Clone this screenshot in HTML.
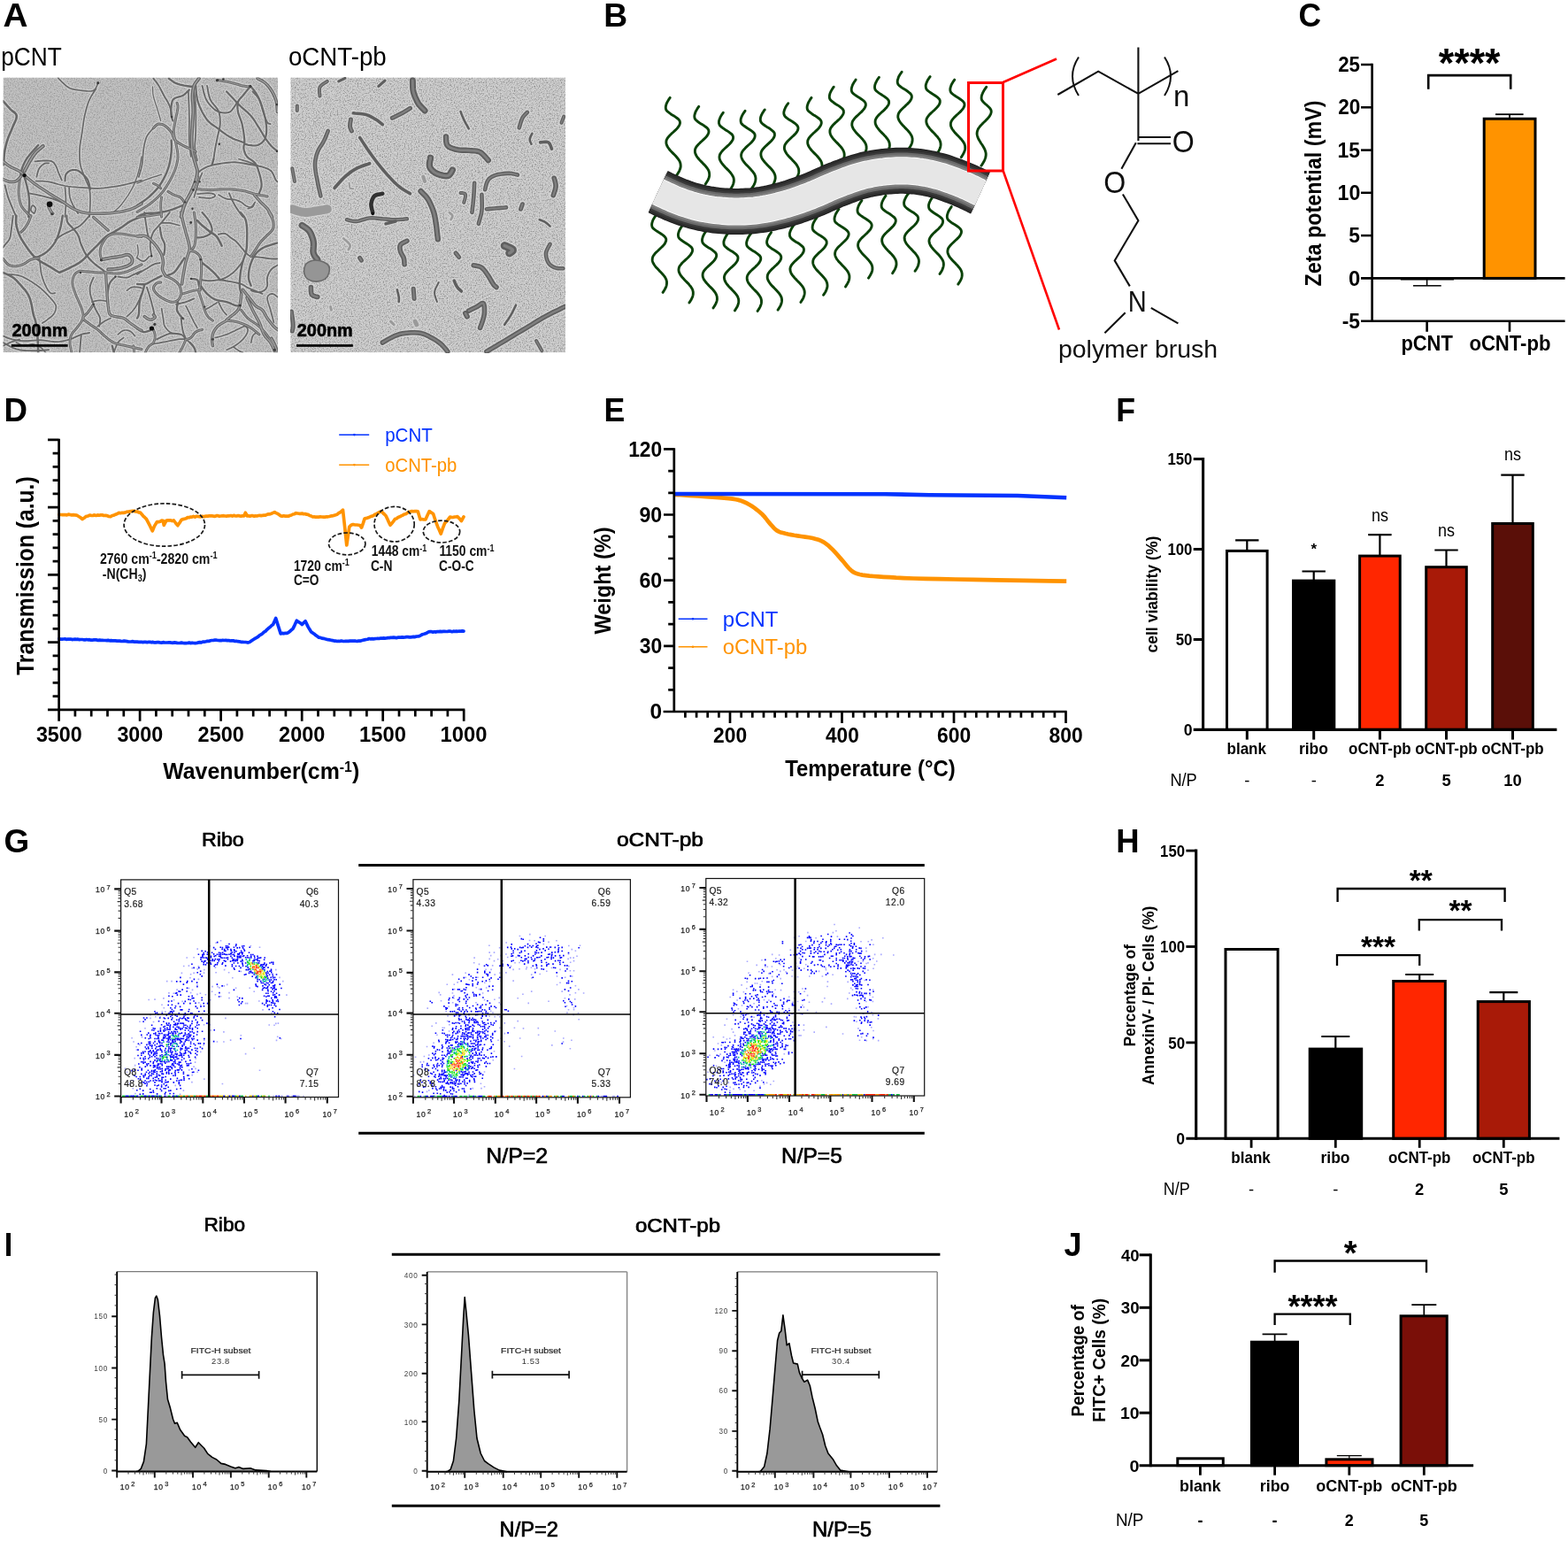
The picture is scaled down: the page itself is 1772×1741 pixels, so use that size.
<!DOCTYPE html>
<html lang="en">
<head>
<meta charset="utf-8">
<title>Figure: oCNT-pb characterization</title>
<style>
html,body{margin:0;padding:0;background:#fff;}
body{width:1772px;height:1741px;overflow:hidden;}
svg{display:block;font-family:"Liberation Sans",sans-serif;}
</style>
</head>
<body>
<svg width="1772" height="1741" viewBox="0 0 1772 1741">
<defs>
<clipPath id="cA1"><rect x="3.5" y="87.5" width="310.5" height="310.7"/></clipPath>
<clipPath id="cA2"><rect x="328.3" y="87.5" width="310.7" height="310.7"/></clipPath>
<filter id="nzw" x="0" y="0" width="100%" height="100%" color-interpolation-filters="sRGB"><feTurbulence type="fractalNoise" baseFrequency="0.75" numOctaves="2" seed="3"/><feColorMatrix type="matrix" values="0 0 0 0 1  0 0 0 0 1  0 0 0 0 1  0.7 0 0 0 -0.35"/><feGaussianBlur stdDeviation="0.7"/></filter>
<filter id="nzb" x="0" y="0" width="100%" height="100%" color-interpolation-filters="sRGB"><feTurbulence type="fractalNoise" baseFrequency="0.75" numOctaves="2" seed="3"/><feColorMatrix type="matrix" values="0 0 0 0 0  0 0 0 0 0  0 0 0 0 0  -0.6 0 0 0 0.3"/><feGaussianBlur stdDeviation="0.7"/></filter>
<filter id="nzw2" x="0" y="0" width="100%" height="100%" color-interpolation-filters="sRGB"><feTurbulence type="fractalNoise" baseFrequency="0.75" numOctaves="2" seed="9"/><feColorMatrix type="matrix" values="0 0 0 0 1  0 0 0 0 1  0 0 0 0 1  1.1 0 0 0 -0.55"/><feGaussianBlur stdDeviation="0.7"/></filter>
<filter id="nzb2" x="0" y="0" width="100%" height="100%" color-interpolation-filters="sRGB"><feTurbulence type="fractalNoise" baseFrequency="0.75" numOctaves="2" seed="9"/><feColorMatrix type="matrix" values="0 0 0 0 0  0 0 0 0 0  0 0 0 0 0  -0.9 0 0 0 0.45"/><feGaussianBlur stdDeviation="0.7"/></filter>
<filter id="bl" x="-5%" y="-5%" width="110%" height="110%"><feGaussianBlur stdDeviation="0.65"/></filter>
<filter id="bl2" x="-5%" y="-5%" width="110%" height="110%"><feGaussianBlur stdDeviation="0.7"/></filter>
</defs>
<rect width="1772" height="1741" fill="#fff"/>
<text x="3.5" y="29.9" font-size="37.8" font-weight="bold" textLength="28" lengthAdjust="spacingAndGlyphs">A</text>
<text x="1.2" y="74.3" font-size="29.6" textLength="68.6" lengthAdjust="spacingAndGlyphs">pCNT</text>
<text x="325.9" y="74.3" font-size="29.6" textLength="110.9" lengthAdjust="spacingAndGlyphs">oCNT-pb</text>
<g clip-path="url(#cA1)">
<rect x="3.5" y="87.5" width="310.5" height="310.7" fill="#bbb"/>
<rect x="3.5" y="87.5" width="310.5" height="310.7" fill="#fff" filter="url(#nzw)"/>
<rect x="3.5" y="87.5" width="310.5" height="310.7" fill="#000" filter="url(#nzb)"/>
<g fill="none" stroke-linecap="round" stroke-linejoin="round" filter="url(#bl)">
<g stroke="#e2e2e2" opacity="0.6">
<path d="M65.7,88.2L66.5,89L67.6,90.2L68.9,91.5L70.3,92.9L71.7,94.2L73,95.4L74.4,96.6L75.8,97.8L77.3,98.8L79,99.7L81,100.4L83.1,100.9L85.4,101.3L87.7,101.7L90.1,102L92.7,102.3L95.5,102.6L98.3,102.9L100.9,103L102.9,102.9L104.4,102.7L105.4,102.5L106.2,102L106.8,101.4L107.5,100.6L108.3,99.4L109.1,97.9L109.8,96.2L110.3,94.7L110.8,93.7" stroke-width="3.9"/>
<path d="M108.5,100.6L107.4,102.1L106,104.2L104.3,106.8L102.6,109.6L101.1,112.6L99.8,115.8L98.6,119.5L97.5,123.3L96.5,127.2L95.6,131L94.9,134.6L94.3,138.3L93.8,142L93.3,145.7L92.8,149.3L92.2,153L91.6,156.8L90.9,160.5L90.4,164.2L90.1,167.7L89.9,171.2L89.9,174.7L90,178.1L90.2,181.3L90.5,184.3L91,186.9L91.6,189.2L92.3,191.3L93,193.3L93.8,195.3L94.5,197.2L95.2,199.1L95.9,200.9L96.7,202.7L97.4,204.5L98.2,206.2L99,207.9L99.8,209.7L100.5,211.5L101.1,213.7L101.5,216.1L101.8,218.7L101.9,221.5L102,224.4L102,227.5L101.9,231L101.7,235.1L101.5,239.1L101.3,242.6L101.1,245" stroke-width="3.9"/>
<path d="M3.7,114.4L4.8,115.7L6.5,117.5L8.3,119.6L10.2,121.7L11.9,123.6L13.6,125.1L15.4,126.4L17,127.6L18.2,129.1L18.8,131L18.6,133.3L17.7,136L16.4,138.9L15,141.9L13.8,144.7L12.7,147.5L11.5,150.3L10.3,153L9.2,155.8L8.3,158.5L7.4,161.3L6.7,164L6.1,166.8L5.5,169.6L5.1,172.3L4.7,175.3L4.5,178.5L4.3,181.6L4.2,184.2L4.1,186.1" stroke-width="4.8"/>
<path d="M48.7,165L47.6,165.9L45.9,167.3L44,168.9L42.1,170.6L40.4,172.3L39,174L37.7,175.7L36.5,177.5L35.3,179.5L34,181.5L32.6,183.9L31.1,186.7L29.7,189.4L28.4,191.8L27.6,193.5" stroke-width="6.5"/>
<path d="M43.2,164L42,165.3L40.4,167.1L38.4,169.3L36.5,171.4L34.9,173.2L33.6,174.8L32.5,176.2L31.4,177.5L30.4,179L29.4,180.6L28.4,182.4L27.4,184.3L26.5,186.3L25.6,188.4L24.8,190.7L24.1,193.4L23.4,196.6L22.9,199.8L22.4,202.6L22.1,204.5" stroke-width="4.6"/>
<path d="M3.7,182.4L4.6,183.2L5.9,184.2L7.5,185.5L9.2,186.7L11,187.9L13.1,189.1L15.4,190.2L17.9,191.3L20.1,192.4L22.1,193.5L23.4,194.4L24.4,195.1L25.2,195.9L26.2,196.9L27.6,198.1L29.3,199.6L31.3,201.3L33.5,203.2L36,205.2L38.6,207.2L41.6,209.3L44.8,211.6L48.3,213.8L51.8,216.1L55.1,218.3L58.5,220.4L62,222.5L65.5,224.6L68.7,226.6L71.7,228.4L74.2,230.1L76.4,231.7L78.4,233.1L80.5,234.5L82.7,235.7L85.1,236.9L87.6,237.9L90.2,238.9L92.9,239.7L95.6,240.3L98.4,240.8L101.2,241.1L104.1,241.2L107.1,241.2L110.3,241.2L113.7,241.2L117.4,241.1L121.1,241L124.9,240.7L128.7,240.3L132.4,239.8L136.3,239.2L140.1,238.5L143.7,237.6L147.1,236.7L150.2,235.4L153.3,234L156,232.5L158.3,231.1L160,230.2" stroke-width="5.8"/>
<path d="M3.7,202.6L4.7,203.1L6.1,203.7L7.7,204.4L9.4,205L11,205.4L12.5,205.5L14.1,205.5L15.6,205.4L17,205L18.4,204.5L19.7,203.6L21,202.3L22.2,201L23.2,199.8L23.9,199" stroke-width="5.8"/>
<path d="M39.5,182.4L40.9,182.3L42.9,182L45.2,181.8L47.5,181.6L49.6,181.5L51.6,181.5L53.6,181.5L55.5,181.6L57.3,181.9L58.8,182.4L60.1,183.2L61.1,184.2L61.9,185.4L62.7,186.6L63.4,187.9L64.1,189.3L64.6,190.7L65.1,192.2L65.6,193.7L66.2,195.3L66.9,197L67.8,198.9L68.6,200.8L69.3,202.4L69.9,203.6" stroke-width="4"/>
<path d="M41.4,199.9L41.7,198.6L42.1,196.7L42.7,194.6L43.3,192.4L44.1,190.7L45,189.3L46.1,188L47.3,186.9L48.5,185.9L49.6,185.2L50.8,184.7L52.1,184.4L53.3,184.3L54.4,184.3L55.1,184.3" stroke-width="4"/>
<path d="M73.5,204.5L73.6,203.4L73.6,201.9L73.7,200.2L74,198.5L74.4,197.1L75.2,196L76.2,194.9L77.4,193.9L78.7,193.1L80,192.5L81.3,192.2L82.8,192L84.4,192L85.9,192.2L87.3,192.5L88.7,193.1L90,194L91.3,194.9L92.5,196L93.8,197.1L95,198.2L96.2,199.4L97.3,200.6L98.4,202L99.3,203.6L100,205.5L100.7,207.8L101.2,210.2L101.7,212.2L102,213.7" stroke-width="4.4"/>
<path d="M40.4,204.5L42.4,204.6L45.1,204.6L48.3,204.7L51.7,205L55.1,205.4L58.6,206.1L62.2,207.1L66,208.2L69.8,209.2L73.5,210L77.2,210.6L80.9,211L84.6,211.3L88.2,211.6L91.9,211.8L95.6,212.1L99.3,212.4L102.9,212.6L106.6,212.8L110.3,212.8L114,212.6L117.6,212.3L121.3,211.9L125,211.4L128.7,210.9L132.4,210.3L136.3,209.6L140.1,208.8L143.7,208L147.1,207.2L150.2,206.4L153.3,205.6L156,204.8L158.3,204.1L160,203.6" stroke-width="3.9"/>
<path d="M160,176.9L159.6,179.4L159,182.9L158.2,187.1L157.3,191.3L156.2,195.3L155.1,199L153.7,202.7L152.3,206.5L150.7,210.1L148.9,213.7L146.9,217.2L144.7,220.8L142.3,224.2L140,227.4L137.9,230.2L135.8,232.7L133.6,234.9L131.6,236.8L129.9,238.3L128.7,239.4" stroke-width="3.6"/>
<path d="M5.5,209.1L6,211L6.6,213.6L7.4,216.7L8.3,219.9L9.2,222.9L10.2,225.7L11.4,228.6L12.5,231.5L13.7,234.2L14.7,236.7L15.6,238.8L16.5,240.8L17.3,242.5L17.9,244L18.4,245" stroke-width="4.1"/>
<path d="M22.1,204.5L21.9,206.4L21.6,209L21.3,212.1L21.1,215.3L21.1,218.3L21.4,221.1L21.8,224L22.3,226.9L23,229.6L23.9,232.1L25.1,234.3L26.7,236.3L28.4,238.2L29.9,239.8L31.2,241.2L32.3,242.4L33.2,243.3L33.9,244L34.5,244.6L34.9,245" stroke-width="5.2"/>
<path d="M27.6,199.9L28.1,201.8L28.9,204.4L29.7,207.5L30.6,210.7L31.2,213.7L31.8,216.4L32.2,219L32.6,221.7L32.9,224.5L33.1,227.5L33.1,231L32.9,235.1L32.6,239.1L32.3,242.6L32.2,245" stroke-width="4.6"/>
<path d="M32.2,218.3L34,218.6L36.7,219.1L39.8,219.7L43,220.4L46,221L48.7,221.7L51.5,222.3L54.2,223.1L57,223.8L59.7,224.7L62.7,225.8L65.9,227L69,228.3L71.7,229.4L73.5,230.2" stroke-width="4"/>
<path d="M55.1,233.9L55.5,234.7L56.1,235.9L56.7,237.2L57.4,238.5L57.9,239.4L58.4,240L58.8,240.5L59.2,240.8L59.5,241.1L59.7,241.2" stroke-width="5.8"/>
<path d="M73.5,211.8L73.7,213.9L73.9,216.9L74.2,220.3L74.4,224L74.4,227.5L74.4,231.1L74.2,235.2L73.9,239.2L73.7,242.6L73.5,245" stroke-width="3.9"/>
<path d="M78.1,211.8L78.2,213.4L78.3,215.5L78.4,218.1L78.7,220.6L79,222.9L79.6,224.8L80.2,226.7L81,228.5L81.8,230.2L82.7,232.1L83.8,234L85.1,236.2L86.3,238.2L87.5,240L88.2,241.2" stroke-width="3.9"/>
<path d="M38.6,241.2L38.9,240.5L39.5,239.4L40,238.1L40.4,236.8L40.4,235.7L40,234.7L39.3,233.7L38.4,232.8L37.5,232.2L36.8,232.1L36.2,232.6L35.6,233.7L35.2,235.1L34.9,236.4L34.9,237.6L35.4,238.5L36.2,239.4L37.1,240.1L38,240.8L38.6,241.2" stroke-width="3.9"/>
<path d="M173.4,88.7L174.1,89.6L175.1,90.9L176.4,92.4L177.6,94.1L178.9,96L180.1,98.1L181.4,100.5L182.7,103L184,105.5L185.3,108L186.7,110.4L188.1,112.7L189.5,115.1L190.7,117.5L191.8,119.9L192.6,122.6L193.3,125.6L193.8,128.5L194.2,131L194.5,132.8" stroke-width="4.1"/>
<path d="M172.5,97.9L172.5,99.3L172.6,101.3L172.7,103.7L172.9,106.3L173.4,108.9L174.1,111.6L175,114.6L176,117.7L177.1,120.7L178,123.6L178.8,126.5L179.7,129.5L180.5,132.3L181.2,134.8L181.7,136.5" stroke-width="3.5"/>
<path d="M190.8,88.7L191.9,89.5L193.4,90.6L195.2,91.9L197.2,93.2L199.1,94.2L201.2,94.9L203.5,95.6L205.9,96.1L208.1,96.6L210.1,96.9L212,97.3L213.7,97.5L215.3,97.7L216.6,97.8L217.5,97.9" stroke-width="4.6"/>
<path d="M224.9,88.7L224,89.7L222.9,91.2L221.5,93L220.3,94.9L219.3,96.9L218.7,99.1L218.2,101.3L217.9,103.7L217.6,106.3L217.5,108.9L217.5,111.6L217.8,114.5L218.1,117.5L218.3,120.5L218.4,123.6L218.4,126.8L218.2,130L218,133.3L217.7,136.7L217.5,140.1L217.3,143.8L217,147.6L216.8,151.4L216.6,155.1L216.6,158.5L216.6,161.6L216.7,164.4L216.8,167L217.1,169.6L217.5,172.3L218.1,175.1L218.9,178.1L219.7,180.9L220.5,183.6L221.2,186.1L221.8,188.2L222.3,189.9L222.8,191.5L223,193.2L223,195.3L222.7,197.8L222,200.6L221.2,203.5L220.3,206.4L219.3,209.1L218.4,211.6L217.3,214L216.1,216.4L215,218.7L213.8,221L212.7,223.3L211.5,225.4L210.4,227.6L209.3,229.7L208.3,232.1L207.4,234.7L206.5,237.7L205.8,240.7L205.1,243.2L204.6,245" stroke-width="6.3"/>
<path d="M219.3,103.4L219.6,105.7L220,109L220.5,112.9L220.9,117.2L221.2,121.8L221.3,126.8L221.4,132.6L221.3,138.5L221.3,144.3L221.2,149.3L221,153.7L220.7,157.6L220.4,161.1L220.2,164.5L220.3,167.7L220.6,171L221.2,174.2L221.9,177.2L222.6,179.7L223,181.5" stroke-width="3.9"/>
<path d="M212.9,103.4L213,107.1L213.2,112.4L213.5,118.6L213.7,125L213.8,131L213.9,136.6L213.8,142.4L213.7,148.2L213.7,153.6L213.8,158.5L214.1,163.1L214.5,167.4L215,171.3L215.4,174.6L215.7,176.9" stroke-width="3.9"/>
<path d="M213.8,101.5L212.9,102.5L211.5,103.8L210,105.3L208.2,106.8L206.5,108L204.5,108.8L202.3,109.4L200,110L198,110.7L196.4,111.7L195.3,113L194.6,114.5L194.2,116.2L193.9,118L193.6,119.9L193.4,122L193.3,124.4L193.3,126.8L193.4,129.1L193.6,131L193.9,132.5L194.3,133.8L194.8,134.9L195.2,135.8L195.4,136.5" stroke-width="4.4"/>
<path d="M200,116.2L200.2,116.9L200.5,117.6L200.8,118.6L201,120L201,121.8L200.6,124.1L200.1,127.1L199.4,130.3L198.7,133.5L198.2,136.5L197.7,139.1L197.2,141.7L196.7,144.2L196.4,146.7L196.4,149.3L196.6,152L197.2,154.8L197.9,157.6L198.6,160.4L199.1,163.1L199.6,165.9L200.1,168.6L200.6,171.4L200.9,174.2L201,176.9L200.8,179.7L200.4,182.4L199.8,185.2L199.1,187.9L198.2,190.7L197.2,193.5L196,196.2L194.7,199L193.3,201.7L191.8,204.5L190.2,207.3L188.5,210.1L186.6,212.9L184.7,215.6L182.6,218.3L180.3,220.8L177.8,223.3L175.2,225.7L172.5,228L169.7,230.2L166.6,232.4L163.3,234.5L159.9,236.5L157,238.2L155,239.4" stroke-width="5.1"/>
<path d="M155,207.2L156.4,206.6L158.4,205.8L160.7,204.8L163.3,203.7L166,202.6L169.2,201.5L173,200.2L176.9,199L180.2,197.9L182.6,197.1" stroke-width="3.6"/>
<path d="M155,232.1L156.7,230.9L159.2,229.3L162.1,227.3L165.1,225.1L167.9,222.9L170.5,220.5L173.2,217.9L175.9,215.1L178.4,212.2L180.7,209.1L182.9,205.7L184.9,202.1L186.8,198.3L188.5,194.4L189.9,190.7L191.1,186.9L192,183.1L192.7,179.3L193.2,175.7L193.6,172.3L193.8,169L193.9,165.8L193.8,162.8L193.7,160.3L193.6,158.5" stroke-width="4.6"/>
<path d="M173.4,144.7L174.1,144L175.1,142.9L176.3,141.7L177.6,140.7L178.9,140.1L180.2,140L181.7,140.2L183.2,140.5L184.8,141.2L186.2,142L187.8,143.1L189.4,144.5L190.9,146.1L192.4,147.7L193.6,149.3L194.5,151L195.2,152.7L195.7,154.5L196.4,156.1L197.3,157.6L198.5,158.9L199.9,160.1L201.4,161.1L203,162.1L204.6,163.1L206.4,164.1L208.3,165.1L210.2,166L212.1,166.9L213.8,167.7L215.5,168.6L217.2,169.4L218.9,170.2L220.2,170.9L221.2,171.4" stroke-width="5.3"/>
<path d="M173.4,144.7L172.3,145.9L170.8,147.5L169.1,149.5L167.4,151.7L166,153.9L165,156.3L164.2,158.9L163.5,161.7L162.9,164.6L162.4,167.7L161.9,171.2L161.6,175L161.3,178.9L161,182.6L160.5,186.1L159.8,189.4L159,192.6L158.1,195.6L157.4,198.1L156.8,199.9" stroke-width="3.9"/>
<path d="M221.2,96.9L221.4,99.1L221.6,102.2L221.9,105.7L222.4,109.3L223,112.6L223.9,115.5L224.9,118.4L226,121.1L227.2,123.8L228.5,126.4L229.8,128.8L231.2,131.1L232.6,133.3L234.1,135.4L235.9,137.4L237.9,139.3L240.2,141L242.6,142.7L244.9,144.2L246.9,145.7L248.6,146.9L250,148.1L251.4,149.1L252.7,150.1L254.3,151.2L255.9,152.3L257.6,153.4L259.4,154.6L261.4,155.6L263.5,156.7L266,157.7L269,158.8L271.9,159.8L274.5,160.7L276.3,161.3" stroke-width="4.4"/>
<path d="M228.5,96.9L229.1,99.1L229.8,102.3L230.7,105.9L231.8,109.5L233.1,112.6L234.7,115.2L236.5,117.7L238.4,119.9L240.4,121.9L242.3,123.6L244.2,124.9L246,125.8L247.9,126.5L249.7,127L251.5,127.3L253.3,127.5L255,127.5L256.7,127.3L258.3,127L259.8,126.4L261.1,125.4L262.3,124.1L263.4,122.6L264.4,121.2L265.3,119.9L266.1,118.8L266.7,117.7L267.3,116.8L267.7,115.9L268.1,115.3" stroke-width="4.1"/>
<path d="M234,96.9L234.5,99.1L235,102.2L235.7,105.8L236.6,109.4L237.7,112.6L239.3,115.3L241.4,117.8L243.5,120.3L245.5,122.8L246.9,125.4L247.8,128.3L248.4,131.2L248.7,134.2L248.8,137.2L248.8,140.1L248.5,143L248,145.7L247.3,148.5L246.6,151.2L246,153.9L245.4,156.7L244.8,159.5L244.3,162.3L243.7,165.1L243.2,167.7L242.8,170.4L242.3,173.2L242,175.8L241.6,178.1L241.4,179.7" stroke-width="4.1"/>
<path d="M246.9,90.5L248.8,90.9L251.4,91.4L254.5,92L257.7,92.6L260.7,93.3L263.5,94L266.5,94.8L269.4,95.6L272.1,96.4L274.5,96.9L276.6,97.3L278.6,97.6L280.3,97.7L281.7,97.8L282.8,97.9" stroke-width="5.3"/>
<path d="M282.8,97.9L281.6,99.3L279.9,101.3L278,103.6L276.1,106L274.5,108L273.1,109.6L271.8,110.9L270.6,112.3L269.7,113.7L269,115.3L268.5,117.3L268.4,119.3L268.4,121.6L268.6,123.9L269,126.4L269.6,128.9L270.6,131.5L271.6,134.2L272.7,137.1L273.6,140.1L274.3,143.7L275,147.6L275.6,151.6L276,155.4L276.3,158.5L276.3,161L276,162.9L275.6,164.5L275.4,166L275.4,167.7L275.8,169.6L276.3,171.5L277,173.4L277.9,175.2L279.1,176.9L280.6,178.4L282.6,179.8L284.7,181.1L286.6,182.6L288.3,184.3L289.5,186.2L290.5,188.3L291.4,190.5L292.1,192.9L292.9,195.3L293.6,197.9L294.4,200.8L295,203.8L295.5,206.6L295.6,209.1L295.4,211.4L294.8,213.5L294,215.5L293.3,217.1L292.9,218.3" stroke-width="4.4"/>
<path d="M256.1,103.4L258,105.4L260.6,108.3L263.7,111.6L266.9,115L269.9,118.1L272.7,120.8L275.6,123.3L278.5,125.8L281.2,128.4L283.7,131L285.8,133.7L287.8,136.5L289.5,139.3L291.2,142.1L292.9,144.7L294.5,147.3L296,149.8L297.4,152.3L298.8,154.6L300.2,156.7L301.6,158.6L302.9,160.4L304.1,162L305.4,163.5L306.7,165L308,166.3L309.5,167.6L311,168.8L312.2,169.8L313.1,170.5" stroke-width="4.4"/>
<path d="M283.7,97.9L284.7,99.2L286.2,101L287.9,103.2L289.6,105.6L291,108L292.3,110.5L293.5,113.2L294.6,116L295.6,118.9L296.5,121.8L297.4,124.7L298.3,127.7L299,130.7L299.7,133.6L300.2,136.5L300.6,139.2L301,141.9L301.2,144.5L301.2,147L301.1,149.3L300.9,151.5L300.5,153.5L300,155.3L299.3,157L298.4,158.5L297.2,160L295.9,161.3L294.3,162.4L292.7,163.4L291,164L289.2,164.4L287.3,164.5L285.3,164.4L283.5,164.2L281.8,164L280.4,163.8L279.1,163.4L278,162.9L277,162.5L276.3,162.2" stroke-width="4.4"/>
<path d="M291,88.7L292.3,89.4L294.1,90.3L296.2,91.5L298.4,92.8L300.2,94.2L301.9,95.8L303.4,97.5L304.9,99.4L306.3,101.4L307.6,103.4L308.7,105.5L309.8,107.6L310.7,109.8L311.5,112.1L312.2,114.4L312.7,116.9L313,119.7L313.2,122.4L313.4,124.7L313.5,126.4" stroke-width="5.8"/>
<path d="M296.5,90.5L297.9,92L299.7,94.1L301.9,96.6L304,99.2L305.7,101.5L307.2,103.9L308.5,106.5L309.6,109L310.6,111.1L311.2,112.6" stroke-width="4.6"/>
<path d="M285.5,103.4L286.5,104.5L288,106L289.7,107.9L291.4,110.1L292.9,112.6L294.1,115.5L295.3,119L296.4,122.7L297.4,126.2L298.4,129.1L299.2,131.5L300,133.7L300.7,135.5L301.4,137.1L302.1,138.3L302.9,139.2L303.7,139.7L304.5,139.9L305.2,140L305.7,140.1" stroke-width="4.1"/>
<path d="M223,195.3L224.3,194.4L226.2,193.1L228.3,191.5L230.7,190.1L233.1,188.9L235.6,187.9L238.2,187.1L240.9,186.4L243.8,185.8L246.9,185.2L250.3,184.6L253.9,184.1L257.7,183.7L261.5,183.4L265.3,183.3L269,183.6L272.9,184.1L276.7,184.8L280.3,185.5L283.7,186.1L286.8,186.6L289.7,187.1L292.5,187.6L295.1,188.2L297.5,188.9L299.7,189.6L301.7,190.3L303.5,191.2L305.2,192.2L306.7,193.5L307.9,195.1L308.9,197.1L309.8,199.2L310.6,201.1L311.2,202.6L311.9,203.7L312.4,204.3L312.9,204.8L313.3,205.1L313.5,205.4" stroke-width="4.1"/>
<path d="M269.9,179.7L271.1,180L272.8,180.5L274.8,181.1L276.9,181.7L279.1,182.4L281.5,183.3L284.2,184.4L287,185.4L289.4,186.4L291,187" stroke-width="3.9"/>
<path d="M223,213.7L225,213.8L227.7,214.1L230.9,214.3L234.3,214.5L237.7,214.6L241.2,214.5L244.8,214.2L248.6,213.9L252.4,213.7L256.1,213.7L259.9,213.8L263.7,214.1L267.5,214.5L271.1,215L274.5,215.5L277.5,216.1L280.3,216.9L283,217.7L285.6,218.5L288.3,219.2L291.2,219.8L294.4,220.5L297.5,221.1L300.2,221.6L302.1,221.9" stroke-width="5.3"/>
<path d="M287.4,220.1L288.4,221.2L289.8,222.9L291.4,224.7L293.1,226.7L294.7,228.4L296.2,229.9L297.7,231.3L299.2,232.7L300.7,234.2L302.1,235.7L303.4,237.6L304.7,239.8L305.9,241.9L306.9,243.7L307.6,245" stroke-width="5.8"/>
<path d="M223,219.2L225.2,219L228.3,218.7L231.8,218.4L235.1,218.2L237.7,218.3L239.6,218.6L241.1,219.1L242.3,219.8L243,220.4L243.2,221L243,221.6L242.2,222.3L241,222.9L239.5,223.5L237.7,223.8L235.4,223.8L232.5,223.6L229.4,223.3L226.7,223.1L224.9,222.9" stroke-width="3.9"/>
<path d="M246.9,220.1L248.2,220.8L249.9,221.8L252,222.9L254.1,223.9L256.1,224.7L258,225.1L259.9,225.2L261.7,225.3L263.6,225.4L265.3,225.6L266.9,226L268.5,226.6L270,227.1L271.4,227.7L272.6,228.4L273.7,229.1L274.6,229.9L275.4,230.7L276.3,231.4L277.2,232.1L278.4,232.7L279.8,233.3L281.1,233.8L282.5,234L283.7,233.9L284.8,233.2L285.9,232L286.9,230.5L287.7,229.3L288.3,228.4" stroke-width="3.9"/>
<path d="M258.9,218.3L259.5,219.7L260.3,221.6L261.3,223.9L262.4,226.3L263.5,228.4L264.5,230.3L265.6,232.2L266.7,234.1L267.9,235.9L269,237.6L270.2,239.3L271.4,241L272.7,242.7L273.7,244L274.5,245" stroke-width="4.1"/>
<path d="M223.9,199.9L223.2,201.8L222.3,204.5L221.1,207.6L219.8,210.8L218.4,213.7L216.9,216.4L215.1,219L213.3,221.6L211.6,224.2L210.1,226.5L209.1,228.9L208.2,231.3L207.5,233.5L206.9,235.3L206.5,236.7" stroke-width="5.1"/>
<path d="M173.4,207.2L174.2,207.6L175.3,208.1L176.6,208.8L177.9,209.4L178.9,210L179.7,210.6L180.3,211.2L180.9,211.9L181.3,212.4L181.7,212.8" stroke-width="5.1"/>
<path d="M189.9,216.4L190.8,216.9L192,217.7L193.4,218.5L194.9,219.4L196.4,220.1L197.8,220.7L199.4,221.1L200.9,221.6L202.4,222.2L203.7,222.9L204.9,223.9L206,225.1L206.9,226.4L207.7,227.6L208.3,228.4" stroke-width="5.3"/>
<path d="M182.6,222.9L182.4,224.1L182.2,225.7L181.9,227.7L181.7,229.8L181.7,232.1L181.7,234.6L181.9,237.6L182.2,240.6L182.4,243.2L182.6,245" stroke-width="5.1"/>
<path d="M155,245L156.2,244.5L157.8,243.6L159.7,242.7L161.9,241.9L164.2,241.2L166.7,240.9L169.4,240.8L172.2,240.7L175.1,240.6L178,240.3L180.7,239.9L183.4,239.5L186.2,239L188.9,238.3L191.8,237.6L194.9,236.6L198.3,235.3L201.6,234L204.5,232.9L206.5,232.1" stroke-width="4.6"/>
<path d="M241.4,179.7L239.6,186.1" stroke-width="4.6"/>
<path d="M228.5,195.3L228.1,196.4L227.4,197.9L226.6,199.7L225.8,201.9L224.9,204.5L223.8,207.9L222.5,212.1L221.2,216.4L220.1,220.2L219.3,222.9" stroke-width="3.9"/>
<path d="M280,235.7L280.8,235.5L282,235.2L283.3,234.9L284.6,234.4L285.5,233.9L286.1,233.2L286.6,232.4L286.9,231.5L287.2,230.8L287.4,230.2" stroke-width="3.6"/>
<path d="M18.4,243.7L18.3,245L18.2,246.9L18.1,249.1L18.1,251.5L18.4,253.8L18.8,256.1L19.5,258.5L20.2,260.9L21.1,263.4L22.1,265.7L23.1,268L24.3,270.2L25.7,272.4L27,274.6L28.5,276.8L30,279L31.7,281.4L33.4,283.7L35.1,285.9L36.8,287.8L38.2,289.4L39.6,290.7L41,291.9L42.4,293L44.1,294.2L46.1,295.5L48.2,296.8L50.5,298L52.8,299.3L55.1,300.7L57.7,302.2L60.4,303.9L63.1,305.6L65.5,307L67.1,308" stroke-width="4.8"/>
<path d="M14.7,243.7L14.5,245.7L14.1,248.7L13.7,252.1L13.3,255.4L12.9,258.4L12.6,260.9L12.3,263.2L12,265.4L11.6,267.5L11,269.4L10.1,271.2L8.9,272.8L7.6,274.3L6.4,275.6L5.5,276.8L4.9,277.7L4.4,278.3L4.1,278.8L3.9,279.2L3.7,279.5" stroke-width="4.1"/>
<path d="M34.9,243.7L34.6,244.7L34.1,246.1L33.5,247.7L32.9,249.4L32.2,251L31.4,252.6L30.4,254.1L29.4,255.7L28.5,257.1L27.6,258.4L26.7,259.4L25.9,260.3L25.1,261L24.4,261.6L23.9,262.1" stroke-width="5.3"/>
<path d="M70.8,243.7L70.4,245.7L70,248.5L69.4,251.8L68.8,255.2L68,258.4L67.1,261.4L66.2,264.4L65.1,267.5L63.9,270.4L62.5,273.1L60.9,275.6L59.1,278L57.2,280.3L55.2,282.3L53.3,284.1L51.4,285.6L49.5,286.9L47.5,288L45.7,288.9L44.1,289.6L42.7,290.1L41.4,290.4L40.2,290.5L39.3,290.5L38.6,290.6" stroke-width="4.6"/>
<path d="M3.7,292.4L4.4,293.3L5.4,294.7L6.6,296.3L7.9,297.7L9.2,298.8L10.5,299.5L11.9,300.1L13.4,300.4L14.9,300.6L16.5,300.7L18.3,300.6L20.1,300.4L22,300L23.9,299.5L25.7,298.8L27.6,297.9L29.4,296.7L31.2,295.4L33.1,294.2L34.9,293.3L36.9,292.7L39,292.2L41.1,291.9L42.9,291.7L44.1,291.5" stroke-width="5.3"/>
<path d="M67.1,308L68.7,307.3L71,306.3L73.6,305.1L76.4,303.8L79,302.5L81.6,301.2L84.3,299.8L87,298.3L89.6,296.8L91.9,295.1L94,293.4L95.9,291.6L97.6,289.7L99.3,287.8L101.1,286L102.9,284.1L104.8,282.3L106.6,280.4L108.5,278.6L110.3,276.8L112.1,274.9L114,272.9L115.8,271L117.6,269.2L119.5,267.6L121.3,266.2L123.2,265.1L125,264.1L126.8,263.1L128.7,262.1L130.5,261L132.4,259.9L134.2,258.8L136,257.7L137.9,256.5L139.6,255.3L141.4,254L143.1,252.7L145,251.4L147.1,250.1L149.6,248.9L152.6,247.6L155.6,246.4L158.2,245.3L160,244.6" stroke-width="4.8"/>
<path d="M75.4,243.7L75.4,244.7L75.4,246.1L75.5,247.7L75.7,249.4L76.3,251L77.2,252.5L78.5,254L79.9,255.4L81.4,256.9L82.7,258.4L83.9,259.8L85.1,261.1L86.2,262.5L87.3,264L88.2,265.7L89.1,267.7L89.8,269.9L90.4,272.2L91.1,274.5L91.9,276.8L92.9,279L93.9,281.3L94.9,283.5L96.1,285.7L97.4,287.8L98.8,289.8L100.4,291.6L102,293.4L103.8,295.2L105.7,297L108,299L110.8,301.1L113.6,303.2L116,304.9L117.6,306.2" stroke-width="4.4"/>
<path d="M101.1,243.7L99.9,245.1L98.1,247.2L96,249.6L93.9,251.9L91.9,253.8L90.1,255.2L88.4,256.3L86.7,257.2L84.8,258.2L82.7,259.3L80.3,260.5L77.6,261.9L74.8,263.2L72.1,264.5L69.9,265.7L67.9,267L66.2,268.3L64.6,269.5L63.4,270.5L62.5,271.2" stroke-width="4.1"/>
<path d="M105.7,245.5L107,246.7L108.8,248.3L110.9,250.2L113,252.1L114.9,253.8L116.6,255.3L118.3,256.8L119.9,258.2L121.3,259.4L122.2,260.2" stroke-width="5.6"/>
<path d="M160,267.6L158.3,267.3L155.8,267L152.9,266.6L149.9,266.1L147.1,265.7L144.3,265.3L141.5,264.8L138.6,264.3L135.9,264L133.3,263.9L130.8,264L128.5,264.3L126.3,264.8L124.2,265.6L122.2,266.7L120.4,268.2L118.8,270.2L117.3,272.4L115.9,274.7L114.9,276.8L114.1,278.7L113.6,280.6L113.3,282.5L113.1,284.3L113.1,286L113.2,287.7L113.6,289.4L114.1,291L114.6,292.3L114.9,293.3" stroke-width="5.1"/>
<path d="M114.9,293.3L116.1,293.1L117.8,292.7L119.8,292.3L121.9,291.9L124.1,291.5L126.4,291.1L128.8,290.7L131.4,290.4L133.8,290L136,289.6L138,289.2L139.8,288.6L141.4,288.1L142.9,287.8L144.3,287.8L145.5,288.1L146.6,288.8L147.6,289.6L148.3,290.5L148.9,291.5L149.3,292.5L149.5,293.6L149.5,294.8L149.3,296L148.9,297L148.2,297.9L147.3,298.6L146.2,299.3L144.9,300L143.4,300.7L141.7,301.3L139.7,301.9L137.6,302.5L135.4,303L133.3,303.4L130.9,303.7L128.4,304L125.9,304.1L123.8,304.2L122.2,304.3" stroke-width="6.3"/>
<path d="M90.1,306.2L91.6,306.3L93.7,306.5L96.2,306.7L98.7,306.9L101.1,307.1L103.4,307.3L105.7,307.5L108,307.7L110.2,307.9L112.1,308L113.7,308.1L115,308L116.3,308L117.7,308L119.5,308L121.9,308.2L124.6,308.5L127.6,308.8L130.5,309L133.3,308.9L135.7,308.7L138,308.3L140.3,307.8L142.7,307.1L145.2,306.2L148.2,304.9L151.6,303.2L155,301.5L158,299.9L160,298.8" stroke-width="5.3"/>
<path d="M90.1,306.2L89.3,306.6L88.1,307.1L86.8,307.8L85.6,308.7L84.6,309.9L83.7,311.3L83,313L82.4,315L82,317L81.8,319L82,321.1L82.4,323.3L83.1,325.6L83.8,327.8L84.6,330.1L85.4,332.3L86.3,334.6L87.3,336.8L88.3,339L89.2,341.1L90,343.1L90.8,344.9L91.6,346.7L92.3,348.5L92.8,350.3L93.3,352.1L93.7,354L94,355.8L94,357.6L93.8,359.5L93.1,361.3L92.1,363.2L90.9,365L89.6,366.8L88.2,368.7L86.8,370.5L85.2,372.4L83.5,374.2L82,376L80.9,377.9L80.1,379.7L79.6,381.4L79.2,383.2L79.1,385.1L79,387.1L79.2,389.4L79.6,391.9L80.1,394.5L80.6,396.7L80.9,398.3" stroke-width="5.1"/>
<path d="M105.7,313.5L105.1,314.8L104.3,316.5L103.4,318.6L102.6,320.7L102,322.7L101.7,324.6L101.6,326.4L101.6,328.2L101.8,330.1L102,331.9L102.4,333.7L102.9,335.6L103.5,337.4L104.1,339.3L104.8,341.1L105.4,342.9L106.1,344.8L106.9,346.6L107.6,348.5L108.5,350.3L109.4,352.1L110.5,354L111.6,355.8L112.5,357.6L113.1,359.5L113.2,361.5L113,363.6L112.7,365.7L112.3,367.4L112.1,368.7" stroke-width="4.1"/>
<path d="M119.5,308L119.6,310L119.8,312.9L120,316.2L120.2,319.6L120.4,322.7L120.6,325.6L120.8,328.5L121,331.4L121.1,334.1L121.3,336.5L121.5,338.6L121.6,340.5L121.8,342.2L122,343.9L122.2,345.7L122.5,347.6L122.7,349.7L123,351.7L123.4,353.5L124.1,354.9L125,355.9L126.2,356.5L127.5,356.9L129,357.3L130.5,357.6L132.2,358L134.1,358.3L136,358.5L137.9,358.9L139.7,359.5L141.3,360.3L142.7,361.4L144.1,362.6L145.5,363.8L147.1,365L148.9,366.3L150.9,367.7L152.9,369.1L154.7,370.4L156.2,371.4L157.4,372.1L158.3,372.6L159,372.9L159.6,373.1L160,373.3" stroke-width="5.6"/>
<path d="M130.5,312.6L129.6,313.5L128.2,314.8L126.7,316.3L125.2,318.1L124.1,320L123.2,322.2L122.6,325L122.1,327.8L121.6,330.2L121.3,331.9" stroke-width="4.4"/>
<path d="M143.4,328.2L144.1,327.7L145.1,326.9L146.3,325.9L147.6,325.1L148.9,324.6L150.3,324.3L151.9,324.2L153.5,324.3L155,324.4L156.2,324.6L157.3,324.7L158.2,324.9L159,325.1L159.6,325.3L160,325.5" stroke-width="3.9"/>
<path d="M160,331.9L159.5,333.2L158.9,334.9L158.1,337L157.2,339.1L156.2,341.1L155.3,343L154.3,344.9L153.2,346.7L152,348.6L150.7,350.3L149.3,352L147.6,353.7L145.9,355.3L144.4,356.7L143.4,357.6" stroke-width="3.9"/>
<path d="M105.7,343.9L104.8,345.2L103.5,347L102.1,349.1L100.6,351.2L99.3,353.1L97.9,354.5L96.4,355.8L95,357L94,358.2L93.8,359.5L94.4,360.8L95.7,362.1L97.4,363.3L99.3,364.6L101.1,365.9L102.8,367.2L104.6,368.4L106.5,369.6L108.4,370.9L110.3,372.4L112.1,373.9L114,375.6L115.8,377.4L117.6,379.1L119.5,380.6L121.2,382.1L122.9,383.5L124.7,384.8L126.5,386L128.7,387.1L131.1,388L133.7,388.7L136.5,389.4L139.4,390L142.5,390.7L146,391.5L150.1,392.4L154.1,393.2L157.6,393.9L160,394.4" stroke-width="5.3"/>
<path d="M3.7,308L5.2,308.7L7.4,309.6L9.9,310.8L12.4,312.1L14.7,313.5L16.7,315.1L18.6,316.9L20.4,318.9L22.2,320.8L23.9,322.7L25.5,324.6L27.1,326.4L28.7,328.2L30,330.1L31.2,331.9L32.2,333.7L33,335.4L33.7,337.1L34.3,339L34.9,341.1L35.5,343.6L36.1,346.5L36.6,349.5L37.1,352.4L37.7,354.9L38.2,356.9L38.8,358.7L39.4,360.3L39.9,362L40.4,364.1L40.9,366.4L41.3,368.9L41.7,371.7L42,374.6L42.3,377.9L42.5,381.9L42.8,386.5L42.9,391.3L43.1,395.4L43.2,398.3" stroke-width="4.8"/>
<path d="M9.2,309.9L11.1,310L13.7,310.2L16.8,310.5L20,310.9L23,311.7L25.8,312.8L28.6,314.2L31.4,315.8L34.2,317.4L36.8,319L39.2,320.7L41.6,322.3L43.8,324L45.9,325.7L47.8,327.3L49.5,328.9L51.1,330.4L52.5,331.8L53.9,333.3L55.1,334.7L56.4,336L57.6,337.4L58.7,338.6L59.8,339.9L60.7,341.1L61.5,342.2L62.2,343.2L62.8,344.3L63.3,345.4L63.4,346.6L63.3,348.1L62.9,349.8L62.4,351.6L61.6,353.3L60.7,354.9L59.5,356.3L58,357.7L56.3,359L54.7,360.2L53.3,361.3L52,362.3L50.7,363.2L49.5,363.9L48.5,364.5L47.8,365" stroke-width="3.9"/>
<path d="M45,295.1L45.2,297.2L45.5,300.1L45.9,303.4L46.3,306.8L46.9,309.9L47.6,312.6L48.5,315.4L49.4,318L50.4,320.5L51.5,322.7L52.5,324.8L53.6,326.8L54.7,328.5L55.9,329.9L57,331L58.2,331.5L59.5,331.6L60.7,331.4L61.7,331.1L62.5,331" stroke-width="3.9"/>
<path d="M103.9,341.1L105,340.8L106.6,340.4L108.5,339.9L110.4,339.5L112.1,339.3L113.8,339.3L115.5,339.5L117.1,339.7L118.5,340L119.5,340.2" stroke-width="3.9"/>
<path d="M3.7,379.7L5,380.2L6.8,381L9,381.9L11.4,382.7L13.8,383.4L16.2,383.9L18.8,384.4L21.6,384.8L24.5,385.1L27.6,385.2L31,385.2L34.6,384.9L38.4,384.6L42.2,384.4L46,384.3L49.7,384.6L53.5,385.1L57.2,385.6L60.9,386L64.3,386.1L67.5,385.9L70.6,385.5L73.5,384.9L76.3,384.2L79,383.4L81.8,382.4L84.5,381.2L87.1,379.9L89.6,378.8L91.9,377.9L94.1,377.2L96.3,376.8L98.3,376.5L99.9,376.2L101.1,376" stroke-width="4.1"/>
<path d="M3.7,387.1L5.6,388.1L8.3,389.7L11.5,391.5L15,393.2L18.4,394.4L21.8,395.2L25.5,395.7L29.2,396L33,396.1L36.8,396.2L40.7,396.2L45,396L49.1,395.8L52.6,395.5L55.1,395.3" stroke-width="4.1"/>
<path d="M110.3,368.7L111.3,367.9L112.7,366.8L114.4,365.5L116.1,364.2L117.6,363.2L119.2,362.2L120.9,361.4L122.6,360.6L124,360L125,359.5" stroke-width="3.9"/>
<path d="M133.3,377.9L134.1,377.2L135.3,376.1L136.8,374.9L138.3,373.9L139.7,373.3L141.1,373L142.7,373L144.2,373.2L145.7,373.6L147.1,374.2L148.4,375.1L149.7,376.3L150.9,377.7L151.9,378.9L152.6,379.7" stroke-width="3.9"/>
<path d="M126.8,390.7L128.7,398.3" stroke-width="4.6"/>
<path d="M128.7,398.3L129.3,396.7L130.1,394.3L131.1,391.7L132.2,389.1L133.3,387.1L134.5,385.5L136,384.2L137.5,383.1L138.8,382.2L139.7,381.5" stroke-width="3.9"/>
<path d="M90.1,398.3L90.2,396.7L90.4,394.5L90.6,391.9L90.8,389.4L91,387.1L91.2,384.9L91.4,382.8L91.6,380.8L91.8,379.1L91.9,377.9" stroke-width="4.1"/>
<path d="M150.7,390.7L151.7,398.3" stroke-width="5.1"/>
<path d="M160,306.2L158.9,306.7L157.3,307.4L155.4,308.2L153.5,309.1L151.7,309.9L150,310.7L148.4,311.5L146.8,312.4L145.2,313.1L143.4,313.5L141.3,313.6L139,313.4L136.7,313.1L134.7,312.8L133.3,312.6" stroke-width="4.1"/>
<path d="M155.3,276.8L155.5,278.1L155.8,280L156,282.1L156.2,284.2L156.2,286L156,287.4L155.6,288.7L155.1,289.8L154.7,290.8L154.4,291.5" stroke-width="3.6"/>
<path d="M3.7,390.7L4.6,390.2L5.9,389.5L7.5,388.7L9.2,387.9L11,387.1L13.2,386.3L15.7,385.4L18.3,384.6L20.5,383.9L22.1,383.4" stroke-width="3.9"/>
<path d="M18.4,387.1L19.6,387.6L21.4,388.5L23.5,389.5L25.6,390.3L27.6,390.7L29.4,390.6L31.2,390.1L33.1,389.5L34.9,389L36.8,388.9L38.7,389.2L40.6,389.9L42.5,390.7L44.4,391.6L46,392.6L47.4,393.7L48.7,395L49.8,396.3L50.8,397.5L51.5,398.3" stroke-width="3.9"/>
<path d="M204.6,240L204.9,241.2L205.1,242.8L205.5,244.7L206,246.9L206.5,249.2L207.1,251.7L207.8,254.4L208.6,257.2L209.4,260.1L210.1,263L210.9,265.9L211.8,268.8L212.6,271.8L213.3,274.5L213.8,276.8L214.1,278.4L214.3,279.6L214.3,280.6L214.1,281.7L213.8,283.2L213.3,285.2L212.6,287.5L211.7,290L210.9,292.6L210.1,295.1L209.5,297.8L208.9,300.6L208.4,303.5L207.9,306.3L207.4,308.9L206.9,311.6L206.5,314.4L206.1,317.1L205.8,319.3L205.6,320.9" stroke-width="5.8"/>
<path d="M219.3,240L219.6,241.9L220,244.5L220.5,247.6L220.9,250.8L221.2,253.8L221.3,256.6L221.4,259.4L221.4,262.3L221.3,265L221.2,267.6L221,270.1L220.7,272.5L220.4,274.8L219.9,276.9L219.3,278.6L218.5,280L217.5,281.1L216.4,282L215.4,282.7L214.7,283.2" stroke-width="5.3"/>
<path d="M155,245.5L156.9,245.3L159.5,244.9L162.6,244.5L165.8,244.1L168.8,243.7L171.8,243.3L175,242.9L178.1,242.4L180.7,242.1L182.6,241.8" stroke-width="5.1"/>
<path d="M163.3,240L163.5,241.9L163.8,244.5L164.2,247.6L164.7,250.8L165.1,253.8L165.6,256.6L166,259.6L166.5,262.5L167.1,265.2L167.9,267.6L168.9,269.6L170.1,271.3L171.4,272.8L172.6,274L173.4,274.9" stroke-width="4.1"/>
<path d="M155,266.7L156.3,266.6L158.1,266.4L160.2,266.3L162.3,266.3L164.2,266.7L165.8,267.4L167.4,268.4L168.8,269.6L170.2,270.9L171.5,272.2L172.8,273.4L173.9,274.5L174.9,275.8L176,277.1L177.1,278.6L178.2,280.3L179.4,282.1L180.6,284L181.7,285.9L182.6,287.8L183.2,289.7L183.7,291.6L184.1,293.4L184.3,295.3L184.4,297L184.3,298.6L184,300.1L183.7,301.5L183.4,302.9L183.5,304.3L184,305.9L184.8,307.6L185.7,309.3L186.6,310.7L187.2,311.7" stroke-width="5.8"/>
<path d="M187.2,311.7L188.5,311.3L190.3,310.7L192.4,310L194.6,309.1L196.4,308L197.8,306.7L199.2,305L200.4,303.3L201.6,301.5L202.8,299.7L204,298L205.3,296L206.5,294.2L207.6,292.6L208.3,291.5" stroke-width="4.6"/>
<path d="M187.2,311.7L188.5,312.3L190.3,313.1L192.4,314.1L194.6,315.2L196.4,316.3L197.9,317.4L199.4,318.6L200.7,319.9L201.8,321.2L202.8,322.7L203.5,324.4L204.1,326.3L204.5,328.2L204.7,330.1L204.6,331.9L204.3,333.6L203.7,335.2L203,336.8L202,338.2L201,339.3L199.7,340.1L198.4,340.7L196.9,341L195.2,341.2L193.6,341.1L191.9,340.8L190,340.1L188,339.3L186.2,338.4L184.4,337.4L182.8,336.5L181.2,335.4L179.6,334.3L178.3,333.1L177.1,331.9L176,330.7L175,329.4L174.1,328L173.6,326.7L173.4,325.5L173.6,324.2L174.3,323L175.2,321.8L176.1,320.8L177.1,320L178,319.5L179.1,319.2L180.1,319.1L181,319.1L181.7,319" stroke-width="5.3"/>
<path d="M191.8,240L190.7,241.3L189.3,243.1L187.6,245.2L185.9,247.3L184.4,249.2L183.1,250.8L181.7,252.3L180.4,253.7L179.2,255.1L178,256.5L176.8,257.9L175.6,259.2L174.4,260.6L173.4,262.1L172.5,263.9L171.7,266.1L170.9,268.6L170.3,271.4L169.9,274.1L169.7,276.8L169.8,279.5L170.2,282.5L170.7,285.4L171.2,287.9L171.5,289.6" stroke-width="4.1"/>
<path d="M182.6,251.9L183.8,251.9L185.5,251.8L187.5,251.8L189.7,251.8L191.8,251.9L194,252.4L196.6,253L199.1,253.7L201.3,254.3L202.8,254.7" stroke-width="3.9"/>
<path d="M180.7,256.5L181,258.1L181.2,260.2L181.6,262.8L182.1,265.3L182.6,267.6L183.3,269.5L184.1,271.3L185,273L185.8,274.8L186.2,276.8L186.3,279L186.2,281.6L185.9,284.1L185.5,286.3L185.3,287.8" stroke-width="4.4"/>
<path d="M228.5,240L229.6,241.2L231.1,243L232.9,245.1L234.5,247.2L235.9,249.2L236.9,251.1L237.9,253L238.7,255L239.2,256.8L239.6,258.4L239.6,259.8L239.5,260.9L239.1,262L238.5,263L237.7,263.9L236.6,264.8L235.2,265.6L233.6,266.4L231.9,267L230.4,267.6L228.8,267.9L227.1,268.2L225.4,268.3L224,268.4L223,268.5" stroke-width="4.4"/>
<path d="M223,249.2L223.7,249.9L224.6,250.9L225.8,252.1L227.1,253.4L228.5,254.7L230.2,256.1L232,257.6L234,259.2L235.9,260.7L237.7,262.1L239.3,263.2L240.9,264.2L242.4,265.1L243.7,266.2L245.1,267.6L246.4,269.5L247.7,271.8L248.9,274.1L249.9,276.2L250.6,277.7" stroke-width="4.8"/>
<path d="M246.9,264.8L247.9,264.6L249.4,264.2L251,263.9L252.7,263.7L254.3,263.9L255.6,264.5L256.9,265.3L258.2,266.4L259.4,267.5L260.7,268.5L262,269.4L263.3,270.2L264.6,271.1L265.9,272.1L267.1,273.1L268.3,274.3L269.4,275.5L270.5,276.9L271.6,278.2L272.6,279.5L273.8,280.9L274.9,282.2L276,283.6L277.1,284.8L278.2,286L279.2,286.9L280.2,287.8L281.2,288.5L282.3,289.1L283.7,289.6L285.2,290L286.9,290.2L288.7,290.2L290.7,290.4L292.9,290.6L295.4,290.9L298.3,291.3L301.3,291.7L304.2,292.1L306.7,292.4L308.8,292.5L310.8,292.5L312.5,292.5L314,292.4L315,292.4" stroke-width="4.1"/>
<path d="M271.7,240L272.5,240.9L273.7,242.2L275,243.8L276.3,245.5L277.2,247.4L277.9,249.3L278.3,251.4L278.7,253.6L278.9,255.9L279.1,258.4L279.2,261L279.3,263.8L279.2,266.7L279.2,269.5L279.1,272.2L279,274.7L278.9,277.1L278.8,279.5L278.5,281.8L278.2,284.1L277.6,286.3L276.8,288.5L276,290.6L275.2,292.8L274.5,295.1L273.8,297.7L273.2,300.5L272.7,303.3L272.1,306.1L271.7,308.9L271.4,311.8L271.1,314.7L270.9,317.5L270.8,320.3L270.8,322.7L271,325L271.4,327.2L271.9,329.1L272.4,330.7L272.6,331.9" stroke-width="4.6"/>
<path d="M303.9,240L304.6,241.2L305.6,243L306.8,245.1L307.8,247.2L308.5,249.2L308.9,251.1L309.1,253L309.2,254.8L309,256.7L308.5,258.4L307.6,260L306.4,261.5L305,262.9L303.5,264.3L302.1,265.7L300.6,267.2L299.1,268.6L297.6,270.1L296.1,271.6L294.7,273.1L293.5,274.7L292.4,276.3L291.3,278L290.3,279.7L289.2,281.4L288,283.1L286.7,285.1L285.5,286.9L284.4,288.5L283.7,289.6" stroke-width="5.3"/>
<path d="M315,274L313.8,274.4L312,274.9L309.9,275.5L307.7,276.1L305.7,276.8L303.9,277.4L302,278L300.1,278.7L298.3,279.5L296.5,280.4L294.8,281.6L293,282.9L291.3,284.3L289.7,286L288.3,287.8L286.9,289.9L285.7,292.2L284.6,294.6L283.6,297.2L282.8,299.7L282.1,302.5L281.5,305.3L281.1,308.3L280.9,311L280.9,313.5L281.2,315.8L281.8,318L282.6,319.9L283.2,321.5L283.7,322.7" stroke-width="4.6"/>
<path d="M213.8,283.2L214.9,283.4L216.3,283.6L218,283.9L219.7,284.3L221.2,285L222.5,285.9L223.7,287L224.9,288.2L225.9,289.7L226.7,291.5L227.2,293.6L227.5,296.1L227.6,298.8L227.6,301.6L227.6,304.3L227.6,307.1L227.4,309.9L227.2,312.7L227,315.5L226.7,318.1L226.4,320.8L225.9,323.6L225.5,326.2L225.1,328.5L224.9,330.1" stroke-width="5.3"/>
<path d="M228.5,297L229.8,298L231.6,299.4L233.7,301L235.9,302.8L237.7,304.3L239.4,305.9L241,307.4L242.5,308.9L243.9,310.4L245.1,311.7L246.1,312.9L247,313.9L247.7,314.9L248.3,315.7L248.8,316.3" stroke-width="4.6"/>
<path d="M215.7,314.9L216.7,315L218.3,315.1L220.1,315.3L221.8,315.7L223,316.3L223.8,317.4L224.2,318.8L224.5,320.4L224.7,321.8L224.9,322.7" stroke-width="4.6"/>
<path d="M274.5,295.1L273.5,296.4L272.1,298.3L270.4,300.4L268.7,302.5L267.1,304.3L265.7,305.8L264.3,307.2L262.9,308.5L261.4,309.6L259.8,310.8L258.1,311.9L256.4,312.9L254.6,313.8L252.7,314.7L250.6,315.4L248.2,316L245.5,316.4L242.8,316.8L240.1,317.1L237.7,317.2L235.5,317.2L233.3,317L231.4,316.7L229.7,316.5L228.5,316.3" stroke-width="4.1"/>
<path d="M248.8,316.3L250.4,316.5L252.7,316.8L255.3,317.2L258.1,317.7L260.7,318.1L263.2,318.6L265.7,319.1L268.3,319.7L270.6,320.3L272.6,320.9L274.3,321.6L275.5,322.3L276.6,323L277.8,323.8L279.1,324.6L280.6,325.3L282.2,326L283.9,326.8L285.6,327.5L287.4,328.2L289.3,329L291.4,329.9L293.5,330.7L295.3,331.4L296.5,331.9" stroke-width="4.1"/>
<path d="M315,298.8L313.8,299.5L312.1,300.5L310.1,301.6L308.2,302.9L306.7,304.3L305.4,305.9L304.3,307.7L303.4,309.7L302.6,311.6L302.1,313.5L301.8,315.4L301.9,317.4L302.1,319.3L302.2,321.1L302.1,322.7L301.6,324.1L301,325.4L300.3,326.5L299.4,327.4L298.4,328.2L297.1,328.9L295.7,329.4L294.1,329.8L292.6,330L291,330.1L289.4,329.9L287.7,329.5L286.1,329L284.7,328.5L283.7,328.2" stroke-width="4.1"/>
<path d="M155,320.9L156.2,321L158,321.1L160.1,321.2L162.2,321.2L164.2,320.9L166,320.3L167.9,319.4L169.7,318.3L171.5,317.3L173.4,316.3L175.4,315.3L177.5,314.2L179.6,313.2L181.3,312.3L182.6,311.7" stroke-width="4.6"/>
<path d="M163.3,321.8L162.9,323.2L162.4,325.2L161.8,327.4L161.1,329.8L160.5,331.9L159.9,333.7L159.3,335.4L158.7,337.1L158.2,339L157.8,341.1L157.5,343.7L157.3,346.7L157.2,349.8L157.1,352.6L156.8,354.9L156.5,356.5L156.1,357.6L155.6,358.4L155.3,359L155,359.5" stroke-width="4.6"/>
<path d="M166,324.6L166.5,326.2L167.2,328.4L168.1,331L168.9,333.8L169.7,336.5L170.5,339.2L171.3,342.1L172,345L172.8,347.8L173.4,350.3L173.9,352.6L174.3,354.7L174.7,356.7L175,358.3L175.2,359.5" stroke-width="4.1"/>
<path d="M206.5,331.9L208.3,331.4L211,330.6L214,329.7L216.9,328.9L219.3,328.2L221.3,327.9L223,327.6L224.5,327.5L225.8,327.4L226.7,327.3" stroke-width="5.1"/>
<path d="M224.9,330.1L225.4,331.6L226.1,333.8L226.9,336.3L227.8,338.8L228.5,341.1L229.1,343.1L229.7,345L230.2,346.8L230.7,348.6L231.3,350.3L231.9,351.9L232.6,353.5L233.3,355L234.1,356.4L235,357.6L236,358.8L237.3,359.9L238.6,360.9L239.7,361.7L240.5,362.2" stroke-width="5.1"/>
<path d="M226.7,322.7L227.7,324L229,325.9L230.6,328L232.3,330.1L234,331.9L235.7,333.4L237.4,334.9L239.2,336.2L241.1,337.3L243.2,338.3L245.6,339.1L248.3,339.7L251,340.1L253.7,340.6L256.1,341.1L258.2,341.8L260.2,342.6L262.1,343.5L263.7,344.2L265.3,344.8L266.7,345.2L268,345.4L269.2,345.5L270.1,345.6L270.8,345.7" stroke-width="4.6"/>
<path d="M272.6,331.9L272.6,333.2L272.4,334.9L272.3,337L272,339.1L271.7,341.1L271.4,343L271,344.9L270.6,346.7L269.9,348.6L269,350.3L267.6,351.9L265.9,353.5L264,355.1L262.2,356.4L260.7,357.6L259.5,358.7L258.4,359.6L257.4,360.3L256.7,360.9L256.1,361.3" stroke-width="5.8"/>
<path d="M274.5,327.3L275.5,328.6L276.9,330.3L278.5,332.4L280.2,334.5L281.8,336.5L283.3,338.4L284.8,340.4L286.3,342.4L287.7,344.2L289.2,345.7L290.7,346.8L292.2,347.6L293.7,348.3L295.2,349.2L296.5,350.3L297.7,351.8L298.8,353.6L299.8,355.6L300.9,357.6L302.1,359.5L303.4,361.4L305,363.4L306.5,365.3L308,367.1L309.4,368.7L310.7,370L312,371.1L313.3,372L314.3,372.7L315,373.3" stroke-width="5.8"/>
<path d="M279.1,336.5L279.9,338.4L281.1,341L282.6,344.1L284.1,347.3L285.5,350.3L287,353.1L288.5,355.8L290,358.6L291.5,361.3L292.9,364.1L294.1,366.9L295.1,369.8L296.1,372.7L297.2,375.4L298.4,377.9L299.8,380L301.3,381.8L302.8,383.5L304.4,385.2L305.7,387.1L307,389.3L308.3,391.9L309.5,394.4L310.5,396.6L311.2,398.1" stroke-width="5.8"/>
<path d="M272.6,350.3L273.6,351.6L275,353.4L276.6,355.6L278.3,357.7L280,359.5L281.8,360.9L283.6,362.3L285.6,363.5L287.4,364.7L289.2,365.9L290.8,367.2L292.3,368.4L293.7,369.6L295.1,370.9L296.5,372.4L298,374L299.6,375.8L301.1,377.7L302.5,379.7L303.9,381.5L305.2,383.5L306.5,385.7L307.7,387.7L308.7,389.5L309.4,390.7" stroke-width="5.1"/>
<path d="M256.1,362.2L257.4,362.3L259.1,362.5L261.2,362.6L263.3,362.8L265.3,363.2L267.1,363.6L269,364L270.8,364.6L272.6,365.2L274.5,365.9L276.3,366.7L278.2,367.5L280,368.4L281.8,369.4L283.7,370.5L285.7,371.9L287.8,373.6L289.9,375.3L291.6,376.8L292.9,377.9" stroke-width="5.3"/>
<path d="M256.1,362.2L254.8,363L252.9,364L250.8,365.2L248.7,366.4L246.9,367.8L245.5,369.1L244.3,370.5L243.2,372L242.2,373.6L241.4,375.1L240.7,376.7L240.3,378.4L239.9,380.1L239.7,381.8L239.6,383.4L239.6,385L239.8,386.7L240,388.4L240.3,389.7L240.5,390.7" stroke-width="5.6"/>
<path d="M201,341.1L200.7,342.4L200.4,344.2L200.1,346.3L199.9,348.4L200,350.3L200.6,352L201.6,353.6L202.7,355.1L203.7,356.5L204.6,357.6L205.3,358.5L206,359.2L206.6,359.7L207,360.1L207.4,360.4" stroke-width="4.6"/>
<path d="M199.1,343.9L200.6,343.5L202.8,343L205.3,342.4L207.9,341.8L210.1,341.1L212.2,340.4L214.4,339.5L216.4,338.7L218.1,337.9L219.3,337.4" stroke-width="4.1"/>
<path d="M182.6,348.5L182.8,350L183.2,352.2L183.6,354.7L184,357.2L184.4,359.5L184.7,361.5L184.9,363.4L185.1,365.2L185.5,367L186.2,368.7L187.3,370.4L188.6,372L190.1,373.6L191.8,374.9L193.6,376L195.7,376.7L198,377L200.4,377.1L202.7,377.4L204.6,377.9L206.1,378.8L207.3,379.9L208.3,381.1L209.2,382.3L210.1,383.4L211.2,384.3L212.3,385.2L213.3,385.9L214.1,386.6L214.7,387.1" stroke-width="3.9"/>
<path d="M204.6,359.5L204.9,361.4L205.1,364.2L205.5,367.4L206,370.5L206.5,373.3L207.1,375.7L208,378.1L208.9,380.2L209.6,382.1L210.1,383.4" stroke-width="4.1"/>
<path d="M228.5,372.4L227.5,372.7L226,373.1L224.3,373.6L222.6,374.3L221.2,375.1L220,376.2L218.8,377.6L217.8,379.1L216.7,380.5L215.7,381.5L214.5,382.2L213.2,382.7L212,383L210.9,383.2L210.1,383.4" stroke-width="5.3"/>
<path d="M155,371.4L156,372L157.4,372.9L159.1,373.9L160.8,374.7L162.4,375.1L163.9,375.1L165.6,374.7L167.3,374.1L168.7,373.6L169.7,373.3" stroke-width="4.6"/>
<path d="M163.3,357.6L164.2,358.2L165.4,359.2L166.9,360.1L168.4,360.9L169.7,361.3L171,361.2L172.3,360.7L173.6,360L174.6,359.2L175.2,358.6L175.3,358L174.9,357.3L174.3,356.7L173.7,356.2L173.4,355.8" stroke-width="5.8"/>
<path d="M173.4,372.4L173.7,373.4L174.2,374.8L174.7,376.4L175.1,378.1L175.2,379.7L175.1,381.2L174.9,382.8L174.6,384.3L174,385.8L173.4,387.1L172.5,388.1L171.4,389L170.1,389.8L168.9,390.6L167.9,391.7L167,393L166.1,394.5L165.3,396L164.7,397.3L164.2,398.3" stroke-width="5.1"/>
<path d="M177.1,383.4L179.1,382.4L182,380.9L185.3,379.3L188.7,377.9L191.8,376.9L194.7,376.7L197.7,376.8L200.5,377.2L202.9,377.6L204.6,377.9" stroke-width="4.1"/>
<path d="M171.5,388.9L173.7,388.5L176.8,388L180.3,387.4L183.9,386.7L187.2,386.1L190.1,385.5L193,384.9L195.9,384.3L198.5,383.8L201,383.4L203.2,383.2L205.4,383.2L207.4,383.2L209,383.3L210.1,383.4" stroke-width="3.9"/>
<path d="M214.7,387.1L215.4,387.8L216.4,388.9L217.5,390.1L218.5,391.4L219.3,392.6L219.9,393.8L220.4,395.1L220.7,396.4L221,397.5L221.2,398.3" stroke-width="4.6"/>
<path d="M210.1,383.4L209.6,384.5L208.9,386.2L208.1,388.1L207.3,390L206.5,391.7L205.7,393.2L204.8,394.7L204,396.2L203.3,397.4L202.8,398.3" stroke-width="5.1"/>
<path d="M315,336.5L314,335.7L312.5,334.6L310.8,333.3L309.1,332.3L307.6,331.9L306.2,332.1L304.8,332.6L303.5,333.6L302.5,334.9L302.1,336.5L302.2,338.7L302.9,341.4L303.8,344.3L304.9,347.4L305.7,350.3L306.5,353.3L307.4,356.5L308.2,359.6L308.9,362.2L309.4,364.1" stroke-width="3.9"/>
<path d="M246.9,341.1L247.5,342.4L248.4,344.3L249.4,346.4L250.5,348.5L251.5,350.3L252.5,351.7L253.6,353L254.6,354.2L255.5,355.1L256.1,355.8" stroke-width="3.9"/>
<path d="M243.2,381.5L245,381.1L247.4,380.5L250.3,379.7L253.3,378.8L256.1,377.9L258.9,376.7L261.9,375.3L264.8,373.9L267.5,372.5L269.9,371.4L271.8,370.5L273.5,369.7L274.9,369L276.2,368.6L277.2,368.7L278.2,369.2L279.1,370.1L279.7,371.3L280.1,372.7L280,374.2L279.5,375.8L278.6,377.7L277.4,379.7L276,381.6L274.5,383.4L272.9,385L271.1,386.6L269.1,388.1L267.2,389.5L265.3,390.7L263.3,391.9L261.2,393L259.1,394L257.4,394.8L256.1,395.3" stroke-width="3.9"/>
<path d="M283.7,387.1L283.9,386L284.2,384.5L284.6,382.7L285,381.1L285.5,379.7L286.2,378.7L287,377.8L287.9,377.1L288.7,376.5L289.2,376" stroke-width="3.9"/>
<path d="M263.5,391.7L264.4,392.3L265.7,393.3L267.1,394.4L268.6,395.4L269.9,396.2L271,396.9L272.1,397.3L273.1,397.7L273.9,398L274.5,398.3" stroke-width="3.9"/>
<path d="M210.1,345.7L210.8,346.9L211.7,348.7L212.7,350.8L213.8,352.9L214.7,354.9L215.7,356.8L216.6,358.7L217.6,360.6L218.5,362.4L219.3,364.1L220.2,365.6L221.1,367.2L221.9,368.5L222.5,369.7L223,370.5" stroke-width="3.9"/>
<path d="M231.3,350.3L232.1,349.8L233.4,349.1L234.8,348.3L236.3,347.5L237.7,346.6L239.2,345.7L240.9,344.6L242.6,343.6L244.1,342.7L245.1,342" stroke-width="3.9"/>
<path d="M155,291.5L156,292.1L157.5,293.1L159.1,294.2L160.8,294.9L162.4,295.1L163.8,294.5L165.3,293.3L166.7,291.9L167.9,290.5L168.8,289.6" stroke-width="3.9"/>
<path d="M155,309.9L156.2,309.1L158,308L160.1,306.8L162.2,305.5L164.2,304.3L166.1,303.2L168,302L169.8,300.8L171.7,299.7L173.4,298.8L175.1,298.2L176.8,297.7L178.4,297.4L179.8,297.2L180.7,297" stroke-width="4.1"/>
<path d="M306.7,382.5L307.3,383.8L308.3,385.6L309.4,387.7L310.4,389.8L311.2,391.7L311.8,393.2L312.3,394.8L312.6,396.2L312.9,397.4L313.1,398.3" stroke-width="6.3"/>
</g><g stroke="#555" opacity="0.85">
<path d="M172.5,97.9L172.5,99.3L172.6,101.3L172.7,103.7L172.9,106.3L173.4,108.9L174.1,111.6L175,114.6L176,117.7L177.1,120.7L178,123.6L178.8,126.5L179.7,129.5L180.5,132.3L181.2,134.8L181.7,136.5" stroke-width="1.3"/>
<path d="M160,176.9L159.6,179.4L159,182.9L158.2,187.1L157.3,191.3L156.2,195.3L155.1,199L153.7,202.7L152.3,206.5L150.7,210.1L148.9,213.7L146.9,217.2L144.7,220.8L142.3,224.2L140,227.4L137.9,230.2L135.8,232.7L133.6,234.9L131.6,236.8L129.9,238.3L128.7,239.4M155,207.2L156.4,206.6L158.4,205.8L160.7,204.8L163.3,203.7L166,202.6L169.2,201.5L173,200.2L176.9,199L180.2,197.9L182.6,197.1M280,235.7L280.8,235.5L282,235.2L283.3,234.9L284.6,234.4L285.5,233.9L286.1,233.2L286.6,232.4L286.9,231.5L287.2,230.8L287.4,230.2M155.3,276.8L155.5,278.1L155.8,280L156,282.1L156.2,284.2L156.2,286L156,287.4L155.6,288.7L155.1,289.8L154.7,290.8L154.4,291.5" stroke-width="1.4"/>
<path d="M65.7,88.2L66.5,89L67.6,90.2L68.9,91.5L70.3,92.9L71.7,94.2L73,95.4L74.4,96.6L75.8,97.8L77.3,98.8L79,99.7L81,100.4L83.1,100.9L85.4,101.3L87.7,101.7L90.1,102L92.7,102.3L95.5,102.6L98.3,102.9L100.9,103L102.9,102.9L104.4,102.7L105.4,102.5L106.2,102L106.8,101.4L107.5,100.6L108.3,99.4L109.1,97.9L109.8,96.2L110.3,94.7L110.8,93.7M108.5,100.6L107.4,102.1L106,104.2L104.3,106.8L102.6,109.6L101.1,112.6L99.8,115.8L98.6,119.5L97.5,123.3L96.5,127.2L95.6,131L94.9,134.6L94.3,138.3L93.8,142L93.3,145.7L92.8,149.3L92.2,153L91.6,156.8L90.9,160.5L90.4,164.2L90.1,167.7L89.9,171.2L89.9,174.7L90,178.1L90.2,181.3L90.5,184.3L91,186.9L91.6,189.2L92.3,191.3L93,193.3L93.8,195.3L94.5,197.2L95.2,199.1L95.9,200.9L96.7,202.7L97.4,204.5L98.2,206.2L99,207.9L99.8,209.7L100.5,211.5L101.1,213.7L101.5,216.1L101.8,218.7L101.9,221.5L102,224.4L102,227.5L101.9,231L101.7,235.1L101.5,239.1L101.3,242.6L101.1,245M40.4,204.5L42.4,204.6L45.1,204.6L48.3,204.7L51.7,205L55.1,205.4L58.6,206.1L62.2,207.1L66,208.2L69.8,209.2L73.5,210L77.2,210.6L80.9,211L84.6,211.3L88.2,211.6L91.9,211.8L95.6,212.1L99.3,212.4L102.9,212.6L106.6,212.8L110.3,212.8L114,212.6L117.6,212.3L121.3,211.9L125,211.4L128.7,210.9L132.4,210.3L136.3,209.6L140.1,208.8L143.7,208L147.1,207.2L150.2,206.4L153.3,205.6L156,204.8L158.3,204.1L160,203.6M73.5,211.8L73.7,213.9L73.9,216.9L74.2,220.3L74.4,224L74.4,227.5L74.4,231.1L74.2,235.2L73.9,239.2L73.7,242.6L73.5,245M78.1,211.8L78.2,213.4L78.3,215.5L78.4,218.1L78.7,220.6L79,222.9L79.6,224.8L80.2,226.7L81,228.5L81.8,230.2L82.7,232.1L83.8,234L85.1,236.2L86.3,238.2L87.5,240L88.2,241.2M38.6,241.2L38.9,240.5L39.5,239.4L40,238.1L40.4,236.8L40.4,235.7L40,234.7L39.3,233.7L38.4,232.8L37.5,232.2L36.8,232.1L36.2,232.6L35.6,233.7L35.2,235.1L34.9,236.4L34.9,237.6L35.4,238.5L36.2,239.4L37.1,240.1L38,240.8L38.6,241.2M219.3,103.4L219.6,105.7L220,109L220.5,112.9L220.9,117.2L221.2,121.8L221.3,126.8L221.4,132.6L221.3,138.5L221.3,144.3L221.2,149.3L221,153.7L220.7,157.6L220.4,161.1L220.2,164.5L220.3,167.7L220.6,171L221.2,174.2L221.9,177.2L222.6,179.7L223,181.5M212.9,103.4L213,107.1L213.2,112.4L213.5,118.6L213.7,125L213.8,131L213.9,136.6L213.8,142.4L213.7,148.2L213.7,153.6L213.8,158.5L214.1,163.1L214.5,167.4L215,171.3L215.4,174.6L215.7,176.9M173.4,144.7L172.3,145.9L170.8,147.5L169.1,149.5L167.4,151.7L166,153.9L165,156.3L164.2,158.9L163.5,161.7L162.9,164.6L162.4,167.7L161.9,171.2L161.6,175L161.3,178.9L161,182.6L160.5,186.1L159.8,189.4L159,192.6L158.1,195.6L157.4,198.1L156.8,199.9M269.9,179.7L271.1,180L272.8,180.5L274.8,181.1L276.9,181.7L279.1,182.4L281.5,183.3L284.2,184.4L287,185.4L289.4,186.4L291,187M223,219.2L225.2,219L228.3,218.7L231.8,218.4L235.1,218.2L237.7,218.3L239.6,218.6L241.1,219.1L242.3,219.8L243,220.4L243.2,221L243,221.6L242.2,222.3L241,222.9L239.5,223.5L237.7,223.8L235.4,223.8L232.5,223.6L229.4,223.3L226.7,223.1L224.9,222.9M246.9,220.1L248.2,220.8L249.9,221.8L252,222.9L254.1,223.9L256.1,224.7L258,225.1L259.9,225.2L261.7,225.3L263.6,225.4L265.3,225.6L266.9,226L268.5,226.6L270,227.1L271.4,227.7L272.6,228.4L273.7,229.1L274.6,229.9L275.4,230.7L276.3,231.4L277.2,232.1L278.4,232.7L279.8,233.3L281.1,233.8L282.5,234L283.7,233.9L284.8,233.2L285.9,232L286.9,230.5L287.7,229.3L288.3,228.4M228.5,195.3L228.1,196.4L227.4,197.9L226.6,199.7L225.8,201.9L224.9,204.5L223.8,207.9L222.5,212.1L221.2,216.4L220.1,220.2L219.3,222.9M143.4,328.2L144.1,327.7L145.1,326.9L146.3,325.9L147.6,325.1L148.9,324.6L150.3,324.3L151.9,324.2L153.5,324.3L155,324.4L156.2,324.6L157.3,324.7L158.2,324.9L159,325.1L159.6,325.3L160,325.5M160,331.9L159.5,333.2L158.9,334.9L158.1,337L157.2,339.1L156.2,341.1L155.3,343L154.3,344.9L153.2,346.7L152,348.6L150.7,350.3L149.3,352L147.6,353.7L145.9,355.3L144.4,356.7L143.4,357.6M9.2,309.9L11.1,310L13.7,310.2L16.8,310.5L20,310.9L23,311.7L25.8,312.8L28.6,314.2L31.4,315.8L34.2,317.4L36.8,319L39.2,320.7L41.6,322.3L43.8,324L45.9,325.7L47.8,327.3L49.5,328.9L51.1,330.4L52.5,331.8L53.9,333.3L55.1,334.7L56.4,336L57.6,337.4L58.7,338.6L59.8,339.9L60.7,341.1L61.5,342.2L62.2,343.2L62.8,344.3L63.3,345.4L63.4,346.6L63.3,348.1L62.9,349.8L62.4,351.6L61.6,353.3L60.7,354.9L59.5,356.3L58,357.7L56.3,359L54.7,360.2L53.3,361.3L52,362.3L50.7,363.2L49.5,363.9L48.5,364.5L47.8,365M45,295.1L45.2,297.2L45.5,300.1L45.9,303.4L46.3,306.8L46.9,309.9L47.6,312.6L48.5,315.4L49.4,318L50.4,320.5L51.5,322.7L52.5,324.8L53.6,326.8L54.7,328.5L55.9,329.9L57,331L58.2,331.5L59.5,331.6L60.7,331.4L61.7,331.1L62.5,331M103.9,341.1L105,340.8L106.6,340.4L108.5,339.9L110.4,339.5L112.1,339.3L113.8,339.3L115.5,339.5L117.1,339.7L118.5,340L119.5,340.2M110.3,368.7L111.3,367.9L112.7,366.8L114.4,365.5L116.1,364.2L117.6,363.2L119.2,362.2L120.9,361.4L122.6,360.6L124,360L125,359.5M133.3,377.9L134.1,377.2L135.3,376.1L136.8,374.9L138.3,373.9L139.7,373.3L141.1,373L142.7,373L144.2,373.2L145.7,373.6L147.1,374.2L148.4,375.1L149.7,376.3L150.9,377.7L151.9,378.9L152.6,379.7M128.7,398.3L129.3,396.7L130.1,394.3L131.1,391.7L132.2,389.1L133.3,387.1L134.5,385.5L136,384.2L137.5,383.1L138.8,382.2L139.7,381.5M3.7,390.7L4.6,390.2L5.9,389.5L7.5,388.7L9.2,387.9L11,387.1L13.2,386.3L15.7,385.4L18.3,384.6L20.5,383.9L22.1,383.4M18.4,387.1L19.6,387.6L21.4,388.5L23.5,389.5L25.6,390.3L27.6,390.7L29.4,390.6L31.2,390.1L33.1,389.5L34.9,389L36.8,388.9L38.7,389.2L40.6,389.9L42.5,390.7L44.4,391.6L46,392.6L47.4,393.7L48.7,395L49.8,396.3L50.8,397.5L51.5,398.3M182.6,251.9L183.8,251.9L185.5,251.8L187.5,251.8L189.7,251.8L191.8,251.9L194,252.4L196.6,253L199.1,253.7L201.3,254.3L202.8,254.7M182.6,348.5L182.8,350L183.2,352.2L183.6,354.7L184,357.2L184.4,359.5L184.7,361.5L184.9,363.4L185.1,365.2L185.5,367L186.2,368.7L187.3,370.4L188.6,372L190.1,373.6L191.8,374.9L193.6,376L195.7,376.7L198,377L200.4,377.1L202.7,377.4L204.6,377.9L206.1,378.8L207.3,379.9L208.3,381.1L209.2,382.3L210.1,383.4L211.2,384.3L212.3,385.2L213.3,385.9L214.1,386.6L214.7,387.1M171.5,388.9L173.7,388.5L176.8,388L180.3,387.4L183.9,386.7L187.2,386.1L190.1,385.5L193,384.9L195.9,384.3L198.5,383.8L201,383.4L203.2,383.2L205.4,383.2L207.4,383.2L209,383.3L210.1,383.4M315,336.5L314,335.7L312.5,334.6L310.8,333.3L309.1,332.3L307.6,331.9L306.2,332.1L304.8,332.6L303.5,333.6L302.5,334.9L302.1,336.5L302.2,338.7L302.9,341.4L303.8,344.3L304.9,347.4L305.7,350.3L306.5,353.3L307.4,356.5L308.2,359.6L308.9,362.2L309.4,364.1M246.9,341.1L247.5,342.4L248.4,344.3L249.4,346.4L250.5,348.5L251.5,350.3L252.5,351.7L253.6,353L254.6,354.2L255.5,355.1L256.1,355.8M243.2,381.5L245,381.1L247.4,380.5L250.3,379.7L253.3,378.8L256.1,377.9L258.9,376.7L261.9,375.3L264.8,373.9L267.5,372.5L269.9,371.4L271.8,370.5L273.5,369.7L274.9,369L276.2,368.6L277.2,368.7L278.2,369.2L279.1,370.1L279.7,371.3L280.1,372.7L280,374.2L279.5,375.8L278.6,377.7L277.4,379.7L276,381.6L274.5,383.4L272.9,385L271.1,386.6L269.1,388.1L267.2,389.5L265.3,390.7L263.3,391.9L261.2,393L259.1,394L257.4,394.8L256.1,395.3M283.7,387.1L283.9,386L284.2,384.5L284.6,382.7L285,381.1L285.5,379.7L286.2,378.7L287,377.8L287.9,377.1L288.7,376.5L289.2,376M263.5,391.7L264.4,392.3L265.7,393.3L267.1,394.4L268.6,395.4L269.9,396.2L271,396.9L272.1,397.3L273.1,397.7L273.9,398L274.5,398.3M210.1,345.7L210.8,346.9L211.7,348.7L212.7,350.8L213.8,352.9L214.7,354.9L215.7,356.8L216.6,358.7L217.6,360.6L218.5,362.4L219.3,364.1L220.2,365.6L221.1,367.2L221.9,368.5L222.5,369.7L223,370.5M231.3,350.3L232.1,349.8L233.4,349.1L234.8,348.3L236.3,347.5L237.7,346.6L239.2,345.7L240.9,344.6L242.6,343.6L244.1,342.7L245.1,342M155,291.5L156,292.1L157.5,293.1L159.1,294.2L160.8,294.9L162.4,295.1L163.8,294.5L165.3,293.3L166.7,291.9L167.9,290.5L168.8,289.6" stroke-width="1.7"/>
<path d="M39.5,182.4L40.9,182.3L42.9,182L45.2,181.8L47.5,181.6L49.6,181.5L51.6,181.5L53.6,181.5L55.5,181.6L57.3,181.9L58.8,182.4L60.1,183.2L61.1,184.2L61.9,185.4L62.7,186.6L63.4,187.9L64.1,189.3L64.6,190.7L65.1,192.2L65.6,193.7L66.2,195.3L66.9,197L67.8,198.9L68.6,200.8L69.3,202.4L69.9,203.6M41.4,199.9L41.7,198.6L42.1,196.7L42.7,194.6L43.3,192.4L44.1,190.7L45,189.3L46.1,188L47.3,186.9L48.5,185.9L49.6,185.2L50.8,184.7L52.1,184.4L53.3,184.3L54.4,184.3L55.1,184.3M32.2,218.3L34,218.6L36.7,219.1L39.8,219.7L43,220.4L46,221L48.7,221.7L51.5,222.3L54.2,223.1L57,223.8L59.7,224.7L62.7,225.8L65.9,227L69,228.3L71.7,229.4L73.5,230.2" stroke-width="1.8"/>
<path d="M5.5,209.1L6,211L6.6,213.6L7.4,216.7L8.3,219.9L9.2,222.9L10.2,225.7L11.4,228.6L12.5,231.5L13.7,234.2L14.7,236.7L15.6,238.8L16.5,240.8L17.3,242.5L17.9,244L18.4,245M173.4,88.7L174.1,89.6L175.1,90.9L176.4,92.4L177.6,94.1L178.9,96L180.1,98.1L181.4,100.5L182.7,103L184,105.5L185.3,108L186.7,110.4L188.1,112.7L189.5,115.1L190.7,117.5L191.8,119.9L192.6,122.6L193.3,125.6L193.8,128.5L194.2,131L194.5,132.8M228.5,96.9L229.1,99.1L229.8,102.3L230.7,105.9L231.8,109.5L233.1,112.6L234.7,115.2L236.5,117.7L238.4,119.9L240.4,121.9L242.3,123.6L244.2,124.9L246,125.8L247.9,126.5L249.7,127L251.5,127.3L253.3,127.5L255,127.5L256.7,127.3L258.3,127L259.8,126.4L261.1,125.4L262.3,124.1L263.4,122.6L264.4,121.2L265.3,119.9L266.1,118.8L266.7,117.7L267.3,116.8L267.7,115.9L268.1,115.3M234,96.9L234.5,99.1L235,102.2L235.7,105.8L236.6,109.4L237.7,112.6L239.3,115.3L241.4,117.8L243.5,120.3L245.5,122.8L246.9,125.4L247.8,128.3L248.4,131.2L248.7,134.2L248.8,137.2L248.8,140.1L248.5,143L248,145.7L247.3,148.5L246.6,151.2L246,153.9L245.4,156.7L244.8,159.5L244.3,162.3L243.7,165.1L243.2,167.7L242.8,170.4L242.3,173.2L242,175.8L241.6,178.1L241.4,179.7M285.5,103.4L286.5,104.5L288,106L289.7,107.9L291.4,110.1L292.9,112.6L294.1,115.5L295.3,119L296.4,122.7L297.4,126.2L298.4,129.1L299.2,131.5L300,133.7L300.7,135.5L301.4,137.1L302.1,138.3L302.9,139.2L303.7,139.7L304.5,139.9L305.2,140L305.7,140.1M223,195.3L224.3,194.4L226.2,193.1L228.3,191.5L230.7,190.1L233.1,188.9L235.6,187.9L238.2,187.1L240.9,186.4L243.8,185.8L246.9,185.2L250.3,184.6L253.9,184.1L257.7,183.7L261.5,183.4L265.3,183.3L269,183.6L272.9,184.1L276.7,184.8L280.3,185.5L283.7,186.1L286.8,186.6L289.7,187.1L292.5,187.6L295.1,188.2L297.5,188.9L299.7,189.6L301.7,190.3L303.5,191.2L305.2,192.2L306.7,193.5L307.9,195.1L308.9,197.1L309.8,199.2L310.6,201.1L311.2,202.6L311.9,203.7L312.4,204.3L312.9,204.8L313.3,205.1L313.5,205.4M258.9,218.3L259.5,219.7L260.3,221.6L261.3,223.9L262.4,226.3L263.5,228.4L264.5,230.3L265.6,232.2L266.7,234.1L267.9,235.9L269,237.6L270.2,239.3L271.4,241L272.7,242.7L273.7,244L274.5,245M14.7,243.7L14.5,245.7L14.1,248.7L13.7,252.1L13.3,255.4L12.9,258.4L12.6,260.9L12.3,263.2L12,265.4L11.6,267.5L11,269.4L10.1,271.2L8.9,272.8L7.6,274.3L6.4,275.6L5.5,276.8L4.9,277.7L4.4,278.3L4.1,278.8L3.9,279.2L3.7,279.5M101.1,243.7L99.9,245.1L98.1,247.2L96,249.6L93.9,251.9L91.9,253.8L90.1,255.2L88.4,256.3L86.7,257.2L84.8,258.2L82.7,259.3L80.3,260.5L77.6,261.9L74.8,263.2L72.1,264.5L69.9,265.7L67.9,267L66.2,268.3L64.6,269.5L63.4,270.5L62.5,271.2M105.7,313.5L105.1,314.8L104.3,316.5L103.4,318.6L102.6,320.7L102,322.7L101.7,324.6L101.6,326.4L101.6,328.2L101.8,330.1L102,331.9L102.4,333.7L102.9,335.6L103.5,337.4L104.1,339.3L104.8,341.1L105.4,342.9L106.1,344.8L106.9,346.6L107.6,348.5L108.5,350.3L109.4,352.1L110.5,354L111.6,355.8L112.5,357.6L113.1,359.5L113.2,361.5L113,363.6L112.7,365.7L112.3,367.4L112.1,368.7M3.7,379.7L5,380.2L6.8,381L9,381.9L11.4,382.7L13.8,383.4L16.2,383.9L18.8,384.4L21.6,384.8L24.5,385.1L27.6,385.2L31,385.2L34.6,384.9L38.4,384.6L42.2,384.4L46,384.3L49.7,384.6L53.5,385.1L57.2,385.6L60.9,386L64.3,386.1L67.5,385.9L70.6,385.5L73.5,384.9L76.3,384.2L79,383.4L81.8,382.4L84.5,381.2L87.1,379.9L89.6,378.8L91.9,377.9L94.1,377.2L96.3,376.8L98.3,376.5L99.9,376.2L101.1,376M3.7,387.1L5.6,388.1L8.3,389.7L11.5,391.5L15,393.2L18.4,394.4L21.8,395.2L25.5,395.7L29.2,396L33,396.1L36.8,396.2L40.7,396.2L45,396L49.1,395.8L52.6,395.5L55.1,395.3M90.1,398.3L90.2,396.7L90.4,394.5L90.6,391.9L90.8,389.4L91,387.1L91.2,384.9L91.4,382.8L91.6,380.8L91.8,379.1L91.9,377.9M160,306.2L158.9,306.7L157.3,307.4L155.4,308.2L153.5,309.1L151.7,309.9L150,310.7L148.4,311.5L146.8,312.4L145.2,313.1L143.4,313.5L141.3,313.6L139,313.4L136.7,313.1L134.7,312.8L133.3,312.6M163.3,240L163.5,241.9L163.8,244.5L164.2,247.6L164.7,250.8L165.1,253.8L165.6,256.6L166,259.6L166.5,262.5L167.1,265.2L167.9,267.6L168.9,269.6L170.1,271.3L171.4,272.8L172.6,274L173.4,274.9M191.8,240L190.7,241.3L189.3,243.1L187.6,245.2L185.9,247.3L184.4,249.2L183.1,250.8L181.7,252.3L180.4,253.7L179.2,255.1L178,256.5L176.8,257.9L175.6,259.2L174.4,260.6L173.4,262.1L172.5,263.9L171.7,266.1L170.9,268.6L170.3,271.4L169.9,274.1L169.7,276.8L169.8,279.5L170.2,282.5L170.7,285.4L171.2,287.9L171.5,289.6M246.9,264.8L247.9,264.6L249.4,264.2L251,263.9L252.7,263.7L254.3,263.9L255.6,264.5L256.9,265.3L258.2,266.4L259.4,267.5L260.7,268.5L262,269.4L263.3,270.2L264.6,271.1L265.9,272.1L267.1,273.1L268.3,274.3L269.4,275.5L270.5,276.9L271.6,278.2L272.6,279.5L273.8,280.9L274.9,282.2L276,283.6L277.1,284.8L278.2,286L279.2,286.9L280.2,287.8L281.2,288.5L282.3,289.1L283.7,289.6L285.2,290L286.9,290.2L288.7,290.2L290.7,290.4L292.9,290.6L295.4,290.9L298.3,291.3L301.3,291.7L304.2,292.1L306.7,292.4L308.8,292.5L310.8,292.5L312.5,292.5L314,292.4L315,292.4M274.5,295.1L273.5,296.4L272.1,298.3L270.4,300.4L268.7,302.5L267.1,304.3L265.7,305.8L264.3,307.2L262.9,308.5L261.4,309.6L259.8,310.8L258.1,311.9L256.4,312.9L254.6,313.8L252.7,314.7L250.6,315.4L248.2,316L245.5,316.4L242.8,316.8L240.1,317.1L237.7,317.2L235.5,317.2L233.3,317L231.4,316.7L229.7,316.5L228.5,316.3M248.8,316.3L250.4,316.5L252.7,316.8L255.3,317.2L258.1,317.7L260.7,318.1L263.2,318.6L265.7,319.1L268.3,319.7L270.6,320.3L272.6,320.9L274.3,321.6L275.5,322.3L276.6,323L277.8,323.8L279.1,324.6L280.6,325.3L282.2,326L283.9,326.8L285.6,327.5L287.4,328.2L289.3,329L291.4,329.9L293.5,330.7L295.3,331.4L296.5,331.9M315,298.8L313.8,299.5L312.1,300.5L310.1,301.6L308.2,302.9L306.7,304.3L305.4,305.9L304.3,307.7L303.4,309.7L302.6,311.6L302.1,313.5L301.8,315.4L301.9,317.4L302.1,319.3L302.2,321.1L302.1,322.7L301.6,324.1L301,325.4L300.3,326.5L299.4,327.4L298.4,328.2L297.1,328.9L295.7,329.4L294.1,329.8L292.6,330L291,330.1L289.4,329.9L287.7,329.5L286.1,329L284.7,328.5L283.7,328.2M166,324.6L166.5,326.2L167.2,328.4L168.1,331L168.9,333.8L169.7,336.5L170.5,339.2L171.3,342.1L172,345L172.8,347.8L173.4,350.3L173.9,352.6L174.3,354.7L174.7,356.7L175,358.3L175.2,359.5M199.1,343.9L200.6,343.5L202.8,343L205.3,342.4L207.9,341.8L210.1,341.1L212.2,340.4L214.4,339.5L216.4,338.7L218.1,337.9L219.3,337.4M204.6,359.5L204.9,361.4L205.1,364.2L205.5,367.4L206,370.5L206.5,373.3L207.1,375.7L208,378.1L208.9,380.2L209.6,382.1L210.1,383.4M177.1,383.4L179.1,382.4L182,380.9L185.3,379.3L188.7,377.9L191.8,376.9L194.7,376.7L197.7,376.8L200.5,377.2L202.9,377.6L204.6,377.9M155,309.9L156.2,309.1L158,308L160.1,306.8L162.2,305.5L164.2,304.3L166.1,303.2L168,302L169.8,300.8L171.7,299.7L173.4,298.8L175.1,298.2L176.8,297.7L178.4,297.4L179.8,297.2L180.7,297" stroke-width="1.9"/>
<path d="M73.5,204.5L73.6,203.4L73.6,201.9L73.7,200.2L74,198.5L74.4,197.1L75.2,196L76.2,194.9L77.4,193.9L78.7,193.1L80,192.5L81.3,192.2L82.8,192L84.4,192L85.9,192.2L87.3,192.5L88.7,193.1L90,194L91.3,194.9L92.5,196L93.8,197.1L95,198.2L96.2,199.4L97.3,200.6L98.4,202L99.3,203.6L100,205.5L100.7,207.8L101.2,210.2L101.7,212.2L102,213.7M213.8,101.5L212.9,102.5L211.5,103.8L210,105.3L208.2,106.8L206.5,108L204.5,108.8L202.3,109.4L200,110L198,110.7L196.4,111.7L195.3,113L194.6,114.5L194.2,116.2L193.9,118L193.6,119.9L193.4,122L193.3,124.4L193.3,126.8L193.4,129.1L193.6,131L193.9,132.5L194.3,133.8L194.8,134.9L195.2,135.8L195.4,136.5M221.2,96.9L221.4,99.1L221.6,102.2L221.9,105.7L222.4,109.3L223,112.6L223.9,115.5L224.9,118.4L226,121.1L227.2,123.8L228.5,126.4L229.8,128.8L231.2,131.1L232.6,133.3L234.1,135.4L235.9,137.4L237.9,139.3L240.2,141L242.6,142.7L244.9,144.2L246.9,145.7L248.6,146.9L250,148.1L251.4,149.1L252.7,150.1L254.3,151.2L255.9,152.3L257.6,153.4L259.4,154.6L261.4,155.6L263.5,156.7L266,157.7L269,158.8L271.9,159.8L274.5,160.7L276.3,161.3M282.8,97.9L281.6,99.3L279.9,101.3L278,103.6L276.1,106L274.5,108L273.1,109.6L271.8,110.9L270.6,112.3L269.7,113.7L269,115.3L268.5,117.3L268.4,119.3L268.4,121.6L268.6,123.9L269,126.4L269.6,128.9L270.6,131.5L271.6,134.2L272.7,137.1L273.6,140.1L274.3,143.7L275,147.6L275.6,151.6L276,155.4L276.3,158.5L276.3,161L276,162.9L275.6,164.5L275.4,166L275.4,167.7L275.8,169.6L276.3,171.5L277,173.4L277.9,175.2L279.1,176.9L280.6,178.4L282.6,179.8L284.7,181.1L286.6,182.6L288.3,184.3L289.5,186.2L290.5,188.3L291.4,190.5L292.1,192.9L292.9,195.3L293.6,197.9L294.4,200.8L295,203.8L295.5,206.6L295.6,209.1L295.4,211.4L294.8,213.5L294,215.5L293.3,217.1L292.9,218.3M256.1,103.4L258,105.4L260.6,108.3L263.7,111.6L266.9,115L269.9,118.1L272.7,120.8L275.6,123.3L278.5,125.8L281.2,128.4L283.7,131L285.8,133.7L287.8,136.5L289.5,139.3L291.2,142.1L292.9,144.7L294.5,147.3L296,149.8L297.4,152.3L298.8,154.6L300.2,156.7L301.6,158.6L302.9,160.4L304.1,162L305.4,163.5L306.7,165L308,166.3L309.5,167.6L311,168.8L312.2,169.8L313.1,170.5M283.7,97.9L284.7,99.2L286.2,101L287.9,103.2L289.6,105.6L291,108L292.3,110.5L293.5,113.2L294.6,116L295.6,118.9L296.5,121.8L297.4,124.7L298.3,127.7L299,130.7L299.7,133.6L300.2,136.5L300.6,139.2L301,141.9L301.2,144.5L301.2,147L301.1,149.3L300.9,151.5L300.5,153.5L300,155.3L299.3,157L298.4,158.5L297.2,160L295.9,161.3L294.3,162.4L292.7,163.4L291,164L289.2,164.4L287.3,164.5L285.3,164.4L283.5,164.2L281.8,164L280.4,163.8L279.1,163.4L278,162.9L277,162.5L276.3,162.2M75.4,243.7L75.4,244.7L75.4,246.1L75.5,247.7L75.7,249.4L76.3,251L77.2,252.5L78.5,254L79.9,255.4L81.4,256.9L82.7,258.4L83.9,259.8L85.1,261.1L86.2,262.5L87.3,264L88.2,265.7L89.1,267.7L89.8,269.9L90.4,272.2L91.1,274.5L91.9,276.8L92.9,279L93.9,281.3L94.9,283.5L96.1,285.7L97.4,287.8L98.8,289.8L100.4,291.6L102,293.4L103.8,295.2L105.7,297L108,299L110.8,301.1L113.6,303.2L116,304.9L117.6,306.2M130.5,312.6L129.6,313.5L128.2,314.8L126.7,316.3L125.2,318.1L124.1,320L123.2,322.2L122.6,325L122.1,327.8L121.6,330.2L121.3,331.9M180.7,256.5L181,258.1L181.2,260.2L181.6,262.8L182.1,265.3L182.6,267.6L183.3,269.5L184.1,271.3L185,273L185.8,274.8L186.2,276.8L186.3,279L186.2,281.6L185.9,284.1L185.5,286.3L185.3,287.8M228.5,240L229.6,241.2L231.1,243L232.9,245.1L234.5,247.2L235.9,249.2L236.9,251.1L237.9,253L238.7,255L239.2,256.8L239.6,258.4L239.6,259.8L239.5,260.9L239.1,262L238.5,263L237.7,263.9L236.6,264.8L235.2,265.6L233.6,266.4L231.9,267L230.4,267.6L228.8,267.9L227.1,268.2L225.4,268.3L224,268.4L223,268.5" stroke-width="2.2"/>
<path d="M43.2,164L42,165.3L40.4,167.1L38.4,169.3L36.5,171.4L34.9,173.2L33.6,174.8L32.5,176.2L31.4,177.5L30.4,179L29.4,180.6L28.4,182.4L27.4,184.3L26.5,186.3L25.6,188.4L24.8,190.7L24.1,193.4L23.4,196.6L22.9,199.8L22.4,202.6L22.1,204.5M27.6,199.9L28.1,201.8L28.9,204.4L29.7,207.5L30.6,210.7L31.2,213.7L31.8,216.4L32.2,219L32.6,221.7L32.9,224.5L33.1,227.5L33.1,231L32.9,235.1L32.6,239.1L32.3,242.6L32.2,245M190.8,88.7L191.9,89.5L193.4,90.6L195.2,91.9L197.2,93.2L199.1,94.2L201.2,94.9L203.5,95.6L205.9,96.1L208.1,96.6L210.1,96.9L212,97.3L213.7,97.5L215.3,97.7L216.6,97.8L217.5,97.9M155,232.1L156.7,230.9L159.2,229.3L162.1,227.3L165.1,225.1L167.9,222.9L170.5,220.5L173.2,217.9L175.9,215.1L178.4,212.2L180.7,209.1L182.9,205.7L184.9,202.1L186.8,198.3L188.5,194.4L189.9,190.7L191.1,186.9L192,183.1L192.7,179.3L193.2,175.7L193.6,172.3L193.8,169L193.9,165.8L193.8,162.8L193.7,160.3L193.6,158.5M296.5,90.5L297.9,92L299.7,94.1L301.9,96.6L304,99.2L305.7,101.5L307.2,103.9L308.5,106.5L309.6,109L310.6,111.1L311.2,112.6M155,245L156.2,244.5L157.8,243.6L159.7,242.7L161.9,241.9L164.2,241.2L166.7,240.9L169.4,240.8L172.2,240.7L175.1,240.6L178,240.3L180.7,239.9L183.4,239.5L186.2,239L188.9,238.3L191.8,237.6L194.9,236.6L198.3,235.3L201.6,234L204.5,232.9L206.5,232.1M241.4,179.7L239.6,186.1M70.8,243.7L70.4,245.7L70,248.5L69.4,251.8L68.8,255.2L68,258.4L67.1,261.4L66.2,264.4L65.1,267.5L63.9,270.4L62.5,273.1L60.9,275.6L59.1,278L57.2,280.3L55.2,282.3L53.3,284.1L51.4,285.6L49.5,286.9L47.5,288L45.7,288.9L44.1,289.6L42.7,290.1L41.4,290.4L40.2,290.5L39.3,290.5L38.6,290.6M126.8,390.7L128.7,398.3M187.2,311.7L188.5,311.3L190.3,310.7L192.4,310L194.6,309.1L196.4,308L197.8,306.7L199.2,305L200.4,303.3L201.6,301.5L202.8,299.7L204,298L205.3,296L206.5,294.2L207.6,292.6L208.3,291.5M271.7,240L272.5,240.9L273.7,242.2L275,243.8L276.3,245.5L277.2,247.4L277.9,249.3L278.3,251.4L278.7,253.6L278.9,255.9L279.1,258.4L279.2,261L279.3,263.8L279.2,266.7L279.2,269.5L279.1,272.2L279,274.7L278.9,277.1L278.8,279.5L278.5,281.8L278.2,284.1L277.6,286.3L276.8,288.5L276,290.6L275.2,292.8L274.5,295.1L273.8,297.7L273.2,300.5L272.7,303.3L272.1,306.1L271.7,308.9L271.4,311.8L271.1,314.7L270.9,317.5L270.8,320.3L270.8,322.7L271,325L271.4,327.2L271.9,329.1L272.4,330.7L272.6,331.9M315,274L313.8,274.4L312,274.9L309.9,275.5L307.7,276.1L305.7,276.8L303.9,277.4L302,278L300.1,278.7L298.3,279.5L296.5,280.4L294.8,281.6L293,282.9L291.3,284.3L289.7,286L288.3,287.8L286.9,289.9L285.7,292.2L284.6,294.6L283.6,297.2L282.8,299.7L282.1,302.5L281.5,305.3L281.1,308.3L280.9,311L280.9,313.5L281.2,315.8L281.8,318L282.6,319.9L283.2,321.5L283.7,322.7M228.5,297L229.8,298L231.6,299.4L233.7,301L235.9,302.8L237.7,304.3L239.4,305.9L241,307.4L242.5,308.9L243.9,310.4L245.1,311.7L246.1,312.9L247,313.9L247.7,314.9L248.3,315.7L248.8,316.3M215.7,314.9L216.7,315L218.3,315.1L220.1,315.3L221.8,315.7L223,316.3L223.8,317.4L224.2,318.8L224.5,320.4L224.7,321.8L224.9,322.7M155,320.9L156.2,321L158,321.1L160.1,321.2L162.2,321.2L164.2,320.9L166,320.3L167.9,319.4L169.7,318.3L171.5,317.3L173.4,316.3L175.4,315.3L177.5,314.2L179.6,313.2L181.3,312.3L182.6,311.7M163.3,321.8L162.9,323.2L162.4,325.2L161.8,327.4L161.1,329.8L160.5,331.9L159.9,333.7L159.3,335.4L158.7,337.1L158.2,339L157.8,341.1L157.5,343.7L157.3,346.7L157.2,349.8L157.1,352.6L156.8,354.9L156.5,356.5L156.1,357.6L155.6,358.4L155.3,359L155,359.5M226.7,322.7L227.7,324L229,325.9L230.6,328L232.3,330.1L234,331.9L235.7,333.4L237.4,334.9L239.2,336.2L241.1,337.3L243.2,338.3L245.6,339.1L248.3,339.7L251,340.1L253.7,340.6L256.1,341.1L258.2,341.8L260.2,342.6L262.1,343.5L263.7,344.2L265.3,344.8L266.7,345.2L268,345.4L269.2,345.5L270.1,345.6L270.8,345.7M201,341.1L200.7,342.4L200.4,344.2L200.1,346.3L199.9,348.4L200,350.3L200.6,352L201.6,353.6L202.7,355.1L203.7,356.5L204.6,357.6L205.3,358.5L206,359.2L206.6,359.7L207,360.1L207.4,360.4M155,371.4L156,372L157.4,372.9L159.1,373.9L160.8,374.7L162.4,375.1L163.9,375.1L165.6,374.7L167.3,374.1L168.7,373.6L169.7,373.3M214.7,387.1L215.4,387.8L216.4,388.9L217.5,390.1L218.5,391.4L219.3,392.6L219.9,393.8L220.4,395.1L220.7,396.4L221,397.5L221.2,398.3" stroke-width="2.4"/>
<path d="M3.7,114.4L4.8,115.7L6.5,117.5L8.3,119.6L10.2,121.7L11.9,123.6L13.6,125.1L15.4,126.4L17,127.6L18.2,129.1L18.8,131L18.6,133.3L17.7,136L16.4,138.9L15,141.9L13.8,144.7L12.7,147.5L11.5,150.3L10.3,153L9.2,155.8L8.3,158.5L7.4,161.3L6.7,164L6.1,166.8L5.5,169.6L5.1,172.3L4.7,175.3L4.5,178.5L4.3,181.6L4.2,184.2L4.1,186.1M18.4,243.7L18.3,245L18.2,246.9L18.1,249.1L18.1,251.5L18.4,253.8L18.8,256.1L19.5,258.5L20.2,260.9L21.1,263.4L22.1,265.7L23.1,268L24.3,270.2L25.7,272.4L27,274.6L28.5,276.8L30,279L31.7,281.4L33.4,283.7L35.1,285.9L36.8,287.8L38.2,289.4L39.6,290.7L41,291.9L42.4,293L44.1,294.2L46.1,295.5L48.2,296.8L50.5,298L52.8,299.3L55.1,300.7L57.7,302.2L60.4,303.9L63.1,305.6L65.5,307L67.1,308M67.1,308L68.7,307.3L71,306.3L73.6,305.1L76.4,303.8L79,302.5L81.6,301.2L84.3,299.8L87,298.3L89.6,296.8L91.9,295.1L94,293.4L95.9,291.6L97.6,289.7L99.3,287.8L101.1,286L102.9,284.1L104.8,282.3L106.6,280.4L108.5,278.6L110.3,276.8L112.1,274.9L114,272.9L115.8,271L117.6,269.2L119.5,267.6L121.3,266.2L123.2,265.1L125,264.1L126.8,263.1L128.7,262.1L130.5,261L132.4,259.9L134.2,258.8L136,257.7L137.9,256.5L139.6,255.3L141.4,254L143.1,252.7L145,251.4L147.1,250.1L149.6,248.9L152.6,247.6L155.6,246.4L158.2,245.3L160,244.6M3.7,308L5.2,308.7L7.4,309.6L9.9,310.8L12.4,312.1L14.7,313.5L16.7,315.1L18.6,316.9L20.4,318.9L22.2,320.8L23.9,322.7L25.5,324.6L27.1,326.4L28.7,328.2L30,330.1L31.2,331.9L32.2,333.7L33,335.4L33.7,337.1L34.3,339L34.9,341.1L35.5,343.6L36.1,346.5L36.6,349.5L37.1,352.4L37.7,354.9L38.2,356.9L38.8,358.7L39.4,360.3L39.9,362L40.4,364.1L40.9,366.4L41.3,368.9L41.7,371.7L42,374.6L42.3,377.9L42.5,381.9L42.8,386.5L42.9,391.3L43.1,395.4L43.2,398.3M223,249.2L223.7,249.9L224.6,250.9L225.8,252.1L227.1,253.4L228.5,254.7L230.2,256.1L232,257.6L234,259.2L235.9,260.7L237.7,262.1L239.3,263.2L240.9,264.2L242.4,265.1L243.7,266.2L245.1,267.6L246.4,269.5L247.7,271.8L248.9,274.1L249.9,276.2L250.6,277.7" stroke-width="2.6"/>
<path d="M200,116.2L200.2,116.9L200.5,117.6L200.8,118.6L201,120L201,121.8L200.6,124.1L200.1,127.1L199.4,130.3L198.7,133.5L198.2,136.5L197.7,139.1L197.2,141.7L196.7,144.2L196.4,146.7L196.4,149.3L196.6,152L197.2,154.8L197.9,157.6L198.6,160.4L199.1,163.1L199.6,165.9L200.1,168.6L200.6,171.4L200.9,174.2L201,176.9L200.8,179.7L200.4,182.4L199.8,185.2L199.1,187.9L198.2,190.7L197.2,193.5L196,196.2L194.7,199L193.3,201.7L191.8,204.5L190.2,207.3L188.5,210.1L186.6,212.9L184.7,215.6L182.6,218.3L180.3,220.8L177.8,223.3L175.2,225.7L172.5,228L169.7,230.2L166.6,232.4L163.3,234.5L159.9,236.5L157,238.2L155,239.4M223.9,199.9L223.2,201.8L222.3,204.5L221.1,207.6L219.8,210.8L218.4,213.7L216.9,216.4L215.1,219L213.3,221.6L211.6,224.2L210.1,226.5L209.1,228.9L208.2,231.3L207.5,233.5L206.9,235.3L206.5,236.7M173.4,207.2L174.2,207.6L175.3,208.1L176.6,208.8L177.9,209.4L178.9,210L179.7,210.6L180.3,211.2L180.9,211.9L181.3,212.4L181.7,212.8M182.6,222.9L182.4,224.1L182.2,225.7L181.9,227.7L181.7,229.8L181.7,232.1L181.7,234.6L181.9,237.6L182.2,240.6L182.4,243.2L182.6,245M160,267.6L158.3,267.3L155.8,267L152.9,266.6L149.9,266.1L147.1,265.7L144.3,265.3L141.5,264.8L138.6,264.3L135.9,264L133.3,263.9L130.8,264L128.5,264.3L126.3,264.8L124.2,265.6L122.2,266.7L120.4,268.2L118.8,270.2L117.3,272.4L115.9,274.7L114.9,276.8L114.1,278.7L113.6,280.6L113.3,282.5L113.1,284.3L113.1,286L113.2,287.7L113.6,289.4L114.1,291L114.6,292.3L114.9,293.3M90.1,306.2L89.3,306.6L88.1,307.1L86.8,307.8L85.6,308.7L84.6,309.9L83.7,311.3L83,313L82.4,315L82,317L81.8,319L82,321.1L82.4,323.3L83.1,325.6L83.8,327.8L84.6,330.1L85.4,332.3L86.3,334.6L87.3,336.8L88.3,339L89.2,341.1L90,343.1L90.8,344.9L91.6,346.7L92.3,348.5L92.8,350.3L93.3,352.1L93.7,354L94,355.8L94,357.6L93.8,359.5L93.1,361.3L92.1,363.2L90.9,365L89.6,366.8L88.2,368.7L86.8,370.5L85.2,372.4L83.5,374.2L82,376L80.9,377.9L80.1,379.7L79.6,381.4L79.2,383.2L79.1,385.1L79,387.1L79.2,389.4L79.6,391.9L80.1,394.5L80.6,396.7L80.9,398.3M150.7,390.7L151.7,398.3M155,245.5L156.9,245.3L159.5,244.9L162.6,244.5L165.8,244.1L168.8,243.7L171.8,243.3L175,242.9L178.1,242.4L180.7,242.1L182.6,241.8M206.5,331.9L208.3,331.4L211,330.6L214,329.7L216.9,328.9L219.3,328.2L221.3,327.9L223,327.6L224.5,327.5L225.8,327.4L226.7,327.3M224.9,330.1L225.4,331.6L226.1,333.8L226.9,336.3L227.8,338.8L228.5,341.1L229.1,343.1L229.7,345L230.2,346.8L230.7,348.6L231.3,350.3L231.9,351.9L232.6,353.5L233.3,355L234.1,356.4L235,357.6L236,358.8L237.3,359.9L238.6,360.9L239.7,361.7L240.5,362.2M272.6,350.3L273.6,351.6L275,353.4L276.6,355.6L278.3,357.7L280,359.5L281.8,360.9L283.6,362.3L285.6,363.5L287.4,364.7L289.2,365.9L290.8,367.2L292.3,368.4L293.7,369.6L295.1,370.9L296.5,372.4L298,374L299.6,375.8L301.1,377.7L302.5,379.7L303.9,381.5L305.2,383.5L306.5,385.7L307.7,387.7L308.7,389.5L309.4,390.7M173.4,372.4L173.7,373.4L174.2,374.8L174.7,376.4L175.1,378.1L175.2,379.7L175.1,381.2L174.9,382.8L174.6,384.3L174,385.8L173.4,387.1L172.5,388.1L171.4,389L170.1,389.8L168.9,390.6L167.9,391.7L167,393L166.1,394.5L165.3,396L164.7,397.3L164.2,398.3M210.1,383.4L209.6,384.5L208.9,386.2L208.1,388.1L207.3,390L206.5,391.7L205.7,393.2L204.8,394.7L204,396.2L203.3,397.4L202.8,398.3" stroke-width="2.9"/>
<path d="M22.1,204.5L21.9,206.4L21.6,209L21.3,212.1L21.1,215.3L21.1,218.3L21.4,221.1L21.8,224L22.3,226.9L23,229.6L23.9,232.1L25.1,234.3L26.7,236.3L28.4,238.2L29.9,239.8L31.2,241.2L32.3,242.4L33.2,243.3L33.9,244L34.5,244.6L34.9,245" stroke-width="3"/>
<path d="M173.4,144.7L174.1,144L175.1,142.9L176.3,141.7L177.6,140.7L178.9,140.1L180.2,140L181.7,140.2L183.2,140.5L184.8,141.2L186.2,142L187.8,143.1L189.4,144.5L190.9,146.1L192.4,147.7L193.6,149.3L194.5,151L195.2,152.7L195.7,154.5L196.4,156.1L197.3,157.6L198.5,158.9L199.9,160.1L201.4,161.1L203,162.1L204.6,163.1L206.4,164.1L208.3,165.1L210.2,166L212.1,166.9L213.8,167.7L215.5,168.6L217.2,169.4L218.9,170.2L220.2,170.9L221.2,171.4M246.9,90.5L248.8,90.9L251.4,91.4L254.5,92L257.7,92.6L260.7,93.3L263.5,94L266.5,94.8L269.4,95.6L272.1,96.4L274.5,96.9L276.6,97.3L278.6,97.6L280.3,97.7L281.7,97.8L282.8,97.9M223,213.7L225,213.8L227.7,214.1L230.9,214.3L234.3,214.5L237.7,214.6L241.2,214.5L244.8,214.2L248.6,213.9L252.4,213.7L256.1,213.7L259.9,213.8L263.7,214.1L267.5,214.5L271.1,215L274.5,215.5L277.5,216.1L280.3,216.9L283,217.7L285.6,218.5L288.3,219.2L291.2,219.8L294.4,220.5L297.5,221.1L300.2,221.6L302.1,221.9M189.9,216.4L190.8,216.9L192,217.7L193.4,218.5L194.9,219.4L196.4,220.1L197.8,220.7L199.4,221.1L200.9,221.6L202.4,222.2L203.7,222.9L204.9,223.9L206,225.1L206.9,226.4L207.7,227.6L208.3,228.4M34.9,243.7L34.6,244.7L34.1,246.1L33.5,247.7L32.9,249.4L32.2,251L31.4,252.6L30.4,254.1L29.4,255.7L28.5,257.1L27.6,258.4L26.7,259.4L25.9,260.3L25.1,261L24.4,261.6L23.9,262.1M3.7,292.4L4.4,293.3L5.4,294.7L6.6,296.3L7.9,297.7L9.2,298.8L10.5,299.5L11.9,300.1L13.4,300.4L14.9,300.6L16.5,300.7L18.3,300.6L20.1,300.4L22,300L23.9,299.5L25.7,298.8L27.6,297.9L29.4,296.7L31.2,295.4L33.1,294.2L34.9,293.3L36.9,292.7L39,292.2L41.1,291.9L42.9,291.7L44.1,291.5M90.1,306.2L91.6,306.3L93.7,306.5L96.2,306.7L98.7,306.9L101.1,307.1L103.4,307.3L105.7,307.5L108,307.7L110.2,307.9L112.1,308L113.7,308.1L115,308L116.3,308L117.7,308L119.5,308L121.9,308.2L124.6,308.5L127.6,308.8L130.5,309L133.3,308.9L135.7,308.7L138,308.3L140.3,307.8L142.7,307.1L145.2,306.2L148.2,304.9L151.6,303.2L155,301.5L158,299.9L160,298.8M105.7,343.9L104.8,345.2L103.5,347L102.1,349.1L100.6,351.2L99.3,353.1L97.9,354.5L96.4,355.8L95,357L94,358.2L93.8,359.5L94.4,360.8L95.7,362.1L97.4,363.3L99.3,364.6L101.1,365.9L102.8,367.2L104.6,368.4L106.5,369.6L108.4,370.9L110.3,372.4L112.1,373.9L114,375.6L115.8,377.4L117.6,379.1L119.5,380.6L121.2,382.1L122.9,383.5L124.7,384.8L126.5,386L128.7,387.1L131.1,388L133.7,388.7L136.5,389.4L139.4,390L142.5,390.7L146,391.5L150.1,392.4L154.1,393.2L157.6,393.9L160,394.4M219.3,240L219.6,241.9L220,244.5L220.5,247.6L220.9,250.8L221.2,253.8L221.3,256.6L221.4,259.4L221.4,262.3L221.3,265L221.2,267.6L221,270.1L220.7,272.5L220.4,274.8L219.9,276.9L219.3,278.6L218.5,280L217.5,281.1L216.4,282L215.4,282.7L214.7,283.2M187.2,311.7L188.5,312.3L190.3,313.1L192.4,314.1L194.6,315.2L196.4,316.3L197.9,317.4L199.4,318.6L200.7,319.9L201.8,321.2L202.8,322.7L203.5,324.4L204.1,326.3L204.5,328.2L204.7,330.1L204.6,331.9L204.3,333.6L203.7,335.2L203,336.8L202,338.2L201,339.3L199.7,340.1L198.4,340.7L196.9,341L195.2,341.2L193.6,341.1L191.9,340.8L190,340.1L188,339.3L186.2,338.4L184.4,337.4L182.8,336.5L181.2,335.4L179.6,334.3L178.3,333.1L177.1,331.9L176,330.7L175,329.4L174.1,328L173.6,326.7L173.4,325.5L173.6,324.2L174.3,323L175.2,321.8L176.1,320.8L177.1,320L178,319.5L179.1,319.2L180.1,319.1L181,319.1L181.7,319M303.9,240L304.6,241.2L305.6,243L306.8,245.1L307.8,247.2L308.5,249.2L308.9,251.1L309.1,253L309.2,254.8L309,256.7L308.5,258.4L307.6,260L306.4,261.5L305,262.9L303.5,264.3L302.1,265.7L300.6,267.2L299.1,268.6L297.6,270.1L296.1,271.6L294.7,273.1L293.5,274.7L292.4,276.3L291.3,278L290.3,279.7L289.2,281.4L288,283.1L286.7,285.1L285.5,286.9L284.4,288.5L283.7,289.6M213.8,283.2L214.9,283.4L216.3,283.6L218,283.9L219.7,284.3L221.2,285L222.5,285.9L223.7,287L224.9,288.2L225.9,289.7L226.7,291.5L227.2,293.6L227.5,296.1L227.6,298.8L227.6,301.6L227.6,304.3L227.6,307.1L227.4,309.9L227.2,312.7L227,315.5L226.7,318.1L226.4,320.8L225.9,323.6L225.5,326.2L225.1,328.5L224.9,330.1M256.1,362.2L257.4,362.3L259.1,362.5L261.2,362.6L263.3,362.8L265.3,363.2L267.1,363.6L269,364L270.8,364.6L272.6,365.2L274.5,365.9L276.3,366.7L278.2,367.5L280,368.4L281.8,369.4L283.7,370.5L285.7,371.9L287.8,373.6L289.9,375.3L291.6,376.8L292.9,377.9M228.5,372.4L227.5,372.7L226,373.1L224.3,373.6L222.6,374.3L221.2,375.1L220,376.2L218.8,377.6L217.8,379.1L216.7,380.5L215.7,381.5L214.5,382.2L213.2,382.7L212,383L210.9,383.2L210.1,383.4" stroke-width="3.1"/>
<path d="M105.7,245.5L107,246.7L108.8,248.3L110.9,250.2L113,252.1L114.9,253.8L116.6,255.3L118.3,256.8L119.9,258.2L121.3,259.4L122.2,260.2M119.5,308L119.6,310L119.8,312.9L120,316.2L120.2,319.6L120.4,322.7L120.6,325.6L120.8,328.5L121,331.4L121.1,334.1L121.3,336.5L121.5,338.6L121.6,340.5L121.8,342.2L122,343.9L122.2,345.7L122.5,347.6L122.7,349.7L123,351.7L123.4,353.5L124.1,354.9L125,355.9L126.2,356.5L127.5,356.9L129,357.3L130.5,357.6L132.2,358L134.1,358.3L136,358.5L137.9,358.9L139.7,359.5L141.3,360.3L142.7,361.4L144.1,362.6L145.5,363.8L147.1,365L148.9,366.3L150.9,367.7L152.9,369.1L154.7,370.4L156.2,371.4L157.4,372.1L158.3,372.6L159,372.9L159.6,373.1L160,373.3M256.1,362.2L254.8,363L252.9,364L250.8,365.2L248.7,366.4L246.9,367.8L245.5,369.1L244.3,370.5L243.2,372L242.2,373.6L241.4,375.1L240.7,376.7L240.3,378.4L239.9,380.1L239.7,381.8L239.6,383.4L239.6,385L239.8,386.7L240,388.4L240.3,389.7L240.5,390.7" stroke-width="3.4"/>
<path d="M3.7,182.4L4.6,183.2L5.9,184.2L7.5,185.5L9.2,186.7L11,187.9L13.1,189.1L15.4,190.2L17.9,191.3L20.1,192.4L22.1,193.5L23.4,194.4L24.4,195.1L25.2,195.9L26.2,196.9L27.6,198.1L29.3,199.6L31.3,201.3L33.5,203.2L36,205.2L38.6,207.2L41.6,209.3L44.8,211.6L48.3,213.8L51.8,216.1L55.1,218.3L58.5,220.4L62,222.5L65.5,224.6L68.7,226.6L71.7,228.4L74.2,230.1L76.4,231.7L78.4,233.1L80.5,234.5L82.7,235.7L85.1,236.9L87.6,237.9L90.2,238.9L92.9,239.7L95.6,240.3L98.4,240.8L101.2,241.1L104.1,241.2L107.1,241.2L110.3,241.2L113.7,241.2L117.4,241.1L121.1,241L124.9,240.7L128.7,240.3L132.4,239.8L136.3,239.2L140.1,238.5L143.7,237.6L147.1,236.7L150.2,235.4L153.3,234L156,232.5L158.3,231.1L160,230.2M3.7,202.6L4.7,203.1L6.1,203.7L7.7,204.4L9.4,205L11,205.4L12.5,205.5L14.1,205.5L15.6,205.4L17,205L18.4,204.5L19.7,203.6L21,202.3L22.2,201L23.2,199.8L23.9,199M55.1,233.9L55.5,234.7L56.1,235.9L56.7,237.2L57.4,238.5L57.9,239.4L58.4,240L58.8,240.5L59.2,240.8L59.5,241.1L59.7,241.2M291,88.7L292.3,89.4L294.1,90.3L296.2,91.5L298.4,92.8L300.2,94.2L301.9,95.8L303.4,97.5L304.9,99.4L306.3,101.4L307.6,103.4L308.7,105.5L309.8,107.6L310.7,109.8L311.5,112.1L312.2,114.4L312.7,116.9L313,119.7L313.2,122.4L313.4,124.7L313.5,126.4M287.4,220.1L288.4,221.2L289.8,222.9L291.4,224.7L293.1,226.7L294.7,228.4L296.2,229.9L297.7,231.3L299.2,232.7L300.7,234.2L302.1,235.7L303.4,237.6L304.7,239.8L305.9,241.9L306.9,243.7L307.6,245M204.6,240L204.9,241.2L205.1,242.8L205.5,244.7L206,246.9L206.5,249.2L207.1,251.7L207.8,254.4L208.6,257.2L209.4,260.1L210.1,263L210.9,265.9L211.8,268.8L212.6,271.8L213.3,274.5L213.8,276.8L214.1,278.4L214.3,279.6L214.3,280.6L214.1,281.7L213.8,283.2L213.3,285.2L212.6,287.5L211.7,290L210.9,292.6L210.1,295.1L209.5,297.8L208.9,300.6L208.4,303.5L207.9,306.3L207.4,308.9L206.9,311.6L206.5,314.4L206.1,317.1L205.8,319.3L205.6,320.9M155,266.7L156.3,266.6L158.1,266.4L160.2,266.3L162.3,266.3L164.2,266.7L165.8,267.4L167.4,268.4L168.8,269.6L170.2,270.9L171.5,272.2L172.8,273.4L173.9,274.5L174.9,275.8L176,277.1L177.1,278.6L178.2,280.3L179.4,282.1L180.6,284L181.7,285.9L182.6,287.8L183.2,289.7L183.7,291.6L184.1,293.4L184.3,295.3L184.4,297L184.3,298.6L184,300.1L183.7,301.5L183.4,302.9L183.5,304.3L184,305.9L184.8,307.6L185.7,309.3L186.6,310.7L187.2,311.7M272.6,331.9L272.6,333.2L272.4,334.9L272.3,337L272,339.1L271.7,341.1L271.4,343L271,344.9L270.6,346.7L269.9,348.6L269,350.3L267.6,351.9L265.9,353.5L264,355.1L262.2,356.4L260.7,357.6L259.5,358.7L258.4,359.6L257.4,360.3L256.7,360.9L256.1,361.3M274.5,327.3L275.5,328.6L276.9,330.3L278.5,332.4L280.2,334.5L281.8,336.5L283.3,338.4L284.8,340.4L286.3,342.4L287.7,344.2L289.2,345.7L290.7,346.8L292.2,347.6L293.7,348.3L295.2,349.2L296.5,350.3L297.7,351.8L298.8,353.6L299.8,355.6L300.9,357.6L302.1,359.5L303.4,361.4L305,363.4L306.5,365.3L308,367.1L309.4,368.7L310.7,370L312,371.1L313.3,372L314.3,372.7L315,373.3M279.1,336.5L279.9,338.4L281.1,341L282.6,344.1L284.1,347.3L285.5,350.3L287,353.1L288.5,355.8L290,358.6L291.5,361.3L292.9,364.1L294.1,366.9L295.1,369.8L296.1,372.7L297.2,375.4L298.4,377.9L299.8,380L301.3,381.8L302.8,383.5L304.4,385.2L305.7,387.1L307,389.3L308.3,391.9L309.5,394.4L310.5,396.6L311.2,398.1M163.3,357.6L164.2,358.2L165.4,359.2L166.9,360.1L168.4,360.9L169.7,361.3L171,361.2L172.3,360.7L173.6,360L174.6,359.2L175.2,358.6L175.3,358L174.9,357.3L174.3,356.7L173.7,356.2L173.4,355.8" stroke-width="3.6"/>
<path d="M224.9,88.7L224,89.7L222.9,91.2L221.5,93L220.3,94.9L219.3,96.9L218.7,99.1L218.2,101.3L217.9,103.7L217.6,106.3L217.5,108.9L217.5,111.6L217.8,114.5L218.1,117.5L218.3,120.5L218.4,123.6L218.4,126.8L218.2,130L218,133.3L217.7,136.7L217.5,140.1L217.3,143.8L217,147.6L216.8,151.4L216.6,155.1L216.6,158.5L216.6,161.6L216.7,164.4L216.8,167L217.1,169.6L217.5,172.3L218.1,175.1L218.9,178.1L219.7,180.9L220.5,183.6L221.2,186.1L221.8,188.2L222.3,189.9L222.8,191.5L223,193.2L223,195.3L222.7,197.8L222,200.6L221.2,203.5L220.3,206.4L219.3,209.1L218.4,211.6L217.3,214L216.1,216.4L215,218.7L213.8,221L212.7,223.3L211.5,225.4L210.4,227.6L209.3,229.7L208.3,232.1L207.4,234.7L206.5,237.7L205.8,240.7L205.1,243.2L204.6,245M114.9,293.3L116.1,293.1L117.8,292.7L119.8,292.3L121.9,291.9L124.1,291.5L126.4,291.1L128.8,290.7L131.4,290.4L133.8,290L136,289.6L138,289.2L139.8,288.6L141.4,288.1L142.9,287.8L144.3,287.8L145.5,288.1L146.6,288.8L147.6,289.6L148.3,290.5L148.9,291.5L149.3,292.5L149.5,293.6L149.5,294.8L149.3,296L148.9,297L148.2,297.9L147.3,298.6L146.2,299.3L144.9,300L143.4,300.7L141.7,301.3L139.7,301.9L137.6,302.5L135.4,303L133.3,303.4L130.9,303.7L128.4,304L125.9,304.1L123.8,304.2L122.2,304.3M306.7,382.5L307.3,383.8L308.3,385.6L309.4,387.7L310.4,389.8L311.2,391.7L311.8,393.2L312.3,394.8L312.6,396.2L312.9,397.4L313.1,398.3" stroke-width="4.1"/>
<path d="M48.7,165L47.6,165.9L45.9,167.3L44,168.9L42.1,170.6L40.4,172.3L39,174L37.7,175.7L36.5,177.5L35.3,179.5L34,181.5L32.6,183.9L31.1,186.7L29.7,189.4L28.4,191.8L27.6,193.5" stroke-width="4.3"/>
</g><g stroke="#c8c8c8" opacity="0.6">
<path d="M48.7,165L47.6,165.9L45.9,167.3L44,168.9L42.1,170.6L40.4,172.3L39,174L37.7,175.7L36.5,177.5L35.3,179.5L34,181.5L32.6,183.9L31.1,186.7L29.7,189.4L28.4,191.8L27.6,193.5" stroke-width="1.4"/>
<path d="M3.7,182.4L4.6,183.2L5.9,184.2L7.5,185.5L9.2,186.7L11,187.9L13.1,189.1L15.4,190.2L17.9,191.3L20.1,192.4L22.1,193.5L23.4,194.4L24.4,195.1L25.2,195.9L26.2,196.9L27.6,198.1L29.3,199.6L31.3,201.3L33.5,203.2L36,205.2L38.6,207.2L41.6,209.3L44.8,211.6L48.3,213.8L51.8,216.1L55.1,218.3L58.5,220.4L62,222.5L65.5,224.6L68.7,226.6L71.7,228.4L74.2,230.1L76.4,231.7L78.4,233.1L80.5,234.5L82.7,235.7L85.1,236.9L87.6,237.9L90.2,238.9L92.9,239.7L95.6,240.3L98.4,240.8L101.2,241.1L104.1,241.2L107.1,241.2L110.3,241.2L113.7,241.2L117.4,241.1L121.1,241L124.9,240.7L128.7,240.3L132.4,239.8L136.3,239.2L140.1,238.5L143.7,237.6L147.1,236.7L150.2,235.4L153.3,234L156,232.5L158.3,231.1L160,230.2" stroke-width="1.2"/>
<path d="M3.7,202.6L4.7,203.1L6.1,203.7L7.7,204.4L9.4,205L11,205.4L12.5,205.5L14.1,205.5L15.6,205.4L17,205L18.4,204.5L19.7,203.6L21,202.3L22.2,201L23.2,199.8L23.9,199" stroke-width="1.2"/>
<path d="M22.1,204.5L21.9,206.4L21.6,209L21.3,212.1L21.1,215.3L21.1,218.3L21.4,221.1L21.8,224L22.3,226.9L23,229.6L23.9,232.1L25.1,234.3L26.7,236.3L28.4,238.2L29.9,239.8L31.2,241.2L32.3,242.4L33.2,243.3L33.9,244L34.5,244.6L34.9,245" stroke-width="1"/>
<path d="M55.1,233.9L55.5,234.7L56.1,235.9L56.7,237.2L57.4,238.5L57.9,239.4L58.4,240L58.8,240.5L59.2,240.8L59.5,241.1L59.7,241.2" stroke-width="1.2"/>
<path d="M224.9,88.7L224,89.7L222.9,91.2L221.5,93L220.3,94.9L219.3,96.9L218.7,99.1L218.2,101.3L217.9,103.7L217.6,106.3L217.5,108.9L217.5,111.6L217.8,114.5L218.1,117.5L218.3,120.5L218.4,123.6L218.4,126.8L218.2,130L218,133.3L217.7,136.7L217.5,140.1L217.3,143.8L217,147.6L216.8,151.4L216.6,155.1L216.6,158.5L216.6,161.6L216.7,164.4L216.8,167L217.1,169.6L217.5,172.3L218.1,175.1L218.9,178.1L219.7,180.9L220.5,183.6L221.2,186.1L221.8,188.2L222.3,189.9L222.8,191.5L223,193.2L223,195.3L222.7,197.8L222,200.6L221.2,203.5L220.3,206.4L219.3,209.1L218.4,211.6L217.3,214L216.1,216.4L215,218.7L213.8,221L212.7,223.3L211.5,225.4L210.4,227.6L209.3,229.7L208.3,232.1L207.4,234.7L206.5,237.7L205.8,240.7L205.1,243.2L204.6,245" stroke-width="1.3"/>
<path d="M200,116.2L200.2,116.9L200.5,117.6L200.8,118.6L201,120L201,121.8L200.6,124.1L200.1,127.1L199.4,130.3L198.7,133.5L198.2,136.5L197.7,139.1L197.2,141.7L196.7,144.2L196.4,146.7L196.4,149.3L196.6,152L197.2,154.8L197.9,157.6L198.6,160.4L199.1,163.1L199.6,165.9L200.1,168.6L200.6,171.4L200.9,174.2L201,176.9L200.8,179.7L200.4,182.4L199.8,185.2L199.1,187.9L198.2,190.7L197.2,193.5L196,196.2L194.7,199L193.3,201.7L191.8,204.5L190.2,207.3L188.5,210.1L186.6,212.9L184.7,215.6L182.6,218.3L180.3,220.8L177.8,223.3L175.2,225.7L172.5,228L169.7,230.2L166.6,232.4L163.3,234.5L159.9,236.5L157,238.2L155,239.4" stroke-width="0.9"/>
<path d="M173.4,144.7L174.1,144L175.1,142.9L176.3,141.7L177.6,140.7L178.9,140.1L180.2,140L181.7,140.2L183.2,140.5L184.8,141.2L186.2,142L187.8,143.1L189.4,144.5L190.9,146.1L192.4,147.7L193.6,149.3L194.5,151L195.2,152.7L195.7,154.5L196.4,156.1L197.3,157.6L198.5,158.9L199.9,160.1L201.4,161.1L203,162.1L204.6,163.1L206.4,164.1L208.3,165.1L210.2,166L212.1,166.9L213.8,167.7L215.5,168.6L217.2,169.4L218.9,170.2L220.2,170.9L221.2,171.4" stroke-width="1"/>
<path d="M246.9,90.5L248.8,90.9L251.4,91.4L254.5,92L257.7,92.6L260.7,93.3L263.5,94L266.5,94.8L269.4,95.6L272.1,96.4L274.5,96.9L276.6,97.3L278.6,97.6L280.3,97.7L281.7,97.8L282.8,97.9" stroke-width="1"/>
<path d="M291,88.7L292.3,89.4L294.1,90.3L296.2,91.5L298.4,92.8L300.2,94.2L301.9,95.8L303.4,97.5L304.9,99.4L306.3,101.4L307.6,103.4L308.7,105.5L309.8,107.6L310.7,109.8L311.5,112.1L312.2,114.4L312.7,116.9L313,119.7L313.2,122.4L313.4,124.7L313.5,126.4" stroke-width="1.2"/>
<path d="M223,213.7L225,213.8L227.7,214.1L230.9,214.3L234.3,214.5L237.7,214.6L241.2,214.5L244.8,214.2L248.6,213.9L252.4,213.7L256.1,213.7L259.9,213.8L263.7,214.1L267.5,214.5L271.1,215L274.5,215.5L277.5,216.1L280.3,216.9L283,217.7L285.6,218.5L288.3,219.2L291.2,219.8L294.4,220.5L297.5,221.1L300.2,221.6L302.1,221.9" stroke-width="1"/>
<path d="M287.4,220.1L288.4,221.2L289.8,222.9L291.4,224.7L293.1,226.7L294.7,228.4L296.2,229.9L297.7,231.3L299.2,232.7L300.7,234.2L302.1,235.7L303.4,237.6L304.7,239.8L305.9,241.9L306.9,243.7L307.6,245" stroke-width="1.2"/>
<path d="M223.9,199.9L223.2,201.8L222.3,204.5L221.1,207.6L219.8,210.8L218.4,213.7L216.9,216.4L215.1,219L213.3,221.6L211.6,224.2L210.1,226.5L209.1,228.9L208.2,231.3L207.5,233.5L206.9,235.3L206.5,236.7" stroke-width="0.9"/>
<path d="M173.4,207.2L174.2,207.6L175.3,208.1L176.6,208.8L177.9,209.4L178.9,210L179.7,210.6L180.3,211.2L180.9,211.9L181.3,212.4L181.7,212.8" stroke-width="0.9"/>
<path d="M189.9,216.4L190.8,216.9L192,217.7L193.4,218.5L194.9,219.4L196.4,220.1L197.8,220.7L199.4,221.1L200.9,221.6L202.4,222.2L203.7,222.9L204.9,223.9L206,225.1L206.9,226.4L207.7,227.6L208.3,228.4" stroke-width="1"/>
<path d="M182.6,222.9L182.4,224.1L182.2,225.7L181.9,227.7L181.7,229.8L181.7,232.1L181.7,234.6L181.9,237.6L182.2,240.6L182.4,243.2L182.6,245" stroke-width="0.9"/>
<path d="M34.9,243.7L34.6,244.7L34.1,246.1L33.5,247.7L32.9,249.4L32.2,251L31.4,252.6L30.4,254.1L29.4,255.7L28.5,257.1L27.6,258.4L26.7,259.4L25.9,260.3L25.1,261L24.4,261.6L23.9,262.1" stroke-width="1"/>
<path d="M3.7,292.4L4.4,293.3L5.4,294.7L6.6,296.3L7.9,297.7L9.2,298.8L10.5,299.5L11.9,300.1L13.4,300.4L14.9,300.6L16.5,300.7L18.3,300.6L20.1,300.4L22,300L23.9,299.5L25.7,298.8L27.6,297.9L29.4,296.7L31.2,295.4L33.1,294.2L34.9,293.3L36.9,292.7L39,292.2L41.1,291.9L42.9,291.7L44.1,291.5" stroke-width="1"/>
<path d="M105.7,245.5L107,246.7L108.8,248.3L110.9,250.2L113,252.1L114.9,253.8L116.6,255.3L118.3,256.8L119.9,258.2L121.3,259.4L122.2,260.2" stroke-width="1.1"/>
<path d="M160,267.6L158.3,267.3L155.8,267L152.9,266.6L149.9,266.1L147.1,265.7L144.3,265.3L141.5,264.8L138.6,264.3L135.9,264L133.3,263.9L130.8,264L128.5,264.3L126.3,264.8L124.2,265.6L122.2,266.7L120.4,268.2L118.8,270.2L117.3,272.4L115.9,274.7L114.9,276.8L114.1,278.7L113.6,280.6L113.3,282.5L113.1,284.3L113.1,286L113.2,287.7L113.6,289.4L114.1,291L114.6,292.3L114.9,293.3" stroke-width="0.9"/>
<path d="M114.9,293.3L116.1,293.1L117.8,292.7L119.8,292.3L121.9,291.9L124.1,291.5L126.4,291.1L128.8,290.7L131.4,290.4L133.8,290L136,289.6L138,289.2L139.8,288.6L141.4,288.1L142.9,287.8L144.3,287.8L145.5,288.1L146.6,288.8L147.6,289.6L148.3,290.5L148.9,291.5L149.3,292.5L149.5,293.6L149.5,294.8L149.3,296L148.9,297L148.2,297.9L147.3,298.6L146.2,299.3L144.9,300L143.4,300.7L141.7,301.3L139.7,301.9L137.6,302.5L135.4,303L133.3,303.4L130.9,303.7L128.4,304L125.9,304.1L123.8,304.2L122.2,304.3" stroke-width="1.3"/>
<path d="M90.1,306.2L91.6,306.3L93.7,306.5L96.2,306.7L98.7,306.9L101.1,307.1L103.4,307.3L105.7,307.5L108,307.7L110.2,307.9L112.1,308L113.7,308.1L115,308L116.3,308L117.7,308L119.5,308L121.9,308.2L124.6,308.5L127.6,308.8L130.5,309L133.3,308.9L135.7,308.7L138,308.3L140.3,307.8L142.7,307.1L145.2,306.2L148.2,304.9L151.6,303.2L155,301.5L158,299.9L160,298.8" stroke-width="1"/>
<path d="M90.1,306.2L89.3,306.6L88.1,307.1L86.8,307.8L85.6,308.7L84.6,309.9L83.7,311.3L83,313L82.4,315L82,317L81.8,319L82,321.1L82.4,323.3L83.1,325.6L83.8,327.8L84.6,330.1L85.4,332.3L86.3,334.6L87.3,336.8L88.3,339L89.2,341.1L90,343.1L90.8,344.9L91.6,346.7L92.3,348.5L92.8,350.3L93.3,352.1L93.7,354L94,355.8L94,357.6L93.8,359.5L93.1,361.3L92.1,363.2L90.9,365L89.6,366.8L88.2,368.7L86.8,370.5L85.2,372.4L83.5,374.2L82,376L80.9,377.9L80.1,379.7L79.6,381.4L79.2,383.2L79.1,385.1L79,387.1L79.2,389.4L79.6,391.9L80.1,394.5L80.6,396.7L80.9,398.3" stroke-width="0.9"/>
<path d="M119.5,308L119.6,310L119.8,312.9L120,316.2L120.2,319.6L120.4,322.7L120.6,325.6L120.8,328.5L121,331.4L121.1,334.1L121.3,336.5L121.5,338.6L121.6,340.5L121.8,342.2L122,343.9L122.2,345.7L122.5,347.6L122.7,349.7L123,351.7L123.4,353.5L124.1,354.9L125,355.9L126.2,356.5L127.5,356.9L129,357.3L130.5,357.6L132.2,358L134.1,358.3L136,358.5L137.9,358.9L139.7,359.5L141.3,360.3L142.7,361.4L144.1,362.6L145.5,363.8L147.1,365L148.9,366.3L150.9,367.7L152.9,369.1L154.7,370.4L156.2,371.4L157.4,372.1L158.3,372.6L159,372.9L159.6,373.1L160,373.3" stroke-width="1.1"/>
<path d="M105.7,343.9L104.8,345.2L103.5,347L102.1,349.1L100.6,351.2L99.3,353.1L97.9,354.5L96.4,355.8L95,357L94,358.2L93.8,359.5L94.4,360.8L95.7,362.1L97.4,363.3L99.3,364.6L101.1,365.9L102.8,367.2L104.6,368.4L106.5,369.6L108.4,370.9L110.3,372.4L112.1,373.9L114,375.6L115.8,377.4L117.6,379.1L119.5,380.6L121.2,382.1L122.9,383.5L124.7,384.8L126.5,386L128.7,387.1L131.1,388L133.7,388.7L136.5,389.4L139.4,390L142.5,390.7L146,391.5L150.1,392.4L154.1,393.2L157.6,393.9L160,394.4" stroke-width="1"/>
<path d="M150.7,390.7L151.7,398.3" stroke-width="0.9"/>
<path d="M204.6,240L204.9,241.2L205.1,242.8L205.5,244.7L206,246.9L206.5,249.2L207.1,251.7L207.8,254.4L208.6,257.2L209.4,260.1L210.1,263L210.9,265.9L211.8,268.8L212.6,271.8L213.3,274.5L213.8,276.8L214.1,278.4L214.3,279.6L214.3,280.6L214.1,281.7L213.8,283.2L213.3,285.2L212.6,287.5L211.7,290L210.9,292.6L210.1,295.1L209.5,297.8L208.9,300.6L208.4,303.5L207.9,306.3L207.4,308.9L206.9,311.6L206.5,314.4L206.1,317.1L205.8,319.3L205.6,320.9" stroke-width="1.2"/>
<path d="M219.3,240L219.6,241.9L220,244.5L220.5,247.6L220.9,250.8L221.2,253.8L221.3,256.6L221.4,259.4L221.4,262.3L221.3,265L221.2,267.6L221,270.1L220.7,272.5L220.4,274.8L219.9,276.9L219.3,278.6L218.5,280L217.5,281.1L216.4,282L215.4,282.7L214.7,283.2" stroke-width="1"/>
<path d="M155,245.5L156.9,245.3L159.5,244.9L162.6,244.5L165.8,244.1L168.8,243.7L171.8,243.3L175,242.9L178.1,242.4L180.7,242.1L182.6,241.8" stroke-width="0.9"/>
<path d="M155,266.7L156.3,266.6L158.1,266.4L160.2,266.3L162.3,266.3L164.2,266.7L165.8,267.4L167.4,268.4L168.8,269.6L170.2,270.9L171.5,272.2L172.8,273.4L173.9,274.5L174.9,275.8L176,277.1L177.1,278.6L178.2,280.3L179.4,282.1L180.6,284L181.7,285.9L182.6,287.8L183.2,289.7L183.7,291.6L184.1,293.4L184.3,295.3L184.4,297L184.3,298.6L184,300.1L183.7,301.5L183.4,302.9L183.5,304.3L184,305.9L184.8,307.6L185.7,309.3L186.6,310.7L187.2,311.7" stroke-width="1.2"/>
<path d="M187.2,311.7L188.5,312.3L190.3,313.1L192.4,314.1L194.6,315.2L196.4,316.3L197.9,317.4L199.4,318.6L200.7,319.9L201.8,321.2L202.8,322.7L203.5,324.4L204.1,326.3L204.5,328.2L204.7,330.1L204.6,331.9L204.3,333.6L203.7,335.2L203,336.8L202,338.2L201,339.3L199.7,340.1L198.4,340.7L196.9,341L195.2,341.2L193.6,341.1L191.9,340.8L190,340.1L188,339.3L186.2,338.4L184.4,337.4L182.8,336.5L181.2,335.4L179.6,334.3L178.3,333.1L177.1,331.9L176,330.7L175,329.4L174.1,328L173.6,326.7L173.4,325.5L173.6,324.2L174.3,323L175.2,321.8L176.1,320.8L177.1,320L178,319.5L179.1,319.2L180.1,319.1L181,319.1L181.7,319" stroke-width="1"/>
<path d="M303.9,240L304.6,241.2L305.6,243L306.8,245.1L307.8,247.2L308.5,249.2L308.9,251.1L309.1,253L309.2,254.8L309,256.7L308.5,258.4L307.6,260L306.4,261.5L305,262.9L303.5,264.3L302.1,265.7L300.6,267.2L299.1,268.6L297.6,270.1L296.1,271.6L294.7,273.1L293.5,274.7L292.4,276.3L291.3,278L290.3,279.7L289.2,281.4L288,283.1L286.7,285.1L285.5,286.9L284.4,288.5L283.7,289.6" stroke-width="1"/>
<path d="M213.8,283.2L214.9,283.4L216.3,283.6L218,283.9L219.7,284.3L221.2,285L222.5,285.9L223.7,287L224.9,288.2L225.9,289.7L226.7,291.5L227.2,293.6L227.5,296.1L227.6,298.8L227.6,301.6L227.6,304.3L227.6,307.1L227.4,309.9L227.2,312.7L227,315.5L226.7,318.1L226.4,320.8L225.9,323.6L225.5,326.2L225.1,328.5L224.9,330.1" stroke-width="1"/>
<path d="M206.5,331.9L208.3,331.4L211,330.6L214,329.7L216.9,328.9L219.3,328.2L221.3,327.9L223,327.6L224.5,327.5L225.8,327.4L226.7,327.3" stroke-width="0.9"/>
<path d="M224.9,330.1L225.4,331.6L226.1,333.8L226.9,336.3L227.8,338.8L228.5,341.1L229.1,343.1L229.7,345L230.2,346.8L230.7,348.6L231.3,350.3L231.9,351.9L232.6,353.5L233.3,355L234.1,356.4L235,357.6L236,358.8L237.3,359.9L238.6,360.9L239.7,361.7L240.5,362.2" stroke-width="0.9"/>
<path d="M272.6,331.9L272.6,333.2L272.4,334.9L272.3,337L272,339.1L271.7,341.1L271.4,343L271,344.9L270.6,346.7L269.9,348.6L269,350.3L267.6,351.9L265.9,353.5L264,355.1L262.2,356.4L260.7,357.6L259.5,358.7L258.4,359.6L257.4,360.3L256.7,360.9L256.1,361.3" stroke-width="1.2"/>
<path d="M274.5,327.3L275.5,328.6L276.9,330.3L278.5,332.4L280.2,334.5L281.8,336.5L283.3,338.4L284.8,340.4L286.3,342.4L287.7,344.2L289.2,345.7L290.7,346.8L292.2,347.6L293.7,348.3L295.2,349.2L296.5,350.3L297.7,351.8L298.8,353.6L299.8,355.6L300.9,357.6L302.1,359.5L303.4,361.4L305,363.4L306.5,365.3L308,367.1L309.4,368.7L310.7,370L312,371.1L313.3,372L314.3,372.7L315,373.3" stroke-width="1.2"/>
<path d="M279.1,336.5L279.9,338.4L281.1,341L282.6,344.1L284.1,347.3L285.5,350.3L287,353.1L288.5,355.8L290,358.6L291.5,361.3L292.9,364.1L294.1,366.9L295.1,369.8L296.1,372.7L297.2,375.4L298.4,377.9L299.8,380L301.3,381.8L302.8,383.5L304.4,385.2L305.7,387.1L307,389.3L308.3,391.9L309.5,394.4L310.5,396.6L311.2,398.1" stroke-width="1.2"/>
<path d="M272.6,350.3L273.6,351.6L275,353.4L276.6,355.6L278.3,357.7L280,359.5L281.8,360.9L283.6,362.3L285.6,363.5L287.4,364.7L289.2,365.9L290.8,367.2L292.3,368.4L293.7,369.6L295.1,370.9L296.5,372.4L298,374L299.6,375.8L301.1,377.7L302.5,379.7L303.9,381.5L305.2,383.5L306.5,385.7L307.7,387.7L308.7,389.5L309.4,390.7" stroke-width="0.9"/>
<path d="M256.1,362.2L257.4,362.3L259.1,362.5L261.2,362.6L263.3,362.8L265.3,363.2L267.1,363.6L269,364L270.8,364.6L272.6,365.2L274.5,365.9L276.3,366.7L278.2,367.5L280,368.4L281.8,369.4L283.7,370.5L285.7,371.9L287.8,373.6L289.9,375.3L291.6,376.8L292.9,377.9" stroke-width="1"/>
<path d="M256.1,362.2L254.8,363L252.9,364L250.8,365.2L248.7,366.4L246.9,367.8L245.5,369.1L244.3,370.5L243.2,372L242.2,373.6L241.4,375.1L240.7,376.7L240.3,378.4L239.9,380.1L239.7,381.8L239.6,383.4L239.6,385L239.8,386.7L240,388.4L240.3,389.7L240.5,390.7" stroke-width="1.1"/>
<path d="M228.5,372.4L227.5,372.7L226,373.1L224.3,373.6L222.6,374.3L221.2,375.1L220,376.2L218.8,377.6L217.8,379.1L216.7,380.5L215.7,381.5L214.5,382.2L213.2,382.7L212,383L210.9,383.2L210.1,383.4" stroke-width="1"/>
<path d="M163.3,357.6L164.2,358.2L165.4,359.2L166.9,360.1L168.4,360.9L169.7,361.3L171,361.2L172.3,360.7L173.6,360L174.6,359.2L175.2,358.6L175.3,358L174.9,357.3L174.3,356.7L173.7,356.2L173.4,355.8" stroke-width="1.2"/>
<path d="M173.4,372.4L173.7,373.4L174.2,374.8L174.7,376.4L175.1,378.1L175.2,379.7L175.1,381.2L174.9,382.8L174.6,384.3L174,385.8L173.4,387.1L172.5,388.1L171.4,389L170.1,389.8L168.9,390.6L167.9,391.7L167,393L166.1,394.5L165.3,396L164.7,397.3L164.2,398.3" stroke-width="0.9"/>
<path d="M210.1,383.4L209.6,384.5L208.9,386.2L208.1,388.1L207.3,390L206.5,391.7L205.7,393.2L204.8,394.7L204,396.2L203.3,397.4L202.8,398.3" stroke-width="0.9"/>
<path d="M306.7,382.5L307.3,383.8L308.3,385.6L309.4,387.7L310.4,389.8L311.2,391.7L311.8,393.2L312.3,394.8L312.6,396.2L312.9,397.4L313.1,398.3" stroke-width="1.3"/>
</g>
<circle cx="110.8" cy="93.7" r="1.6" fill="#3c3c3c" stroke="none"/>
<circle cx="56.1" cy="230.7" r="3.3" fill="#0c0c0c" stroke="none"/>
<circle cx="27.6" cy="198.1" r="2.2" fill="#0c0c0c" stroke="none"/>
<circle cx="247.8" cy="162.7" r="1.3" fill="#3c3c3c" stroke="none"/>
<circle cx="245.5" cy="90.7" r="1.8" fill="#3c3c3c" stroke="none"/>
<circle cx="252.4" cy="89.6" r="1.3" fill="#3c3c3c" stroke="none"/>
<circle cx="220.3" cy="205.4" r="1.2" fill="#3c3c3c" stroke="none"/>
<circle cx="225.8" cy="205.4" r="1.1" fill="#3c3c3c" stroke="none"/>
<circle cx="218.4" cy="214.6" r="1.4" fill="#3c3c3c" stroke="none"/>
<circle cx="209.2" cy="228.4" r="1.2" fill="#3c3c3c" stroke="none"/>
<circle cx="217.5" cy="235.7" r="1.2" fill="#3c3c3c" stroke="none"/>
<circle cx="282.8" cy="97.4" r="1.6" fill="#3c3c3c" stroke="none"/>
<circle cx="313.1" cy="118.1" r="1.4" fill="#3c3c3c" stroke="none"/>
<circle cx="313.1" cy="170.9" r="1.4" fill="#3c3c3c" stroke="none"/>
<circle cx="194.1" cy="131.9" r="1.2" fill="#3c3c3c" stroke="none"/>
<circle cx="114.4" cy="293.8" r="1.6" fill="#3c3c3c" stroke="none"/>
<circle cx="91" cy="308" r="1.2" fill="#3c3c3c" stroke="none"/>
<circle cx="58.8" cy="241.8" r="1.6" fill="#3c3c3c" stroke="none"/>
<circle cx="130.5" cy="312.6" r="1.1" fill="#3c3c3c" stroke="none"/>
<circle cx="105.7" cy="343.9" r="1.1" fill="#3c3c3c" stroke="none"/>
<circle cx="171.5" cy="371" r="2.6" fill="#0c0c0c" stroke="none"/>
<circle cx="174.8" cy="366.4" r="1.6" fill="#3c3c3c" stroke="none"/>
<circle cx="215.7" cy="251.5" r="1.4" fill="#3c3c3c" stroke="none"/>
<circle cx="171.1" cy="289.2" r="1.2" fill="#3c3c3c" stroke="none"/>
<circle cx="216.1" cy="314.9" r="1.2" fill="#3c3c3c" stroke="none"/>
<circle cx="226.7" cy="293.3" r="1.3" fill="#3c3c3c" stroke="none"/>
<circle cx="231.3" cy="346.6" r="1.2" fill="#3c3c3c" stroke="none"/>
<circle cx="271.3" cy="345.2" r="1.4" fill="#3c3c3c" stroke="none"/>
<circle cx="206.5" cy="359.5" r="1.1" fill="#3c3c3c" stroke="none"/>
<circle cx="310.3" cy="395.3" r="1.6" fill="#3c3c3c" stroke="none"/>
<circle cx="240.5" cy="383.4" r="1.4" fill="#3c3c3c" stroke="none"/>
</g></g>
<text x="13.4" y="379.9" font-size="19.4" font-weight="bold" textLength="63" lengthAdjust="spacingAndGlyphs" stroke="#000" stroke-width="0.5">200nm</text>
<rect x="12.8" y="389.1" width="63.8" height="2.7" fill="#000"/>
<g clip-path="url(#cA2)">
<rect x="328.3" y="87.5" width="310.7" height="310.7" fill="#c7c7c7"/>
<rect x="328.3" y="87.5" width="310.7" height="310.7" fill="#fff" filter="url(#nzw2)"/>
<rect x="328.3" y="87.5" width="310.7" height="310.7" fill="#000" filter="url(#nzb2)"/>
<g fill="none" stroke-linecap="round" stroke-linejoin="round" filter="url(#bl2)">
<path d="M361.5,108.5L361.4,107.1L361.1,105L360.9,102.6L361,100.3L361.5,98.4L362.8,96.8L364.6,95.2L366.7,93.9L368.5,92.8L369.8,91.9" stroke="#dcdcdc" stroke-width="6.6" opacity="0.7"/>
<path d="M382.7,91.9L390,88.3" stroke="#dcdcdc" stroke-width="5.6" opacity="0.7"/>
<path d="M427.7,97.5L435.1,91" stroke="#dcdcdc" stroke-width="5.6" opacity="0.7"/>
<path d="M466.3,91L466.4,92.8L466.4,95.3L466.5,98.1L466.7,101.1L467.2,103.9L468,106.5L469,109.3L470.2,111.9L471.4,114.5L472.7,116.8L474.2,118.8L475.9,120.8L477.6,122.5L479.1,124L480.1,125" stroke="#dcdcdc" stroke-width="9.6" opacity="0.7"/>
<path d="M443.3,133.3L444.9,132.6L447,131.5L449.5,130.3L452.1,129L454.4,127.8L456.5,126.6L458.6,125.3L460.6,124.1L462.3,123L463.5,122.3" stroke="#dcdcdc" stroke-width="7.6" opacity="0.7"/>
<path d="M399.2,127.8L401.3,128L404.2,128.2L407.6,128.5L411,129L413.9,129.6L416.4,130.5L418.8,131.6L421,132.8L423,134L424.9,135.1L426.8,136.3L428.5,137.6L430.1,138.9L431.4,139.9L432.3,140.7" stroke="#dcdcdc" stroke-width="6.2" opacity="0.7"/>
<path d="M396.4,135.1L396.3,136.2L396,137.6L395.7,139.3L395.6,141L395.5,142.5L395.7,143.8L396.2,145.1L396.6,146.3L397.1,147.3L397.4,148" stroke="#dcdcdc" stroke-width="7.6" opacity="0.7"/>
<path d="M370.7,148L370.1,149.5L369.3,151.5L368.4,154L367.3,156.5L366.1,159L364.8,161.5L363.2,164L361.5,166.5L360,169.2L358.8,171.9L357.8,174.7L357.1,177.5L356.5,180.4L356.1,183.4L356,186.6L356.2,190.1L356.7,193.8L357.3,197.6L358.1,201.4L358.8,205L359.5,208.7L360.3,212.5L361.2,216.2L361.9,219.3L362.4,221.5" stroke="#dcdcdc" stroke-width="7.2" opacity="0.7"/>
<path d="M406.6,155.4L408.1,157.6L410.2,160.9L412.6,164.6L415.2,168.5L417.6,171.9L419.8,175L422,178L424.2,181L426.4,183.8L428.6,186.6L430.8,189.3L433,192L435.2,194.6L437.4,197.1L439.6,199.5L441.8,201.9L444,204.2L446.1,206.4L448.4,208.5L450.7,210.5L453.3,212.5L456.3,214.4L459.2,216.2L461.8,217.7L463.5,218.8" stroke="#dcdcdc" stroke-width="6.2" opacity="0.7"/>
<path d="M378.1,212.4L379.7,210.5L381.9,208L384.6,205L387.4,202L390,199.5L392.5,197.4L395,195.4L397.6,193.5L400.2,191.8L402.9,190.3L405.9,188.9L409.3,187.6L412.7,186.4L415.6,185.5L417.6,184.8" stroke="#dcdcdc" stroke-width="6.4" opacity="0.7"/>
<path d="M520.5,126L521,127.2L521.6,128.9L522.4,131L523.3,133.1L524.2,135.1L525.3,137.3L526.5,139.6L527.8,141.9L528.9,143.9L529.7,145.3" stroke="#dcdcdc" stroke-width="5.2" opacity="0.7"/>
<path d="M586.7,144.3L587.2,142.8L587.8,140.5L588.6,137.9L589.5,135.4L590.4,133.3L591.5,131.6L592.7,130.1L594,128.8L595.1,127.7L595.9,126.9" stroke="#dcdcdc" stroke-width="7.2" opacity="0.7"/>
<path d="M634.5,138.8L637.3,131.5" stroke="#dcdcdc" stroke-width="6.6" opacity="0.7"/>
<path d="M504,154.4L504.1,155.9L504.1,158L504.3,160.4L504.8,162.7L505.8,164.6L507.4,165.9L509.4,167L511.7,167.8L514.3,168.6L516.9,169.2L519.6,169.6L522.6,169.7L525.8,169.8L528.8,169.9L531.6,170.1L534,170.3L536.3,170.4L538.5,170.6L540.6,171.1L542.6,171.9L544.7,173.4L546.8,175.5L548.9,177.7L550.6,179.7L551.8,181.1" stroke="#dcdcdc" stroke-width="9" opacity="0.7"/>
<path d="M486.5,178.3L486.3,179.8L485.8,181.8L485.4,184.1L485.3,186.4L485.6,188.5L486.5,190.2L487.7,191.8L489.2,193.3L491,194.7L493,195.8L495.3,196.8L498.1,197.7L500.9,198.3L503.6,198.7L505.8,198.6L507.5,197.8L508.8,196.3L509.9,194.7L510.7,193.2L511.3,192.1" stroke="#dcdcdc" stroke-width="10" opacity="0.7"/>
<path d="M548.1,214.2L548.5,212.6L549,210.3L549.7,207.7L550.6,205.2L551.8,203.2L553.2,201.6L554.8,200.4L556.6,199.3L558.7,198.4L561,197.6L563.6,197L566.7,196.5L569.9,196.1L573,195.9L575.7,195.8L578,196L580.2,196.4L582.1,196.9L583.7,197.3L584.9,197.6" stroke="#dcdcdc" stroke-width="7.2" opacity="0.7"/>
<path d="M536.2,206.8L536,209.1L535.9,212.3L535.7,216L535.5,219.8L535.2,223.4L534.9,227L534.5,230.8L534,234.5L533.7,237.7L533.4,239.9" stroke="#dcdcdc" stroke-width="7.2" opacity="0.7"/>
<path d="M544.4,219.7L544.5,222.3L544.6,225.9L544.7,230.1L544.7,234.4L544.4,238.1L543.9,241.5L543,244.9L542.1,248.1L541.3,250.9L540.8,252.8" stroke="#dcdcdc" stroke-width="7.2" opacity="0.7"/>
<path d="M549.9,236.2L551.4,236.1L553.6,235.9L556,235.7L558.6,235.5L561,235.3L563.4,235.1L565.9,234.9L568.4,234.7L570.5,234.5L572,234.4" stroke="#dcdcdc" stroke-width="7.2" opacity="0.7"/>
<path d="M520.5,217.9L521.4,218L522.7,218.1L524.1,218.4L525.3,218.8L526,219.7L526.1,221.2L525.8,223.3L525.2,225.5L524.6,227.5L524.2,228.9" stroke="#dcdcdc" stroke-width="6.6" opacity="0.7"/>
<path d="M626.2,201.3L626.6,202.6L627.1,204.3L627.6,206.3L628,208.5L628.1,210.5L627.8,212.6L627.2,215L626.4,217.3L625.8,219.2L625.3,220.6" stroke="#dcdcdc" stroke-width="8.2" opacity="0.7"/>
<path d="M475.5,216L476.6,217.2L478.3,218.8L480.2,220.7L482.1,222.9L483.8,225.2L485.2,227.8L486.6,230.7L488,233.8L489.2,236.9L490.2,239.9L491,242.9L491.6,245.8L492.1,248.7L492.5,251.6L493,254.6L493.4,257.9L493.8,261.6L494.2,265.1L494.6,268.1L494.8,270.3" stroke="#dcdcdc" stroke-width="9" opacity="0.7"/>
<path d="M432.3,218.8L431,219.1L429,219.4L426.8,219.8L424.7,220.5L423.1,221.5L421.9,223L421,224.8L420.2,226.7L419.7,228.8L419.4,230.7L419.5,232.7L419.9,234.9L420.4,236.9L420.9,238.7L421.3,239.9" stroke="#dcdcdc" stroke-width="7.2" opacity="0.7"/>
<path d="M391.9,248.2L393.3,248.5L395.3,249.1L397.7,249.6L400.3,250L402.9,250L405.6,249.6L408.5,248.7L411.5,247.8L414.6,246.9L417.6,246.4L420.5,246.2L423.5,246.4L426.4,246.7L429.4,247L432.3,247.3L435.3,247.5L438.3,247.7L441.2,248L444.2,248.1L447,248.2L449.9,248.1L452.9,247.9L455.7,247.7L458.1,247.4L459.9,247.3" stroke="#dcdcdc" stroke-width="7" opacity="0.7"/>
<path d="M436,252.8L447,250" stroke="#dcdcdc" stroke-width="6.2" opacity="0.7"/>
<path d="M330.3,236.2L332.1,236.8L334.7,237.7L337.8,238.7L341,239.5L344.1,239.9L347,239.9L350.1,239.6L353.1,239.1L356,238.5L358.8,238.1L361.4,237.7L364,237.3L366.4,236.9L368.4,236.5L369.8,236.2" stroke="#dcdcdc" stroke-width="12.6" opacity="0.7"/>
<path d="M341.3,254.6L342.5,255.4L344.2,256.5L346.1,257.8L348,259.3L349.6,261.1L350.8,263.1L351.9,265.4L352.8,267.9L353.6,270.5L354.2,273L354.4,275.6L354.3,278.4L354.1,281.1L353.9,283.6L354.2,285.9L354.9,287.8L355.9,289.6L357,291.1L358.1,292.3L358.8,293.2" stroke="#dcdcdc" stroke-width="10" opacity="0.7"/>
<path d="M351.4,324.5L351.4,325.7L351.4,327.5L351.5,329.4L351.8,331.3L352.3,332.8L353.4,333.7L354.8,334.4L356.4,334.9L357.8,335.2L358.8,335.5" stroke="#dcdcdc" stroke-width="8.2" opacity="0.7"/>
<path d="M459.9,272.1L458.8,272.7L457.1,273.5L455.3,274.4L453.6,275.5L452.5,276.7L452,278L451.8,279.4L451.9,281L452.2,282.5L452.5,284L453.1,285.5L453.9,287L454.7,288.5L455.6,289.9L456.2,291.4L456.6,293L456.8,294.7L456.9,296.3L457,297.8L457.1,298.8" stroke="#dcdcdc" stroke-width="8.2" opacity="0.7"/>
<path d="M406.6,291.4L408.4,294.2" stroke="#dcdcdc" stroke-width="7.6" opacity="0.7"/>
<path d="M570.2,277.6L571.6,278.2L573.8,279.2L576.2,280.2L578.2,281.3L579.4,282.2L579.4,283.1L578.6,283.9L577.5,284.7L576.4,285.4L575.7,285.9" stroke="#dcdcdc" stroke-width="11.6" opacity="0.7"/>
<path d="M621.6,275.8L620.9,277.1L619.8,279L618.6,281.3L617.6,283.6L617,285.9L617,288.1L617.4,290.5L618,292.9L618.8,295L619.8,296.9L620.9,298.4L622.3,299.7L623.9,300.8L625.5,301.7L627.1,302.4L629,302.9L631.1,303.2L633.2,303.3L635.1,303.3L636.3,303.3" stroke="#dcdcdc" stroke-width="7.2" opacity="0.7"/>
<path d="M535.2,299.7L536.5,299.9L538.3,300.3L540.4,300.7L542.6,301.4L544.4,302.4L546,303.9L547.6,305.6L549.1,307.6L550.5,309.7L551.8,311.6L553,313.5L554.2,315.6L555.3,317.5L556.3,319.3L557.3,320.8L558.2,322L559.1,322.9L559.9,323.5L560.5,324.1L561,324.5" stroke="#dcdcdc" stroke-width="8.2" opacity="0.7"/>
<path d="M513.2,317.1L513.7,318.2L514.3,319.7L515.1,321.4L516,323.1L516.9,324.5L517.8,325.7L518.8,326.7L519.9,327.7L520.8,328.5L521.4,329.1" stroke="#dcdcdc" stroke-width="6.2" opacity="0.7"/>
<path d="M495.7,319L495,320.5L493.9,322.6L492.6,325.1L491.6,327.6L491.1,330L491.2,332.4L491.8,334.9L492.6,337.4L493.4,339.5L493.9,341" stroke="#dcdcdc" stroke-width="4.6" opacity="0.7"/>
<path d="M448.8,327.2L449.1,328.4L449.5,330.1L450,332L450.4,333.9L450.7,335.5L450.8,336.9L450.8,338.2L450.8,339.4L450.7,340.3L450.7,341" stroke="#dcdcdc" stroke-width="5.2" opacity="0.7"/>
<path d="M467.2,326.3L468.1,337.4" stroke="#dcdcdc" stroke-width="7.6" opacity="0.7"/>
<path d="M529.7,351.1L531,350.5L532.8,349.6L534.9,348.5L537,347.5L538.9,346.5L540.6,345.5L542.3,344.2L543.9,343.1L545.2,342.5L546.3,342.9L546.9,344.4L547.4,346.7L547.5,349.7L547.5,352.8L547.2,355.7L546.5,358.8L545.5,362.2L544.4,365.5L543.3,368.4L542.6,370.4" stroke="#dcdcdc" stroke-width="8.2" opacity="0.7"/>
<path d="M526,353.9L527.9,357.6" stroke="#dcdcdc" stroke-width="8.6" opacity="0.7"/>
<path d="M583,344.7L582.3,346.2L581.3,348.3L580.1,350.8L578.8,353.4L577.5,355.7L576,358.1L574.4,360.7L572.7,363.1L571.2,365.3L570.2,366.8" stroke="#dcdcdc" stroke-width="5.2" opacity="0.7"/>
<path d="M638.2,346.5L635.1,348L630.8,350.2L625.7,352.6L620.6,355.2L616.1,357.6L612.2,359.8L608.5,362L604.9,364.2L601.4,366.4L597.7,368.6L594.1,370.8L590.4,373L586.7,375.2L583,377.4L579.4,379.6L575.6,381.9L571.6,384.3L567.8,386.6L564.2,388.7L561,390.7L558.1,392.3L555.5,393.9L553.2,395.2L551.3,396.3L549.9,397.1" stroke="#dcdcdc" stroke-width="8.2" opacity="0.7"/>
<path d="M432.3,387L434.7,385.6L438.1,383.6L442.2,381.4L446.5,379.3L450.7,377.8L455,376.8L459.6,376.2L464.3,375.8L468.7,375.7L472.7,376L476.2,376.6L479.3,377.5L482.2,378.8L484.9,380.1L487.4,381.5L489.9,382.8L492.3,384.2L494.5,385.7L496.6,387.3L498.5,388.8L500.3,390.6L502,392.5L503.6,394.3L504.9,396L505.8,397.1" stroke="#dcdcdc" stroke-width="8.2" opacity="0.7"/>
<path d="M606,385.1L612.4,396.2" stroke="#dcdcdc" stroke-width="6.6" opacity="0.7"/>
<path d="M329.4,352.1L329.6,354.2L330.1,357.2L330.6,360.7L331,364.1L331.2,366.8L331.2,368.8L331,370.6L330.7,372.1L330.4,373.2L330.3,374.1" stroke="#dcdcdc" stroke-width="7.6" opacity="0.7"/>
<path d="M330.3,190.3L333,205" stroke="#dcdcdc" stroke-width="6.6" opacity="0.7"/>
<path d="M335.8,119.5L335.8,125" stroke="#dcdcdc" stroke-width="6.6" opacity="0.7"/>
<path d="M507.7,239.9L508.2,240.4L509.1,241.1L510.1,241.9L510.9,242.8L511.3,243.6L511.3,244.5L510.9,245.6L510.4,246.6L509.8,247.6L509.5,248.2" stroke="#dcdcdc" stroke-width="5.2" opacity="0.7"/>
<path d="M388.2,269.3L389.3,270.4L391,271.8L392.9,273.5L394.5,275.2L395.5,276.7L395.7,278L395.4,279.3L394.7,280.5L394.1,281.5L393.7,282.2" stroke="#dcdcdc" stroke-width="5.2" opacity="0.7"/>
<path d="M610.6,160.9L611.9,160.8L613.9,160.5L616.1,160.4L618.2,160.4L619.8,160.9L620.9,162L621.8,163.6L622.5,165.5L623.1,167.1L623.5,168.2" stroke="#dcdcdc" stroke-width="6.2" opacity="0.7"/>
<path d="M601.4,150.8L601,151.7L600.3,152.9L599.6,154.4L599,155.9L598.7,157.2L598.8,158.5L599.1,159.7L599.7,161L600.2,162L600.5,162.7" stroke="#dcdcdc" stroke-width="5.2" opacity="0.7"/>
<path d="M590.4,230.7L588.5,236.2" stroke="#dcdcdc" stroke-width="7.6" opacity="0.7"/>
<path d="M515,285.9L518.7,290.5" stroke="#dcdcdc" stroke-width="7.6" opacity="0.7"/>
<path d="M609.7,248.2L610.6,248.5L611.8,249L613.3,249.6L614.8,250.2L616.1,251L617.4,251.8L618.7,252.9L619.9,254L620.9,254.9L621.6,255.6" stroke="#dcdcdc" stroke-width="5.2" opacity="0.7"/>
<path d="M469.1,363.1L470.9,366.8" stroke="#dcdcdc" stroke-width="7.6" opacity="0.7"/>
<path d="M441.5,363.1L445.2,366.8" stroke="#dcdcdc" stroke-width="5.6" opacity="0.7"/>
<path d="M373.5,346.5L374.4,350.2" stroke="#dcdcdc" stroke-width="5.6" opacity="0.7"/>
<path d="M394.6,206.8L394.7,207.7L394.8,208.9L394.9,210.2L395.2,211.5L395.5,212.4L396.1,212.8L397,213.1L397.9,213.2L398.7,213.2L399.2,213.3" stroke="#dcdcdc" stroke-width="4.6" opacity="0.7"/>
<path d="M478.2,199.5L480.1,205" stroke="#dcdcdc" stroke-width="6.6" opacity="0.7"/>
<path d="M361.5,108.5L361.4,107.1L361.1,105L360.9,102.6L361,100.3L361.5,98.4L362.8,96.8L364.6,95.2L366.7,93.9L368.5,92.8L369.8,91.9" stroke="#5e5e5e" stroke-width="4"/>
<path d="M361.5,108.5L361.4,107.1L361.1,105L360.9,102.6L361,100.3L361.5,98.4L362.8,96.8L364.6,95.2L366.7,93.9L368.5,92.8L369.8,91.9" stroke="#808080" stroke-width="1.6"/>
<path d="M382.7,91.9L390,88.3" stroke="#5e5e5e" stroke-width="3"/>
<path d="M427.7,97.5L435.1,91" stroke="#5e5e5e" stroke-width="3"/>
<path d="M466.3,91L466.4,92.8L466.4,95.3L466.5,98.1L466.7,101.1L467.2,103.9L468,106.5L469,109.3L470.2,111.9L471.4,114.5L472.7,116.8L474.2,118.8L475.9,120.8L477.6,122.5L479.1,124L480.1,125" stroke="#5e5e5e" stroke-width="7"/>
<path d="M466.3,91L466.4,92.8L466.4,95.3L466.5,98.1L466.7,101.1L467.2,103.9L468,106.5L469,109.3L470.2,111.9L471.4,114.5L472.7,116.8L474.2,118.8L475.9,120.8L477.6,122.5L479.1,124L480.1,125" stroke="#808080" stroke-width="2.8"/>
<path d="M443.3,133.3L444.9,132.6L447,131.5L449.5,130.3L452.1,129L454.4,127.8L456.5,126.6L458.6,125.3L460.6,124.1L462.3,123L463.5,122.3" stroke="#5e5e5e" stroke-width="5"/>
<path d="M443.3,133.3L444.9,132.6L447,131.5L449.5,130.3L452.1,129L454.4,127.8L456.5,126.6L458.6,125.3L460.6,124.1L462.3,123L463.5,122.3" stroke="#808080" stroke-width="2"/>
<path d="M399.2,127.8L401.3,128L404.2,128.2L407.6,128.5L411,129L413.9,129.6L416.4,130.5L418.8,131.6L421,132.8L423,134L424.9,135.1L426.8,136.3L428.5,137.6L430.1,138.9L431.4,139.9L432.3,140.7" stroke="#5e5e5e" stroke-width="3.6"/>
<path d="M396.4,135.1L396.3,136.2L396,137.6L395.7,139.3L395.6,141L395.5,142.5L395.7,143.8L396.2,145.1L396.6,146.3L397.1,147.3L397.4,148" stroke="#5e5e5e" stroke-width="5"/>
<path d="M396.4,135.1L396.3,136.2L396,137.6L395.7,139.3L395.6,141L395.5,142.5L395.7,143.8L396.2,145.1L396.6,146.3L397.1,147.3L397.4,148" stroke="#808080" stroke-width="2"/>
<path d="M370.7,148L370.1,149.5L369.3,151.5L368.4,154L367.3,156.5L366.1,159L364.8,161.5L363.2,164L361.5,166.5L360,169.2L358.8,171.9L357.8,174.7L357.1,177.5L356.5,180.4L356.1,183.4L356,186.6L356.2,190.1L356.7,193.8L357.3,197.6L358.1,201.4L358.8,205L359.5,208.7L360.3,212.5L361.2,216.2L361.9,219.3L362.4,221.5" stroke="#5e5e5e" stroke-width="4.6"/>
<path d="M370.7,148L370.1,149.5L369.3,151.5L368.4,154L367.3,156.5L366.1,159L364.8,161.5L363.2,164L361.5,166.5L360,169.2L358.8,171.9L357.8,174.7L357.1,177.5L356.5,180.4L356.1,183.4L356,186.6L356.2,190.1L356.7,193.8L357.3,197.6L358.1,201.4L358.8,205L359.5,208.7L360.3,212.5L361.2,216.2L361.9,219.3L362.4,221.5" stroke="#808080" stroke-width="1.8"/>
<path d="M406.6,155.4L408.1,157.6L410.2,160.9L412.6,164.6L415.2,168.5L417.6,171.9L419.8,175L422,178L424.2,181L426.4,183.8L428.6,186.6L430.8,189.3L433,192L435.2,194.6L437.4,197.1L439.6,199.5L441.8,201.9L444,204.2L446.1,206.4L448.4,208.5L450.7,210.5L453.3,212.5L456.3,214.4L459.2,216.2L461.8,217.7L463.5,218.8" stroke="#5e5e5e" stroke-width="3.6"/>
<path d="M378.1,212.4L379.7,210.5L381.9,208L384.6,205L387.4,202L390,199.5L392.5,197.4L395,195.4L397.6,193.5L400.2,191.8L402.9,190.3L405.9,188.9L409.3,187.6L412.7,186.4L415.6,185.5L417.6,184.8" stroke="#5e5e5e" stroke-width="3.8"/>
<path d="M520.5,126L521,127.2L521.6,128.9L522.4,131L523.3,133.1L524.2,135.1L525.3,137.3L526.5,139.6L527.8,141.9L528.9,143.9L529.7,145.3" stroke="#5e5e5e" stroke-width="2.6"/>
<path d="M586.7,144.3L587.2,142.8L587.8,140.5L588.6,137.9L589.5,135.4L590.4,133.3L591.5,131.6L592.7,130.1L594,128.8L595.1,127.7L595.9,126.9" stroke="#5e5e5e" stroke-width="4.6"/>
<path d="M586.7,144.3L587.2,142.8L587.8,140.5L588.6,137.9L589.5,135.4L590.4,133.3L591.5,131.6L592.7,130.1L594,128.8L595.1,127.7L595.9,126.9" stroke="#808080" stroke-width="1.8"/>
<path d="M634.5,138.8L637.3,131.5" stroke="#5e5e5e" stroke-width="4"/>
<path d="M634.5,138.8L637.3,131.5" stroke="#808080" stroke-width="1.6"/>
<path d="M504,154.4L504.1,155.9L504.1,158L504.3,160.4L504.8,162.7L505.8,164.6L507.4,165.9L509.4,167L511.7,167.8L514.3,168.6L516.9,169.2L519.6,169.6L522.6,169.7L525.8,169.8L528.8,169.9L531.6,170.1L534,170.3L536.3,170.4L538.5,170.6L540.6,171.1L542.6,171.9L544.7,173.4L546.8,175.5L548.9,177.7L550.6,179.7L551.8,181.1" stroke="#5e5e5e" stroke-width="6.4"/>
<path d="M504,154.4L504.1,155.9L504.1,158L504.3,160.4L504.8,162.7L505.8,164.6L507.4,165.9L509.4,167L511.7,167.8L514.3,168.6L516.9,169.2L519.6,169.6L522.6,169.7L525.8,169.8L528.8,169.9L531.6,170.1L534,170.3L536.3,170.4L538.5,170.6L540.6,171.1L542.6,171.9L544.7,173.4L546.8,175.5L548.9,177.7L550.6,179.7L551.8,181.1" stroke="#808080" stroke-width="2.6"/>
<path d="M486.5,178.3L486.3,179.8L485.8,181.8L485.4,184.1L485.3,186.4L485.6,188.5L486.5,190.2L487.7,191.8L489.2,193.3L491,194.7L493,195.8L495.3,196.8L498.1,197.7L500.9,198.3L503.6,198.7L505.8,198.6L507.5,197.8L508.8,196.3L509.9,194.7L510.7,193.2L511.3,192.1" stroke="#5e5e5e" stroke-width="7.4"/>
<path d="M486.5,178.3L486.3,179.8L485.8,181.8L485.4,184.1L485.3,186.4L485.6,188.5L486.5,190.2L487.7,191.8L489.2,193.3L491,194.7L493,195.8L495.3,196.8L498.1,197.7L500.9,198.3L503.6,198.7L505.8,198.6L507.5,197.8L508.8,196.3L509.9,194.7L510.7,193.2L511.3,192.1" stroke="#808080" stroke-width="3"/>
<path d="M548.1,214.2L548.5,212.6L549,210.3L549.7,207.7L550.6,205.2L551.8,203.2L553.2,201.6L554.8,200.4L556.6,199.3L558.7,198.4L561,197.6L563.6,197L566.7,196.5L569.9,196.1L573,195.9L575.7,195.8L578,196L580.2,196.4L582.1,196.9L583.7,197.3L584.9,197.6" stroke="#5e5e5e" stroke-width="4.6"/>
<path d="M548.1,214.2L548.5,212.6L549,210.3L549.7,207.7L550.6,205.2L551.8,203.2L553.2,201.6L554.8,200.4L556.6,199.3L558.7,198.4L561,197.6L563.6,197L566.7,196.5L569.9,196.1L573,195.9L575.7,195.8L578,196L580.2,196.4L582.1,196.9L583.7,197.3L584.9,197.6" stroke="#808080" stroke-width="1.8"/>
<path d="M536.2,206.8L536,209.1L535.9,212.3L535.7,216L535.5,219.8L535.2,223.4L534.9,227L534.5,230.8L534,234.5L533.7,237.7L533.4,239.9" stroke="#5e5e5e" stroke-width="4.6"/>
<path d="M536.2,206.8L536,209.1L535.9,212.3L535.7,216L535.5,219.8L535.2,223.4L534.9,227L534.5,230.8L534,234.5L533.7,237.7L533.4,239.9" stroke="#808080" stroke-width="1.8"/>
<path d="M544.4,219.7L544.5,222.3L544.6,225.9L544.7,230.1L544.7,234.4L544.4,238.1L543.9,241.5L543,244.9L542.1,248.1L541.3,250.9L540.8,252.8" stroke="#5e5e5e" stroke-width="4.6"/>
<path d="M544.4,219.7L544.5,222.3L544.6,225.9L544.7,230.1L544.7,234.4L544.4,238.1L543.9,241.5L543,244.9L542.1,248.1L541.3,250.9L540.8,252.8" stroke="#808080" stroke-width="1.8"/>
<path d="M549.9,236.2L551.4,236.1L553.6,235.9L556,235.7L558.6,235.5L561,235.3L563.4,235.1L565.9,234.9L568.4,234.7L570.5,234.5L572,234.4" stroke="#5e5e5e" stroke-width="4.6"/>
<path d="M549.9,236.2L551.4,236.1L553.6,235.9L556,235.7L558.6,235.5L561,235.3L563.4,235.1L565.9,234.9L568.4,234.7L570.5,234.5L572,234.4" stroke="#808080" stroke-width="1.8"/>
<path d="M520.5,217.9L521.4,218L522.7,218.1L524.1,218.4L525.3,218.8L526,219.7L526.1,221.2L525.8,223.3L525.2,225.5L524.6,227.5L524.2,228.9" stroke="#5e5e5e" stroke-width="4"/>
<path d="M520.5,217.9L521.4,218L522.7,218.1L524.1,218.4L525.3,218.8L526,219.7L526.1,221.2L525.8,223.3L525.2,225.5L524.6,227.5L524.2,228.9" stroke="#808080" stroke-width="1.6"/>
<path d="M626.2,201.3L626.6,202.6L627.1,204.3L627.6,206.3L628,208.5L628.1,210.5L627.8,212.6L627.2,215L626.4,217.3L625.8,219.2L625.3,220.6" stroke="#5e5e5e" stroke-width="5.6"/>
<path d="M626.2,201.3L626.6,202.6L627.1,204.3L627.6,206.3L628,208.5L628.1,210.5L627.8,212.6L627.2,215L626.4,217.3L625.8,219.2L625.3,220.6" stroke="#808080" stroke-width="2.2"/>
<path d="M475.5,216L476.6,217.2L478.3,218.8L480.2,220.7L482.1,222.9L483.8,225.2L485.2,227.8L486.6,230.7L488,233.8L489.2,236.9L490.2,239.9L491,242.9L491.6,245.8L492.1,248.7L492.5,251.6L493,254.6L493.4,257.9L493.8,261.6L494.2,265.1L494.6,268.1L494.8,270.3" stroke="#5e5e5e" stroke-width="6.4"/>
<path d="M475.5,216L476.6,217.2L478.3,218.8L480.2,220.7L482.1,222.9L483.8,225.2L485.2,227.8L486.6,230.7L488,233.8L489.2,236.9L490.2,239.9L491,242.9L491.6,245.8L492.1,248.7L492.5,251.6L493,254.6L493.4,257.9L493.8,261.6L494.2,265.1L494.6,268.1L494.8,270.3" stroke="#808080" stroke-width="2.6"/>
<path d="M432.3,218.8L431,219.1L429,219.4L426.8,219.8L424.7,220.5L423.1,221.5L421.9,223L421,224.8L420.2,226.7L419.7,228.8L419.4,230.7L419.5,232.7L419.9,234.9L420.4,236.9L420.9,238.7L421.3,239.9" stroke="#303030" stroke-width="4.6"/>
<path d="M391.9,248.2L393.3,248.5L395.3,249.1L397.7,249.6L400.3,250L402.9,250L405.6,249.6L408.5,248.7L411.5,247.8L414.6,246.9L417.6,246.4L420.5,246.2L423.5,246.4L426.4,246.7L429.4,247L432.3,247.3L435.3,247.5L438.3,247.7L441.2,248L444.2,248.1L447,248.2L449.9,248.1L452.9,247.9L455.7,247.7L458.1,247.4L459.9,247.3" stroke="#5e5e5e" stroke-width="4.4"/>
<path d="M391.9,248.2L393.3,248.5L395.3,249.1L397.7,249.6L400.3,250L402.9,250L405.6,249.6L408.5,248.7L411.5,247.8L414.6,246.9L417.6,246.4L420.5,246.2L423.5,246.4L426.4,246.7L429.4,247L432.3,247.3L435.3,247.5L438.3,247.7L441.2,248L444.2,248.1L447,248.2L449.9,248.1L452.9,247.9L455.7,247.7L458.1,247.4L459.9,247.3" stroke="#808080" stroke-width="1.8"/>
<path d="M436,252.8L447,250" stroke="#5e5e5e" stroke-width="3.6"/>
<path d="M330.3,236.2L332.1,236.8L334.7,237.7L337.8,238.7L341,239.5L344.1,239.9L347,239.9L350.1,239.6L353.1,239.1L356,238.5L358.8,238.1L361.4,237.7L364,237.3L366.4,236.9L368.4,236.5L369.8,236.2" stroke="#9a9a9a" stroke-width="10"/>
<path d="M341.3,254.6L342.5,255.4L344.2,256.5L346.1,257.8L348,259.3L349.6,261.1L350.8,263.1L351.9,265.4L352.8,267.9L353.6,270.5L354.2,273L354.4,275.6L354.3,278.4L354.1,281.1L353.9,283.6L354.2,285.9L354.9,287.8L355.9,289.6L357,291.1L358.1,292.3L358.8,293.2" stroke="#5e5e5e" stroke-width="7.4"/>
<path d="M341.3,254.6L342.5,255.4L344.2,256.5L346.1,257.8L348,259.3L349.6,261.1L350.8,263.1L351.9,265.4L352.8,267.9L353.6,270.5L354.2,273L354.4,275.6L354.3,278.4L354.1,281.1L353.9,283.6L354.2,285.9L354.9,287.8L355.9,289.6L357,291.1L358.1,292.3L358.8,293.2" stroke="#808080" stroke-width="3"/>
<path d="M351.4,324.5L351.4,325.7L351.4,327.5L351.5,329.4L351.8,331.3L352.3,332.8L353.4,333.7L354.8,334.4L356.4,334.9L357.8,335.2L358.8,335.5" stroke="#5e5e5e" stroke-width="5.6"/>
<path d="M351.4,324.5L351.4,325.7L351.4,327.5L351.5,329.4L351.8,331.3L352.3,332.8L353.4,333.7L354.8,334.4L356.4,334.9L357.8,335.2L358.8,335.5" stroke="#808080" stroke-width="2.2"/>
<path d="M459.9,272.1L458.8,272.7L457.1,273.5L455.3,274.4L453.6,275.5L452.5,276.7L452,278L451.8,279.4L451.9,281L452.2,282.5L452.5,284L453.1,285.5L453.9,287L454.7,288.5L455.6,289.9L456.2,291.4L456.6,293L456.8,294.7L456.9,296.3L457,297.8L457.1,298.8" stroke="#5e5e5e" stroke-width="5.6"/>
<path d="M459.9,272.1L458.8,272.7L457.1,273.5L455.3,274.4L453.6,275.5L452.5,276.7L452,278L451.8,279.4L451.9,281L452.2,282.5L452.5,284L453.1,285.5L453.9,287L454.7,288.5L455.6,289.9L456.2,291.4L456.6,293L456.8,294.7L456.9,296.3L457,297.8L457.1,298.8" stroke="#808080" stroke-width="2.2"/>
<path d="M406.6,291.4L408.4,294.2" stroke="#5e5e5e" stroke-width="5"/>
<path d="M406.6,291.4L408.4,294.2" stroke="#808080" stroke-width="2"/>
<path d="M570.2,277.6L571.6,278.2L573.8,279.2L576.2,280.2L578.2,281.3L579.4,282.2L579.4,283.1L578.6,283.9L577.5,284.7L576.4,285.4L575.7,285.9" stroke="#5e5e5e" stroke-width="9"/>
<path d="M570.2,277.6L571.6,278.2L573.8,279.2L576.2,280.2L578.2,281.3L579.4,282.2L579.4,283.1L578.6,283.9L577.5,284.7L576.4,285.4L575.7,285.9" stroke="#808080" stroke-width="3.6"/>
<path d="M621.6,275.8L620.9,277.1L619.8,279L618.6,281.3L617.6,283.6L617,285.9L617,288.1L617.4,290.5L618,292.9L618.8,295L619.8,296.9L620.9,298.4L622.3,299.7L623.9,300.8L625.5,301.7L627.1,302.4L629,302.9L631.1,303.2L633.2,303.3L635.1,303.3L636.3,303.3" stroke="#5e5e5e" stroke-width="4.6"/>
<path d="M621.6,275.8L620.9,277.1L619.8,279L618.6,281.3L617.6,283.6L617,285.9L617,288.1L617.4,290.5L618,292.9L618.8,295L619.8,296.9L620.9,298.4L622.3,299.7L623.9,300.8L625.5,301.7L627.1,302.4L629,302.9L631.1,303.2L633.2,303.3L635.1,303.3L636.3,303.3" stroke="#808080" stroke-width="1.8"/>
<path d="M535.2,299.7L536.5,299.9L538.3,300.3L540.4,300.7L542.6,301.4L544.4,302.4L546,303.9L547.6,305.6L549.1,307.6L550.5,309.7L551.8,311.6L553,313.5L554.2,315.6L555.3,317.5L556.3,319.3L557.3,320.8L558.2,322L559.1,322.9L559.9,323.5L560.5,324.1L561,324.5" stroke="#5e5e5e" stroke-width="5.6"/>
<path d="M535.2,299.7L536.5,299.9L538.3,300.3L540.4,300.7L542.6,301.4L544.4,302.4L546,303.9L547.6,305.6L549.1,307.6L550.5,309.7L551.8,311.6L553,313.5L554.2,315.6L555.3,317.5L556.3,319.3L557.3,320.8L558.2,322L559.1,322.9L559.9,323.5L560.5,324.1L561,324.5" stroke="#808080" stroke-width="2.2"/>
<path d="M513.2,317.1L513.7,318.2L514.3,319.7L515.1,321.4L516,323.1L516.9,324.5L517.8,325.7L518.8,326.7L519.9,327.7L520.8,328.5L521.4,329.1" stroke="#5e5e5e" stroke-width="3.6"/>
<path d="M495.7,319L495,320.5L493.9,322.6L492.6,325.1L491.6,327.6L491.1,330L491.2,332.4L491.8,334.9L492.6,337.4L493.4,339.5L493.9,341" stroke="#5e5e5e" stroke-width="2"/>
<path d="M448.8,327.2L449.1,328.4L449.5,330.1L450,332L450.4,333.9L450.7,335.5L450.8,336.9L450.8,338.2L450.8,339.4L450.7,340.3L450.7,341" stroke="#5e5e5e" stroke-width="2.6"/>
<path d="M467.2,326.3L468.1,337.4" stroke="#5e5e5e" stroke-width="5"/>
<path d="M467.2,326.3L468.1,337.4" stroke="#808080" stroke-width="2"/>
<path d="M529.7,351.1L531,350.5L532.8,349.6L534.9,348.5L537,347.5L538.9,346.5L540.6,345.5L542.3,344.2L543.9,343.1L545.2,342.5L546.3,342.9L546.9,344.4L547.4,346.7L547.5,349.7L547.5,352.8L547.2,355.7L546.5,358.8L545.5,362.2L544.4,365.5L543.3,368.4L542.6,370.4" stroke="#5e5e5e" stroke-width="5.6"/>
<path d="M529.7,351.1L531,350.5L532.8,349.6L534.9,348.5L537,347.5L538.9,346.5L540.6,345.5L542.3,344.2L543.9,343.1L545.2,342.5L546.3,342.9L546.9,344.4L547.4,346.7L547.5,349.7L547.5,352.8L547.2,355.7L546.5,358.8L545.5,362.2L544.4,365.5L543.3,368.4L542.6,370.4" stroke="#808080" stroke-width="2.2"/>
<path d="M526,353.9L527.9,357.6" stroke="#5e5e5e" stroke-width="6"/>
<path d="M526,353.9L527.9,357.6" stroke="#808080" stroke-width="2.4"/>
<path d="M583,344.7L582.3,346.2L581.3,348.3L580.1,350.8L578.8,353.4L577.5,355.7L576,358.1L574.4,360.7L572.7,363.1L571.2,365.3L570.2,366.8" stroke="#5e5e5e" stroke-width="2.6"/>
<path d="M638.2,346.5L635.1,348L630.8,350.2L625.7,352.6L620.6,355.2L616.1,357.6L612.2,359.8L608.5,362L604.9,364.2L601.4,366.4L597.7,368.6L594.1,370.8L590.4,373L586.7,375.2L583,377.4L579.4,379.6L575.6,381.9L571.6,384.3L567.8,386.6L564.2,388.7L561,390.7L558.1,392.3L555.5,393.9L553.2,395.2L551.3,396.3L549.9,397.1" stroke="#5e5e5e" stroke-width="5.6"/>
<path d="M638.2,346.5L635.1,348L630.8,350.2L625.7,352.6L620.6,355.2L616.1,357.6L612.2,359.8L608.5,362L604.9,364.2L601.4,366.4L597.7,368.6L594.1,370.8L590.4,373L586.7,375.2L583,377.4L579.4,379.6L575.6,381.9L571.6,384.3L567.8,386.6L564.2,388.7L561,390.7L558.1,392.3L555.5,393.9L553.2,395.2L551.3,396.3L549.9,397.1" stroke="#808080" stroke-width="2.2"/>
<path d="M432.3,387L434.7,385.6L438.1,383.6L442.2,381.4L446.5,379.3L450.7,377.8L455,376.8L459.6,376.2L464.3,375.8L468.7,375.7L472.7,376L476.2,376.6L479.3,377.5L482.2,378.8L484.9,380.1L487.4,381.5L489.9,382.8L492.3,384.2L494.5,385.7L496.6,387.3L498.5,388.8L500.3,390.6L502,392.5L503.6,394.3L504.9,396L505.8,397.1" stroke="#5e5e5e" stroke-width="5.6"/>
<path d="M432.3,387L434.7,385.6L438.1,383.6L442.2,381.4L446.5,379.3L450.7,377.8L455,376.8L459.6,376.2L464.3,375.8L468.7,375.7L472.7,376L476.2,376.6L479.3,377.5L482.2,378.8L484.9,380.1L487.4,381.5L489.9,382.8L492.3,384.2L494.5,385.7L496.6,387.3L498.5,388.8L500.3,390.6L502,392.5L503.6,394.3L504.9,396L505.8,397.1" stroke="#808080" stroke-width="2.2"/>
<path d="M606,385.1L612.4,396.2" stroke="#5e5e5e" stroke-width="4"/>
<path d="M606,385.1L612.4,396.2" stroke="#808080" stroke-width="1.6"/>
<path d="M329.4,352.1L329.6,354.2L330.1,357.2L330.6,360.7L331,364.1L331.2,366.8L331.2,368.8L331,370.6L330.7,372.1L330.4,373.2L330.3,374.1" stroke="#5e5e5e" stroke-width="5"/>
<path d="M329.4,352.1L329.6,354.2L330.1,357.2L330.6,360.7L331,364.1L331.2,366.8L331.2,368.8L331,370.6L330.7,372.1L330.4,373.2L330.3,374.1" stroke="#808080" stroke-width="2"/>
<path d="M330.3,190.3L333,205" stroke="#5e5e5e" stroke-width="4"/>
<path d="M330.3,190.3L333,205" stroke="#808080" stroke-width="1.6"/>
<path d="M335.8,119.5L335.8,125" stroke="#5e5e5e" stroke-width="4"/>
<path d="M335.8,119.5L335.8,125" stroke="#808080" stroke-width="1.6"/>
<path d="M507.7,239.9L508.2,240.4L509.1,241.1L510.1,241.9L510.9,242.8L511.3,243.6L511.3,244.5L510.9,245.6L510.4,246.6L509.8,247.6L509.5,248.2" stroke="#9a9a9a" stroke-width="2.6"/>
<path d="M388.2,269.3L389.3,270.4L391,271.8L392.9,273.5L394.5,275.2L395.5,276.7L395.7,278L395.4,279.3L394.7,280.5L394.1,281.5L393.7,282.2" stroke="#9a9a9a" stroke-width="2.6"/>
<path d="M610.6,160.9L611.9,160.8L613.9,160.5L616.1,160.4L618.2,160.4L619.8,160.9L620.9,162L621.8,163.6L622.5,165.5L623.1,167.1L623.5,168.2" stroke="#5e5e5e" stroke-width="3.6"/>
<path d="M601.4,150.8L601,151.7L600.3,152.9L599.6,154.4L599,155.9L598.7,157.2L598.8,158.5L599.1,159.7L599.7,161L600.2,162L600.5,162.7" stroke="#5e5e5e" stroke-width="2.6"/>
<path d="M590.4,230.7L588.5,236.2" stroke="#5e5e5e" stroke-width="5"/>
<path d="M590.4,230.7L588.5,236.2" stroke="#808080" stroke-width="2"/>
<path d="M515,285.9L518.7,290.5" stroke="#5e5e5e" stroke-width="5"/>
<path d="M515,285.9L518.7,290.5" stroke="#808080" stroke-width="2"/>
<path d="M609.7,248.2L610.6,248.5L611.8,249L613.3,249.6L614.8,250.2L616.1,251L617.4,251.8L618.7,252.9L619.9,254L620.9,254.9L621.6,255.6" stroke="#5e5e5e" stroke-width="2.6"/>
<path d="M469.1,363.1L470.9,366.8" stroke="#9a9a9a" stroke-width="5"/>
<path d="M441.5,363.1L445.2,366.8" stroke="#9a9a9a" stroke-width="3"/>
<path d="M373.5,346.5L374.4,350.2" stroke="#9a9a9a" stroke-width="3"/>
<path d="M394.6,206.8L394.7,207.7L394.8,208.9L394.9,210.2L395.2,211.5L395.5,212.4L396.1,212.8L397,213.1L397.9,213.2L398.7,213.2L399.2,213.3" stroke="#9a9a9a" stroke-width="2"/>
<path d="M478.2,199.5L480.1,205" stroke="#9a9a9a" stroke-width="4"/>
<path d="M357.8,306.1 m-12,-8 q8,-7 20,-2 q9,4 6,12 q-2,9 -14,10 q-12,0 -14,-9 q-1,-6 2,-11z" fill="#959595" stroke="#6a6a6a" stroke-width="1.6"/>
<circle cx="421.3" cy="241.4" r="1.8" fill="#111" stroke="none"/>
</g></g>
<text x="335.8" y="379.9" font-size="19.4" font-weight="bold" textLength="63" lengthAdjust="spacingAndGlyphs" stroke="#000" stroke-width="0.5">200nm</text>
<rect x="335" y="389.1" width="63.8" height="2.7" fill="#000"/>
<text x="682.3" y="29.7" font-size="37.8" font-weight="bold" textLength="26.9" lengthAdjust="spacingAndGlyphs">B</text>
<path d="M757.2,110.4L756.5,111.4L755.6,112.7L754.8,114.1L754.1,115.3L753.5,116.5L753,117.7L752.7,118.9L752.4,120.1L752.3,121.4L752.4,122.6L752.7,123.8L753.4,125L754.6,126.2L756.2,127.4L757.9,128.7L759.8,129.9L761.8,131.1L763.6,132.3L765.2,133.5L766.7,134.7L767.7,135.9L768.3,137.2L768.5,138.4L768.4,139.6L768,140.8L767.4,142L766.7,143.2L765.7,144.5L764.6,145.7L763.4,146.9L762.1,148.1L760.8,149.3L759.4,150.5L758.2,151.7L756.9,153L755.8,154.2L754.8,155.4L754,156.6L753.4,157.8L753,159L752.9,160.2L752.9,161.5L753.1,162.7L753.5,163.9L754,165.1L754.7,166.3L755.6,167.5L756.5,168.8L757.5,170L758.7,171.2L759.8,172.4L761,173.6L762.2,174.8L763.4,176L764.5,177.3L765.5,178.5L766.5,179.7L767.3,180.9L768,182.1L768.5,183.3L768.9,184.6L769.1,185.8L769.2,187L769.2,188.2L769,189.4L768.7,190.6L768.2,191.8L767.7,193.1L767.1,194.3L766.3,195.6L765.4,197L764.8,197.9M789.7,120.4L789,121.4L788.1,122.7L787.3,124.1L786.6,125.3L786,126.5L785.6,127.7L785.2,129L784.9,130.2L784.8,131.4L784.9,132.6L785.2,133.8L785.9,135L787.1,136.2L788.7,137.5L790.4,138.7L792.3,139.9L794.3,141.1L796.1,142.3L797.7,143.5L799.2,144.7L800.2,146L800.8,147.2L801,148.4L800.9,149.6L800.5,150.8L799.9,152L799.2,153.3L798.2,154.5L797.1,155.7L795.9,156.9L794.6,158.1L793.3,159.3L791.9,160.5L790.7,161.8L789.4,163L788.3,164.2L787.3,165.4L786.5,166.6L785.9,167.8L785.5,169.1L785.4,170.3L785.4,171.5L785.6,172.7L786,173.9L786.5,175.1L787.2,176.3L788.1,177.6L789,178.8L790,180L791.2,181.2L792.3,182.4L793.5,183.6L794.7,184.9L795.9,186.1L797,187.3L798,188.5L799,189.7L799.8,190.9L800.5,192.1L801.1,193.4L801.4,194.6L801.6,195.8L801.7,197L801.7,198.2L801.5,199.4L801.2,200.7L800.7,201.9L800.2,203.1L799.6,204.3L798.8,205.6L797.9,207L797.3,207.9M817.3,127.2L816.7,128.2L815.7,129.5L814.9,130.9L814.2,132.1L813.7,133.3L813.2,134.5L812.8,135.7L812.5,136.9L812.4,138.2L812.5,139.4L812.9,140.6L813.5,141.8L814.7,143L816.3,144.2L818,145.4L819.9,146.7L821.9,147.9L823.7,149.1L825.3,150.3L826.8,151.5L827.8,152.7L828.4,154L828.6,155.2L828.5,156.4L828.2,157.6L827.6,158.8L826.8,160L825.8,161.2L824.7,162.5L823.5,163.7L822.2,164.9L820.9,166.1L819.6,167.3L818.3,168.5L817,169.8L815.9,171L815,172.2L814.2,173.4L813.5,174.6L813.2,175.8L813,177L813,178.3L813.2,179.5L813.6,180.7L814.2,181.9L814.9,183.1L815.7,184.3L816.6,185.5L817.7,186.8L818.8,188L819.9,189.2L821.1,190.4L822.3,191.6L823.5,192.8L824.6,194.1L825.7,195.3L826.6,196.5L827.4,197.7L828.1,198.9L828.7,200.1L829.1,201.3L829.3,202.6L829.4,203.8L829.3,205L829.1,206.2L828.8,207.4L828.4,208.6L827.8,209.9L827.2,211.1L826.4,212.4L825.6,213.8L824.9,214.7M842,125.3L841.3,126.3L840.4,127.6L839.5,129L838.9,130.2L838.3,131.4L837.8,132.6L837.4,133.8L837.1,135L837.1,136.3L837.2,137.5L837.5,138.7L838.2,139.9L839.4,141.1L841,142.3L842.7,143.5L844.5,144.8L846.5,146L848.4,147.2L850,148.4L851.4,149.6L852.5,150.8L853.1,152.1L853.2,153.3L853.1,154.5L852.8,155.7L852.2,156.9L851.4,158.1L850.5,159.3L849.4,160.6L848.2,161.8L846.9,163L845.5,164.2L844.2,165.4L842.9,166.6L841.7,167.9L840.6,169.1L839.6,170.3L838.8,171.5L838.2,172.7L837.8,173.9L837.6,175.1L837.7,176.4L837.9,177.6L838.3,178.8L838.8,180L839.5,181.2L840.3,182.4L841.3,183.7L842.3,184.9L843.4,186.1L844.6,187.3L845.8,188.5L847,189.7L848.1,190.9L849.2,192.2L850.3,193.4L851.2,194.6L852.1,195.8L852.8,197L853.3,198.2L853.7,199.5L853.9,200.7L854,201.9L853.9,203.1L853.7,204.3L853.4,205.5L853,206.7L852.5,208L851.9,209.2L851.1,210.5L850.2,211.9L849.6,212.8M864.2,124L863.5,124.9L862.6,126.3L861.7,127.6L861.1,128.8L860.5,130L860,131.3L859.6,132.5L859.4,133.7L859.3,134.9L859.4,136.1L859.7,137.3L860.4,138.5L861.6,139.8L863.2,141L864.9,142.2L866.7,143.4L868.7,144.6L870.6,145.8L872.2,147.1L873.6,148.3L874.7,149.5L875.3,150.7L875.4,151.9L875.4,153.1L875,154.3L874.4,155.6L873.6,156.8L872.7,158L871.6,159.2L870.4,160.4L869.1,161.6L867.7,162.9L866.4,164.1L865.1,165.3L863.9,166.5L862.8,167.7L861.8,168.9L861,170.1L860.4,171.4L860,172.6L859.9,173.8L859.9,175L860.1,176.2L860.5,177.4L861,178.7L861.7,179.9L862.6,181.1L863.5,182.3L864.5,183.5L865.7,184.7L866.8,185.9L868,187.2L869.2,188.4L870.4,189.6L871.5,190.8L872.5,192L873.5,193.2L874.3,194.5L875,195.7L875.5,196.9L875.9,198.1L876.1,199.3L876.2,200.5L876.2,201.7L875.9,203L875.6,204.2L875.2,205.4L874.7,206.6L874.1,207.8L873.3,209.2L872.4,210.5L871.8,211.5M890.7,116.7L890.1,117.6L889.1,118.9L888.3,120.3L887.6,121.5L887.1,122.7L886.6,123.9L886.2,125.2L885.9,126.4L885.8,127.6L885.9,128.8L886.3,130L886.9,131.2L888.1,132.5L889.7,133.7L891.4,134.9L893.3,136.1L895.3,137.3L897.1,138.5L898.7,139.7L900.2,141L901.2,142.2L901.8,143.4L902,144.6L901.9,145.8L901.6,147L901,148.2L900.2,149.5L899.2,150.7L898.1,151.9L896.9,153.1L895.6,154.3L894.3,155.5L893,156.8L891.7,158L890.4,159.2L889.3,160.4L888.4,161.6L887.6,162.8L886.9,164L886.6,165.3L886.4,166.5L886.4,167.7L886.6,168.9L887,170.1L887.6,171.3L888.3,172.6L889.1,173.8L890,175L891.1,176.2L892.2,177.4L893.4,178.6L894.5,179.8L895.7,181.1L896.9,182.3L898,183.5L899.1,184.7L900,185.9L900.8,187.1L901.5,188.4L902.1,189.6L902.5,190.8L902.7,192L902.8,193.2L902.7,194.4L902.5,195.6L902.2,196.9L901.8,198.1L901.2,199.3L900.6,200.5L899.8,201.9L899,203.2L898.3,204.2M917,110.4L916.3,111.4L915.4,112.7L914.6,114.1L913.9,115.3L913.3,116.5L912.9,117.7L912.5,118.9L912.2,120.1L912.1,121.4L912.2,122.6L912.5,123.8L913.2,125L914.4,126.2L916,127.4L917.7,128.7L919.6,129.9L921.6,131.1L923.4,132.3L925,133.5L926.5,134.7L927.5,135.9L928.1,137.2L928.3,138.4L928.2,139.6L927.8,140.8L927.2,142L926.5,143.2L925.5,144.5L924.4,145.7L923.2,146.9L921.9,148.1L920.6,149.3L919.2,150.5L918,151.7L916.7,153L915.6,154.2L914.6,155.4L913.8,156.6L913.2,157.8L912.8,159L912.7,160.2L912.7,161.5L912.9,162.7L913.3,163.9L913.8,165.1L914.5,166.3L915.4,167.5L916.3,168.8L917.3,170L918.5,171.2L919.6,172.4L920.8,173.6L922,174.8L923.2,176L924.3,177.3L925.3,178.5L926.3,179.7L927.1,180.9L927.8,182.1L928.4,183.3L928.7,184.6L928.9,185.8L929,187L929,188.2L928.8,189.4L928.5,190.6L928,191.8L927.5,193.1L926.9,194.3L926.1,195.6L925.2,197L924.6,197.9M942.2,98.2L941.5,99.2L940.6,100.5L939.8,101.9L939.1,103.1L938.5,104.3L938,105.5L937.7,106.7L937.4,108L937.3,109.2L937.4,110.4L937.7,111.6L938.4,112.8L939.6,114L941.2,115.2L942.9,116.5L944.7,117.7L946.8,118.9L948.6,120.1L950.2,121.3L951.6,122.5L952.7,123.8L953.3,125L953.4,126.2L953.4,127.4L953,128.6L952.4,129.8L951.6,131L950.7,132.3L949.6,133.5L948.4,134.7L947.1,135.9L945.8,137.1L944.4,138.3L943.1,139.6L941.9,140.8L940.8,142L939.8,143.2L939,144.4L938.4,145.6L938,146.8L937.9,148.1L937.9,149.3L938.1,150.5L938.5,151.7L939,152.9L939.7,154.1L940.6,155.4L941.5,156.6L942.5,157.8L943.7,159L944.8,160.2L946,161.4L947.2,162.6L948.4,163.9L949.5,165.1L950.5,166.3L951.5,167.5L952.3,168.7L953,169.9L953.5,171.2L953.9,172.4L954.1,173.6L954.2,174.8L954.2,176L954,177.2L953.6,178.4L953.2,179.7L952.7,180.9L952.1,182.1L951.3,183.4L950.4,184.8L949.8,185.7M967.1,90.1L966.5,91.1L965.5,92.4L964.7,93.8L964,95L963.4,96.2L963,97.4L962.6,98.6L962.3,99.8L962.2,101L962.3,102.3L962.6,103.5L963.3,104.7L964.5,105.9L966.1,107.1L967.8,108.3L969.7,109.6L971.7,110.8L973.5,112L975.1,113.2L976.6,114.4L977.6,115.6L978.2,116.8L978.4,118.1L978.3,119.3L977.9,120.5L977.3,121.7L976.6,122.9L975.6,124.1L974.5,125.4L973.3,126.6L972,127.8L970.7,129L969.4,130.2L968.1,131.4L966.8,132.6L965.7,133.9L964.8,135.1L963.9,136.3L963.3,137.5L963,138.7L962.8,139.9L962.8,141.2L963,142.4L963.4,143.6L964,144.8L964.6,146L965.5,147.2L966.4,148.4L967.5,149.7L968.6,150.9L969.7,152.1L970.9,153.3L972.1,154.5L973.3,155.7L974.4,156.9L975.4,158.2L976.4,159.4L977.2,160.6L977.9,161.8L978.5,163L978.8,164.2L979.1,165.5L979.1,166.7L979.1,167.9L978.9,169.1L978.6,170.3L978.2,171.5L977.6,172.7L977,174L976.2,175.3L975.3,176.7L974.7,177.6M993.4,87.4L992.7,88.3L991.8,89.7L990.9,91L990.3,92.3L989.7,93.5L989.2,94.7L988.8,95.9L988.6,97.1L988.5,98.3L988.6,99.6L988.9,100.8L989.6,102L990.8,103.2L992.4,104.4L994.1,105.6L995.9,106.8L997.9,108.1L999.8,109.3L1001.4,110.5L1002.8,111.7L1003.9,112.9L1004.5,114.1L1004.6,115.4L1004.6,116.6L1004.2,117.8L1003.6,119L1002.8,120.2L1001.9,121.4L1000.8,122.6L999.6,123.9L998.3,125.1L996.9,126.3L995.6,127.5L994.3,128.7L993.1,129.9L992,131.1L991,132.4L990.2,133.6L989.6,134.8L989.2,136L989.1,137.2L989.1,138.4L989.3,139.7L989.7,140.9L990.2,142.1L990.9,143.3L991.8,144.5L992.7,145.7L993.7,146.9L994.9,148.2L996,149.4L997.2,150.6L998.4,151.8L999.5,153L1000.7,154.2L1001.7,155.5L1002.7,156.7L1003.5,157.9L1004.2,159.1L1004.7,160.3L1005.1,161.5L1005.3,162.7L1005.4,164L1005.3,165.2L1005.1,166.4L1004.8,167.6L1004.4,168.8L1003.9,170L1003.3,171.3L1002.5,172.6L1001.6,174L1001,174.9M1019.1,81.2L1018.5,82.1L1017.5,83.5L1016.7,84.8L1016,86L1015.4,87.2L1015,88.5L1014.6,89.7L1014.3,90.9L1014.2,92.1L1014.3,93.3L1014.6,94.5L1015.3,95.8L1016.5,97L1018.1,98.2L1019.8,99.4L1021.7,100.6L1023.7,101.8L1025.5,103L1027.1,104.3L1028.6,105.5L1029.6,106.7L1030.2,107.9L1030.4,109.1L1030.3,110.3L1029.9,111.6L1029.3,112.8L1028.6,114L1027.6,115.2L1026.5,116.4L1025.3,117.6L1024,118.8L1022.7,120.1L1021.4,121.3L1020.1,122.5L1018.8,123.7L1017.7,124.9L1016.8,126.1L1015.9,127.4L1015.3,128.6L1015,129.8L1014.8,131L1014.8,132.2L1015,133.4L1015.4,134.6L1016,135.9L1016.7,137.1L1017.5,138.3L1018.4,139.5L1019.5,140.7L1020.6,141.9L1021.7,143.1L1022.9,144.4L1024.1,145.6L1025.3,146.8L1026.4,148L1027.4,149.2L1028.4,150.4L1029.2,151.7L1029.9,152.9L1030.5,154.1L1030.8,155.3L1031.1,156.5L1031.1,157.7L1031.1,158.9L1030.9,160.2L1030.6,161.4L1030.2,162.6L1029.6,163.8L1029,165L1028.2,166.4L1027.3,167.7L1026.7,168.7M1051.1,86.6L1050.4,87.5L1049.5,88.9L1048.6,90.2L1048,91.4L1047.4,92.7L1046.9,93.9L1046.5,95.1L1046.2,96.3L1046.2,97.5L1046.3,98.7L1046.6,100L1047.3,101.2L1048.5,102.4L1050.1,103.6L1051.8,104.8L1053.6,106L1055.6,107.2L1057.5,108.5L1059.1,109.7L1060.5,110.9L1061.6,112.1L1062.2,113.3L1062.3,114.5L1062.2,115.8L1061.9,117L1061.3,118.2L1060.5,119.4L1059.6,120.6L1058.5,121.8L1057.3,123L1056,124.3L1054.6,125.5L1053.3,126.7L1052,127.9L1050.8,129.1L1049.7,130.3L1048.7,131.6L1047.9,132.8L1047.3,134L1046.9,135.2L1046.8,136.4L1046.8,137.6L1047,138.8L1047.4,140.1L1047.9,141.3L1048.6,142.5L1049.5,143.7L1050.4,144.9L1051.4,146.1L1052.5,147.4L1053.7,148.6L1054.9,149.8L1056.1,151L1057.2,152.2L1058.3,153.4L1059.4,154.6L1060.3,155.9L1061.2,157.1L1061.9,158.3L1062.4,159.5L1062.8,160.7L1063,161.9L1063.1,163.1L1063,164.4L1062.8,165.6L1062.5,166.8L1062.1,168L1061.6,169.2L1061,170.4L1060.2,171.8L1059.3,173.1L1058.7,174.1M1078.7,90.1L1078,91.1L1077.1,92.4L1076.3,93.8L1075.6,95L1075,96.2L1074.6,97.4L1074.2,98.6L1073.9,99.8L1073.8,101L1073.9,102.3L1074.2,103.5L1074.9,104.7L1076.1,105.9L1077.7,107.1L1079.4,108.3L1081.3,109.6L1083.3,110.8L1085.1,112L1086.7,113.2L1088.2,114.4L1089.2,115.6L1089.8,116.8L1090,118.1L1089.9,119.3L1089.5,120.5L1088.9,121.7L1088.2,122.9L1087.2,124.1L1086.1,125.4L1084.9,126.6L1083.6,127.8L1082.3,129L1080.9,130.2L1079.7,131.4L1078.4,132.6L1077.3,133.9L1076.3,135.1L1075.5,136.3L1074.9,137.5L1074.5,138.7L1074.4,139.9L1074.4,141.2L1074.6,142.4L1075,143.6L1075.5,144.8L1076.2,146L1077.1,147.2L1078,148.4L1079,149.7L1080.2,150.9L1081.3,152.1L1082.5,153.3L1083.7,154.5L1084.9,155.7L1086,156.9L1087,158.2L1088,159.4L1088.8,160.6L1089.5,161.8L1090.1,163L1090.4,164.2L1090.7,165.5L1090.7,166.7L1090.7,167.9L1090.5,169.1L1090.2,170.3L1089.7,171.5L1089.2,172.7L1088.6,174L1087.8,175.3L1086.9,176.7L1086.3,177.6M1114.7,98.2L1114.1,99.2L1113.1,100.6L1112.2,101.9L1111.5,103.2L1110.9,104.4L1110.3,105.7L1109.8,106.9L1109.4,108.1L1109.2,109.4L1109.1,110.6L1109.2,111.8L1109.6,113.1L1110.4,114.3L1111.5,115.5L1112.8,116.8L1114.2,118L1115.6,119.2L1117,120.5L1118.2,121.7L1119.2,123L1119.9,124.2L1120.2,125.4L1120.2,126.7L1119.9,127.9L1119.5,129.1L1118.8,130.4L1118,131.6L1117.1,132.8L1116,134.1L1114.8,135.3L1113.6,136.6L1112.3,137.8L1111,139L1109.8,140.3L1108.6,141.5L1107.5,142.7L1106.6,144L1105.7,145.2L1105.1,146.4L1104.6,147.7L1104.3,148.9L1104.1,150.2L1104.1,151.4L1104.3,152.6L1104.6,153.9L1105,155.1L1105.5,156.3L1106.1,157.6L1106.8,158.8L1107.6,160L1108.3,161.3L1109.1,162.5L1110,163.7L1110.8,165L1111.5,166.2L1112.2,167.5L1112.8,168.7L1113.3,169.9L1113.7,171.2L1114,172.4L1114.2,173.6L1114.2,174.9L1114.1,176.1L1113.9,177.3L1113.5,178.6L1113.1,179.8L1112.6,181.1L1112,182.3L1111.3,183.5L1110.5,184.9L1109.6,186.3L1108.9,187.2M741.5,242.9L740.9,243.8L739.9,245.2L739.1,246.5L738.4,247.7L737.8,248.9L737.4,250.1L737,251.4L736.7,252.6L736.6,253.8L736.7,255L737,256.2L737.7,257.4L738.9,258.7L740.5,259.9L742.2,261.1L744.1,262.3L746.1,263.5L747.9,264.7L749.5,265.9L751,267.2L752,268.4L752.6,269.6L752.8,270.8L752.7,272L752.3,273.2L751.7,274.5L751,275.7L750,276.9L748.9,278.1L747.7,279.3L746.4,280.5L745.1,281.7L743.8,283L742.5,284.2L741.2,285.4L740.1,286.6L739.2,287.8L738.3,289L737.7,290.3L737.4,291.5L737.2,292.7L737.2,293.9L737.4,295.1L737.8,296.3L738.4,297.5L739.1,298.8L739.9,300L740.8,301.2L741.9,302.4L743,303.6L744.1,304.8L745.3,306.1L746.5,307.3L747.7,308.5L748.8,309.7L749.8,310.9L750.8,312.1L751.6,313.3L752.3,314.6L752.9,315.8L753.2,317L753.5,318.2L753.5,319.4L753.5,320.6L753.3,321.9L753,323.1L752.6,324.3L752,325.5L751.4,326.7L750.6,328.1L749.8,329.4L749.1,330.4M771.3,254.5L770.7,255.4L769.7,256.8L768.9,258.2L768.2,259.4L767.6,260.6L767.2,261.8L766.8,263L766.5,264.2L766.4,265.4L766.5,266.7L766.8,267.9L767.5,269.1L768.7,270.3L770.3,271.5L772,272.7L773.9,273.9L775.9,275.2L777.7,276.4L779.3,277.6L780.8,278.8L781.8,280L782.4,281.2L782.6,282.5L782.5,283.7L782.1,284.9L781.5,286.1L780.8,287.3L779.8,288.5L778.7,289.7L777.5,291L776.2,292.2L774.9,293.4L773.6,294.6L772.3,295.8L771,297L769.9,298.3L769,299.5L768.1,300.7L767.5,301.9L767.2,303.1L767,304.3L767,305.5L767.2,306.8L767.6,308L768.2,309.2L768.8,310.4L769.7,311.6L770.6,312.8L771.7,314.1L772.8,315.3L773.9,316.5L775.1,317.7L776.3,318.9L777.5,320.1L778.6,321.3L779.6,322.6L780.6,323.8L781.4,325L782.1,326.2L782.7,327.4L783,328.6L783.3,329.9L783.3,331.1L783.3,332.3L783.1,333.5L782.8,334.7L782.4,335.9L781.8,337.1L781.2,338.4L780.4,339.7L779.5,341.1L778.9,342M798.4,260.5L797.7,261.4L796.8,262.8L796,264.1L795.3,265.3L794.7,266.5L794.2,267.8L793.9,269L793.6,270.2L793.5,271.4L793.6,272.6L793.9,273.8L794.6,275L795.8,276.3L797.4,277.5L799.1,278.7L801,279.9L803,281.1L804.8,282.3L806.4,283.6L807.9,284.8L808.9,286L809.5,287.2L809.7,288.4L809.6,289.6L809.2,290.8L808.6,292.1L807.9,293.3L806.9,294.5L805.8,295.7L804.6,296.9L803.3,298.1L802,299.4L800.6,300.6L799.4,301.8L798.1,303L797,304.2L796,305.4L795.2,306.6L794.6,307.9L794.2,309.1L794.1,310.3L794.1,311.5L794.3,312.7L794.7,313.9L795.2,315.2L795.9,316.4L796.8,317.6L797.7,318.8L798.7,320L799.9,321.2L801,322.4L802.2,323.7L803.4,324.9L804.6,326.1L805.7,327.3L806.7,328.5L807.7,329.7L808.5,330.9L809.2,332.2L809.7,333.4L810.1,334.6L810.3,335.8L810.4,337L810.4,338.2L810.2,339.5L809.9,340.7L809.4,341.9L808.9,343.1L808.3,344.3L807.5,345.7L806.6,347L806,348M822.8,263.4L822.1,264.4L821.2,265.7L820.3,267.1L819.7,268.3L819.1,269.5L818.6,270.7L818.2,271.9L817.9,273.2L817.9,274.4L818,275.6L818.3,276.8L819,278L820.2,279.2L821.8,280.5L823.5,281.7L825.3,282.9L827.3,284.1L829.2,285.3L830.8,286.5L832.2,287.7L833.3,289L833.9,290.2L834,291.4L833.9,292.6L833.6,293.8L833,295L832.2,296.3L831.3,297.5L830.2,298.7L829,299.9L827.7,301.1L826.3,302.3L825,303.5L823.7,304.8L822.5,306L821.4,307.2L820.4,308.4L819.6,309.6L819,310.8L818.6,312.1L818.4,313.3L818.5,314.5L818.7,315.7L819.1,316.9L819.6,318.1L820.3,319.3L821.1,320.6L822.1,321.8L823.1,323L824.2,324.2L825.4,325.4L826.6,326.6L827.8,327.9L828.9,329.1L830,330.3L831.1,331.5L832,332.7L832.9,333.9L833.6,335.1L834.1,336.4L834.5,337.6L834.7,338.8L834.8,340L834.7,341.2L834.5,342.4L834.2,343.7L833.8,344.9L833.3,346.1L832.7,347.3L831.9,348.6L831,350L830.4,350.9M848.5,264L847.8,264.9L846.9,266.3L846.1,267.6L845.4,268.8L844.8,270.1L844.4,271.3L844,272.5L843.7,273.7L843.6,274.9L843.7,276.1L844,277.4L844.7,278.6L845.9,279.8L847.5,281L849.2,282.2L851.1,283.4L853.1,284.6L854.9,285.9L856.5,287.1L858,288.3L859,289.5L859.6,290.7L859.8,291.9L859.7,293.2L859.3,294.4L858.7,295.6L858,296.8L857,298L855.9,299.2L854.7,300.4L853.4,301.7L852.1,302.9L850.7,304.1L849.5,305.3L848.2,306.5L847.1,307.7L846.1,308.9L845.3,310.2L844.7,311.4L844.3,312.6L844.2,313.8L844.2,315L844.4,316.2L844.8,317.5L845.3,318.7L846,319.9L846.9,321.1L847.8,322.3L848.8,323.5L850,324.7L851.1,326L852.3,327.2L853.5,328.4L854.7,329.6L855.8,330.8L856.8,332L857.8,333.3L858.6,334.5L859.3,335.7L859.9,336.9L860.2,338.1L860.5,339.3L860.5,340.5L860.5,341.8L860.3,343L860,344.2L859.5,345.4L859,346.6L858.4,347.8L857.6,349.2L856.7,350.5L856.1,351.5M871.5,262.6L870.9,263.6L869.9,264.9L869.1,266.3L868.4,267.5L867.9,268.7L867.4,269.9L867,271.1L866.7,272.4L866.6,273.6L866.7,274.8L867.1,276L867.7,277.2L868.9,278.4L870.5,279.6L872.2,280.9L874.1,282.1L876.1,283.3L877.9,284.5L879.5,285.7L881,286.9L882,288.2L882.6,289.4L882.8,290.6L882.7,291.8L882.4,293L881.8,294.2L881,295.4L880,296.7L878.9,297.9L877.7,299.1L876.4,300.3L875.1,301.5L873.8,302.7L872.5,303.9L871.2,305.2L870.1,306.4L869.2,307.6L868.4,308.8L867.7,310L867.4,311.2L867.2,312.5L867.2,313.7L867.4,314.9L867.8,316.1L868.4,317.3L869.1,318.5L869.9,319.7L870.8,321L871.9,322.2L873,323.4L874.2,324.6L875.3,325.8L876.5,327L877.7,328.3L878.8,329.5L879.9,330.7L880.8,331.9L881.6,333.1L882.3,334.3L882.9,335.5L883.3,336.8L883.5,338L883.6,339.2L883.5,340.4L883.3,341.6L883,342.8L882.6,344.1L882,345.3L881.4,346.5L880.6,347.8L879.8,349.2L879.1,350.1M897.3,254L896.6,254.9L895.7,256.3L894.8,257.6L894.2,258.8L893.6,260L893.1,261.3L892.7,262.5L892.4,263.7L892.4,264.9L892.5,266.1L892.8,267.3L893.5,268.5L894.7,269.8L896.2,271L897.9,272.2L899.8,273.4L901.8,274.6L903.7,275.8L905.3,277.1L906.7,278.3L907.8,279.5L908.3,280.7L908.5,281.9L908.4,283.1L908.1,284.3L907.5,285.6L906.7,286.8L905.8,288L904.7,289.2L903.5,290.4L902.2,291.6L900.8,292.9L899.5,294.1L898.2,295.3L897,296.5L895.9,297.7L894.9,298.9L894.1,300.1L893.5,301.4L893.1,302.6L892.9,303.8L893,305L893.2,306.2L893.6,307.4L894.1,308.7L894.8,309.9L895.6,311.1L896.6,312.3L897.6,313.5L898.7,314.7L899.9,315.9L901.1,317.2L902.3,318.4L903.4,319.6L904.5,320.8L905.6,322L906.5,323.2L907.4,324.4L908.1,325.7L908.6,326.9L909,328.1L909.2,329.3L909.3,330.5L909.2,331.7L909,333L908.7,334.2L908.3,335.4L907.8,336.6L907.2,337.8L906.4,339.2L905.5,340.5L904.9,341.5M923,245.8L922.3,246.8L921.4,248.1L920.6,249.5L919.9,250.7L919.3,251.9L918.8,253.1L918.5,254.3L918.2,255.6L918.1,256.8L918.2,258L918.5,259.2L919.2,260.4L920.4,261.6L922,262.9L923.7,264.1L925.5,265.3L927.6,266.5L929.4,267.7L931,268.9L932.4,270.1L933.5,271.4L934.1,272.6L934.2,273.8L934.2,275L933.8,276.2L933.2,277.4L932.4,278.6L931.5,279.9L930.4,281.1L929.2,282.3L927.9,283.5L926.6,284.7L925.2,285.9L923.9,287.2L922.7,288.4L921.6,289.6L920.6,290.8L919.8,292L919.2,293.2L918.8,294.4L918.7,295.7L918.7,296.9L918.9,298.1L919.3,299.3L919.8,300.5L920.5,301.7L921.4,303L922.3,304.2L923.3,305.4L924.5,306.6L925.6,307.8L926.8,309L928,310.2L929.2,311.5L930.3,312.7L931.3,313.9L932.3,315.1L933.1,316.3L933.8,317.5L934.3,318.8L934.7,320L934.9,321.2L935,322.4L935,323.6L934.8,324.8L934.4,326L934,327.3L933.5,328.5L932.9,329.7L932.1,331L931.2,332.4L930.6,333.3M947.9,236.4L947.2,237.3L946.3,238.7L945.5,240L944.8,241.2L944.2,242.4L943.8,243.6L943.4,244.9L943.1,246.1L943,247.3L943.1,248.5L943.4,249.7L944.1,250.9L945.3,252.2L946.9,253.4L948.6,254.6L950.5,255.8L952.5,257L954.3,258.2L955.9,259.4L957.4,260.7L958.4,261.9L959,263.1L959.2,264.3L959.1,265.5L958.7,266.7L958.1,268L957.4,269.2L956.4,270.4L955.3,271.6L954.1,272.8L952.8,274L951.5,275.2L950.2,276.5L948.9,277.7L947.6,278.9L946.5,280.1L945.6,281.3L944.7,282.5L944.1,283.8L943.8,285L943.6,286.2L943.6,287.4L943.8,288.6L944.2,289.8L944.8,291L945.4,292.3L946.3,293.5L947.2,294.7L948.3,295.9L949.4,297.1L950.5,298.3L951.7,299.6L952.9,300.8L954.1,302L955.2,303.2L956.2,304.4L957.2,305.6L958,306.8L958.7,308.1L959.3,309.3L959.6,310.5L959.9,311.7L959.9,312.9L959.9,314.1L959.7,315.4L959.4,316.6L959,317.8L958.4,319L957.8,320.2L957,321.6L956.1,322.9L955.5,323.9M973.9,226.6L973.3,227.6L972.3,228.9L971.5,230.3L970.8,231.5L970.2,232.7L969.8,233.9L969.4,235.1L969.1,236.3L969,237.5L969.1,238.8L969.4,240L970.1,241.2L971.3,242.4L972.9,243.6L974.6,244.8L976.5,246.1L978.5,247.3L980.3,248.5L981.9,249.7L983.4,250.9L984.4,252.1L985,253.3L985.2,254.6L985.1,255.8L984.7,257L984.1,258.2L983.4,259.4L982.4,260.6L981.3,261.8L980.1,263.1L978.8,264.3L977.5,265.5L976.2,266.7L974.9,267.9L973.6,269.1L972.5,270.4L971.6,271.6L970.7,272.8L970.1,274L969.8,275.2L969.6,276.4L969.6,277.6L969.8,278.9L970.2,280.1L970.8,281.3L971.4,282.5L972.3,283.7L973.2,284.9L974.3,286.2L975.4,287.4L976.5,288.6L977.7,289.8L978.9,291L980.1,292.2L981.2,293.4L982.2,294.7L983.2,295.9L984,297.1L984.7,298.3L985.3,299.5L985.6,300.7L985.9,302L985.9,303.2L985.9,304.4L985.7,305.6L985.4,306.8L985,308L984.4,309.2L983.8,310.5L983,311.8L982.1,313.2L981.5,314.1M1001,221.2L1000.3,222.1L999.4,223.5L998.6,224.8L997.9,226.1L997.3,227.3L996.8,228.5L996.5,229.7L996.2,230.9L996.1,232.1L996.2,233.3L996.5,234.6L997.2,235.8L998.4,237L1000,238.2L1001.7,239.4L1003.6,240.6L1005.6,241.8L1007.4,243.1L1009,244.3L1010.5,245.5L1011.5,246.7L1012.1,247.9L1012.3,249.1L1012.2,250.4L1011.8,251.6L1011.2,252.8L1010.5,254L1009.5,255.2L1008.4,256.4L1007.2,257.6L1005.9,258.9L1004.6,260.1L1003.2,261.3L1002,262.5L1000.7,263.7L999.6,264.9L998.6,266.2L997.8,267.4L997.2,268.6L996.8,269.8L996.7,271L996.7,272.2L996.9,273.4L997.3,274.7L997.8,275.9L998.5,277.1L999.4,278.3L1000.3,279.5L1001.3,280.7L1002.5,282L1003.6,283.2L1004.8,284.4L1006,285.6L1007.2,286.8L1008.3,288L1009.3,289.2L1010.3,290.5L1011.1,291.7L1011.8,292.9L1012.3,294.1L1012.7,295.3L1012.9,296.5L1013,297.8L1013,299L1012.8,300.2L1012.5,301.4L1012,302.6L1011.5,303.8L1010.9,305L1010.1,306.4L1009.2,307.7L1008.6,308.7M1026.5,218.8L1025.8,219.7L1024.9,221L1024,222.4L1023.4,223.6L1022.8,224.8L1022.3,226L1021.9,227.3L1021.6,228.5L1021.6,229.7L1021.7,230.9L1022,232.1L1022.7,233.3L1023.9,234.5L1025.4,235.8L1027.1,237L1029,238.2L1031,239.4L1032.9,240.6L1034.5,241.8L1035.9,243.1L1037,244.3L1037.5,245.5L1037.7,246.7L1037.6,247.9L1037.3,249.1L1036.7,250.3L1035.9,251.6L1035,252.8L1033.9,254L1032.7,255.2L1031.4,256.4L1030,257.6L1028.7,258.9L1027.4,260.1L1026.2,261.3L1025.1,262.5L1024.1,263.7L1023.3,264.9L1022.7,266.1L1022.3,267.4L1022.1,268.6L1022.2,269.8L1022.4,271L1022.8,272.2L1023.3,273.4L1024,274.7L1024.8,275.9L1025.8,277.1L1026.8,278.3L1027.9,279.5L1029.1,280.7L1030.3,281.9L1031.5,283.2L1032.6,284.4L1033.7,285.6L1034.8,286.8L1035.7,288L1036.5,289.2L1037.3,290.5L1037.8,291.7L1038.2,292.9L1038.4,294.1L1038.5,295.3L1038.4,296.5L1038.2,297.7L1037.9,299L1037.5,300.2L1037,301.4L1036.4,302.6L1035.6,304L1034.7,305.3L1034.1,306.3M1054.4,222L1053.7,222.9L1052.8,224.3L1051.9,225.6L1051.3,226.9L1050.7,228.1L1050.2,229.3L1049.8,230.5L1049.5,231.7L1049.5,232.9L1049.6,234.2L1049.9,235.4L1050.6,236.6L1051.8,237.8L1053.3,239L1055,240.2L1056.9,241.4L1058.9,242.7L1060.7,243.9L1062.4,245.1L1063.8,246.3L1064.9,247.5L1065.4,248.7L1065.6,250L1065.5,251.2L1065.2,252.4L1064.6,253.6L1063.8,254.8L1062.9,256L1061.7,257.2L1060.6,258.5L1059.3,259.7L1057.9,260.9L1056.6,262.1L1055.3,263.3L1054.1,264.5L1053,265.8L1052,267L1051.2,268.2L1050.6,269.4L1050.2,270.6L1050,271.8L1050,273L1050.3,274.3L1050.7,275.5L1051.2,276.7L1051.9,277.9L1052.7,279.1L1053.7,280.3L1054.7,281.6L1055.8,282.8L1057,284L1058.2,285.2L1059.4,286.4L1060.5,287.6L1061.6,288.8L1062.7,290.1L1063.6,291.3L1064.4,292.5L1065.2,293.7L1065.7,294.9L1066.1,296.1L1066.3,297.3L1066.4,298.6L1066.3,299.8L1066.1,301L1065.8,302.2L1065.4,303.4L1064.9,304.6L1064.3,305.9L1063.5,307.2L1062.6,308.6L1062,309.5M1075.2,233.6L1074.6,234.6L1073.6,235.9L1072.8,237.3L1072.1,238.5L1071.5,239.7L1071.1,240.9L1070.7,242.2L1070.4,243.4L1070.3,244.6L1070.4,245.8L1070.7,247L1071.4,248.2L1072.6,249.4L1074.2,250.7L1075.9,251.9L1077.8,253.1L1079.8,254.3L1081.6,255.5L1083.2,256.7L1084.7,258L1085.7,259.2L1086.3,260.4L1086.5,261.6L1086.4,262.8L1086,264L1085.4,265.2L1084.7,266.5L1083.7,267.7L1082.6,268.9L1081.4,270.1L1080.1,271.3L1078.8,272.5L1077.5,273.8L1076.2,275L1074.9,276.2L1073.8,277.4L1072.9,278.6L1072,279.8L1071.4,281L1071.1,282.3L1070.9,283.5L1070.9,284.7L1071.1,285.9L1071.5,287.1L1072.1,288.3L1072.7,289.6L1073.6,290.8L1074.5,292L1075.6,293.2L1076.7,294.4L1077.8,295.6L1079,296.8L1080.2,298.1L1081.4,299.3L1082.5,300.5L1083.5,301.7L1084.5,302.9L1085.3,304.1L1086,305.3L1086.6,306.6L1086.9,307.8L1087.2,309L1087.2,310.2L1087.2,311.4L1087,312.6L1086.7,313.9L1086.3,315.1L1085.7,316.3L1085.1,317.5L1084.3,318.9L1083.4,320.2L1082.8,321.1" fill="none" stroke="#0a4208" stroke-width="2.9" stroke-linecap="round" stroke-linejoin="round"/>
<path d="M743.7,216.7L745.2,217.4L747.1,218.3L749.4,219.4L752,220.6L754.8,221.9L757.8,223.2L760.8,224.6L763.7,225.8L766.6,227L769.4,228L772,229L774.7,229.9L777.3,230.7L780,231.6L782.7,232.3L785.4,233.1L788.1,233.8L790.9,234.5L793.6,235.1L796.5,235.6L799.3,236.2L802.3,236.6L805.2,237.1L808.2,237.5L811.2,237.8L814.2,238.1L817.2,238.4L820.3,238.6L823.3,238.8L826.3,238.9L829.2,239L832.2,239L835.2,239L838.2,238.9L841.2,238.8L844.1,238.6L847.1,238.4L850.1,238.2L853.1,237.9L856.1,237.5L859,237.1L862,236.7L865,236.1L868,235.6L871,235L873.9,234.3L876.9,233.6L879.9,232.9L882.9,232.1L885.9,231.3L888.8,230.5L891.8,229.6L894.8,228.7L897.8,227.7L900.7,226.7L903.7,225.7L906.7,224.6L909.7,223.5L912.7,222.4L915.6,221.3L918.6,220.1L921.6,218.9L924.6,217.6L927.6,216.3L930.5,214.9L933.5,213.6L936.5,212.3L939.5,211L942.5,209.7L945.4,208.5L948.4,207.4L951.4,206.2L954.4,205.1L957.4,204L960.3,202.9L963.3,201.9L966.3,200.9L969.3,199.9L972.3,199.1L975.2,198.3L978.2,197.5L981.2,196.9L984.3,196.2L987.3,195.7L990.3,195.2L993.3,194.7L996.3,194.3L999.2,194L1002.2,193.6L1005,193.4L1007.8,193.2L1010.6,193L1013.4,192.9L1016.1,192.8L1018.7,192.8L1021.4,192.8L1024.1,192.9L1026.7,193L1029.4,193.2L1032.1,193.4L1034.8,193.6L1037.5,194L1040.2,194.3L1042.9,194.8L1045.7,195.2L1048.4,195.7L1051.1,196.3L1053.8,196.9L1056.5,197.6L1059.2,198.3L1061.9,199L1064.7,199.8L1067.5,200.7L1070.3,201.7L1073.1,202.7L1075.8,203.7L1078.6,204.7L1081.2,205.7L1083.8,206.7L1086.3,207.7L1088.8,208.8L1091.3,209.9L1093.9,211L1096.4,212.2L1098.8,213.3L1101.1,214.4L1103.2,215.5L1105.1,216.4L1106.7,217.2L1108,217.8" fill="none" stroke="#1f1f1f" stroke-width="52.1"/>
<path d="M743.7,216.7L745.2,217.4L747.1,218.3L749.4,219.4L752,220.6L754.8,221.9L757.8,223.2L760.8,224.6L763.7,225.8L766.6,227L769.4,228L772,229L774.7,229.9L777.3,230.7L780,231.6L782.7,232.3L785.4,233.1L788.1,233.8L790.9,234.5L793.6,235.1L796.5,235.6L799.3,236.2L802.3,236.6L805.2,237.1L808.2,237.5L811.2,237.8L814.2,238.1L817.2,238.4L820.3,238.6L823.3,238.8L826.3,238.9L829.2,239L832.2,239L835.2,239L838.2,238.9L841.2,238.8L844.1,238.6L847.1,238.4L850.1,238.2L853.1,237.9L856.1,237.5L859,237.1L862,236.7L865,236.1L868,235.6L871,235L873.9,234.3L876.9,233.6L879.9,232.9L882.9,232.1L885.9,231.3L888.8,230.5L891.8,229.6L894.8,228.7L897.8,227.7L900.7,226.7L903.7,225.7L906.7,224.6L909.7,223.5L912.7,222.4L915.6,221.3L918.6,220.1L921.6,218.9L924.6,217.6L927.6,216.3L930.5,214.9L933.5,213.6L936.5,212.3L939.5,211L942.5,209.7L945.4,208.5L948.4,207.4L951.4,206.2L954.4,205.1L957.4,204L960.3,202.9L963.3,201.9L966.3,200.9L969.3,199.9L972.3,199.1L975.2,198.3L978.2,197.5L981.2,196.9L984.3,196.2L987.3,195.7L990.3,195.2L993.3,194.7L996.3,194.3L999.2,194L1002.2,193.6L1005,193.4L1007.8,193.2L1010.6,193L1013.4,192.9L1016.1,192.8L1018.7,192.8L1021.4,192.8L1024.1,192.9L1026.7,193L1029.4,193.2L1032.1,193.4L1034.8,193.6L1037.5,194L1040.2,194.3L1042.9,194.8L1045.7,195.2L1048.4,195.7L1051.1,196.3L1053.8,196.9L1056.5,197.6L1059.2,198.3L1061.9,199L1064.7,199.8L1067.5,200.7L1070.3,201.7L1073.1,202.7L1075.8,203.7L1078.6,204.7L1081.2,205.7L1083.8,206.7L1086.3,207.7L1088.8,208.8L1091.3,209.9L1093.9,211L1096.4,212.2L1098.8,213.3L1101.1,214.4L1103.2,215.5L1105.1,216.4L1106.7,217.2L1108,217.8" fill="none" stroke="#2d2d2d" stroke-width="50"/>
<path d="M743.7,216.7L745.2,217.4L747.1,218.3L749.4,219.4L752,220.6L754.8,221.9L757.8,223.2L760.8,224.6L763.7,225.8L766.6,227L769.4,228L772,229L774.7,229.9L777.3,230.7L780,231.6L782.7,232.3L785.4,233.1L788.1,233.8L790.9,234.5L793.6,235.1L796.5,235.6L799.3,236.2L802.3,236.6L805.2,237.1L808.2,237.5L811.2,237.8L814.2,238.1L817.2,238.4L820.3,238.6L823.3,238.8L826.3,238.9L829.2,239L832.2,239L835.2,239L838.2,238.9L841.2,238.8L844.1,238.6L847.1,238.4L850.1,238.2L853.1,237.9L856.1,237.5L859,237.1L862,236.7L865,236.1L868,235.6L871,235L873.9,234.3L876.9,233.6L879.9,232.9L882.9,232.1L885.9,231.3L888.8,230.5L891.8,229.6L894.8,228.7L897.8,227.7L900.7,226.7L903.7,225.7L906.7,224.6L909.7,223.5L912.7,222.4L915.6,221.3L918.6,220.1L921.6,218.9L924.6,217.6L927.6,216.3L930.5,214.9L933.5,213.6L936.5,212.3L939.5,211L942.5,209.7L945.4,208.5L948.4,207.4L951.4,206.2L954.4,205.1L957.4,204L960.3,202.9L963.3,201.9L966.3,200.9L969.3,199.9L972.3,199.1L975.2,198.3L978.2,197.5L981.2,196.9L984.3,196.2L987.3,195.7L990.3,195.2L993.3,194.7L996.3,194.3L999.2,194L1002.2,193.6L1005,193.4L1007.8,193.2L1010.6,193L1013.4,192.9L1016.1,192.8L1018.7,192.8L1021.4,192.8L1024.1,192.9L1026.7,193L1029.4,193.2L1032.1,193.4L1034.8,193.6L1037.5,194L1040.2,194.3L1042.9,194.8L1045.7,195.2L1048.4,195.7L1051.1,196.3L1053.8,196.9L1056.5,197.6L1059.2,198.3L1061.9,199L1064.7,199.8L1067.5,200.7L1070.3,201.7L1073.1,202.7L1075.8,203.7L1078.6,204.7L1081.2,205.7L1083.8,206.7L1086.3,207.7L1088.8,208.8L1091.3,209.9L1093.9,211L1096.4,212.2L1098.8,213.3L1101.1,214.4L1103.2,215.5L1105.1,216.4L1106.7,217.2L1108,217.8" fill="none" stroke="#3a3a3a" stroke-width="45"/>
<path d="M743.7,216.7L745.2,217.4L747.1,218.3L749.4,219.4L752,220.6L754.8,221.9L757.8,223.2L760.8,224.6L763.7,225.8L766.6,227L769.4,228L772,229L774.7,229.9L777.3,230.7L780,231.6L782.7,232.3L785.4,233.1L788.1,233.8L790.9,234.5L793.6,235.1L796.5,235.6L799.3,236.2L802.3,236.6L805.2,237.1L808.2,237.5L811.2,237.8L814.2,238.1L817.2,238.4L820.3,238.6L823.3,238.8L826.3,238.9L829.2,239L832.2,239L835.2,239L838.2,238.9L841.2,238.8L844.1,238.6L847.1,238.4L850.1,238.2L853.1,237.9L856.1,237.5L859,237.1L862,236.7L865,236.1L868,235.6L871,235L873.9,234.3L876.9,233.6L879.9,232.9L882.9,232.1L885.9,231.3L888.8,230.5L891.8,229.6L894.8,228.7L897.8,227.7L900.7,226.7L903.7,225.7L906.7,224.6L909.7,223.5L912.7,222.4L915.6,221.3L918.6,220.1L921.6,218.9L924.6,217.6L927.6,216.3L930.5,214.9L933.5,213.6L936.5,212.3L939.5,211L942.5,209.7L945.4,208.5L948.4,207.4L951.4,206.2L954.4,205.1L957.4,204L960.3,202.9L963.3,201.9L966.3,200.9L969.3,199.9L972.3,199.1L975.2,198.3L978.2,197.5L981.2,196.9L984.3,196.2L987.3,195.7L990.3,195.2L993.3,194.7L996.3,194.3L999.2,194L1002.2,193.6L1005,193.4L1007.8,193.2L1010.6,193L1013.4,192.9L1016.1,192.8L1018.7,192.8L1021.4,192.8L1024.1,192.9L1026.7,193L1029.4,193.2L1032.1,193.4L1034.8,193.6L1037.5,194L1040.2,194.3L1042.9,194.8L1045.7,195.2L1048.4,195.7L1051.1,196.3L1053.8,196.9L1056.5,197.6L1059.2,198.3L1061.9,199L1064.7,199.8L1067.5,200.7L1070.3,201.7L1073.1,202.7L1075.8,203.7L1078.6,204.7L1081.2,205.7L1083.8,206.7L1086.3,207.7L1088.8,208.8L1091.3,209.9L1093.9,211L1096.4,212.2L1098.8,213.3L1101.1,214.4L1103.2,215.5L1105.1,216.4L1106.7,217.2L1108,217.8" fill="none" stroke="#6a6a6a" stroke-width="40.6"/>
<path d="M743.7,216.7L745.2,217.4L747.1,218.3L749.4,219.4L752,220.6L754.8,221.9L757.8,223.2L760.8,224.6L763.7,225.8L766.6,227L769.4,228L772,229L774.7,229.9L777.3,230.7L780,231.6L782.7,232.3L785.4,233.1L788.1,233.8L790.9,234.5L793.6,235.1L796.5,235.6L799.3,236.2L802.3,236.6L805.2,237.1L808.2,237.5L811.2,237.8L814.2,238.1L817.2,238.4L820.3,238.6L823.3,238.8L826.3,238.9L829.2,239L832.2,239L835.2,239L838.2,238.9L841.2,238.8L844.1,238.6L847.1,238.4L850.1,238.2L853.1,237.9L856.1,237.5L859,237.1L862,236.7L865,236.1L868,235.6L871,235L873.9,234.3L876.9,233.6L879.9,232.9L882.9,232.1L885.9,231.3L888.8,230.5L891.8,229.6L894.8,228.7L897.8,227.7L900.7,226.7L903.7,225.7L906.7,224.6L909.7,223.5L912.7,222.4L915.6,221.3L918.6,220.1L921.6,218.9L924.6,217.6L927.6,216.3L930.5,214.9L933.5,213.6L936.5,212.3L939.5,211L942.5,209.7L945.4,208.5L948.4,207.4L951.4,206.2L954.4,205.1L957.4,204L960.3,202.9L963.3,201.9L966.3,200.9L969.3,199.9L972.3,199.1L975.2,198.3L978.2,197.5L981.2,196.9L984.3,196.2L987.3,195.7L990.3,195.2L993.3,194.7L996.3,194.3L999.2,194L1002.2,193.6L1005,193.4L1007.8,193.2L1010.6,193L1013.4,192.9L1016.1,192.8L1018.7,192.8L1021.4,192.8L1024.1,192.9L1026.7,193L1029.4,193.2L1032.1,193.4L1034.8,193.6L1037.5,194L1040.2,194.3L1042.9,194.8L1045.7,195.2L1048.4,195.7L1051.1,196.3L1053.8,196.9L1056.5,197.6L1059.2,198.3L1061.9,199L1064.7,199.8L1067.5,200.7L1070.3,201.7L1073.1,202.7L1075.8,203.7L1078.6,204.7L1081.2,205.7L1083.8,206.7L1086.3,207.7L1088.8,208.8L1091.3,209.9L1093.9,211L1096.4,212.2L1098.8,213.3L1101.1,214.4L1103.2,215.5L1105.1,216.4L1106.7,217.2L1108,217.8" fill="none" stroke="#7e7e7e" stroke-width="36"/>
<path d="M743.7,216.7L745.2,217.4L747.1,218.3L749.4,219.4L752,220.6L754.8,221.9L757.8,223.2L760.8,224.6L763.7,225.8L766.6,227L769.4,228L772,229L774.7,229.9L777.3,230.7L780,231.6L782.7,232.3L785.4,233.1L788.1,233.8L790.9,234.5L793.6,235.1L796.5,235.6L799.3,236.2L802.3,236.6L805.2,237.1L808.2,237.5L811.2,237.8L814.2,238.1L817.2,238.4L820.3,238.6L823.3,238.8L826.3,238.9L829.2,239L832.2,239L835.2,239L838.2,238.9L841.2,238.8L844.1,238.6L847.1,238.4L850.1,238.2L853.1,237.9L856.1,237.5L859,237.1L862,236.7L865,236.1L868,235.6L871,235L873.9,234.3L876.9,233.6L879.9,232.9L882.9,232.1L885.9,231.3L888.8,230.5L891.8,229.6L894.8,228.7L897.8,227.7L900.7,226.7L903.7,225.7L906.7,224.6L909.7,223.5L912.7,222.4L915.6,221.3L918.6,220.1L921.6,218.9L924.6,217.6L927.6,216.3L930.5,214.9L933.5,213.6L936.5,212.3L939.5,211L942.5,209.7L945.4,208.5L948.4,207.4L951.4,206.2L954.4,205.1L957.4,204L960.3,202.9L963.3,201.9L966.3,200.9L969.3,199.9L972.3,199.1L975.2,198.3L978.2,197.5L981.2,196.9L984.3,196.2L987.3,195.7L990.3,195.2L993.3,194.7L996.3,194.3L999.2,194L1002.2,193.6L1005,193.4L1007.8,193.2L1010.6,193L1013.4,192.9L1016.1,192.8L1018.7,192.8L1021.4,192.8L1024.1,192.9L1026.7,193L1029.4,193.2L1032.1,193.4L1034.8,193.6L1037.5,194L1040.2,194.3L1042.9,194.8L1045.7,195.2L1048.4,195.7L1051.1,196.3L1053.8,196.9L1056.5,197.6L1059.2,198.3L1061.9,199L1064.7,199.8L1067.5,200.7L1070.3,201.7L1073.1,202.7L1075.8,203.7L1078.6,204.7L1081.2,205.7L1083.8,206.7L1086.3,207.7L1088.8,208.8L1091.3,209.9L1093.9,211L1096.4,212.2L1098.8,213.3L1101.1,214.4L1103.2,215.5L1105.1,216.4L1106.7,217.2L1108,217.8" fill="none" stroke="#fdfdfd" stroke-width="31.2"/>
<path d="M743.7,216.7L745.2,217.4L747.1,218.3L749.4,219.4L752,220.6L754.8,221.9L757.8,223.2L760.8,224.6L763.7,225.8L766.6,227L769.4,228L772,229L774.7,229.9L777.3,230.7L780,231.6L782.7,232.3L785.4,233.1L788.1,233.8L790.9,234.5L793.6,235.1L796.5,235.6L799.3,236.2L802.3,236.6L805.2,237.1L808.2,237.5L811.2,237.8L814.2,238.1L817.2,238.4L820.3,238.6L823.3,238.8L826.3,238.9L829.2,239L832.2,239L835.2,239L838.2,238.9L841.2,238.8L844.1,238.6L847.1,238.4L850.1,238.2L853.1,237.9L856.1,237.5L859,237.1L862,236.7L865,236.1L868,235.6L871,235L873.9,234.3L876.9,233.6L879.9,232.9L882.9,232.1L885.9,231.3L888.8,230.5L891.8,229.6L894.8,228.7L897.8,227.7L900.7,226.7L903.7,225.7L906.7,224.6L909.7,223.5L912.7,222.4L915.6,221.3L918.6,220.1L921.6,218.9L924.6,217.6L927.6,216.3L930.5,214.9L933.5,213.6L936.5,212.3L939.5,211L942.5,209.7L945.4,208.5L948.4,207.4L951.4,206.2L954.4,205.1L957.4,204L960.3,202.9L963.3,201.9L966.3,200.9L969.3,199.9L972.3,199.1L975.2,198.3L978.2,197.5L981.2,196.9L984.3,196.2L987.3,195.7L990.3,195.2L993.3,194.7L996.3,194.3L999.2,194L1002.2,193.6L1005,193.4L1007.8,193.2L1010.6,193L1013.4,192.9L1016.1,192.8L1018.7,192.8L1021.4,192.8L1024.1,192.9L1026.7,193L1029.4,193.2L1032.1,193.4L1034.8,193.6L1037.5,194L1040.2,194.3L1042.9,194.8L1045.7,195.2L1048.4,195.7L1051.1,196.3L1053.8,196.9L1056.5,197.6L1059.2,198.3L1061.9,199L1064.7,199.8L1067.5,200.7L1070.3,201.7L1073.1,202.7L1075.8,203.7L1078.6,204.7L1081.2,205.7L1083.8,206.7L1086.3,207.7L1088.8,208.8L1091.3,209.9L1093.9,211L1096.4,212.2L1098.8,213.3L1101.1,214.4L1103.2,215.5L1105.1,216.4L1106.7,217.2L1108,217.8" fill="none" stroke="#e6e6e6" stroke-width="29.4"/>
<rect x="1094.5" y="93.5" width="39" height="99.5" fill="none" stroke="#ff0000" stroke-width="3"/>
<path d="M1133.5,93L1194,66.5" stroke="#ff0000" stroke-width="2.6" fill="none"/>
<path d="M1133.5,192.5L1197,372.5" stroke="#ff0000" stroke-width="2.6" fill="none"/>
<path d="M1195.3,107L1241.2,80.6L1286.4,105.9L1331.4,80.2M1286.4,53.5L1286.4,159M1285.4,155L1323,155M1285.4,162.3L1323,162.3M1283.8,161.2L1267.4,190.7M1268.9,219.5L1286.4,249.2L1259.7,294.4L1276.8,323.4M1271.7,353.3L1248.4,376.2M1300.8,347.9L1331.4,365.3" fill="none" stroke="#111" stroke-width="2.1"/>
<path d="M1219,64.5Q1205,86 1219,108M1316,64.5Q1330,86 1316,108" fill="none" stroke="#111" stroke-width="2"/>
<text x="1335.2" y="119.6" font-size="33" text-anchor="middle" fill="#111">n</text>
<text x="1337.2" y="172.4" font-size="35" text-anchor="middle" fill="#111" textLength="25" lengthAdjust="spacingAndGlyphs">O</text>
<text x="1259.8" y="217.8" font-size="35" text-anchor="middle" fill="#111" textLength="25" lengthAdjust="spacingAndGlyphs">O</text>
<text x="1285.3" y="352.2" font-size="33" text-anchor="middle" fill="#111" textLength="21" lengthAdjust="spacingAndGlyphs">N</text>
<text x="1196" y="404.2" font-size="27.5" fill="#111" textLength="180" lengthAdjust="spacingAndGlyphs">polymer brush</text>
<text x="1467.4" y="29.8" font-size="37.8" font-weight="bold" textLength="25.6" lengthAdjust="spacingAndGlyphs">C</text>
<rect x="1677.2" y="134.2" width="57.8" height="180.2" fill="#ff9300" stroke="#000" stroke-width="3"/>
<path d="M1706,129.2L1706,133.6" stroke="#000" stroke-width="1.8" fill="none"/>
<path d="M1690,129.2L1721.6,129.2" stroke="#000" stroke-width="1.8" fill="none"/>
<path d="M1582.8,315.8L1643,315.8" stroke="#000" stroke-width="1.6" fill="none"/>
<path d="M1612.6,315L1612.6,322.8" stroke="#000" stroke-width="1.5" fill="none"/>
<path d="M1597,322.8L1628.7,322.8" stroke="#000" stroke-width="1.5" fill="none"/>
<path d="M1550.6,71.7L1550.6,364" stroke="#000" stroke-width="2.6" fill="none"/>
<path d="M1538,314.4L1768.6,314.4" stroke="#000" stroke-width="2.6" fill="none"/>
<path d="M1538,362.7L1768.6,362.7" stroke="#000" stroke-width="2.6" fill="none"/>
<path d="M1538,73L1550.6,73" stroke="#000" stroke-width="2.5" fill="none"/>
<text x="1512.2" y="81.1" font-size="23.2" font-weight="bold" textLength="24.8" lengthAdjust="spacingAndGlyphs">25</text>
<path d="M1538,121.3L1550.6,121.3" stroke="#000" stroke-width="2.5" fill="none"/>
<text x="1512.2" y="129.4" font-size="23.2" font-weight="bold" textLength="25.1" lengthAdjust="spacingAndGlyphs">20</text>
<path d="M1538,169.6L1550.6,169.6" stroke="#000" stroke-width="2.5" fill="none"/>
<text x="1511.6" y="177.7" font-size="23.2" font-weight="bold" textLength="25.5" lengthAdjust="spacingAndGlyphs">15</text>
<path d="M1538,217.8L1550.6,217.8" stroke="#000" stroke-width="2.5" fill="none"/>
<text x="1511.5" y="225.9" font-size="23.2" font-weight="bold" textLength="25.8" lengthAdjust="spacingAndGlyphs">10</text>
<path d="M1538,266.1L1550.6,266.1" stroke="#000" stroke-width="2.5" fill="none"/>
<text x="1524.3" y="274.2" font-size="23.2" font-weight="bold" textLength="12.7" lengthAdjust="spacingAndGlyphs">5</text>
<text x="1524.1" y="322.5" font-size="23.2" font-weight="bold" textLength="13.3" lengthAdjust="spacingAndGlyphs">0</text>
<text x="1516.7" y="370.8" font-size="23.2" font-weight="bold" textLength="20.3" lengthAdjust="spacingAndGlyphs">-5</text>
<path d="M1612.6,362.7L1612.6,374.8" stroke="#000" stroke-width="2.6" fill="none"/>
<path d="M1706,362.7L1706,374.8" stroke="#000" stroke-width="2.6" fill="none"/>
<text x="1583.4" y="396.2" font-size="23.6" font-weight="bold" textLength="58.4" lengthAdjust="spacingAndGlyphs">pCNT</text>
<text x="1660.4" y="396.2" font-size="23.6" font-weight="bold" textLength="92.1" lengthAdjust="spacingAndGlyphs">oCNT-pb</text>
<text x="1492.6" y="218.4" font-size="25.5" font-weight="bold" text-anchor="middle" textLength="210" lengthAdjust="spacingAndGlyphs" transform="rotate(-90 1492.6 218.4)">Zeta potential (mV)</text>
<path d="M1614.2,100.8L1614.2,85.1L1707.2,85.1L1707.2,100.8" fill="none" stroke="#000" stroke-width="2.6"/>
<text x="1625.8" y="87.4" font-size="46.5" font-weight="bold" textLength="69.7" lengthAdjust="spacingAndGlyphs">****</text>
<text x="4.5" y="475.6" font-size="37.8" font-weight="bold" textLength="26.5" lengthAdjust="spacingAndGlyphs">D</text>
<path d="M66.9,581.4L68.7,581.5L70.4,581.6L72.2,581.7L73.9,581.6L75.7,581.8L77.4,581.1L79.2,581.5L80.9,581.9L82.7,581.7L84.4,581.9L86.7,582.2L89,583.5L91,584.8L93.1,586.5L95,585.3L97,583.6L99.3,582.9L101.7,582L103.4,582.5L105.1,582.4L106.9,581.9L108.6,582.4L110.3,581.9L112,582.3L113.8,581.9L115.5,581.8L117.2,582.5L119.1,582.3L121.1,582.6L123,583.5L124.9,583.7L126.8,582.5L128.7,582.2L130.6,581.2L132.5,580.5L134.4,579.4L136.1,579.7L137.8,579.3L139.6,579.3L141.3,579.1L143,578.4L144.7,578.2L146.4,577.9L148.2,577.6L149.9,577.4L151.6,577.3L153.3,578L155.1,578L156.8,578.9L158.5,579.1L160.2,580.9L161.9,583.1L163.7,584.7L165.4,586.4L167.4,590.2L169.5,594.2L172.3,599.9L174.5,594.4L177.5,589.5L179.2,589.7L180.9,589.3L182.7,588.2L184.4,588.4L185.2,593.3L187.8,588.3L189.5,587.8L191.2,587.8L193,587.9L194.7,588.6L196.4,588L198.6,591L200.8,593.7L202.9,590.7L205.1,587.2L206.8,586.6L208.5,586.2L210.2,585.8L212,584.7L213.7,584.7L215.4,584.1L217,584.1L218.6,583.4L220.3,584.1L221.9,583.3L223.5,583.5L225.1,583.7L226.7,583.8L228.4,583.3L230,583.7L231.6,583.4L233.2,583.1L234.8,583.1L236.4,582.9L238.1,582.8L239.7,582.8L241.3,583.2L242.9,583.4L244.6,582.7L246.2,582.6L247.9,583.3L249.5,583L251.1,582.8L252.8,582.7L254.4,583L256,583.1L257.7,582.8L259.3,582.8L261,582.5L262.6,583.1L264.2,582.4L265.9,582.8L267.5,583L269.1,582.5L270.8,582.9L272.4,583.1L274.1,582.8L275.7,582.9L277.4,579.3L279.2,582.9L280.8,582.7L282.4,583.2L284,582.7L285.6,582.7L287.2,583.1L288.8,582.9L290.4,583L292,582.5L293.6,582.4L295.2,582.6L296.8,582.3L298.4,582.1L300,582.1L301.7,581.3L303.4,580.9L305.1,580.8L306.9,580.2L308.6,579.4L310.3,578.7L312,579.6L313.8,580.4L315.5,581.5L317.2,582.9L318.9,583.1L320.6,582.7L322.4,583.1L324.1,583.2L325.8,583.2L327.5,582.5L329.3,582L331,581L332.8,580.7L334.5,579.7L336.2,580L337.9,580.3L339.6,580.3L341.4,580.1L343.1,580.7L344.8,580.5L346.5,581.2L348.2,581.4L350,582.5L351.7,583L353.4,584L355.1,583.9L356.8,584.2L358.6,584L360.3,584.1L362,583.8L363.7,584L365.5,584.1L367.2,584.2L368.9,583.8L370.6,583.8L372.4,583.5L374.1,582.9L375.8,582.8L377.5,582.4L379.3,581.7L381,581.3L382.6,579.7L384.2,579L385.9,577.7L387.5,576.1L389.6,595.3L391.8,616L394.8,595.3L396.5,593.5L398.2,592.7L399.9,592.7L401.6,593L403.4,593L405.1,593.3L406.8,593.6L408.6,596.1L410.3,591.4L412,586.1L413.7,585.5L415.4,585.1L417.2,584.5L418.9,583.5L420.6,583.1L422.3,582.3L424.1,580.9L425.8,580.4L427.5,579.4L429.3,578.4L431,577.6L432.7,579.5L434.4,581L436.1,582.8L437.7,586.1L439.4,589.9L441,593.3L442.8,591.2L444.7,588.9L446.5,586.3L448.2,586L449.9,584.4L451.7,583.8L453.4,582.9L455.1,582.1L456.8,581L458.5,580.7L460.3,579.5L462,578.4L463.7,578L465.4,577.5L467.1,577.8L468.9,577.5L470.6,577.6L472.3,577.9L474.9,586.8L476.9,586.5L478.9,587L480.9,586.9L483,582.2L485.2,577.6L487.4,579.2L489.6,580.5L491.3,585.7L493,590.6L494.7,595.2L496.4,598.8L498.2,603.1L500.4,596.8L502.5,591.3L504.5,589.3L506.5,586.9L508.5,584.1L510.2,584.4L511.9,584.5L513.7,584L515.4,583.9L517.1,583.7L519.2,585.9L521.4,588.6L524,583.9" stroke="#ff9300" stroke-width="3.7" fill="none" stroke-linejoin="round" stroke-linecap="round"/>
<path d="M66.9,721.7L68.5,722.1L70.2,722.2L71.8,722L73.4,721.9L75,722.3L76.7,722.1L78.3,722.1L79.9,722.1L81.5,722.6L83.2,722.3L84.8,722.2L86.4,722.4L88.1,722.2L89.7,722.6L91.3,722.5L92.9,722.5L94.6,722.8L96.2,722.9L97.8,722.5L99.4,722.8L101.1,722.7L102.7,723.2L104.3,723.2L106,722.9L107.6,722.9L109.2,722.9L110.8,723.5L112.5,723.1L114.1,723.4L115.7,723.3L117.3,723.5L119,723.5L120.6,723.6L122.2,723.4L123.9,723.8L125.5,723.6L127.2,723.8L128.8,723.8L130.5,723.9L132.1,724.1L133.7,724.1L135.4,724.1L137,724.5L138.7,724.4L140.3,724.2L142,724.4L143.6,724.6L145.2,725L146.9,725L148.5,724.9L150.2,724.7L151.8,725.2L153.5,725.1L155.1,725.2L156.7,725.4L158.3,725.4L159.9,725.3L161.6,725.6L163.2,725.3L164.8,725.4L166.4,725.7L168,725.3L169.6,725.4L171.3,725.8L172.9,725.4L174.5,725.9L176.1,725.8L177.7,725.7L179.3,725.6L180.9,726L182.6,726.1L184.2,725.7L185.8,725.9L187.4,726L189,726L190.6,725.9L192.3,725.9L193.9,726.2L195.5,726.3L197.1,725.9L198.7,726.1L200.3,726.4L202,726.5L203.6,726.4L205.2,726.1L206.8,726.5L208.5,726.7L210.2,726.7L212,726.5L213.7,726.1L215.4,726.6L217.1,726.2L218.9,726.5L220.6,726.7L222.3,726.5L224,725.9L225.8,725.7L227.5,725.9L229.2,725.1L230.9,725.1L232.7,724.8L234.4,724.4L236.1,724.4L237.8,723.8L239.6,723.5L241.3,723.4L243,723.2L244.7,723.2L246.5,723.5L248.2,723.6L249.9,723.7L251.6,723.3L253.3,723.5L255.1,723.4L256.8,723.6L258.5,723.5L260.2,724L261.9,723.8L263.7,723.8L265.4,724.4L267.1,724.3L268.8,724.7L270.6,724.8L272.3,725.3L274,725.3L275.7,725.5L277.5,725.5L279.2,725.8L280.9,725.9L282.7,725.1L284.5,723.8L286.4,722.5L288.2,721.4L290,720.4L291.7,719.4L293.3,717.8L295,716.9L296.7,715.7L298.3,714.1L300,713.2L301.7,711.3L303.4,709.8L305.2,708.5L306.9,706.8L308.6,705.6L311.7,698.5L314,705.9L317.2,715.9L318.9,715.4L320.6,715.8L322.4,715.4L324.1,715.5L325.8,714.7L327.6,713.3L329.3,711.7L331,710.4L333.1,706.1L335.3,701.2L337.3,702.7L339.4,703.8L341.4,705.5L343.2,703.6L345.1,701.7L348,707.9L349.9,711.1L351.7,713.9L353.4,715.1L355.1,716.2L356.9,717.8L358.6,718.9L360.3,720.2L362,720.4L363.7,721.1L365.5,721.3L367.2,721.8L368.9,722.2L370.6,722.7L372.3,722.9L374.1,723.2L375.8,723.6L377.5,724.1L379.1,724L380.8,724.5L382.4,724.3L384,724.5L385.6,724L387.3,724.3L388.9,724.5L390.5,724.4L392.1,724.3L393.8,724.3L395.4,724.1L397,724.1L398.7,724.1L400.3,724.2L401.9,724.2L403.5,724.5L405.2,724.1L406.8,724.2L408.5,723.7L410.3,723.3L412,722.9L413.7,722.5L415.5,722.2L417.2,721.5L418.8,722L420.4,721.6L422.1,721.8L423.7,721.6L425.3,721.5L426.9,721.3L428.5,721.5L430.2,721L431.8,721.2L433.4,720.9L435,721.1L436.6,721L438.3,720.6L439.9,720.6L441.5,720.4L443.1,720.4L444.8,720.2L446.4,720.4L448,720.6L449.6,720.2L451.2,720.1L452.9,720.1L454.5,719.9L456.1,720.1L457.7,720L459.3,719.6L461,719.6L462.6,719.8L464.2,719.8L465.8,719.6L467.4,719.4L469.1,719.6L470.7,719L472.3,718.9L474,718.6L475.8,717.7L477.5,716.7L479.2,716.3L480.9,715.8L482.7,714.8L484.4,713.9L486,713.7L487.7,713.7L489.3,714.1L491,713.8L492.6,714.1L494.3,713.5L495.9,713.6L497.6,713.4L499.2,713.6L500.9,713.4L502.6,713.4L504.2,713.5L505.8,713.4L507.5,713.2L509.1,713.2L510.8,713.7L512.5,713.2L514.1,713.3L515.8,713.2L517.4,713.3L519,713L520.7,713.1L522.4,712.9L524,713.1" stroke="#0433ff" stroke-width="3.7" fill="none" stroke-linejoin="round" stroke-linecap="round"/>
<ellipse cx="185.8" cy="593" rx="45.7" ry="24.1" fill="none" stroke="#1a1a1a" stroke-width="1.7" stroke-dasharray="4.6 2.2"/>
<ellipse cx="392.2" cy="614.4" rx="20.7" ry="12.4" fill="none" stroke="#1a1a1a" stroke-width="1.7" stroke-dasharray="4.6 2.2"/>
<ellipse cx="445.6" cy="592.2" rx="22.6" ry="19.8" fill="none" stroke="#1a1a1a" stroke-width="1.7" stroke-dasharray="4.6 2.2"/>
<ellipse cx="499" cy="600.6" rx="20.7" ry="12.4" fill="none" stroke="#1a1a1a" stroke-width="1.7" stroke-dasharray="4.6 2.2"/>
<path d="M66.6,495.7L66.6,803.1M54,801.9L525.4,801.9M54,496.9L66.6,496.9M59.6,512.1L66.6,512.1M59.6,527.4L66.6,527.4M59.6,542.6L66.6,542.6M59.6,557.9L66.6,557.9M54,573.1L66.6,573.1M59.6,588.4L66.6,588.4M59.6,603.6L66.6,603.6M59.6,618.9L66.6,618.9M59.6,634.1L66.6,634.1M54,649.4L66.6,649.4M59.6,664.6L66.6,664.6M59.6,679.9L66.6,679.9M59.6,695.1L66.6,695.1M59.6,710.4L66.6,710.4M54,725.6L66.6,725.6M59.6,740.9L66.6,740.9M59.6,756.1L66.6,756.1M59.6,771.4L66.6,771.4M59.6,786.6L66.6,786.6M66.6,801.9L66.6,814.8M84.9,801.9L84.9,809.6M103.2,801.9L103.2,809.6M121.5,801.9L121.5,809.6M139.8,801.9L139.8,809.6M158.1,801.9L158.1,814.8M176.4,801.9L176.4,809.6M194.7,801.9L194.7,809.6M213,801.9L213,809.6M231.3,801.9L231.3,809.6M249.6,801.9L249.6,814.8M267.9,801.9L267.9,809.6M286.2,801.9L286.2,809.6M304.6,801.9L304.6,809.6M322.9,801.9L322.9,809.6M341.2,801.9L341.2,814.8M359.5,801.9L359.5,809.6M377.8,801.9L377.8,809.6M396.1,801.9L396.1,809.6M414.4,801.9L414.4,809.6M432.7,801.9L432.7,814.8M451,801.9L451,809.6M469.3,801.9L469.3,809.6M487.6,801.9L487.6,809.6M505.9,801.9L505.9,809.6M524.2,801.9L524.2,814.8" stroke="#000" stroke-width="2.7" fill="none"/>
<text x="40.9" y="837.6" font-size="24.4" font-weight="bold" textLength="51.9" lengthAdjust="spacingAndGlyphs">3500</text>
<text x="132.4" y="837.6" font-size="24.4" font-weight="bold" textLength="51.9" lengthAdjust="spacingAndGlyphs">3000</text>
<text x="223.6" y="837.6" font-size="24.4" font-weight="bold" textLength="52.2" lengthAdjust="spacingAndGlyphs">2500</text>
<text x="315.1" y="837.6" font-size="24.4" font-weight="bold" textLength="52.2" lengthAdjust="spacingAndGlyphs">2000</text>
<text x="406" y="837.6" font-size="24.4" font-weight="bold" textLength="52.9" lengthAdjust="spacingAndGlyphs">1500</text>
<text x="497.5" y="837.6" font-size="24.4" font-weight="bold" textLength="52.9" lengthAdjust="spacingAndGlyphs">1000</text>
<text x="184.2" y="880.4" font-size="26.2" font-weight="bold" textLength="222" lengthAdjust="spacingAndGlyphs">Wavenumber(cm<tspan dy="-8.4" font-size="16.6">-1</tspan><tspan dy="8.4">)</tspan></text>
<text x="38" y="650.6" font-size="27" font-weight="bold" text-anchor="middle" textLength="224.5" lengthAdjust="spacingAndGlyphs" transform="rotate(-90 38 650.6)">Transmission (a.u.)</text>
<text x="112.9" y="636.6" font-size="16" font-weight="bold" fill="#111" textLength="132.7" lengthAdjust="spacingAndGlyphs">2760 cm<tspan dy="-5.6" font-size="10.4">-1</tspan><tspan dy="5.6">-2820 cm</tspan><tspan dy="-5.6" font-size="10.4">-1</tspan></text>
<text x="115.8" y="654.2" font-size="16" font-weight="bold" fill="#111" textLength="49.6" lengthAdjust="spacingAndGlyphs">-N(CH<tspan dy="3" font-size="10.4">3</tspan><tspan dy="-3">)</tspan></text>
<text x="331.9" y="644.7" font-size="16" font-weight="bold" fill="#111" textLength="62.9" lengthAdjust="spacingAndGlyphs">1720 cm<tspan dy="-5.6" font-size="10.4">-1</tspan></text>
<text x="331.9" y="661.4" font-size="16" font-weight="bold" fill="#111" textLength="28.6" lengthAdjust="spacingAndGlyphs">C=O</text>
<text x="419.8" y="628.3" font-size="16" font-weight="bold" fill="#111" textLength="62.5" lengthAdjust="spacingAndGlyphs">1448 cm<tspan dy="-5.6" font-size="10.4">-1</tspan></text>
<text x="418.9" y="644.7" font-size="16" font-weight="bold" fill="#111" textLength="24.5" lengthAdjust="spacingAndGlyphs">C-N</text>
<text x="496.4" y="628.3" font-size="16" font-weight="bold" fill="#111" textLength="62.1" lengthAdjust="spacingAndGlyphs">1150 cm<tspan dy="-5.6" font-size="10.4">-1</tspan></text>
<text x="496.1" y="644.7" font-size="16" font-weight="bold" fill="#111" textLength="39.6" lengthAdjust="spacingAndGlyphs">C-O-C</text>
<path d="M383.2,491.2L417.2,491.2" stroke="#0433ff" stroke-width="1.5" fill="none"/>
<circle cx="400.4" cy="491.2" r="1.3" fill="#0433ff"/>
<text x="435.2" y="498.7" font-size="21.2" fill="#0433ff" textLength="53.6" lengthAdjust="spacingAndGlyphs">pCNT</text>
<path d="M383.2,525.3L417.2,525.3" stroke="#ff9300" stroke-width="1.5" fill="none"/>
<circle cx="400.4" cy="525.3" r="1.3" fill="#ff9300"/>
<text x="435.2" y="532.8" font-size="21.2" fill="#ff9300" textLength="81.2" lengthAdjust="spacingAndGlyphs">oCNT-pb</text>
<text x="682.6" y="475.6" font-size="37.8" font-weight="bold" textLength="23.8" lengthAdjust="spacingAndGlyphs">E</text>
<path d="M762.9,558.8L769.4,559.2L778.8,559.8L789,560.5L797.9,561.1L805.3,561.6L812.1,562.1L818.3,562.6L823.7,563.2L828,563.7L831.5,564.3L834.5,564.9L837.5,565.8L840.6,567L843.7,568.4L846.6,570L849.6,571.8L852.7,573.9L855.8,576.3L858.8,578.8L861.6,581.3L864,583.9L866.2,586.6L868.2,589.2L870.2,591.6L872.2,593.8L874,595.9L875.9,597.8L878,599.4L880.2,600.6L882.4,601.4L884.8,602.1L887.5,602.8L890.6,603.5L893.9,604.1L897.5,604.8L901.3,605.4L905.5,606L910,606.6L914.5,607.2L918.5,608L921.9,608.9L924.9,609.8L927.7,610.9L930.5,612.3L933.2,614.1L935.8,616.1L938.3,618.4L940.9,620.9L943.5,623.6L946.2,626.6L948.8,629.6L951.2,632.4L953.5,635.1L955.7,637.7L957.7,640.2L959.7,642.3L961.4,644L962.9,645.3L964.5,646.4L966.5,647.4L968.9,648.3L971.6,649L974.6,649.6L978.3,650.1L982.5,650.6L987.1,651L992.4,651.4L998.6,651.8L1005.3,652.2L1012.6,652.7L1021.3,653.1L1032.5,653.5L1046.2,653.9L1061.9,654.2L1079.9,654.5L1100.2,654.9L1126.3,655.3L1156.9,655.8L1185.5,656.3L1205.2,656.6" stroke="#ff9300" stroke-width="4.7" fill="none"/>
<path d="M762.9,558L1000,558.2L1050,559.2L1150,560L1205.2,562.2" stroke="#0433ff" stroke-width="4.6" fill="none"/>
<path d="M761.8,506.2L761.8,805.2M749.6,804L1205.7,804M750,507.4L761.8,507.4M755.2,532.1L761.8,532.1M755.2,556.8L761.8,556.8M750,581.5L761.8,581.5M755.2,606.3L761.8,606.3M755.2,631L761.8,631M750,655.7L761.8,655.7M755.2,680.4L761.8,680.4M755.2,705.1L761.8,705.1M750,729.9L761.8,729.9M755.2,754.6L761.8,754.6M755.2,779.3L761.8,779.3M774.4,804L774.4,810.8M787.1,804L787.1,810.8M799.7,804L799.7,810.8M812.4,804L812.4,810.8M825,804L825,817M837.7,804L837.7,810.8M850.3,804L850.3,810.8M863,804L863,810.8M875.6,804L875.6,810.8M888.3,804L888.3,810.8M900.9,804L900.9,810.8M913.6,804L913.6,810.8M926.2,804L926.2,810.8M938.9,804L938.9,810.8M951.5,804L951.5,817M964.2,804L964.2,810.8M976.8,804L976.8,810.8M989.5,804L989.5,810.8M1002.1,804L1002.1,810.8M1014.8,804L1014.8,810.8M1027.4,804L1027.4,810.8M1040.1,804L1040.1,810.8M1052.7,804L1052.7,810.8M1065.4,804L1065.4,810.8M1078,804L1078,817M1090.7,804L1090.7,810.8M1103.3,804L1103.3,810.8M1116,804L1116,810.8M1128.6,804L1128.6,810.8M1141.3,804L1141.3,810.8M1153.9,804L1153.9,810.8M1166.6,804L1166.6,810.8M1179.2,804L1179.2,810.8M1191.9,804L1191.9,810.8M1204.5,804L1204.5,817" stroke="#000" stroke-width="2.7" fill="none"/>
<text x="710.2" y="515.6" font-size="23.4" font-weight="bold" textLength="38" lengthAdjust="spacingAndGlyphs">120</text>
<text x="722.4" y="589.8" font-size="23.4" font-weight="bold" textLength="25.8" lengthAdjust="spacingAndGlyphs">90</text>
<text x="722.4" y="663.9" font-size="23.4" font-weight="bold" textLength="25.8" lengthAdjust="spacingAndGlyphs">60</text>
<text x="722.7" y="738.1" font-size="23.4" font-weight="bold" textLength="25.5" lengthAdjust="spacingAndGlyphs">30</text>
<text x="734.6" y="812.2" font-size="23.4" font-weight="bold" textLength="13.6" lengthAdjust="spacingAndGlyphs">0</text>
<text x="806.1" y="839.4" font-size="23.4" font-weight="bold" textLength="38.1" lengthAdjust="spacingAndGlyphs">200</text>
<text x="933" y="839.4" font-size="23.4" font-weight="bold" textLength="37.7" lengthAdjust="spacingAndGlyphs">400</text>
<text x="1059" y="839.4" font-size="23.4" font-weight="bold" textLength="38.2" lengthAdjust="spacingAndGlyphs">600</text>
<text x="1185.6" y="839.4" font-size="23.4" font-weight="bold" textLength="38.1" lengthAdjust="spacingAndGlyphs">800</text>
<text x="887.2" y="876.8" font-size="26.4" font-weight="bold" textLength="192.6" lengthAdjust="spacingAndGlyphs">Temperature (°C)</text>
<text x="689.6" y="656" font-size="26.4" font-weight="bold" text-anchor="middle" textLength="121" lengthAdjust="spacingAndGlyphs" transform="rotate(-90 689.6 656)">Weight (%)</text>
<path d="M766.7,699.2L799.5,699.2" stroke="#0433ff" stroke-width="1.5" fill="none"/>
<circle cx="783" cy="699.2" r="1.3" fill="#0433ff"/>
<text x="816.8" y="707.8" font-size="24" fill="#0433ff" textLength="62.6" lengthAdjust="spacingAndGlyphs">pCNT</text>
<path d="M766.7,730.7L799.5,730.7" stroke="#ff9300" stroke-width="1.5" fill="none"/>
<circle cx="783" cy="730.7" r="1.3" fill="#ff9300"/>
<text x="816.8" y="739.3" font-size="24" fill="#ff9300" textLength="95.5" lengthAdjust="spacingAndGlyphs">oCNT-pb</text>
<text x="1261.2" y="475.6" font-size="37.8" font-weight="bold" textLength="21.8" lengthAdjust="spacingAndGlyphs">F</text>
<path d="M1409.3,621.9L1409.3,610.4M1396.1,610.4L1422.5,610.4" stroke="#000" stroke-width="2.2" fill="none"/>
<rect x="1386.5" y="622.4" width="45.6" height="202" fill="#fff" stroke="#000" stroke-width="3"/>
<path d="M1484.7,655.6L1484.7,645.5M1471.5,645.5L1497.9,645.5" stroke="#000" stroke-width="2.2" fill="none"/>
<rect x="1461.5" y="656.1" width="46.3" height="168.3" fill="#000" stroke="#000" stroke-width="3"/>
<path d="M1559.4,627.6L1559.4,604.1M1546.2,604.1L1572.6,604.1" stroke="#000" stroke-width="2.2" fill="none"/>
<rect x="1536.6" y="628.1" width="45.6" height="196.3" fill="#ff2600" stroke="#000" stroke-width="3"/>
<path d="M1634.5,640.2L1634.5,621.5M1621.3,621.5L1647.7,621.5" stroke="#000" stroke-width="2.2" fill="none"/>
<rect x="1611.7" y="640.7" width="45.6" height="183.7" fill="#a81a08" stroke="#000" stroke-width="3"/>
<path d="M1709.5,591L1709.5,536.6M1696.3,536.6L1722.7,536.6" stroke="#000" stroke-width="2.2" fill="none"/>
<rect x="1686.7" y="591.5" width="45.6" height="232.9" fill="#5a0f08" stroke="#000" stroke-width="3"/>
<path d="M1359.6,517L1359.6,825.9" stroke="#000" stroke-width="3.1" fill="none"/>
<path d="M1348.7,824.4L1759.4,824.4" stroke="#000" stroke-width="3.1" fill="none"/>
<path d="M1348.7,518.6L1359.6,518.6" stroke="#000" stroke-width="3" fill="none"/>
<text x="1319.5" y="525.2" font-size="18.6" font-weight="bold" textLength="27.9" lengthAdjust="spacingAndGlyphs">150</text>
<path d="M1348.7,620.5L1359.6,620.5" stroke="#000" stroke-width="3" fill="none"/>
<text x="1319.5" y="627.1" font-size="18.6" font-weight="bold" textLength="27.9" lengthAdjust="spacingAndGlyphs">100</text>
<path d="M1348.7,722.5L1359.6,722.5" stroke="#000" stroke-width="3" fill="none"/>
<text x="1328.7" y="729.1" font-size="18.6" font-weight="bold" textLength="18.8" lengthAdjust="spacingAndGlyphs">50</text>
<text x="1337.7" y="831" font-size="18.6" font-weight="bold" textLength="9.8" lengthAdjust="spacingAndGlyphs">0</text>
<path d="M1409.3,824.4L1409.3,835.6" stroke="#000" stroke-width="3" fill="none"/>
<path d="M1484.7,824.4L1484.7,835.6" stroke="#000" stroke-width="3" fill="none"/>
<path d="M1559.4,824.4L1559.4,835.6" stroke="#000" stroke-width="3" fill="none"/>
<path d="M1634.5,824.4L1634.5,835.6" stroke="#000" stroke-width="3" fill="none"/>
<path d="M1709.5,824.4L1709.5,835.6" stroke="#000" stroke-width="3" fill="none"/>
<text x="1386.5" y="852" font-size="18.4" font-weight="bold" textLength="44.5" lengthAdjust="spacingAndGlyphs">blank</text>
<text x="1467.9" y="852" font-size="18.4" font-weight="bold" textLength="33" lengthAdjust="spacingAndGlyphs">ribo</text>
<text x="1524.1" y="852" font-size="18.4" font-weight="bold" textLength="70.5" lengthAdjust="spacingAndGlyphs">oCNT-pb</text>
<text x="1599.2" y="852" font-size="18.4" font-weight="bold" textLength="70.5" lengthAdjust="spacingAndGlyphs">oCNT-pb</text>
<text x="1674.2" y="852" font-size="18.4" font-weight="bold" textLength="70.5" lengthAdjust="spacingAndGlyphs">oCNT-pb</text>
<text x="1322.4" y="888.4" font-size="19.6" textLength="30.4" lengthAdjust="spacingAndGlyphs">N/P</text>
<text x="1409.3" y="888.4" font-size="18.4" text-anchor="middle">-</text>
<text x="1484.7" y="888.4" font-size="18.4" text-anchor="middle">-</text>
<text x="1559.4" y="888.4" font-size="18.4" font-weight="bold" text-anchor="middle">2</text>
<text x="1634.5" y="888.4" font-size="18.4" font-weight="bold" text-anchor="middle">5</text>
<text x="1709.5" y="888.4" font-size="18.4" font-weight="bold" text-anchor="middle">10</text>
<text x="1307.6" y="671.6" font-size="18" font-weight="bold" text-anchor="middle" textLength="132" lengthAdjust="spacingAndGlyphs" transform="rotate(-90 1307.6 671.6)">cell viability (%)</text>
<text x="1559.4" y="589.2" font-size="19.5" text-anchor="middle" textLength="19" lengthAdjust="spacingAndGlyphs">ns</text>
<text x="1634.5" y="605.7" font-size="19.5" text-anchor="middle" textLength="19" lengthAdjust="spacingAndGlyphs">ns</text>
<text x="1709.5" y="520.2" font-size="19.5" text-anchor="middle" textLength="19" lengthAdjust="spacingAndGlyphs">ns</text>
<text x="1484.7" y="625.6" font-size="17" font-weight="bold" text-anchor="middle">*</text>
<text x="4.5" y="963.2" font-size="37.8" font-weight="bold" textLength="28.7" lengthAdjust="spacingAndGlyphs">G</text>
<text x="251.9" y="956.4" font-size="22.2" text-anchor="middle" textLength="47.8" lengthAdjust="spacingAndGlyphs" stroke="#000" stroke-width="0.7">Ribo</text>
<text x="745.9" y="956.4" font-size="22.2" text-anchor="middle" textLength="98" lengthAdjust="spacingAndGlyphs" stroke="#000" stroke-width="0.7">oCNT-pb</text>
<path d="M405.2,977.5L1044.8,977.5" stroke="#000" stroke-width="2.9" fill="none"/>
<path d="M405.2,1280.2L1044.8,1280.2" stroke="#000" stroke-width="2.9" fill="none"/>
<text x="584.2" y="1313.6" font-size="23.4" text-anchor="middle" textLength="69.8" lengthAdjust="spacingAndGlyphs" stroke="#000" stroke-width="0.7">N/P=2</text>
<text x="917.4" y="1313.6" font-size="23.4" text-anchor="middle" textLength="68.8" lengthAdjust="spacingAndGlyphs" stroke="#000" stroke-width="0.7">N/P=5</text>
<g transform="translate(136.6,993.9)" fill="none" stroke-width="1.6">
<path d="M4.1,213.5h1.6M6,217.3h1.6M9.2,230.2h1.6M11.7,178.9h1.6M11,226.8h1.6M13.6,183.1h1.6M13.6,221.1h1.6M13.3,226.8h1.6M12.9,235.9h1.6M14.8,201.7h1.6M15.2,209.7h1.6M15.5,241.6h1.6M16.7,188.8h1.6M17.1,192.2h1.6M20.5,160.3h1.6M20.5,186.5h1.6M20.9,232.1h1.6M23.1,177.7h1.6M26.6,167.9h1.6M30.8,135.6h1.6M32.6,152.7h1.6M32.6,156.5h1.6M36.1,160.6h1.6M37.6,135.2h1.6M38.4,154.9h1.6M43.7,154.9h1.6M45.6,141.3h1.6M45.9,148.9h1.6M47.5,134h1.6M47.9,144.8h1.6M49.4,149.2h1.6M51.3,114.7h1.6M53.5,128h1.6M56.6,114.7h1.6M58.9,128.3h1.6M59.2,135.9h1.6M60.8,232.5h1.6M62.7,124.2h1.6M66.2,242.3h1.6M68,105.5h1.6M68.7,137.5h1.6M70.3,97.6h1.6M70,238.2h1.6M73.8,88.1h1.6M76,97.2h1.6M76,122.6h1.6M76.3,215h1.6M78.2,106.8h1.6M77.5,110.9h1.6M78.2,127.7h1.6M79.8,99.8h1.6M80.1,124.5h1.6M79.8,220.7h1.6M79.5,228.7h1.6M81.7,87.8h1.6M81.7,105.5h1.6M81.7,211.2h1.6M83.9,202.1h1.6M83.2,206.2h1.6M83.6,213.5h1.6M85.8,78.2h1.6M85.8,101h1.6M85.5,118.8h1.6M85.5,129.5h1.6M85.8,217.3h1.6M87,97.9h1.6M87,112.5h1.6M87.4,139h1.6M89,128.3h1.6M89.3,141.3h1.6M89.3,194.5h1.6M91.5,151.1h1.6M93.4,101.7h1.6M93.1,105.2h1.6M93.1,163.8h1.6M93.4,181.2h1.6M92.8,186.9h1.6M93.4,225.2h1.6M95,129.9h1.6M99.1,189.1h1.6M100.3,135.9h1.6M100.7,170.1h1.6M102.6,120.7h1.6M102.2,126.4h1.6M106.7,71.3h1.6M106,99.2h1.6M106.7,104.9h1.6M106,129.9h1.6M108.6,120.7h1.6M108,183.1h1.6M110.5,122h1.6M112.1,68.8h1.6M112.1,131.8h1.6M114,230.6h1.6M116.2,101.7h1.6M115.9,120h1.6M115.5,172h1.6M115.5,183.1h1.6M117.5,156.5h1.6M119.3,118.5h1.6M121.2,104.9h1.6M121.6,127.7h1.6M121.6,133.7h1.6M123.2,181.2h1.6M125.4,110.9h1.6M129.2,122.3h1.6M130.8,132.1h1.6M134.9,103.6h1.6M134.9,175.8h1.6M140.2,139.7h1.6M140.2,196.7h1.6M142.2,139.7h1.6M144.8,122.3h1.6M145.9,74.8h1.6M149.8,126.4h1.6M149.8,190.3h1.6M156.1,76.4h1.6M155.4,137.1h1.6M156.1,215.4h1.6M159.6,147h1.6M166.8,164.1h1.6M169.4,150.8h1.6M172.6,164.4h1.6M174.4,101.7h1.6M174.4,162.5h1.6M175.1,181.5h1.6M177,162.2h1.6M176.3,177.4h1.6M178.6,110.5h1.6M180.2,179.6h1.6M182.4,114.7h1.6M186.5,130.2h1.6" stroke="#a8a8ff"/>
<path d="M11.7,215.7h1.6M14.8,215h1.6M14.8,221.4h1.6M16.7,222.6h1.6M17.4,237.8h1.6M19,185.3h1.6M18.6,192.2h1.6M18.6,198.6h1.6M19.4,208.1h1.6M18.6,215.4h1.6M19,224.9h1.6M21.2,171.3h1.6M21.2,201.7h1.6M20.5,211.9h1.6M20.9,222.6h1.6M21.2,225.2h1.6M20.9,236.3h1.6M20.9,242.3h1.6M22.4,175.5h1.6M22.4,184.6h1.6M22.4,196h1.6M22.4,198.3h1.6M22.4,205.9h1.6M22.8,213.5h1.6M22.8,215h1.6M22.4,219.5h1.6M23.1,228.7h1.6M25.1,156.1h1.6M24.7,160.3h1.6M24.3,194.5h1.6M24.7,196h1.6M24.7,201.7h1.6M25.1,203.6h1.6M24.3,205.9h1.6M24.7,207.4h1.6M24.7,221.4h1.6M25.1,223h1.6M25.1,229h1.6M24.3,238.2h1.6M24.3,242h1.6M26.6,158h1.6M26.9,178.9h1.6M26.9,189.1h1.6M26.6,194.1h1.6M26.6,199.8h1.6M26.9,202.1h1.6M26.6,206.2h1.6M26.9,211.2h1.6M26.9,219.5h1.6M26.6,221.1h1.6M26.6,227.1h1.6M26.6,230.2h1.6M28.5,156.1h1.6M28.9,175.1h1.6M28.5,186.5h1.6M28.1,191h1.6M28.5,208.1h1.6M28.9,209.7h1.6M28.1,217.3h1.6M28.5,224.5h1.6M28.5,228.7h1.6M28.9,230.9h1.6M28.5,232.8h1.6M30.4,173.2h1.6M30.8,179.6h1.6M30.8,183.4h1.6M30.8,185.3h1.6M30,189.1h1.6M30.4,190.7h1.6M30.4,194.5h1.6M30.4,196.7h1.6M30.4,202.1h1.6M30.4,207.8h1.6M30,215.4h1.6M30.8,218.8h1.6M30.8,222.6h1.6M30.4,224.5h1.6M30.8,228.3h1.6M32.6,175.5h1.6M32.3,177h1.6M32.6,178.9h1.6M32.3,183.1h1.6M32.3,185h1.6M32.3,187.2h1.6M32.6,192.9h1.6M31.9,194.1h1.6M31.9,198.3h1.6M31.9,200.5h1.6M32.6,205.5h1.6M32.6,210h1.6M31.9,217.3h1.6M31.9,221.1h1.6M32.6,227.1h1.6M32.3,236.6h1.6M32.3,240.4h1.6M34.2,164.4h1.6M34.5,169.8h1.6M34.5,187.2h1.6M34.2,188.4h1.6M34.5,190.3h1.6M33.8,194.8h1.6M33.8,196h1.6M34.2,199.8h1.6M34.2,215.7h1.6M34.2,216.9h1.6M34.2,219.2h1.6M33.8,221.4h1.6M33.8,240.4h1.6M35.8,167.9h1.6M36.5,170.1h1.6M36.5,173.9h1.6M36.1,184.6h1.6M35.8,192.9h1.6M35.8,194.1h1.6M36.5,196.7h1.6M36.1,198.3h1.6M36.1,205.9h1.6M35.8,207.4h1.6M36.1,209.7h1.6M36.1,211.9h1.6M36.5,215.7h1.6M36.5,217.3h1.6M36.1,219.5h1.6M35.8,224.5h1.6M35.8,227.1h1.6M35.8,238.5h1.6M36.1,240.4h1.6M37.6,148.9h1.6M38.4,150.8h1.6M37.6,168.2h1.6M38.4,173.2h1.6M38.4,175.1h1.6M37.6,179.6h1.6M37.6,182.7h1.6M37.6,186.9h1.6M38.4,190.7h1.6M37.6,194.8h1.6M38,196.7h1.6M37.6,199.8h1.6M37.6,204h1.6M37.6,210h1.6M37.6,211.2h1.6M38,215h1.6M37.6,217.3h1.6M38,223.3h1.6M38,226.4h1.6M37.6,229h1.6M37.6,232.1h1.6M40.2,150.4h1.6M40.2,175.8h1.6M39.9,179.6h1.6M40.2,185.3h1.6M39.5,188.8h1.6M39.9,192.6h1.6M39.5,194.5h1.6M39.9,196.4h1.6M39.5,198.6h1.6M39.5,201.7h1.6M40.2,204.3h1.6M39.9,205.5h1.6M40.2,209.7h1.6M40.2,211.6h1.6M40.2,213.1h1.6M39.9,216.9h1.6M39.9,219.2h1.6M39.9,221.4h1.6M39.9,223h1.6M39.5,226.8h1.6M40.2,232.8h1.6M39.9,235.9h1.6M40.2,242h1.6M41.4,152.3h1.6M42.1,159.9h1.6M41.4,171.3h1.6M42.1,173.6h1.6M42.1,175.8h1.6M41.4,177.7h1.6M41.8,179.3h1.6M42.1,181.5h1.6M42.1,183.1h1.6M41.8,188.4h1.6M41.4,192.2h1.6M41.4,202.1h1.6M41.4,207.8h1.6M41.8,209.3h1.6M42.1,211.9h1.6M42.1,213.8h1.6M42.1,220.7h1.6M41.8,224.9h1.6M42.1,227.1h1.6M41.8,232.1h1.6M43.3,156.1h1.6M44,167.9h1.6M44,169.8h1.6M44,171.3h1.6M43.3,173.9h1.6M43.3,183.4h1.6M43.3,184.6h1.6M43.7,187.2h1.6M43.3,188.4h1.6M43.7,190.7h1.6M44,192.2h1.6M43.7,198.6h1.6M43.7,202.4h1.6M43.3,204h1.6M44,205.5h1.6M43.7,207.8h1.6M43.3,211.9h1.6M44,213.8h1.6M44,216.9h1.6M43.3,221.4h1.6M43.7,227.1h1.6M44,236.6h1.6M45.9,150.8h1.6M45.2,163.8h1.6M45.6,173.6h1.6M45.6,181.2h1.6M45.6,184.6h1.6M45.6,187.2h1.6M45.2,192.6h1.6M45.6,194.5h1.6M45.6,197.9h1.6M45.9,199.8h1.6M45.6,205.5h1.6M45.6,208.1h1.6M45.9,209.7h1.6M45.9,213.5h1.6M45.9,215.7h1.6M45.9,216.9h1.6M45.6,219.2h1.6M45.6,223.3h1.6M45.6,225.2h1.6M45.6,227.1h1.6M45.6,228.7h1.6M45.2,232.1h1.6M45.2,234h1.6M45.2,238.5h1.6M47.9,156.1h1.6M47.5,160.3h1.6M47.5,166.3h1.6M47.5,170.1h1.6M47.9,171.3h1.6M47.9,175.5h1.6M47.5,177.7h1.6M47.1,179.3h1.6M47.1,181.5h1.6M47.1,188.4h1.6M47.9,205.5h1.6M47.1,219.5h1.6M47.1,223.3h1.6M47.9,230.9h1.6M47.9,235.9h1.6M49,156.8h1.6M49,165.6h1.6M49,168.2h1.6M49.4,170.1h1.6M49.4,175.1h1.6M49.4,177h1.6M49,178.9h1.6M49.8,190.7h1.6M49,192.9h1.6M49.4,194.8h1.6M49.4,197.9h1.6M49,205.9h1.6M49.4,207.4h1.6M49.8,213.8h1.6M49.4,215.4h1.6M49.8,222.6h1.6M49.8,226.4h1.6M49.4,228.7h1.6M49.8,232.8h1.6M49.8,235.9h1.6M49.8,240.4h1.6M49,242h1.6M50.9,153h1.6M50.9,162.2h1.6M51.3,164.1h1.6M51.6,167.5h1.6M51.6,169.4h1.6M51.6,175.5h1.6M51.3,179.3h1.6M51.6,183.1h1.6M50.9,196.7h1.6M51.3,200.5h1.6M51.6,203.6h1.6M51.3,205.9h1.6M51.3,211.2h1.6M51.6,213.5h1.6M50.9,217.6h1.6M50.9,218.8h1.6M51.3,228.7h1.6M50.9,232.1h1.6M53.5,131.4h1.6M53.2,137.5h1.6M52.8,141.6h1.6M53.2,151.1h1.6M52.8,156.5h1.6M53.5,162.2h1.6M52.8,164.4h1.6M53.5,169.4h1.6M53.2,172h1.6M53.2,173.9h1.6M52.8,175.5h1.6M53.2,177.7h1.6M53.2,179.6h1.6M52.8,181.2h1.6M53.5,183.4h1.6M52.8,186.5h1.6M53.5,188.8h1.6M53.5,190.7h1.6M52.8,192.6h1.6M53.2,194.5h1.6M53.5,205.5h1.6M53.2,211.2h1.6M53.2,213.5h1.6M53.2,215.7h1.6M53.2,217.6h1.6M53.5,219.2h1.6M52.8,228.3h1.6M52.8,234.4h1.6M53.5,238.5h1.6M55.4,144.8h1.6M55.1,149.2h1.6M54.7,151.1h1.6M55.4,154.6h1.6M55.1,164.1h1.6M54.7,165.6h1.6M54.7,167.5h1.6M54.7,169.4h1.6M55.1,173.6h1.6M54.7,177h1.6M54.7,178.9h1.6M55.1,180.8h1.6M55.4,185h1.6M55.4,186.9h1.6M55.4,190.7h1.6M55.4,192.6h1.6M55.4,194.5h1.6M54.7,198.6h1.6M55.4,200.2h1.6M55.4,204h1.6M55.1,211.2h1.6M54.7,215h1.6M55.4,225.2h1.6M55.4,238.2h1.6M54.7,241.6h1.6M57.4,131.8h1.6M56.6,137.1h1.6M57,141.3h1.6M57,146.6h1.6M56.6,148.9h1.6M57.4,150.4h1.6M57,153h1.6M57.4,156.1h1.6M56.6,158h1.6M56.6,172h1.6M57.4,173.9h1.6M57.4,181.2h1.6M57.4,182.7h1.6M57,184.6h1.6M56.6,190.3h1.6M57.4,194.5h1.6M56.6,196h1.6M56.6,197.9h1.6M57,200.2h1.6M57,204h1.6M57.4,207.8h1.6M57,209.3h1.6M56.6,211.9h1.6M57,213.5h1.6M56.6,218.8h1.6M58.9,148.5h1.6M59.2,160.3h1.6M59.2,163.8h1.6M58.5,166.3h1.6M59.2,171.3h1.6M58.5,173.2h1.6M58.5,175.5h1.6M58.9,180.8h1.6M58.9,183.4h1.6M59.2,188.4h1.6M59.2,191h1.6M58.9,198.3h1.6M58.5,200.2h1.6M58.9,201.7h1.6M58.9,205.9h1.6M58.5,208.1h1.6M58.9,210h1.6M58.5,221.4h1.6M58.9,229h1.6M58.9,241.6h1.6M61.1,128.3h1.6M61.1,142.8h1.6M60.4,144.8h1.6M60.8,153h1.6M60.8,162.5h1.6M60.8,164.1h1.6M60.8,168.2h1.6M60.8,169.4h1.6M60.8,172h1.6M61.1,173.9h1.6M61.1,179.3h1.6M60.4,180.8h1.6M60.8,182.7h1.6M61.1,194.1h1.6M60.8,196.7h1.6M60.8,200.2h1.6M60.4,203.6h1.6M60.4,205.5h1.6M60.8,207.4h1.6M60.4,211.6h1.6M60.8,215.7h1.6M60.4,217.6h1.6M60.8,219.5h1.6M60.8,221.4h1.6M62.3,115h1.6M62.3,128h1.6M63,130.2h1.6M62.7,154.2h1.6M62.3,158.4h1.6M63,162.5h1.6M62.7,163.8h1.6M62.7,166.3h1.6M62.3,169.4h1.6M63,171.7h1.6M63,179.3h1.6M63,180.8h1.6M62.3,185.3h1.6M62.7,196.7h1.6M62.3,197.9h1.6M62.3,200.2h1.6M62.7,202.4h1.6M63,208.1h1.6M63,215h1.6M63,224.5h1.6M62.3,227.1h1.6M62.3,236.6h1.6M64.6,126.1h1.6M64.2,139.7h1.6M64.9,150.8h1.6M64.9,158h1.6M64.9,159.9h1.6M64.2,162.5h1.6M64.6,166.3h1.6M64.6,167.9h1.6M64.2,175.5h1.6M64.6,179.6h1.6M64.9,180.8h1.6M64.2,188.4h1.6M64.9,198.6h1.6M64.2,202.1h1.6M64.9,206.2h1.6M64.9,208.1h1.6M64.9,209.3h1.6M64.6,215h1.6M64.2,217.6h1.6M64.9,226.8h1.6M64.9,229h1.6M64.9,230.6h1.6M66.5,110.5h1.6M66.5,115h1.6M66.2,126.4h1.6M66.8,130.2h1.6M66.2,143.5h1.6M66.8,147h1.6M66.2,156.5h1.6M66.8,162.2h1.6M66.5,167.9h1.6M66.8,169.4h1.6M66.2,173.9h1.6M66.8,179.3h1.6M66.5,181.2h1.6M66.8,182.7h1.6M66.2,184.6h1.6M66.8,190.3h1.6M66.8,192.2h1.6M66.2,194.8h1.6M66.8,196.7h1.6M66.5,198.6h1.6M66.5,206.2h1.6M66.8,210h1.6M66.2,211.6h1.6M66.2,213.5h1.6M66.8,226.4h1.6M66.2,232.5h1.6M66.8,235.9h1.6M68.7,124.2h1.6M68.4,147h1.6M68.4,156.8h1.6M68.7,162.2h1.6M68.7,168.2h1.6M68,173.2h1.6M68.4,179.6h1.6M68,183.1h1.6M68.7,187.2h1.6M68.7,188.4h1.6M68.4,191h1.6M68,196.7h1.6M68,198.6h1.6M68.4,200.5h1.6M68,203.6h1.6M68,209.7h1.6M68.4,211.9h1.6M68,215h1.6M68,226.4h1.6M70,118.2h1.6M70.3,139.7h1.6M70.6,152.7h1.6M70.6,154.9h1.6M70,156.1h1.6M70,162.5h1.6M70.6,164.4h1.6M70,166.3h1.6M70.6,175.8h1.6M70,177h1.6M70,179.6h1.6M70.6,184.6h1.6M70.6,186.5h1.6M70.6,196.4h1.6M70.3,198.3h1.6M70.6,202.1h1.6M70,217.3h1.6M70,219.2h1.6M70.3,222.6h1.6M70.6,224.5h1.6M70.6,226.4h1.6M71.9,137.5h1.6M71.9,150.8h1.6M72.2,152.7h1.6M71.9,156.8h1.6M72.5,158.4h1.6M72.5,164.4h1.6M72.2,167.5h1.6M71.9,170.1h1.6M71.9,173.2h1.6M71.9,175.1h1.6M72.5,180.8h1.6M71.9,182.7h1.6M72.5,188.8h1.6M72.2,190.3h1.6M71.9,192.6h1.6M72.2,194.5h1.6M72.2,196h1.6M72.5,205.5h1.6M74.4,114.7h1.6M73.8,116.2h1.6M74.1,122.3h1.6M73.8,126.1h1.6M74.4,152.3h1.6M74.4,156.1h1.6M73.8,158.7h1.6M74.4,165.6h1.6M73.8,167.9h1.6M74.1,175.1h1.6M73.8,177.4h1.6M73.8,179.3h1.6M73.8,181.2h1.6M74.1,190.3h1.6M73.8,192.2h1.6M73.8,207.8h1.6M74.1,210h1.6M74.4,221.1h1.6M76,131.8h1.6M75.7,135.2h1.6M76.3,146.6h1.6M75.7,148.9h1.6M75.7,156.5h1.6M75.7,159.9h1.6M76.3,167.5h1.6M75.7,170.1h1.6M76,173.9h1.6M76.3,175.5h1.6M75.7,177.4h1.6M75.7,178.9h1.6M76,181.5h1.6M76,190.3h1.6M75.7,194.1h1.6M75.7,198.6h1.6M76.3,200.5h1.6M76,207.8h1.6M75.7,209.7h1.6M75.7,221.1h1.6M76.3,224.9h1.6M77.9,135.6h1.6M77.5,139.7h1.6M78.2,150.8h1.6M77.9,164.4h1.6M77.5,165.6h1.6M77.5,167.9h1.6M77.5,172h1.6M78.2,175.5h1.6M77.5,177h1.6M78.2,183.4h1.6M78.2,185.3h1.6M77.9,188.4h1.6M77.5,194.8h1.6M78.2,196.4h1.6M77.5,204h1.6M78.2,207.4h1.6M79.5,95.4h1.6M79.5,114.7h1.6M79.8,131.4h1.6M79.8,133.7h1.6M79.8,151.1h1.6M79.8,159.9h1.6M79.5,162.5h1.6M80.1,167.9h1.6M80.1,169.4h1.6M79.8,171.7h1.6M79.5,179.3h1.6M80.1,180.8h1.6M79.5,192.2h1.6M79.5,213.8h1.6M80.1,217.6h1.6M81.7,99.5h1.6M82,112.5h1.6M81.4,133.7h1.6M81.7,137.1h1.6M82,154.6h1.6M81.7,156.1h1.6M81.7,173.2h1.6M81.4,177h1.6M81.7,179.6h1.6M81.7,185.3h1.6M81.4,217.3h1.6M83.6,139.4h1.6M83.9,143.2h1.6M83.2,153h1.6M83.9,158.4h1.6M83.6,166.3h1.6M83.2,186.9h1.6M83.2,190.3h1.6M83.9,192.9h1.6M83.6,196.4h1.6M83.2,200.5h1.6M85.8,104.9h1.6M85.2,116.2h1.6M85.5,120.7h1.6M85.5,145.1h1.6M85.5,154.2h1.6M85.8,160.6h1.6M85.5,161.8h1.6M85.2,164.4h1.6M85.8,167.9h1.6M85.8,171.7h1.6M85.2,175.1h1.6M85.8,181.2h1.6M85.5,190.7h1.6M85.8,194.1h1.6M85.2,197.9h1.6M87,84.3h1.6M87.4,99.5h1.6M87.4,148.9h1.6M87.4,163.8h1.6M87,185h1.6M87,215.4h1.6M89.6,87.8h1.6M89.6,90h1.6M89.3,103.3h1.6M89,106.8h1.6M89.6,143.2h1.6M89.6,156.1h1.6M89,185h1.6M89,189.1h1.6M90.8,80.5h1.6M91.5,84.6h1.6M91.5,86.2h1.6M91.2,87.8h1.6M90.8,92.2h1.6M90.8,109h1.6M90.8,133.3h1.6M90.8,135.9h1.6M91.2,158.7h1.6M91.2,171.3h1.6M91.2,190.7h1.6M92.8,82.8h1.6M93.1,84.6h1.6M93.1,88.1h1.6M93.4,92.2h1.6M92.8,93.5h1.6M92.8,95.7h1.6M92.8,139.7h1.6M93.1,142.8h1.6M93.4,148.5h1.6M93.4,179.6h1.6M93.1,185h1.6M94.7,80.8h1.6M95.3,88.1h1.6M94.7,91.9h1.6M95,96h1.6M97.2,82.1h1.6M96.9,84.3h1.6M96.5,88.4h1.6M97.2,90h1.6M96.5,94.1h1.6M97.2,139.7h1.6M96.5,162.2h1.6M99.1,74.8h1.6M98.5,77h1.6M98.8,91.5h1.6M98.5,93.5h1.6M98.5,95.4h1.6M98.5,160.6h1.6M98.5,161.8h1.6M99.1,163.8h1.6M101,86.5h1.6M101,87.8h1.6M100.3,91.5h1.6M100.3,93.8h1.6M101,95.4h1.6M102.2,82.4h1.6M102.9,90h1.6M102.6,91.5h1.6M104.2,76.7h1.6M104.2,84h1.6M104.8,86.5h1.6M104.8,91.5h1.6M104.8,97.6h1.6M104.8,169.8h1.6M104.2,182.7h1.6M106,78.6h1.6M106.4,85.9h1.6M106,89.7h1.6M106,96h1.6M108.3,70.7h1.6M108,84.3h1.6M108.6,90h1.6M108.6,93.8h1.6M108,95.7h1.6M108,118.2h1.6M110.2,82.4h1.6M110.2,84.3h1.6M110.2,86.5h1.6M110.5,90h1.6M109.8,91.9h1.6M110.5,127.7h1.6M110.2,132.1h1.6M111.8,76.4h1.6M112.1,82.8h1.6M112.1,84.6h1.6M111.8,86.5h1.6M112.1,87.8h1.6M114,76.7h1.6M113.7,78.6h1.6M114.3,82.4h1.6M114.3,84.3h1.6M113.7,88.4h1.6M114.3,93.8h1.6M113.7,95.4h1.6M113.7,120h1.6M116.2,78.6h1.6M116.2,80.2h1.6M116.2,84h1.6M115.9,88.4h1.6M115.9,91.5h1.6M118.1,74.8h1.6M118.1,76.7h1.6M117.5,80.5h1.6M117.8,84.6h1.6M118.1,88.4h1.6M117.5,92.2h1.6M117.5,97.2h1.6M120,75.1h1.6M119.7,77h1.6M120,78.9h1.6M119.3,84.6h1.6M120,87.8h1.6M120,89.7h1.6M121.6,72.6h1.6M121.2,76.4h1.6M121.6,84.3h1.6M123.5,78.6h1.6M123.8,80.2h1.6M123.8,82.8h1.6M123.5,84h1.6M123.5,86.5h1.6M123.2,92.2h1.6M125,82.1h1.6M125.7,84.6h1.6M125,88.4h1.6M125.7,90.3h1.6M125.4,91.5h1.6M125,96h1.6M125,97.9h1.6M127,76.4h1.6M127.3,78.9h1.6M127.6,80.2h1.6M127.6,82.4h1.6M127,84.6h1.6M127.6,86.2h1.6M127,90h1.6M127,91.5h1.6M127,94.1h1.6M127,99.8h1.6M127.6,101.4h1.6M127,124.5h1.6M129.5,73.2h1.6M129.2,74.8h1.6M129.5,80.8h1.6M129.2,90.3h1.6M128.8,91.9h1.6M129.2,97.6h1.6M130.8,77h1.6M131.4,84h1.6M130.8,86.5h1.6M131.1,87.8h1.6M131.1,89.7h1.6M130.8,91.5h1.6M131.4,94.1h1.6M131.4,135.9h1.6M133.3,76.7h1.6M133.3,82.8h1.6M132.7,84.3h1.6M132.7,86.5h1.6M133,87.8h1.6M133,97.6h1.6M133,103.3h1.6M133.3,133.7h1.6M132.7,137.8h1.6M133,141.6h1.6M135.2,80.5h1.6M135.2,82.4h1.6M134.6,86.2h1.6M134.6,87.8h1.6M134.9,92.2h1.6M134.6,99.5h1.6M135.2,139.7h1.6M134.6,179.6h1.6M136.4,75.1h1.6M137.1,77h1.6M136.8,82.4h1.6M136.4,84h1.6M137.1,86.5h1.6M136.4,90.3h1.6M136.8,91.9h1.6M136.4,94.1h1.6M136.8,95.4h1.6M137.1,97.2h1.6M136.4,134h1.6M136.4,137.8h1.6M138.3,74.8h1.6M138.3,78.6h1.6M139,80.2h1.6M138.3,85.9h1.6M139,107.4h1.6M140.2,87.8h1.6M140.2,94.1h1.6M140.6,97.9h1.6M140.9,101.7h1.6M140.6,106.8h1.6M142.2,85.9h1.6M142.2,87.8h1.6M142.8,99.2h1.6M142.8,101.7h1.6M144.8,76.4h1.6M144.1,82.4h1.6M144.1,88.1h1.6M144.4,101h1.6M144.8,103.6h1.6M144.1,105.5h1.6M146.3,84.6h1.6M146.3,86.5h1.6M146.3,88.1h1.6M146.3,103.3h1.6M146.3,104.9h1.6M148.5,84.6h1.6M148.5,91.9h1.6M147.8,94.1h1.6M148.2,105.2h1.6M147.8,109.3h1.6M150.1,86.2h1.6M150.4,88.1h1.6M149.8,90.3h1.6M149.8,91.5h1.6M149.8,107.1h1.6M151.7,90.3h1.6M152.3,109.3h1.6M151.7,110.9h1.6M151.7,118.2h1.6M152,120h1.6M153.6,86.5h1.6M154.2,88.4h1.6M153.6,89.7h1.6M153.9,91.5h1.6M153.9,94.1h1.6M153.6,112.5h1.6M153.6,114.7h1.6M153.6,120.7h1.6M156.1,88.4h1.6M155.8,91.9h1.6M155.4,94.1h1.6M155.8,112.8h1.6M157.3,88.1h1.6M157.7,96h1.6M157.3,97.2h1.6M157.3,114.7h1.6M158,116.6h1.6M159.6,96h1.6M159.2,97.9h1.6M159.9,99.2h1.6M159.6,101h1.6M159.9,116.6h1.6M159.6,120h1.6M159.9,122.6h1.6M159.2,124.5h1.6M159.2,139.7h1.6M161.8,88.1h1.6M161.2,90.3h1.6M161.5,94.1h1.6M161.2,95.7h1.6M161.5,99.2h1.6M161.5,101.7h1.6M161.2,112.5h1.6M161.8,118.2h1.6M161.5,122h1.6M161.2,131.4h1.6M161.5,141.3h1.6M163.8,95.7h1.6M163.1,97.2h1.6M163.4,105.2h1.6M163.8,107.1h1.6M163.8,109.3h1.6M163.8,116.6h1.6M163.1,118.8h1.6M163.4,122.6h1.6M163.4,128.3h1.6M163.4,132.1h1.6M163.8,135.9h1.6M163.8,137.5h1.6M163.4,139.4h1.6M165.6,99.2h1.6M164.9,103.6h1.6M165.6,105.5h1.6M164.9,108.7h1.6M165.3,111.2h1.6M165.6,116.9h1.6M165.3,120.7h1.6M164.9,122h1.6M165.3,124.2h1.6M165.6,125.8h1.6M165.6,128.3h1.6M165.3,131.4h1.6M164.9,137.1h1.6M164.9,141.6h1.6M164.9,143.2h1.6M167.5,94.1h1.6M167.5,103.3h1.6M167.2,107.4h1.6M167.2,113.1h1.6M167.5,115h1.6M166.8,118.8h1.6M166.8,131.4h1.6M167.2,137.5h1.6M166.8,141.6h1.6M166.8,146.6h1.6M169.4,93.5h1.6M169.1,101.4h1.6M169.1,103h1.6M169.4,104.9h1.6M168.8,110.5h1.6M169.1,113.1h1.6M169.1,116.6h1.6M169.1,122h1.6M169.1,126.4h1.6M169.4,133.7h1.6M169.4,139h1.6M169.1,141.6h1.6M171.3,93.5h1.6M171.3,95.4h1.6M170.7,106.8h1.6M171,109h1.6M171.3,110.9h1.6M171.3,114.7h1.6M170.7,116.2h1.6M171.3,120h1.6M171.3,122.3h1.6M170.7,123.9h1.6M171.3,127.7h1.6M171.3,130.2h1.6M170.7,135.9h1.6M171,137.5h1.6M171.3,139.4h1.6M170.7,144.8h1.6M171,148.9h1.6M173.2,110.5h1.6M172.6,112.8h1.6M173.2,118.8h1.6M172.9,120h1.6M172.9,122h1.6M173.2,123.9h1.6M172.6,125.8h1.6M173.2,129.9h1.6M173.2,131.8h1.6M173.2,133.3h1.6M173.2,139.7h1.6M172.9,141.6h1.6M172.9,150.4h1.6M173.2,154.9h1.6M175.1,107.1h1.6M174.8,112.8h1.6M174.8,123.9h1.6M175.1,128.3h1.6M174.8,132.1h1.6M175.1,133.3h1.6M175.1,137.1h1.6M174.4,142.8h1.6M176.3,135.6h1.6M177,137.5h1.6M176.3,150.8h1.6M178.9,118.2h1.6M178.2,130.2h1.6M178.6,146.6h1.6M178.9,178.9h1.6M180.5,122.6h1.6" stroke="#0000ff"/>
<path d="M41.4,204h1.6M43.7,199.8h1.6M45.9,201.7h1.6M45.9,204h1.6M47.5,183.4h1.6M47.5,198.6h1.6M49.8,196h1.6M49,204h1.6M51.3,188.4h1.6M51.3,194.5h1.6M50.9,197.9h1.6M51.3,201.7h1.6M53.2,185.3h1.6M52.8,197.9h1.6M52.8,204h1.6M55.4,202.4h1.6M57,175.8h1.6M57,179.3h1.6M57.4,186.9h1.6M57.4,188.4h1.6M58.9,177h1.6M59.2,185h1.6M60.4,177.4h1.6M61.1,185h1.6M60.4,190.7h1.6M60.4,192.6h1.6M62.3,177h1.6M63,186.5h1.6M62.3,188.4h1.6M63,192.6h1.6M64.9,173.6h1.6M64.2,177.4h1.6M140.9,90h1.6M142.2,92.2h1.6M142.5,95.7h1.6M142.2,97.2h1.6M144.8,90h1.6M148.5,101.4h1.6M149.8,93.5h1.6M150.4,105.2h1.6M152,93.8h1.6M152,106.8h1.6M153.9,109h1.6M153.6,110.9h1.6M156.1,97.9h1.6M158,99.5h1.6M159.6,112.5h1.6M159.9,114.4h1.6M161.5,103h1.6M161.8,110.5h1.6M161.5,115h1.6M163.4,112.5h1.6M163.1,114.4h1.6M165.6,113.1h1.6" stroke="#00b4a0"/>
<path d="M47.5,200.2h1.6M47.1,201.7h1.6M49.8,200.5h1.6M50.9,186.5h1.6M59.2,179.6h1.6M61.1,175.8h1.6M142.5,93.5h1.6M144.4,91.5h1.6M144.1,94.1h1.6M144.4,95.4h1.6M145.9,97.6h1.6M145.9,101h1.6M149.8,95.4h1.6M153.9,95.4h1.6M157.7,109.3h1.6M158,110.9h1.6M161.8,109.3h1.6M163.4,110.5h1.6" stroke="#10e010"/>
<path d="M146.6,93.8h1.6M145.9,95.7h1.6M145.9,99.8h1.6M150.4,103.3h1.6M152,96h1.6M154.2,97.2h1.6M155.4,99.2h1.6M156.1,104.9h1.6M156.1,109.3h1.6M157.7,107.4h1.6M159.2,103h1.6M159.9,105.5h1.6M159.9,107.1h1.6M159.2,109.3h1.6M159.9,110.9h1.6M161.5,104.9h1.6M161.2,106.8h1.6" stroke="#e0e800"/>
<path d="M148.2,95.4h1.6M148.5,97.9h1.6M150.1,97.9h1.6M150.1,99.5h1.6M150.1,101.7h1.6M152.3,103h1.6M153.9,107.1h1.6M156.1,101.7h1.6M156.1,107.1h1.6M157.7,101.7h1.6M157.3,105.2h1.6" stroke="#ff9000"/>
<path d="M148.2,99.5h1.6M152.3,97.2h1.6M152.3,99.2h1.6M151.7,101.4h1.6M152,105.5h1.6M154.2,99.5h1.6M153.9,103.6h1.6M153.9,105.2h1.6M155.8,103.6h1.6M157.3,103.6h1.6" stroke="#ff2000"/>
</g>
<path d="M138,1238.4h1.9M139.9,1238.4h1.8M145.8,1238.4h1.6M152,1238.4h2.1M158.3,1238.4h2.1M160.5,1238.4h1.9M165.6,1238.4h1.9M169.5,1238.4h1.6M174.8,1238.4h1.8M178.3,1238.4h1.5M181.7,1238.4h1.4M189.5,1238.4h1.2M190.7,1238.4h2M197,1238.4h1.9M200.8,1238.4h2.1M206.5,1238.4h1.4M207.8,1238.4h1.2M212.5,1238.4h2.1M218.4,1238.4h1.4M219.8,1238.4h1.6M232.6,1238.4h2M234.5,1238.4h1.6M265.4,1238.4h2.1M271.4,1238.4h1.9M273.4,1238.4h1.6M288.8,1238.4h2.2M294.6,1238.4h1.5M297.6,1238.4h1.3M303.3,1238.4h1.4" stroke="#10c040" stroke-width="1.7" fill="none"/>
<path d="M141.7,1238.4h1.9M143.6,1238.4h2.1M147.3,1238.4h2M149.4,1238.4h1.2M150.6,1238.4h1.4M154.1,1238.4h2.1M162.4,1238.4h1.7M164.1,1238.4h1.6M167.5,1238.4h2M171.1,1238.4h2.2M173.3,1238.4h1.5M176.5,1238.4h1.8M179.8,1238.4h1.9M185.5,1238.4h2M194.6,1238.4h2.4M198.9,1238.4h1.9M252.2,1238.4h1.8M258.4,1238.4h2.1M262,1238.4h1.3M263.2,1238.4h2.1M269.8,1238.4h1.6M285.2,1238.4h1.4M291,1238.4h2.1M311.3,1238.4h1.6M314.4,1238.4h1.8M324.4,1238.4h1.5M331,1238.4h1.3M332.3,1238.4h2.4" stroke="#0000ff" stroke-width="1.7" fill="none"/>
<path d="M156.2,1238.4h2.1M187.4,1238.4h2.1M308.2,1238.4h1.4M312.9,1238.4h1.5M317.4,1238.4h2.2M323,1238.4h1.4M325.9,1238.4h1.8M329.2,1238.4h1.8M334.6,1238.4h1.8M336.4,1238.4h2.3M342.4,1238.4h1.2" stroke="#a8a8ff" stroke-width="1.7" fill="none"/>
<path d="M202.9,1238.4h1.5M204.4,1238.4h2M209.1,1238.4h1.8M214.7,1238.4h2.1M216.7,1238.4h1.7M222.9,1238.4h1.7M228.2,1238.4h2.4M237.6,1238.4h2.3M241.7,1238.4h1.5M243.1,1238.4h1.7" stroke="#ff9000" stroke-width="1.7" fill="none"/>
<path d="M210.9,1238.4h1.6M221.4,1238.4h1.5M224.6,1238.4h1.7M226.2,1238.4h2M230.6,1238.4h2M236.2,1238.4h1.5M240,1238.4h1.7M244.9,1238.4h2.4" stroke="#ff2000" stroke-width="1.7" fill="none"/>
<path d="M247.3,1238.4h2.1M249.3,1238.4h1.6M251,1238.4h1.2M254,1238.4h1.4M256.8,1238.4h1.5M260.4,1238.4h1.5M267.5,1238.4h2.3M277.1,1238.4h1.3M281.6,1238.4h1.7M283.2,1238.4h2M286.6,1238.4h2.2M296.2,1238.4h1.5M298.9,1238.4h1.3" stroke="#e0c000" stroke-width="1.7" fill="none"/>
<rect x="136.6" y="993.9" width="245.9" height="245.6" fill="none" stroke="#111" stroke-width="1.2"/>
<path d="M236.2,993.9L236.2,1239.5" stroke="#000" stroke-width="2.5" fill="none"/>
<path d="M136.6,1146L382.5,1146" stroke="#000" stroke-width="1.6" fill="none"/>
<path d="M136.6,1239.5v7M182.5,1239.5v7M229.3,1239.5v7M275.9,1239.5v7M322.6,1239.5v7M369.8,1239.5v7M136.6,1004.4h-7.4M136.6,1051.6h-7.4M136.6,1098.4h-7.4M136.6,1144.7h-7.4M136.6,1191.9h-7.4M136.6,1238.5h-7.4" stroke="#111" stroke-width="2.1" fill="none"/>
<path d="M150.4,1239.5v3M158.5,1239.5v3M164.2,1239.5v3M168.7,1239.5v4M172.3,1239.5v3M175.4,1239.5v3M178.1,1239.5v3M180.4,1239.5v3M196.6,1239.5v3M204.8,1239.5v3M210.7,1239.5v3M215.2,1239.5v4M218.9,1239.5v3M222.1,1239.5v3M224.8,1239.5v3M227.2,1239.5v3M243.3,1239.5v3M251.5,1239.5v3M257.4,1239.5v3M261.9,1239.5v4M265.6,1239.5v3M268.7,1239.5v3M271.4,1239.5v3M273.8,1239.5v3M290,1239.5v3M298.2,1239.5v3M304,1239.5v3M308.5,1239.5v4M312.2,1239.5v3M315.4,1239.5v3M318.1,1239.5v3M320.5,1239.5v3M336.8,1239.5v3M345.1,1239.5v3M351,1239.5v3M355.6,1239.5v4M359.3,1239.5v3M362.5,1239.5v3M365.2,1239.5v3M367.6,1239.5v3M136.6,1037.4h-3M136.6,1029.1h-3M136.6,1023.2h-3M136.6,1018.6h-4M136.6,1014.9h-3M136.6,1011.7h-3M136.6,1009h-3M136.6,1006.6h-3M136.6,1084.3h-3M136.6,1076.1h-3M136.6,1070.2h-3M136.6,1065.7h-4M136.6,1062h-3M136.6,1058.8h-3M136.6,1056.1h-3M136.6,1053.7h-3M136.6,1130.8h-3M136.6,1122.6h-3M136.6,1116.8h-3M136.6,1112.3h-4M136.6,1108.7h-3M136.6,1105.6h-3M136.6,1102.9h-3M136.6,1100.5h-3M136.6,1177.7h-3M136.6,1169.4h-3M136.6,1163.5h-3M136.6,1158.9h-4M136.6,1155.2h-3M136.6,1152h-3M136.6,1149.3h-3M136.6,1146.9h-3M136.6,1224.5h-3M136.6,1216.3h-3M136.6,1210.4h-3M136.6,1205.9h-4M136.6,1202.2h-3M136.6,1199.1h-3M136.6,1196.4h-3M136.6,1194h-3" stroke="#333" stroke-width="1.1" fill="none"/>
<text x="140.2" y="1261.5" font-size="8.6" fill="#222" letter-spacing="0.7" stroke="#222" stroke-width="0.25">10<tspan dx="1.5" dy="-3.6" font-size="7.4">2</tspan></text>
<text x="181.5" y="1261.5" font-size="8.6" fill="#222" letter-spacing="0.7" stroke="#222" stroke-width="0.25">10<tspan dx="1.5" dy="-3.6" font-size="7.4">3</tspan></text>
<text x="228.3" y="1261.5" font-size="8.6" fill="#222" letter-spacing="0.7" stroke="#222" stroke-width="0.25">10<tspan dx="1.5" dy="-3.6" font-size="7.4">4</tspan></text>
<text x="274.9" y="1261.5" font-size="8.6" fill="#222" letter-spacing="0.7" stroke="#222" stroke-width="0.25">10<tspan dx="1.5" dy="-3.6" font-size="7.4">5</tspan></text>
<text x="321.6" y="1261.5" font-size="8.6" fill="#222" letter-spacing="0.7" stroke="#222" stroke-width="0.25">10<tspan dx="1.5" dy="-3.6" font-size="7.4">6</tspan></text>
<text x="364.4" y="1261.5" font-size="8.6" fill="#222" letter-spacing="0.7" stroke="#222" stroke-width="0.25">10<tspan dx="1.5" dy="-3.6" font-size="7.4">7</tspan></text>
<text x="108" y="1008.2" font-size="8.6" fill="#222" letter-spacing="0.7" stroke="#222" stroke-width="0.25">10<tspan dx="1.5" dy="-3.6" font-size="7.4">7</tspan></text>
<text x="108" y="1055.4" font-size="8.6" fill="#222" letter-spacing="0.7" stroke="#222" stroke-width="0.25">10<tspan dx="1.5" dy="-3.6" font-size="7.4">6</tspan></text>
<text x="108" y="1102.2" font-size="8.6" fill="#222" letter-spacing="0.7" stroke="#222" stroke-width="0.25">10<tspan dx="1.5" dy="-3.6" font-size="7.4">5</tspan></text>
<text x="108" y="1148.5" font-size="8.6" fill="#222" letter-spacing="0.7" stroke="#222" stroke-width="0.25">10<tspan dx="1.5" dy="-3.6" font-size="7.4">4</tspan></text>
<text x="108" y="1195.7" font-size="8.6" fill="#222" letter-spacing="0.7" stroke="#222" stroke-width="0.25">10<tspan dx="1.5" dy="-3.6" font-size="7.4">3</tspan></text>
<text x="108" y="1242.3" font-size="8.6" fill="#222" letter-spacing="0.7" stroke="#222" stroke-width="0.25">10<tspan dx="1.5" dy="-3.6" font-size="7.4">2</tspan></text>
<text x="140.2" y="1011.4" font-size="10.2" fill="#222" letter-spacing="0.5" stroke="#222" stroke-width="0.2">Q5</text>
<text x="140.2" y="1024.6" font-size="10.2" fill="#222" letter-spacing="0.5" stroke="#222" stroke-width="0.2">3.68</text>
<text x="360.5" y="1011.4" font-size="10.2" text-anchor="end" fill="#222" letter-spacing="0.5" stroke="#222" stroke-width="0.2">Q6</text>
<text x="360.5" y="1024.6" font-size="10.2" text-anchor="end" fill="#222" letter-spacing="0.5" stroke="#222" stroke-width="0.2">40.3</text>
<text x="140.2" y="1215" font-size="10.2" fill="#222" letter-spacing="0.5" stroke="#222" stroke-width="0.2">Q8</text>
<text x="140.2" y="1228.2" font-size="10.2" fill="#222" letter-spacing="0.5" stroke="#222" stroke-width="0.2">48.8</text>
<text x="360.5" y="1215" font-size="10.2" text-anchor="end" fill="#222" letter-spacing="0.5" stroke="#222" stroke-width="0.2">Q7</text>
<text x="360.5" y="1228.2" font-size="10.2" text-anchor="end" fill="#222" letter-spacing="0.5" stroke="#222" stroke-width="0.2">7.15</text>
<g transform="translate(466.9,993.7)" fill="none" stroke-width="1.6">
<path d="M-0.3,221.1h1.6M1.9,200.5h1.6M6,216.9h1.6M5.3,232.5h1.6M7.6,206.2h1.6M11.7,199.8h1.6M11,205.9h1.6M15.5,145.4h1.6M14.8,188.8h1.6M14.8,239.7h1.6M17.1,198.3h1.6M17.1,238.2h1.6M20.5,165.6h1.6M22.4,184.6h1.6M22.8,244.2h1.6M25.1,162.2h1.6M26.2,175.5h1.6M28.5,127.7h1.6M30,130.2h1.6M30.8,137.1h1.6M32.6,167.5h1.6M34.5,167.5h1.6M36.5,148.9h1.6M37.6,118.5h1.6M38.4,154.2h1.6M38,159.9h1.6M39.5,143.5h1.6M40.2,164.1h1.6M39.9,171.3h1.6M43.7,107.4h1.6M43.7,128.3h1.6M44,139h1.6M45.6,118.5h1.6M45.9,123.9h1.6M45.2,131.4h1.6M45.2,134h1.6M49.4,116.2h1.6M58.5,105.5h1.6M58.5,110.5h1.6M62.7,113.1h1.6M62.7,243.5h1.6M66.5,235.9h1.6M68.4,88.4h1.6M68,94.1h1.6M70.6,122h1.6M70.3,139h1.6M72.2,110.5h1.6M73.8,95.7h1.6M74.1,123.9h1.6M75.7,230.6h1.6M76.3,235.9h1.6M77.9,128.3h1.6M80.1,116.6h1.6M79.8,135.9h1.6M79.8,217.3h1.6M79.8,234h1.6M81.4,101.7h1.6M82,122.3h1.6M85.2,74.5h1.6M85.5,82.4h1.6M85.5,89.7h1.6M85.8,115h1.6M85.5,154.6h1.6M87,85.9h1.6M87.4,101.7h1.6M87,148.5h1.6M89,97.2h1.6M89.3,150.4h1.6M89.6,204h1.6M90.8,82.4h1.6M90.8,91.9h1.6M91.5,107.4h1.6M91.2,135.6h1.6M91.5,154.9h1.6M90.8,194.1h1.6M92.8,171.3h1.6M95,90h1.6M95,153h1.6M95.3,181.5h1.6M96.9,77h1.6M97.2,105.5h1.6M96.5,133.7h1.6M96.5,139h1.6M97.2,154.9h1.6M97.2,167.5h1.6M99.1,80.5h1.6M98.5,85.9h1.6M99.1,107.1h1.6M98.8,114.7h1.6M98.5,179.6h1.6M100.7,91.9h1.6M100.3,152.7h1.6M102.6,162.2h1.6M102.6,173.9h1.6M102.2,183.1h1.6M104.5,71.3h1.6M104.2,84.3h1.6M104.2,105.2h1.6M106,87.8h1.6M108,188.4h1.6M109.8,97.9h1.6M112.4,101.7h1.6M112.4,114.4h1.6M114.3,94.1h1.6M113.7,167.5h1.6M113.7,213.8h1.6M115.5,87.8h1.6M117.5,134h1.6M117.5,159.9h1.6M119.7,63.8h1.6M119.3,93.8h1.6M119.3,101h1.6M120,179.3h1.6M121.9,199.8h1.6M123.2,129.5h1.6M123.8,168.2h1.6M127.6,99.2h1.6M127,101h1.6M129.5,139.7h1.6M131.1,61.9h1.6M130.8,68.8h1.6M132.7,99.5h1.6M133,107.4h1.6M133.3,111.2h1.6M133,126.4h1.6M136.4,69.1h1.6M136.8,101h1.6M140.6,167.9h1.6M140.9,175.5h1.6M142.5,106.8h1.6M146.6,72.9h1.6M148.5,63.8h1.6M150.1,103.6h1.6M152.3,70.7h1.6M152.3,137.5h1.6M155.4,76.4h1.6M155.8,99.8h1.6M156.1,187.2h1.6M159.6,171.3h1.6M161.2,69.1h1.6M161.8,109.3h1.6M161.8,118.8h1.6M165.3,101.7h1.6M165.3,116.6h1.6M167.5,126.4h1.6M169.1,179.3h1.6M168.8,183.4h1.6M171,110.5h1.6M170.7,134h1.6M172.9,142.8h1.6M173.2,150.4h1.6M175.1,74.8h1.6M174.8,84.3h1.6M174.4,89.7h1.6M175.1,97.9h1.6M174.8,147h1.6M177,88.4h1.6M177,93.5h1.6M176.7,103h1.6M176.3,130.2h1.6M176.7,191h1.6M178.6,78.9h1.6M178.9,109.3h1.6M178.2,181.5h1.6M180.5,88.4h1.6M180.8,91.9h1.6M180.8,103h1.6M180.8,145.1h1.6M180.8,147h1.6M180.5,152.7h1.6M182.7,80.5h1.6M182.7,120h1.6M182.7,128h1.6M182,135.2h1.6M184.3,86.5h1.6M186.2,124.2h1.6M185.8,150.8h1.6M186.5,158h1.6M187.8,74.5h1.6M191.9,128.3h1.6" stroke="#a8a8ff"/>
<path d="M6,230.9h1.6M6,239.7h1.6M7.6,226.4h1.6M9.5,209.3h1.6M9.5,211.6h1.6M9.2,229h1.6M9.8,240.4h1.6M11,234.4h1.6M12.9,213.5h1.6M12.9,215h1.6M12.9,234h1.6M15.2,207.8h1.6M14.8,209.7h1.6M16.7,202.1h1.6M16.7,210h1.6M16.7,215.7h1.6M16.7,222.6h1.6M16.7,227.1h1.6M18.6,137.5h1.6M19.4,204h1.6M19,218.8h1.6M18.6,228.7h1.6M18.6,230.2h1.6M20.5,139h1.6M21.2,188.4h1.6M21.2,196.4h1.6M21.2,201.7h1.6M21.2,213.1h1.6M20.5,219.5h1.6M21.2,230.6h1.6M20.9,232.8h1.6M21.2,235.9h1.6M23.1,188.8h1.6M22.8,190.3h1.6M22.8,197.9h1.6M22.4,209.7h1.6M23.1,211.6h1.6M22.4,217.6h1.6M23.1,222.6h1.6M22.4,241.6h1.6M24.7,173.6h1.6M24.7,194.1h1.6M24.3,196.7h1.6M24.3,200.5h1.6M24.3,202.1h1.6M25.1,204h1.6M24.7,213.8h1.6M24.3,220.7h1.6M24.3,223.3h1.6M24.7,234h1.6M25.1,236.3h1.6M26.6,192.2h1.6M26.9,203.6h1.6M26.9,207.8h1.6M26.2,209.7h1.6M26.2,211.6h1.6M26.9,215.7h1.6M26.9,226.4h1.6M26.2,237.8h1.6M26.6,241.6h1.6M28.1,181.5h1.6M28.5,183.1h1.6M28.9,192.6h1.6M28.1,202.1h1.6M28.5,210h1.6M28.9,219.5h1.6M28.9,221.1h1.6M28.1,222.6h1.6M28.9,225.2h1.6M28.1,228.3h1.6M28.9,236.3h1.6M30.4,204.3h1.6M30.8,208.1h1.6M30.8,220.7h1.6M30.4,223.3h1.6M30.8,224.9h1.6M30,228.7h1.6M30.4,234.7h1.6M30.8,235.9h1.6M30,242h1.6M32.6,170.1h1.6M32.3,173.6h1.6M31.9,187.2h1.6M32.6,189.1h1.6M31.9,190.7h1.6M32.3,194.5h1.6M31.9,198.6h1.6M32.6,201.7h1.6M32.6,203.6h1.6M32.3,206.2h1.6M32.3,209.7h1.6M31.9,211.6h1.6M31.9,215.7h1.6M31.9,216.9h1.6M31.9,219.5h1.6M32.6,220.7h1.6M32.3,228.7h1.6M31.9,232.8h1.6M32.3,234.4h1.6M34.2,143.2h1.6M34.5,173.9h1.6M34.5,198.6h1.6M33.8,202.1h1.6M33.8,207.8h1.6M34.5,215.7h1.6M34.5,217.6h1.6M33.8,219.2h1.6M34.5,221.4h1.6M33.8,224.9h1.6M34.5,226.8h1.6M34.2,228.3h1.6M34.2,234.7h1.6M33.8,236.6h1.6M33.8,238.2h1.6M34.5,243.9h1.6M36.1,144.8h1.6M36.5,146.6h1.6M36.1,175.8h1.6M36.1,180.8h1.6M36.5,183.4h1.6M36.1,185h1.6M36.1,199.8h1.6M36.1,217.6h1.6M35.8,221.4h1.6M36.5,223h1.6M35.8,224.9h1.6M36.5,230.2h1.6M36.1,238.2h1.6M37.6,145.4h1.6M38,175.5h1.6M38,177.7h1.6M38,181.2h1.6M38,182.7h1.6M37.6,190.3h1.6M38.4,192.6h1.6M38.4,194.1h1.6M38.4,196.4h1.6M37.6,197.9h1.6M38,205.5h1.6M37.6,221.4h1.6M38,224.5h1.6M38,228.7h1.6M38,230.2h1.6M37.6,240.4h1.6M40.2,134h1.6M39.5,135.9h1.6M39.5,139.4h1.6M39.9,160.6h1.6M40.2,175.8h1.6M40.2,181.5h1.6M39.9,184.6h1.6M39.5,188.4h1.6M39.9,190.7h1.6M40.2,194.5h1.6M40.2,196.4h1.6M39.5,226.4h1.6M39.5,230.9h1.6M40.2,240.1h1.6M41.4,149.2h1.6M41.8,178.9h1.6M41.8,181.2h1.6M41.8,187.2h1.6M42.1,192.9h1.6M42.1,194.8h1.6M42.1,207.4h1.6M41.4,221.1h1.6M42.1,223h1.6M41.8,226.4h1.6M41.4,229h1.6M41.8,230.2h1.6M41.4,234.4h1.6M41.4,238.2h1.6M41.8,242h1.6M44,124.2h1.6M44,133.3h1.6M43.7,149.2h1.6M43.7,162.2h1.6M44,168.2h1.6M43.7,169.4h1.6M44,173.2h1.6M44,175.8h1.6M43.3,177.7h1.6M44,180.8h1.6M43.3,187.2h1.6M43.7,190.3h1.6M43.3,200.2h1.6M43.3,226.8h1.6M43.3,229h1.6M44,230.6h1.6M43.7,234.7h1.6M43.7,236.3h1.6M43.7,242.3h1.6M45.9,148.9h1.6M45.9,154.2h1.6M45.6,162.5h1.6M45.2,171.7h1.6M45.9,179.3h1.6M45.9,190.7h1.6M45.2,224.5h1.6M45.6,228.7h1.6M45.9,230.9h1.6M45.2,236.3h1.6M45.2,238.5h1.6M47.5,140.9h1.6M47.5,142.8h1.6M47.9,150.4h1.6M47.9,152.7h1.6M47.5,161.8h1.6M47.9,166h1.6M47.5,168.2h1.6M47.5,173.9h1.6M47.9,180.8h1.6M47.1,183.4h1.6M47.5,184.6h1.6M47.9,215.7h1.6M47.1,225.2h1.6M47.5,227.1h1.6M47.9,228.3h1.6M47.1,230.2h1.6M47.1,232.5h1.6M47.9,240.1h1.6M49.8,124.2h1.6M49.8,135.9h1.6M49.4,141.6h1.6M49.8,146.6h1.6M49.8,150.4h1.6M49.8,161.8h1.6M49.4,171.7h1.6M49.4,173.2h1.6M49.8,177h1.6M49.4,179.3h1.6M49,180.8h1.6M49,183.4h1.6M49.8,186.9h1.6M49,189.1h1.6M49,226.4h1.6M49.8,230.9h1.6M49.8,234h1.6M50.9,112.5h1.6M51.6,124.2h1.6M51.6,133.7h1.6M50.9,135.6h1.6M51.6,137.8h1.6M51.3,145.1h1.6M51.6,147.3h1.6M50.9,152.3h1.6M51.3,154.2h1.6M50.9,156.8h1.6M51.3,158.4h1.6M51.6,162.5h1.6M50.9,170.1h1.6M51.6,172h1.6M50.9,185h1.6M50.9,188.8h1.6M51.6,223h1.6M51.6,226.4h1.6M51.3,228.3h1.6M51.3,230.9h1.6M50.9,237.8h1.6M53.5,114.7h1.6M53.5,126.1h1.6M53.5,148.9h1.6M52.8,153h1.6M53.5,158h1.6M53.2,165.6h1.6M53.2,168.2h1.6M53.5,177h1.6M53.2,179.6h1.6M53.2,183.1h1.6M52.8,185.3h1.6M53.2,186.5h1.6M53.5,216.9h1.6M53.5,220.7h1.6M53.2,223h1.6M53.2,230.6h1.6M54.7,125.8h1.6M55.1,145.1h1.6M55.4,147h1.6M54.7,160.3h1.6M55.4,170.1h1.6M55.1,173.2h1.6M54.7,175.1h1.6M55.1,177h1.6M54.7,185.3h1.6M54.7,200.2h1.6M55.1,217.6h1.6M55.1,219.5h1.6M55.4,221.4h1.6M55.4,223.3h1.6M55.1,228.3h1.6M54.7,236.3h1.6M56.6,110.9h1.6M56.6,123.9h1.6M57.4,128h1.6M56.6,135.2h1.6M57.4,149.2h1.6M56.6,151.1h1.6M57,152.3h1.6M57,160.3h1.6M57.4,162.2h1.6M57,173.6h1.6M57,175.1h1.6M57,177.4h1.6M56.6,179.6h1.6M57,181.2h1.6M56.6,183.4h1.6M57,185h1.6M57.4,213.1h1.6M57,217.3h1.6M57.4,219.5h1.6M56.6,221.1h1.6M57,226.4h1.6M57.4,228.7h1.6M57.4,230.9h1.6M56.6,236.3h1.6M57,238.5h1.6M57.4,240.1h1.6M59.2,118.2h1.6M59.2,122h1.6M58.5,124.5h1.6M58.5,131.4h1.6M59.2,133.3h1.6M59.2,137.5h1.6M58.9,139.7h1.6M59.2,147.3h1.6M58.5,154.6h1.6M59.2,156.1h1.6M59.2,158h1.6M58.9,164.1h1.6M58.5,165.6h1.6M58.5,168.2h1.6M58.5,169.8h1.6M58.9,172h1.6M59.2,175.1h1.6M59.2,177h1.6M58.5,179.6h1.6M58.5,211.9h1.6M58.9,213.8h1.6M58.5,216.9h1.6M58.9,219.2h1.6M58.9,224.5h1.6M58.9,232.8h1.6M60.8,118.5h1.6M60.4,129.9h1.6M60.8,135.6h1.6M60.4,142.8h1.6M60.4,149.2h1.6M60.8,158.7h1.6M61.1,164.4h1.6M60.4,167.9h1.6M60.4,169.8h1.6M61.1,173.6h1.6M60.8,175.8h1.6M61.1,177.7h1.6M61.1,179.6h1.6M60.4,180.8h1.6M60.8,185h1.6M61.1,186.9h1.6M60.4,202.4h1.6M61.1,215h1.6M60.4,219.2h1.6M60.8,220.7h1.6M60.4,224.5h1.6M60.4,230.2h1.6M62.3,107.4h1.6M62.3,118.8h1.6M62.7,133.3h1.6M63,144.8h1.6M62.3,152.7h1.6M63,156.5h1.6M62.3,158.4h1.6M62.7,159.9h1.6M62.3,161.8h1.6M62.7,166.3h1.6M62.3,167.9h1.6M62.3,169.8h1.6M62.3,173.2h1.6M63,177.7h1.6M63,188.4h1.6M62.7,192.6h1.6M63,201.7h1.6M62.3,207.4h1.6M62.3,210h1.6M62.3,211.9h1.6M62.3,213.5h1.6M62.3,217.6h1.6M62.3,219.5h1.6M63,226.8h1.6M63,228.3h1.6M64.6,109.3h1.6M64.9,148.9h1.6M64.9,158.4h1.6M64.2,166h1.6M64.6,173.2h1.6M64.9,175.1h1.6M64.6,177.7h1.6M64.2,182.7h1.6M64.9,185.3h1.6M64.2,188.8h1.6M64.6,194.1h1.6M64.6,198.6h1.6M64.2,200.2h1.6M64.6,203.6h1.6M64.9,206.2h1.6M64.2,211.2h1.6M64.9,213.5h1.6M64.2,221.1h1.6M64.9,222.6h1.6M64.2,236.6h1.6M66.8,111.2h1.6M66.2,114.4h1.6M66.5,118.2h1.6M66.5,120h1.6M66.8,127.7h1.6M66.8,142.8h1.6M66.5,156.5h1.6M66.8,158.7h1.6M66.5,164.4h1.6M66.8,168.2h1.6M66.5,170.1h1.6M66.2,171.7h1.6M66.8,175.5h1.6M66.8,177.7h1.6M66.8,179.3h1.6M66.8,185.3h1.6M66.5,188.4h1.6M66.2,191h1.6M66.2,192.9h1.6M66.5,196.4h1.6M66.5,199.8h1.6M66.5,201.7h1.6M66.8,206.2h1.6M66.2,207.4h1.6M66.5,211.9h1.6M66.2,213.1h1.6M66.8,217.3h1.6M66.5,220.7h1.6M66.2,223h1.6M68,129.5h1.6M68,131.4h1.6M68.4,158h1.6M68.4,160.3h1.6M68.4,161.8h1.6M68,165.6h1.6M68,171.3h1.6M68,181.5h1.6M68.7,185.3h1.6M68,188.8h1.6M68.7,191h1.6M68.7,192.6h1.6M68.4,198.3h1.6M68.7,207.8h1.6M68.7,210h1.6M68.4,213.5h1.6M68.4,219.2h1.6M68.7,222.6h1.6M68,225.2h1.6M68.4,226.8h1.6M68.7,228.7h1.6M70.3,110.5h1.6M70.3,113.1h1.6M70.3,130.2h1.6M70.6,131.4h1.6M70,145.4h1.6M70.6,146.6h1.6M70,149.2h1.6M70,153h1.6M70,158.7h1.6M70.6,160.6h1.6M70.3,161.8h1.6M70,173.2h1.6M70.3,181.5h1.6M70,183.1h1.6M70,187.2h1.6M70,190.7h1.6M70,194.8h1.6M70.6,196.4h1.6M70,198.3h1.6M70.3,205.5h1.6M70.3,215.4h1.6M70,222.6h1.6M71.9,101.4h1.6M71.9,104.9h1.6M72.5,116.2h1.6M71.9,118.2h1.6M71.9,141.3h1.6M71.9,149.2h1.6M71.9,152.7h1.6M71.9,160.6h1.6M72.5,161.8h1.6M72.5,163.8h1.6M71.9,171.7h1.6M71.9,173.2h1.6M72.2,175.5h1.6M71.9,177.7h1.6M71.9,178.9h1.6M72.5,180.8h1.6M72.5,183.4h1.6M72.5,185.3h1.6M71.9,186.5h1.6M72.5,188.4h1.6M72.5,190.3h1.6M72.2,192.6h1.6M71.9,198.6h1.6M72.5,202.1h1.6M72.5,204.3h1.6M72.2,206.2h1.6M72.2,210h1.6M72.5,211.9h1.6M71.9,215h1.6M74.4,129.9h1.6M74.4,144.8h1.6M73.8,148.9h1.6M74.4,164.4h1.6M73.8,171.7h1.6M74.1,173.9h1.6M73.8,175.1h1.6M74.4,177h1.6M73.8,183.1h1.6M74.4,186.9h1.6M73.8,192.6h1.6M74.1,196.4h1.6M74.1,197.9h1.6M74.4,202.1h1.6M74.1,209.3h1.6M74.1,217.6h1.6M74.4,219.5h1.6M76,123.9h1.6M75.7,143.2h1.6M75.7,145.1h1.6M76,148.9h1.6M76.3,156.5h1.6M75.7,166h1.6M75.7,172h1.6M75.7,177h1.6M75.7,178.9h1.6M76,181.5h1.6M76,182.7h1.6M75.7,186.5h1.6M76.3,194.8h1.6M76.3,198.6h1.6M76,204.3h1.6M75.7,219.2h1.6M77.9,110.5h1.6M77.5,115h1.6M78.2,133.3h1.6M77.5,141.6h1.6M77.5,147h1.6M77.9,151.1h1.6M77.5,153h1.6M77.5,154.6h1.6M77.5,160.3h1.6M78.2,162.2h1.6M77.9,166h1.6M77.9,169.4h1.6M77.9,172h1.6M78.2,173.2h1.6M78.2,179.3h1.6M77.9,190.3h1.6M77.5,192.2h1.6M77.9,201.7h1.6M77.9,220.7h1.6M77.5,224.5h1.6M79.8,97.6h1.6M80.1,103.6h1.6M80.1,105.2h1.6M80.1,147.3h1.6M79.8,161.8h1.6M79.8,164.1h1.6M79.8,166h1.6M80.1,167.9h1.6M80.1,171.3h1.6M80.1,173.9h1.6M80.1,177.7h1.6M79.8,186.5h1.6M79.5,198.3h1.6M79.5,202.1h1.6M80.1,207.4h1.6M82,96h1.6M82,106.8h1.6M81.7,114.4h1.6M81.4,141.3h1.6M81.7,148.9h1.6M81.4,150.8h1.6M81.7,154.2h1.6M81.4,163.8h1.6M81.7,170.1h1.6M81.4,175.8h1.6M81.4,177.7h1.6M81.4,180.8h1.6M81.4,200.2h1.6M81.7,205.9h1.6M81.7,211.2h1.6M83.6,97.2h1.6M83.6,107.1h1.6M83.6,108.7h1.6M83.9,125.8h1.6M83.2,137.1h1.6M83.6,151.1h1.6M83.6,158.7h1.6M83.9,162.5h1.6M83.9,167.9h1.6M83.6,171.7h1.6M83.6,175.8h1.6M83.2,179.6h1.6M83.2,192.6h1.6M83.9,201.7h1.6M83.2,207.8h1.6M85.8,104.9h1.6M85.5,112.8h1.6M85.2,120.7h1.6M85.8,139.7h1.6M85.5,144.8h1.6M85.5,146.6h1.6M85.2,166h1.6M85.8,191h1.6M85.8,207.8h1.6M87.4,111.2h1.6M87.4,143.2h1.6M87,161.8h1.6M87.4,163.8h1.6M87,177.7h1.6M87,181.2h1.6M87.7,183.1h1.6M87.7,189.1h1.6M87.4,190.7h1.6M87.7,196.4h1.6M87,200.5h1.6M89.3,120.4h1.6M89,124.5h1.6M89.6,164.4h1.6M89,173.9h1.6M89,175.5h1.6M89,178.9h1.6M89.6,186.5h1.6M89.3,200.2h1.6M91.2,143.5h1.6M90.8,162.2h1.6M91.5,171.7h1.6M92.8,144.8h1.6M92.8,159.9h1.6M93.1,200.2h1.6M95.3,112.5h1.6M97.2,97.6h1.6M97.2,110.5h1.6M98.5,97.2h1.6M98.8,140.9h1.6M99.1,144.8h1.6M100.3,95.7h1.6M100.3,97.6h1.6M102.9,147h1.6M104.5,147h1.6M106,76.7h1.6M106,96h1.6M106.7,97.2h1.6M106.7,148.5h1.6M106.4,173.2h1.6M108.6,99.5h1.6M110.5,73.2h1.6M109.8,76.4h1.6M110.5,78.2h1.6M110.5,84h1.6M110.2,86.5h1.6M110.5,92.2h1.6M112.4,80.5h1.6M112.4,82.8h1.6M111.8,86.2h1.6M112.4,91.5h1.6M114,78.2h1.6M117.5,78.9h1.6M117.8,85.9h1.6M120,76.7h1.6M119.7,82.8h1.6M119.3,86.2h1.6M121.6,66.9h1.6M121.9,77h1.6M121.6,80.8h1.6M121.6,82.1h1.6M121.6,88.1h1.6M121.2,91.5h1.6M123.5,67.5h1.6M123.5,76.7h1.6M123.2,92.2h1.6M125.7,75.1h1.6M125.4,80.5h1.6M125.7,86.2h1.6M125.7,89.7h1.6M125.4,91.5h1.6M125,95.4h1.6M127.3,89.7h1.6M128.8,72.9h1.6M128.8,76.7h1.6M129.5,84h1.6M129.5,87.8h1.6M129.2,92.2h1.6M129.2,94.1h1.6M131.1,74.8h1.6M133,76.4h1.6M132.7,88.1h1.6M133.3,90h1.6M134.6,74.8h1.6M134.9,86.2h1.6M135.2,91.9h1.6M134.6,97.6h1.6M134.6,110.5h1.6M137.1,82.1h1.6M137.1,84.3h1.6M136.8,89.7h1.6M136.4,91.5h1.6M137.1,104.9h1.6M138.3,72.6h1.6M139,75.1h1.6M138.3,76.4h1.6M138.7,80.2h1.6M138.7,82.8h1.6M139,88.1h1.6M138.3,96h1.6M138.7,97.6h1.6M139,99.8h1.6M140.9,70.7h1.6M140.2,74.5h1.6M140.2,77h1.6M140.9,82.8h1.6M140.2,88.1h1.6M142.8,65.6h1.6M142.5,71h1.6M142.2,78.9h1.6M142.2,87.8h1.6M144.4,82.4h1.6M144.1,86.2h1.6M144.1,91.5h1.6M144.4,93.5h1.6M144.4,97.6h1.6M144.4,101h1.6M146.6,67.2h1.6M146.6,69.4h1.6M146.3,78.2h1.6M146.6,101.4h1.6M148.5,80.2h1.6M148.2,90h1.6M150.1,76.4h1.6M150.4,88.1h1.6M149.8,93.8h1.6M150.4,96h1.6M150.1,97.6h1.6M152.3,78.6h1.6M152,84.6h1.6M152,87.8h1.6M152.3,95.4h1.6M154.2,76.4h1.6M153.6,84.3h1.6M156.1,82.4h1.6M156.1,84.6h1.6M155.8,85.9h1.6M155.4,87.8h1.6M155.4,89.7h1.6M157.7,88.4h1.6M157.3,95.4h1.6M158,99.5h1.6M159.6,76.7h1.6M159.6,82.1h1.6M159.9,86.2h1.6M159.9,91.9h1.6M159.9,99.8h1.6M161.5,105.2h1.6M163.1,74.5h1.6M163.8,77h1.6M163.4,78.9h1.6M163.4,80.8h1.6M163.1,82.1h1.6M163.1,91.5h1.6M164.9,85.9h1.6M165.6,88.4h1.6M165.3,91.5h1.6M164.9,93.5h1.6M165.3,95.7h1.6M167.5,76.7h1.6M167.5,80.8h1.6M166.8,88.1h1.6M167.5,111.2h1.6M167.5,185.3h1.6M169.1,85.9h1.6M168.8,93.5h1.6M169.1,137.1h1.6M170.7,97.2h1.6M171.3,103.3h1.6M170.7,124.2h1.6M170.7,139h1.6M171.3,143.5h1.6M173.2,97.2h1.6M173.2,101h1.6M172.9,116.9h1.6M174.8,82.8h1.6M174.8,114.7h1.6M174.8,116.9h1.6M174.8,125.8h1.6M175.1,135.2h1.6M177,109h1.6M177,122.3h1.6M176.7,137.8h1.6M178.6,115h1.6M178.2,139h1.6M178.9,141.3h1.6M182.7,143.2h1.6M186.5,77h1.6" stroke="#0000ff"/>
<path d="M38,204.3h1.6M38,207.4h1.6M37.6,209.7h1.6M37.6,217.3h1.6M39.9,200.2h1.6M39.5,202.1h1.6M40.2,216.9h1.6M39.9,220.7h1.6M39.9,222.6h1.6M43.3,221.1h1.6M43.3,223h1.6M45.6,192.6h1.6M45.6,194.8h1.6M45.6,196.4h1.6M45.9,223h1.6M47.1,189.1h1.6M47.1,192.2h1.6M47.9,194.8h1.6M47.9,223.3h1.6M49.4,191h1.6M49,218.8h1.6M51.3,186.9h1.6M51.3,216.9h1.6M51.6,218.8h1.6M53.5,196h1.6M53.5,215h1.6M54.7,183.4h1.6M55.1,186.9h1.6M54.7,213.8h1.6M56.6,188.8h1.6M57,190.3h1.6M58.5,185.3h1.6M59.2,186.5h1.6M58.5,192.9h1.6M59.2,199.8h1.6M59.2,215h1.6M61.1,188.8h1.6M60.4,199.8h1.6M60.4,209.3h1.6M61.1,211.2h1.6M60.8,213.8h1.6M62.3,194.5h1.6M62.7,198.3h1.6M64.6,192.2h1.6" stroke="#00b4a0"/>
<path d="M37.6,211.6h1.6M38.4,213.5h1.6M38.4,215.4h1.6M39.5,204.3h1.6M39.5,205.9h1.6M39.5,207.8h1.6M40.2,210h1.6M39.5,211.2h1.6M39.9,215.4h1.6M39.5,219.5h1.6M39.9,225.2h1.6M41.4,190.3h1.6M41.8,198.3h1.6M42.1,199.8h1.6M42.1,203.6h1.6M41.8,206.2h1.6M41.4,217.6h1.6M44,192.6h1.6M43.3,194.5h1.6M43.7,197.9h1.6M43.7,205.9h1.6M43.3,216.9h1.6M43.3,218.8h1.6M45.6,202.1h1.6M45.6,217.6h1.6M45.6,218.8h1.6M45.2,221.1h1.6M47.1,196.4h1.6M47.9,197.9h1.6M47.9,219.5h1.6M47.5,221.1h1.6M49.4,192.2h1.6M49,196.7h1.6M49,213.8h1.6M49,221.1h1.6M51.6,191h1.6M50.9,192.9h1.6M51.6,194.1h1.6M53.5,188.4h1.6M53.5,190.7h1.6M52.8,194.5h1.6M53.5,206.2h1.6M52.8,213.5h1.6M55.4,189.1h1.6M55.4,209.3h1.6M55.4,211.9h1.6M55.1,215h1.6M57.4,200.2h1.6M57.4,203.6h1.6M57.4,208.1h1.6M57,209.3h1.6M58.5,208.1h1.6M58.9,210h1.6M60.4,191h1.6M60.8,192.9h1.6M61.1,204h1.6M60.4,205.5h1.6M63,196h1.6M63,204h1.6" stroke="#10e010"/>
<path d="M40.2,213.8h1.6M41.8,209.3h1.6M41.4,211.6h1.6M41.8,213.5h1.6M44,208.1h1.6M43.3,211.6h1.6M45.2,205.9h1.6M45.9,213.1h1.6M47.5,201.7h1.6M47.9,208.1h1.6M47.5,213.8h1.6M49.4,194.1h1.6M49.4,197.9h1.6M49.8,201.7h1.6M49,217.6h1.6M50.9,196.4h1.6M51.6,198.6h1.6M51.6,202.1h1.6M50.9,205.5h1.6M51.6,215.7h1.6M53.5,198.6h1.6M53.5,204.3h1.6M52.8,209.7h1.6M52.8,211.2h1.6M55.1,190.3h1.6M55.1,192.6h1.6M54.7,194.5h1.6M54.7,198.6h1.6M55.4,203.6h1.6M57.4,192.9h1.6M56.6,194.8h1.6M57.4,196.7h1.6M56.6,197.9h1.6M57,205.5h1.6M56.6,211.2h1.6M59.2,194.5h1.6M58.9,204.3h1.6" stroke="#e0e800"/>
<path d="M43.7,213.8h1.6M45.6,207.8h1.6M45.2,215.4h1.6M47.5,211.2h1.6M49.4,200.5h1.6M49.4,204h1.6M49.8,205.5h1.6M49,215h1.6M51.3,209.7h1.6M51.3,213.5h1.6M53.5,200.2h1.6M53.2,207.8h1.6M55.1,196.4h1.6M55.1,202.1h1.6M55.1,206.2h1.6M55.1,207.8h1.6" stroke="#ff9000"/>
<path d="M43.3,209.3h1.6M45.6,209.3h1.6M45.6,211.9h1.6M47.5,203.6h1.6M47.9,205.5h1.6M47.5,209.3h1.6M49.4,207.4h1.6M49.8,209.7h1.6M49.8,211.6h1.6M51.6,204h1.6M51.6,207.4h1.6M50.9,211.6h1.6M53.2,201.7h1.6" stroke="#ff2000"/>
</g>
<path d="M468,1238.7h1.7M477.7,1238.7h1.7M491.5,1238.7h2.4M505.6,1238.7h1.4M508.3,1238.7h2M522.5,1238.7h1.5M527.8,1238.7h2.2M538.1,1238.7h2.4M678.5,1238.7h1.3M679.8,1238.7h2M691.8,1238.7h1.4M693.1,1238.7h1.9" stroke="#a8a8ff" stroke-width="1.7" fill="none"/>
<path d="M471.5,1238.7h1.4M472.9,1238.7h1.8M479.4,1238.7h1.6M490,1238.7h1.5M493.8,1238.7h2M495.8,1238.7h2.2M498,1238.7h1.5M511.7,1238.7h1.5M519.3,1238.7h2M521.2,1238.7h1.3M524,1238.7h1.7M525.8,1238.7h2M530,1238.7h1.2M531.2,1238.7h1.6M532.8,1238.7h1.4M536.2,1238.7h1.9M545.2,1238.7h1.5M546.7,1238.7h1.8M559.7,1238.7h2.2M574.7,1238.7h1.6M579.7,1238.7h1.7M583.8,1238.7h1.4M588.5,1238.7h1.9M593.8,1238.7h1.7M599.3,1238.7h2.3M603.2,1238.7h2.2M618.8,1238.7h1.6M626,1238.7h1.7M630,1238.7h1.3M633.1,1238.7h1.9M643.3,1238.7h1.8M645.1,1238.7h1.9M649.2,1238.7h1.4M653.8,1238.7h1.9M659.4,1238.7h2.1M663.4,1238.7h1.7M669.6,1238.7h1.8M673.5,1238.7h1.8" stroke="#10c040" stroke-width="1.7" fill="none"/>
<path d="M474.8,1238.7h1.4M481,1238.7h1.6M482.6,1238.7h1.4M486.1,1238.7h1.6M487.7,1238.7h2.3M499.5,1238.7h1.7M501.2,1238.7h2.2M503.3,1238.7h2.3M507,1238.7h1.3M510.3,1238.7h1.4M513.2,1238.7h1.6M514.8,1238.7h2M534.2,1238.7h2M540.4,1238.7h1.9M542.3,1238.7h1.5M543.8,1238.7h1.4M612.6,1238.7h2M616.8,1238.7h2M634.9,1238.7h1.6M636.6,1238.7h1.3M652.1,1238.7h1.6M657.9,1238.7h1.5M667.1,1238.7h1.2M675.3,1238.7h1.9M681.7,1238.7h2.4M684.1,1238.7h2.1M697,1238.7h1.9" stroke="#0000ff" stroke-width="1.7" fill="none"/>
<path d="M550.6,1238.7h1.6M557.8,1238.7h1.8M561.8,1238.7h1.4M563.2,1238.7h2.4M565.6,1238.7h1.6M570.6,1238.7h2.2M576.3,1238.7h1.8M581.5,1238.7h2.3M590.3,1238.7h1.7M597.8,1238.7h1.6M607.1,1238.7h1.4M614.6,1238.7h2.1M620.4,1238.7h1.5M621.9,1238.7h1.9M627.7,1238.7h2.3M641.8,1238.7h1.5M647,1238.7h2.2M665.2,1238.7h1.9M668.3,1238.7h1.3" stroke="#ff9000" stroke-width="1.7" fill="none"/>
<path d="M552.1,1238.7h1.9M554.1,1238.7h1.6M567.2,1238.7h2.2M572.8,1238.7h1.9M578,1238.7h1.7M585.1,1238.7h1.4M586.5,1238.7h2M592.1,1238.7h1.8M595.5,1238.7h2.3M601.6,1238.7h1.6M605.4,1238.7h1.7M608.5,1238.7h2.2" stroke="#ff2000" stroke-width="1.7" fill="none"/>
<rect x="466.9" y="993.7" width="245.5" height="246.1" fill="none" stroke="#111" stroke-width="1.2"/>
<path d="M566.8,993.7L566.8,1239.8" stroke="#000" stroke-width="2.5" fill="none"/>
<path d="M466.9,1146L712.4,1146" stroke="#000" stroke-width="1.6" fill="none"/>
<path d="M466.9,1239.8v7M513,1239.8v7M559.8,1239.8v7M606.1,1239.8v7M652.9,1239.8v7M700,1239.8v7M466.9,1004h-7.4M466.9,1051.5h-7.4M466.9,1098.9h-7.4M466.9,1144.6h-7.4M466.9,1191.8h-7.4M466.9,1238.8h-7.4" stroke="#111" stroke-width="2.1" fill="none"/>
<path d="M480.8,1239.8v3M488.9,1239.8v3M494.7,1239.8v3M499.1,1239.8v4M502.8,1239.8v3M505.9,1239.8v3M508.5,1239.8v3M510.9,1239.8v3M527.1,1239.8v3M535.3,1239.8v3M541.2,1239.8v3M545.7,1239.8v4M549.4,1239.8v3M552.6,1239.8v3M555.3,1239.8v3M557.7,1239.8v3M573.7,1239.8v3M581.9,1239.8v3M587.7,1239.8v3M592.2,1239.8v4M595.8,1239.8v3M598.9,1239.8v3M601.6,1239.8v3M604,1239.8v3M620.2,1239.8v3M628.4,1239.8v3M634.3,1239.8v3M638.8,1239.8v4M642.5,1239.8v3M645.7,1239.8v3M648.4,1239.8v3M650.8,1239.8v3M667.1,1239.8v3M675.4,1239.8v3M681.3,1239.8v3M685.8,1239.8v4M689.6,1239.8v3M692.7,1239.8v3M695.4,1239.8v3M697.8,1239.8v3M466.9,1037.2h-3M466.9,1028.8h-3M466.9,1022.9h-3M466.9,1018.3h-4M466.9,1014.5h-3M466.9,1011.4h-3M466.9,1008.6h-3M466.9,1006.2h-3M466.9,1084.6h-3M466.9,1076.3h-3M466.9,1070.4h-3M466.9,1065.8h-4M466.9,1062h-3M466.9,1058.8h-3M466.9,1056.1h-3M466.9,1053.7h-3M466.9,1130.8h-3M466.9,1122.8h-3M466.9,1117.1h-3M466.9,1112.7h-4M466.9,1109h-3M466.9,1106h-3M466.9,1103.3h-3M466.9,1101h-3M466.9,1177.6h-3M466.9,1169.3h-3M466.9,1163.4h-3M466.9,1158.8h-4M466.9,1155.1h-3M466.9,1151.9h-3M466.9,1149.2h-3M466.9,1146.8h-3M466.9,1224.7h-3M466.9,1216.4h-3M466.9,1210.5h-3M466.9,1205.9h-4M466.9,1202.2h-3M466.9,1199.1h-3M466.9,1196.4h-3M466.9,1194h-3" stroke="#333" stroke-width="1.1" fill="none"/>
<text x="470.5" y="1261.8" font-size="8.6" fill="#222" letter-spacing="0.7" stroke="#222" stroke-width="0.25">10<tspan dx="1.5" dy="-3.6" font-size="7.4">2</tspan></text>
<text x="512" y="1261.8" font-size="8.6" fill="#222" letter-spacing="0.7" stroke="#222" stroke-width="0.25">10<tspan dx="1.5" dy="-3.6" font-size="7.4">3</tspan></text>
<text x="558.8" y="1261.8" font-size="8.6" fill="#222" letter-spacing="0.7" stroke="#222" stroke-width="0.25">10<tspan dx="1.5" dy="-3.6" font-size="7.4">4</tspan></text>
<text x="605.1" y="1261.8" font-size="8.6" fill="#222" letter-spacing="0.7" stroke="#222" stroke-width="0.25">10<tspan dx="1.5" dy="-3.6" font-size="7.4">5</tspan></text>
<text x="651.9" y="1261.8" font-size="8.6" fill="#222" letter-spacing="0.7" stroke="#222" stroke-width="0.25">10<tspan dx="1.5" dy="-3.6" font-size="7.4">6</tspan></text>
<text x="694.6" y="1261.8" font-size="8.6" fill="#222" letter-spacing="0.7" stroke="#222" stroke-width="0.25">10<tspan dx="1.5" dy="-3.6" font-size="7.4">7</tspan></text>
<text x="438.3" y="1007.8" font-size="8.6" fill="#222" letter-spacing="0.7" stroke="#222" stroke-width="0.25">10<tspan dx="1.5" dy="-3.6" font-size="7.4">7</tspan></text>
<text x="438.3" y="1055.3" font-size="8.6" fill="#222" letter-spacing="0.7" stroke="#222" stroke-width="0.25">10<tspan dx="1.5" dy="-3.6" font-size="7.4">6</tspan></text>
<text x="438.3" y="1102.7" font-size="8.6" fill="#222" letter-spacing="0.7" stroke="#222" stroke-width="0.25">10<tspan dx="1.5" dy="-3.6" font-size="7.4">5</tspan></text>
<text x="438.3" y="1148.4" font-size="8.6" fill="#222" letter-spacing="0.7" stroke="#222" stroke-width="0.25">10<tspan dx="1.5" dy="-3.6" font-size="7.4">4</tspan></text>
<text x="438.3" y="1195.6" font-size="8.6" fill="#222" letter-spacing="0.7" stroke="#222" stroke-width="0.25">10<tspan dx="1.5" dy="-3.6" font-size="7.4">3</tspan></text>
<text x="438.3" y="1242.6" font-size="8.6" fill="#222" letter-spacing="0.7" stroke="#222" stroke-width="0.25">10<tspan dx="1.5" dy="-3.6" font-size="7.4">2</tspan></text>
<text x="470.5" y="1011.2" font-size="10.2" fill="#222" letter-spacing="0.5" stroke="#222" stroke-width="0.2">Q5</text>
<text x="470.5" y="1024.4" font-size="10.2" fill="#222" letter-spacing="0.5" stroke="#222" stroke-width="0.2">4.33</text>
<text x="690.4" y="1011.2" font-size="10.2" text-anchor="end" fill="#222" letter-spacing="0.5" stroke="#222" stroke-width="0.2">Q6</text>
<text x="690.4" y="1024.4" font-size="10.2" text-anchor="end" fill="#222" letter-spacing="0.5" stroke="#222" stroke-width="0.2">6.59</text>
<text x="470.5" y="1214.8" font-size="10.2" fill="#222" letter-spacing="0.5" stroke="#222" stroke-width="0.2">Q8</text>
<text x="470.5" y="1228" font-size="10.2" fill="#222" letter-spacing="0.5" stroke="#222" stroke-width="0.2">83.8</text>
<text x="690.4" y="1214.8" font-size="10.2" text-anchor="end" fill="#222" letter-spacing="0.5" stroke="#222" stroke-width="0.2">Q7</text>
<text x="690.4" y="1228" font-size="10.2" text-anchor="end" fill="#222" letter-spacing="0.5" stroke="#222" stroke-width="0.2">5.33</text>
<g transform="translate(797.8,992.5)" fill="none" stroke-width="1.6">
<path d="M1.5,218.8h1.6M3.4,199.8h1.6M3.4,215.7h1.6M5.7,230.6h1.6M7.6,179.3h1.6M9.2,194.5h1.6M11,211.9h1.6M12.9,186.5h1.6M15.5,198.6h1.6M16.7,188.4h1.6M16.7,230.6h1.6M19,179.3h1.6M20.5,165.6h1.6M20.5,207.8h1.6M22.8,158.7h1.6M22.8,181.5h1.6M24.7,230.6h1.6M26.6,134h1.6M26.2,180.8h1.6M26.6,235.9h1.6M26.2,239.7h1.6M28.5,170.1h1.6M30,125.8h1.6M30,154.2h1.6M30,173.6h1.6M30.4,237.8h1.6M31.9,177.4h1.6M34.2,127.7h1.6M34.5,137.5h1.6M35.8,147.3h1.6M38.4,156.1h1.6M37.6,238.2h1.6M39.5,120.4h1.6M39.9,143.5h1.6M41.8,128.3h1.6M43.3,240.1h1.6M45.9,93.8h1.6M45.6,116.9h1.6M45.2,124.2h1.6M47.5,106.8h1.6M49.8,156.5h1.6M53.5,141.3h1.6M53.5,156.8h1.6M53.5,239.7h1.6M54.7,118.5h1.6M56.6,97.9h1.6M57,118.5h1.6M59.2,105.2h1.6M60.8,120h1.6M60.4,234.7h1.6M62.3,92.2h1.6M62.7,116.2h1.6M62.3,228.3h1.6M64.9,137.1h1.6M64.9,232.1h1.6M66.2,99.5h1.6M68.7,99.8h1.6M68,230.9h1.6M70.3,107.4h1.6M70.3,137.5h1.6M72.2,232.8h1.6M74.1,85.9h1.6M73.8,99.5h1.6M74.1,110.9h1.6M75.7,130.2h1.6M75.7,229h1.6M78.2,90.3h1.6M77.5,125.8h1.6M79.5,103.3h1.6M82,86.5h1.6M83.2,97.2h1.6M83.2,104.9h1.6M83.6,113.1h1.6M83.9,126.1h1.6M87.4,103.3h1.6M87.7,198.3h1.6M89.6,105.5h1.6M93.1,133.7h1.6M93.1,147h1.6M94.7,80.8h1.6M96.9,103.6h1.6M96.5,110.5h1.6M97.2,139.7h1.6M97.2,162.5h1.6M99.1,66.9h1.6M98.8,128h1.6M99.1,135.2h1.6M98.5,152.3h1.6M101,95.7h1.6M102.9,99.5h1.6M102.9,111.2h1.6M102.9,139h1.6M104.5,65.3h1.6M104.8,90h1.6M104.2,128.3h1.6M104.2,148.5h1.6M104.5,171.7h1.6M104.5,177.4h1.6M106,153h1.6M106.4,177.4h1.6M108.3,124.5h1.6M108.3,143.2h1.6M110.2,101.7h1.6M110.5,127.7h1.6M109.8,145.4h1.6M109.8,165.6h1.6M109.8,171.3h1.6M112.1,71h1.6M112.1,97.2h1.6M114.3,61.1h1.6M114,132.1h1.6M114,148.9h1.6M116.2,110.5h1.6M115.9,139.7h1.6M121.6,173.6h1.6M123.5,67.2h1.6M123.8,150.8h1.6M127,104.9h1.6M130.8,110.5h1.6M130.8,139.4h1.6M133.3,135.2h1.6M134.6,101.4h1.6M134.9,103.3h1.6M135.2,167.9h1.6M136.8,116.6h1.6M136.4,122h1.6M138.3,99.2h1.6M140.9,141.6h1.6M142.8,61.1h1.6M142.5,108.7h1.6M144.4,52h1.6M146.3,59.2h1.6M147.8,65.6h1.6M153.9,175.5h1.6M159.6,116.9h1.6M159.2,135.9h1.6M161.2,129.5h1.6M163.1,123.9h1.6M164.9,125.8h1.6M166.8,156.1h1.6M169.1,146.6h1.6M168.8,156.5h1.6M169.4,161.8h1.6M171.3,93.8h1.6M171.3,169.4h1.6M172.6,55.8h1.6M172.9,182.7h1.6M174.4,71.3h1.6M175.1,179.3h1.6M176.7,93.8h1.6M178.6,115h1.6M180.2,78.6h1.6M180.5,82.1h1.6M180.5,96h1.6M180.2,139h1.6M180.5,183.1h1.6M182.7,71.3h1.6M182.4,95.4h1.6M182.4,103.6h1.6M182.4,145.1h1.6M184.6,131.8h1.6M186.5,69.4h1.6M186.5,151.1h1.6M186.2,168.2h1.6M188.4,74.8h1.6M188.1,90.3h1.6M188.4,101.7h1.6M188.1,125.8h1.6M187.8,134h1.6M187.8,139h1.6M187.8,154.2h1.6M188.4,172h1.6M188.1,181.2h1.6M190,85.9h1.6M189.7,97.2h1.6M192.2,93.5h1.6M193.8,158.4h1.6M194.1,183.1h1.6M197.2,85.9h1.6M199.2,67.2h1.6M211.2,86.5h1.6" stroke="#a8a8ff"/>
<path d="M0.3,227.1h1.6M1.5,201.7h1.6M3.8,226.4h1.6M3.4,232.1h1.6M5.7,232.5h1.6M7.9,192.6h1.6M7.9,211.2h1.6M7.9,219.2h1.6M7.2,223h1.6M9.5,202.4h1.6M9.2,228.7h1.6M9.2,235.9h1.6M11.7,199.8h1.6M11.7,219.2h1.6M11.7,230.9h1.6M11.4,236.3h1.6M12.9,192.9h1.6M13.6,200.5h1.6M13.6,215.7h1.6M13.6,228.7h1.6M13.3,234.4h1.6M15.2,217.3h1.6M15.2,223h1.6M15.5,226.8h1.6M17.4,185.3h1.6M16.7,192.6h1.6M17.4,205.9h1.6M17.1,215h1.6M17.1,238.5h1.6M18.6,185.3h1.6M19.4,202.1h1.6M19,204h1.6M19,215h1.6M18.6,217.6h1.6M18.6,219.2h1.6M19.4,222.6h1.6M18.6,228.7h1.6M18.6,235.9h1.6M20.9,185h1.6M20.5,190.7h1.6M20.9,192.6h1.6M20.5,196h1.6M20.5,237.8h1.6M20.9,241.6h1.6M22.4,191h1.6M23.1,198.6h1.6M22.8,201.7h1.6M23.1,205.5h1.6M22.4,211.2h1.6M22.4,219.2h1.6M22.4,234.7h1.6M22.4,238.2h1.6M24.3,189.1h1.6M25.1,200.2h1.6M24.3,202.1h1.6M25.1,210h1.6M25.1,211.6h1.6M24.7,213.5h1.6M24.7,215.7h1.6M25.1,218.8h1.6M24.7,222.6h1.6M24.7,226.4h1.6M26.2,185h1.6M26.6,197.9h1.6M26.9,199.8h1.6M26.2,205.9h1.6M26.2,208.1h1.6M26.6,209.7h1.6M26.6,211.9h1.6M26.2,213.5h1.6M26.9,217.3h1.6M26.9,218.8h1.6M26.2,221.1h1.6M26.2,242h1.6M28.5,146.6h1.6M28.9,148.5h1.6M28.9,190.3h1.6M28.5,192.6h1.6M28.9,196h1.6M28.1,207.8h1.6M28.5,220.7h1.6M28.9,225.2h1.6M30,129.9h1.6M30,131.8h1.6M30.8,140.9h1.6M30.8,143.2h1.6M30.4,150.8h1.6M30,188.4h1.6M30,190.7h1.6M30.8,192.9h1.6M30.4,196h1.6M30,197.9h1.6M30.4,199.8h1.6M30.4,204h1.6M30.8,205.5h1.6M30,208.1h1.6M30,209.7h1.6M30,215.7h1.6M30.8,220.7h1.6M30,226.8h1.6M30.4,230.9h1.6M31.9,141.6h1.6M31.9,149.2h1.6M32.6,159.9h1.6M32.3,164.4h1.6M31.9,182.7h1.6M31.9,184.6h1.6M32.6,192.9h1.6M32.6,194.5h1.6M31.9,196.4h1.6M31.9,198.6h1.6M31.9,200.2h1.6M31.9,202.4h1.6M31.9,204.3h1.6M31.9,205.9h1.6M32.3,207.4h1.6M31.9,211.9h1.6M32.3,219.2h1.6M32.6,221.4h1.6M31.9,222.6h1.6M32.6,224.5h1.6M32.6,226.4h1.6M32.3,230.6h1.6M31.9,232.8h1.6M33.8,142.8h1.6M33.8,192.6h1.6M34.5,194.1h1.6M33.8,196h1.6M34.5,197.9h1.6M33.8,201.7h1.6M34.5,204.3h1.6M34.2,206.2h1.6M34.2,207.8h1.6M34.5,211.2h1.6M34.5,215.4h1.6M34.2,224.5h1.6M33.8,232.8h1.6M35.8,164.1h1.6M36.5,168.2h1.6M35.8,188.8h1.6M35.8,192.6h1.6M36.1,194.5h1.6M36.5,206.2h1.6M36.1,208.1h1.6M36.5,209.3h1.6M36.5,211.6h1.6M36.5,213.5h1.6M36.5,215.7h1.6M36.5,217.6h1.6M36.1,220.7h1.6M36.1,223h1.6M36.1,228.3h1.6M36.5,232.5h1.6M36.5,236.3h1.6M37.6,135.2h1.6M38.4,150.4h1.6M38,162.2h1.6M38.4,179.3h1.6M38,181.5h1.6M38.4,183.4h1.6M37.6,184.6h1.6M38.4,186.9h1.6M38.4,189.1h1.6M38,190.3h1.6M38,192.9h1.6M38.4,198.6h1.6M38,216.9h1.6M37.6,219.2h1.6M38.4,221.1h1.6M38,224.9h1.6M38.4,226.8h1.6M38.4,228.7h1.6M39.5,153h1.6M39.5,179.6h1.6M39.9,180.8h1.6M40.2,190.7h1.6M40.2,194.1h1.6M39.9,200.2h1.6M39.5,215.7h1.6M40.2,219.2h1.6M39.5,221.4h1.6M39.9,227.1h1.6M39.5,232.1h1.6M41.4,139h1.6M42.1,140.9h1.6M41.4,152.3h1.6M41.4,154.6h1.6M42.1,156.8h1.6M41.4,158.7h1.6M42.1,170.1h1.6M42.1,173.9h1.6M42.1,175.8h1.6M41.4,180.8h1.6M42.1,183.1h1.6M41.4,186.9h1.6M41.8,188.4h1.6M41.8,207.8h1.6M41.8,213.1h1.6M41.4,215.7h1.6M41.4,219.5h1.6M41.8,223h1.6M41.8,230.2h1.6M42.1,234h1.6M41.8,235.9h1.6M43.7,112.8h1.6M44,130.2h1.6M44,134h1.6M44,135.6h1.6M43.3,137.5h1.6M44,154.2h1.6M43.3,163.8h1.6M44,169.4h1.6M43.7,173.9h1.6M44,177h1.6M43.3,179.3h1.6M43.7,185.3h1.6M43.7,213.8h1.6M44,215h1.6M45.9,113.1h1.6M45.9,137.5h1.6M45.9,144.8h1.6M45.6,147.3h1.6M45.2,153h1.6M45.9,158.7h1.6M45.9,159.9h1.6M45.6,170.1h1.6M45.9,171.7h1.6M45.2,177h1.6M45.2,180.8h1.6M45.6,183.1h1.6M45.9,213.8h1.6M45.2,215h1.6M45.9,219.5h1.6M45.9,221.1h1.6M45.2,226.8h1.6M45.6,230.9h1.6M45.2,234h1.6M47.1,139h1.6M47.1,145.1h1.6M47.1,152.7h1.6M47.1,162.5h1.6M47.5,166h1.6M47.1,167.5h1.6M47.5,173.2h1.6M47.9,175.1h1.6M47.1,181.2h1.6M47.1,183.1h1.6M47.1,213.8h1.6M47.1,215.4h1.6M47.5,218.8h1.6M47.1,230.6h1.6M47.5,235.9h1.6M49,109.3h1.6M49.8,122.3h1.6M49,130.2h1.6M49,135.9h1.6M49.4,143.5h1.6M49.8,171.7h1.6M49.4,173.2h1.6M49.4,175.1h1.6M49.4,178.9h1.6M49,209.7h1.6M49.4,211.2h1.6M49.4,232.1h1.6M51.6,120.7h1.6M51.6,122h1.6M50.9,133.3h1.6M51.3,145.1h1.6M50.9,156.1h1.6M51.3,159.9h1.6M50.9,164.4h1.6M50.9,169.8h1.6M51.3,177h1.6M51.3,178.9h1.6M51.3,217.3h1.6M51.3,219.5h1.6M50.9,229h1.6M53.2,124.5h1.6M52.8,126.4h1.6M53.2,135.6h1.6M52.8,165.6h1.6M53.2,168.2h1.6M52.8,177h1.6M53.2,179.3h1.6M53.5,211.6h1.6M53.5,215.7h1.6M53.2,219.2h1.6M52.8,222.6h1.6M53.2,226.8h1.6M55.1,113.1h1.6M55.1,126.1h1.6M55.4,132.1h1.6M55.1,148.5h1.6M54.7,166.3h1.6M55.1,169.8h1.6M55.1,172h1.6M54.7,179.3h1.6M54.7,181.2h1.6M55.1,211.9h1.6M54.7,213.8h1.6M55.4,215h1.6M54.7,216.9h1.6M55.1,220.7h1.6M54.7,224.9h1.6M55.1,230.9h1.6M57.4,131.4h1.6M56.6,134h1.6M57,137.5h1.6M57,145.1h1.6M57.4,154.6h1.6M57,163.8h1.6M57.4,170.1h1.6M57,210h1.6M57.4,221.1h1.6M57.4,228.7h1.6M58.9,113.1h1.6M58.5,135.9h1.6M59.2,137.8h1.6M59.2,139.7h1.6M59.2,143.2h1.6M58.9,148.5h1.6M58.5,154.2h1.6M59.2,160.6h1.6M58.9,164.4h1.6M59.2,165.6h1.6M58.9,167.9h1.6M59.2,169.4h1.6M59.2,173.6h1.6M58.9,175.1h1.6M58.9,180.8h1.6M58.9,208.1h1.6M58.9,210h1.6M58.9,215.7h1.6M60.8,112.8h1.6M60.4,122.6h1.6M60.8,126.4h1.6M61.1,128h1.6M61.1,151.1h1.6M60.8,152.7h1.6M60.4,154.6h1.6M61.1,156.8h1.6M60.8,158.4h1.6M60.4,160.6h1.6M60.4,161.8h1.6M60.8,166h1.6M60.4,168.2h1.6M61.1,173.2h1.6M60.4,175.5h1.6M60.8,177.4h1.6M61.1,178.9h1.6M61.1,207.4h1.6M60.4,209.7h1.6M60.4,222.6h1.6M60.4,236.6h1.6M63,103h1.6M62.3,106.8h1.6M63,128.3h1.6M63,134h1.6M62.3,158h1.6M62.7,160.6h1.6M62.3,166h1.6M63,169.8h1.6M62.7,175.1h1.6M63,197.9h1.6M62.3,200.2h1.6M62.7,203.6h1.6M63,205.5h1.6M63,207.8h1.6M63,211.9h1.6M62.3,213.8h1.6M62.7,215.4h1.6M62.7,216.9h1.6M64.6,104.9h1.6M64.2,112.8h1.6M64.2,125.8h1.6M64.2,145.4h1.6M64.2,146.6h1.6M64.9,154.2h1.6M64.9,164.4h1.6M64.2,199.8h1.6M64.6,204.3h1.6M64.2,205.9h1.6M64.9,207.8h1.6M64.6,215.7h1.6M64.9,219.2h1.6M64.2,230.2h1.6M66.2,91.9h1.6M66.2,97.9h1.6M66.2,133.3h1.6M66.5,162.2h1.6M66.8,165.6h1.6M66.8,167.9h1.6M66.8,170.1h1.6M66.8,180.8h1.6M66.2,198.6h1.6M66.5,199.8h1.6M66.8,204h1.6M66.8,205.5h1.6M66.2,209.7h1.6M66.5,211.6h1.6M66.5,217.3h1.6M66.5,219.5h1.6M66.5,221.1h1.6M68.4,112.5h1.6M68.4,116.9h1.6M68,127.7h1.6M68.7,129.9h1.6M68.4,139.7h1.6M68.4,145.1h1.6M68.7,152.3h1.6M68,156.1h1.6M68,160.3h1.6M68.4,166.3h1.6M68.4,168.2h1.6M68.4,169.8h1.6M68.4,173.9h1.6M68.7,190.3h1.6M68.4,194.1h1.6M68,199.8h1.6M68.7,202.4h1.6M68.7,204h1.6M68.4,209.7h1.6M70.3,116.9h1.6M70,122.6h1.6M70,126.4h1.6M70.3,128.3h1.6M70,156.8h1.6M70.3,169.8h1.6M70.3,171.7h1.6M70,173.6h1.6M70.3,177.7h1.6M70,179.3h1.6M70,189.1h1.6M70.6,192.2h1.6M70.6,194.5h1.6M70.6,196h1.6M70.3,205.5h1.6M70.3,209.3h1.6M70.3,211.2h1.6M71.9,107.1h1.6M71.9,128.3h1.6M72.5,139h1.6M71.9,149.2h1.6M72.5,150.8h1.6M72.2,160.3h1.6M71.9,164.1h1.6M71.9,169.4h1.6M72.5,171.3h1.6M71.9,173.9h1.6M72.5,177.7h1.6M72.5,179.3h1.6M72.5,183.4h1.6M72.2,184.6h1.6M72.2,192.9h1.6M71.9,194.5h1.6M72.2,196.4h1.6M72.2,202.1h1.6M72.2,204.3h1.6M72.5,211.6h1.6M74.4,105.2h1.6M74.1,116.2h1.6M74.4,118.2h1.6M74.1,128.3h1.6M74.4,131.8h1.6M74.4,133.3h1.6M74.4,144.8h1.6M74.1,151.1h1.6M74.4,158.4h1.6M73.8,159.9h1.6M73.8,162.2h1.6M74.1,166h1.6M73.8,167.9h1.6M74.4,169.4h1.6M74.4,173.9h1.6M74.1,175.1h1.6M74.1,179.6h1.6M73.8,192.6h1.6M74.4,194.5h1.6M73.8,198.6h1.6M74.4,199.8h1.6M74.4,203.6h1.6M74.4,211.6h1.6M73.8,213.1h1.6M74.4,215h1.6M75.7,93.8h1.6M75.7,115h1.6M76.3,141.3h1.6M75.7,156.8h1.6M76.3,158.7h1.6M76.3,159.9h1.6M76.3,163.8h1.6M76,165.6h1.6M76,170.1h1.6M76.3,172h1.6M75.7,173.6h1.6M76.3,175.1h1.6M76,177.4h1.6M75.7,181.5h1.6M75.7,182.7h1.6M75.7,184.6h1.6M76,187.2h1.6M75.7,188.4h1.6M76,190.7h1.6M76,192.9h1.6M76.3,199.8h1.6M75.7,204.3h1.6M75.7,207.8h1.6M77.9,94.1h1.6M78.2,133.7h1.6M77.5,143.2h1.6M77.9,146.6h1.6M77.9,154.6h1.6M77.9,156.1h1.6M77.9,159.9h1.6M77.9,166h1.6M77.9,170.1h1.6M77.5,177.7h1.6M78.2,179.3h1.6M78.2,186.9h1.6M77.5,191h1.6M78.2,192.9h1.6M77.9,196.4h1.6M78.2,198.3h1.6M78.2,200.5h1.6M78.2,208.1h1.6M77.5,209.3h1.6M78.2,211.2h1.6M79.5,93.8h1.6M79.8,110.9h1.6M79.5,143.5h1.6M79.5,150.8h1.6M79.5,158.7h1.6M79.8,162.5h1.6M80.1,171.3h1.6M80.1,175.5h1.6M79.8,179.3h1.6M79.5,185h1.6M80.1,186.9h1.6M80.1,189.1h1.6M79.5,192.9h1.6M79.8,200.5h1.6M79.8,204.3h1.6M81.7,93.5h1.6M82,96h1.6M81.7,108.7h1.6M81.7,151.1h1.6M81.7,153h1.6M82,158.7h1.6M81.7,168.2h1.6M81.4,175.8h1.6M81.7,181.2h1.6M81.7,182.7h1.6M81.4,207.4h1.6M83.6,91.9h1.6M83.6,137.5h1.6M83.9,159.9h1.6M83.9,166.3h1.6M83.2,167.9h1.6M83.2,171.7h1.6M83.6,173.6h1.6M83.2,175.5h1.6M83.6,185h1.6M83.6,191h1.6M83.2,209.3h1.6M85.8,71.3h1.6M85.8,73.2h1.6M85.5,93.8h1.6M85.2,118.8h1.6M85.2,143.2h1.6M85.8,144.8h1.6M85.8,147.3h1.6M85.8,160.3h1.6M85.8,163.8h1.6M85.2,167.9h1.6M85.5,173.2h1.6M85.5,183.1h1.6M85.5,186.9h1.6M85.5,189.1h1.6M85.5,190.3h1.6M85.5,204.3h1.6M87.7,91.5h1.6M87.4,96h1.6M87,99.2h1.6M87.4,135.9h1.6M87,139.7h1.6M87,141.6h1.6M87.7,151.1h1.6M87,162.5h1.6M87,164.1h1.6M87.4,169.4h1.6M87.7,177.7h1.6M87.7,192.9h1.6M87.4,208.1h1.6M89.3,149.2h1.6M89.6,169.4h1.6M89.6,172h1.6M89.3,181.5h1.6M89.6,188.4h1.6M89,190.3h1.6M89,192.9h1.6M90.8,107.1h1.6M91.5,137.8h1.6M90.8,139h1.6M91.2,150.8h1.6M90.8,156.8h1.6M90.8,158h1.6M91.2,160.6h1.6M90.8,173.6h1.6M91.5,188.8h1.6M93.1,101h1.6M93.4,137.8h1.6M93.4,149.2h1.6M93.4,154.6h1.6M92.8,160.3h1.6M93.1,170.1h1.6M93.4,177.4h1.6M93.1,181.2h1.6M92.8,196.4h1.6M92.8,198.3h1.6M95,86.5h1.6M95.3,99.8h1.6M95.3,166.3h1.6M95,171.7h1.6M95,173.2h1.6M94.7,175.5h1.6M95,181.2h1.6M96.9,141.6h1.6M96.9,143.2h1.6M96.5,152.7h1.6M96.5,169.8h1.6M96.9,173.2h1.6M97.2,179.3h1.6M96.5,196.7h1.6M98.8,86.2h1.6M98.8,143.2h1.6M99.1,166h1.6M99.1,169.4h1.6M99.1,171.3h1.6M98.8,183.1h1.6M100.3,86.5h1.6M100.7,101.7h1.6M100.3,170.1h1.6M100.3,171.7h1.6M102.9,78.2h1.6M102.2,85.9h1.6M104.5,75.1h1.6M104.5,84.6h1.6M104.5,101.4h1.6M104.2,165.6h1.6M106.4,74.8h1.6M106.4,78.9h1.6M106,82.1h1.6M106,85.9h1.6M106.7,91.9h1.6M106,94.1h1.6M106,95.7h1.6M106.7,103.6h1.6M106,130.2h1.6M106.7,145.4h1.6M108,77h1.6M108.3,80.2h1.6M108.6,84h1.6M108.3,88.1h1.6M108.3,137.8h1.6M108,153h1.6M110.5,84.3h1.6M110.2,137.1h1.6M111.8,80.5h1.6M112.1,91.5h1.6M111.8,124.5h1.6M114,66.9h1.6M114,78.9h1.6M114.3,99.2h1.6M114.3,103.3h1.6M115.9,65.3h1.6M115.9,66.9h1.6M116.2,76.4h1.6M115.9,78.6h1.6M116.2,87.8h1.6M117.5,66.9h1.6M118.1,69.1h1.6M117.8,70.7h1.6M117.5,78.6h1.6M117.8,82.1h1.6M117.8,84.6h1.6M118.1,95.7h1.6M118.1,103.6h1.6M118.1,107.1h1.6M119.3,75.1h1.6M120,88.4h1.6M119.3,94.1h1.6M119.3,105.2h1.6M121.6,71h1.6M121.2,72.9h1.6M121.9,78.2h1.6M121.6,80.2h1.6M121.6,84h1.6M121.2,88.4h1.6M121.9,97.9h1.6M121.6,107.1h1.6M123.2,82.8h1.6M123.8,104.9h1.6M125.4,71h1.6M125.7,78.2h1.6M125.4,80.2h1.6M125.7,84.6h1.6M125.7,97.2h1.6M127.3,74.8h1.6M127.3,77h1.6M127.3,82.1h1.6M127,88.4h1.6M127.6,92.2h1.6M129.5,65h1.6M129.2,72.9h1.6M129.2,78.9h1.6M129.2,82.8h1.6M129.2,88.4h1.6M128.8,92.2h1.6M129.5,97.9h1.6M131.4,68.8h1.6M130.8,71.3h1.6M131.4,88.1h1.6M131.4,93.5h1.6M130.8,99.2h1.6M132.7,82.8h1.6M133.3,85.9h1.6M133,99.8h1.6M135.2,71.3h1.6M134.9,72.6h1.6M134.9,75.1h1.6M134.6,78.9h1.6M134.9,108.7h1.6M137.1,63h1.6M137.1,76.7h1.6M137.1,82.8h1.6M136.8,84h1.6M136.8,107.1h1.6M138.7,75.1h1.6M139,90h1.6M138.3,97.9h1.6M140.9,65.6h1.6M140.2,69.1h1.6M140.2,71h1.6M140.2,73.2h1.6M140.9,74.5h1.6M140.6,82.1h1.6M140.9,87.8h1.6M140.2,99.8h1.6M142.2,80.2h1.6M142.5,87.8h1.6M142.8,93.8h1.6M144.8,77h1.6M144.1,78.9h1.6M144.1,99.2h1.6M146.6,74.8h1.6M146.3,76.7h1.6M146.6,84.6h1.6M146.6,86.2h1.6M146.6,90.3h1.6M146.6,92.2h1.6M146.6,96h1.6M148.5,75.1h1.6M148.2,80.8h1.6M148.5,97.6h1.6M148.5,99.5h1.6M148.2,101.7h1.6M150.1,68.8h1.6M150.4,74.8h1.6M150.1,78.2h1.6M150.1,84.3h1.6M150.4,92.2h1.6M152.3,74.8h1.6M151.7,80.2h1.6M152,82.8h1.6M152.3,92.2h1.6M151.7,101.4h1.6M153.9,90h1.6M154.2,92.2h1.6M154.2,93.8h1.6M155.8,68.8h1.6M155.4,74.8h1.6M155.4,84.3h1.6M156.1,87.8h1.6M155.8,90h1.6M156.1,95.4h1.6M158,65.6h1.6M158,85.9h1.6M157.7,93.5h1.6M158,97.9h1.6M157.7,99.8h1.6M157.7,101.4h1.6M157.3,105.2h1.6M157.3,110.5h1.6M159.2,69.1h1.6M159.2,88.4h1.6M159.2,90.3h1.6M159.6,91.5h1.6M159.6,95.4h1.6M159.6,97.9h1.6M159.2,99.5h1.6M159.6,103.6h1.6M161.5,61.5h1.6M161.5,75.1h1.6M161.8,80.2h1.6M161.5,82.1h1.6M161.8,84.6h1.6M161.5,86.2h1.6M161.8,88.1h1.6M161.5,94.1h1.6M161.5,95.4h1.6M161.2,97.9h1.6M161.5,104.9h1.6M163.8,63.4h1.6M163.4,67.5h1.6M163.1,70.7h1.6M163.4,73.2h1.6M163.1,76.4h1.6M163.4,82.1h1.6M163.4,88.1h1.6M163.8,91.5h1.6M163.4,93.5h1.6M163.8,95.4h1.6M163.4,97.2h1.6M163.1,101.7h1.6M163.1,107.1h1.6M163.8,109.3h1.6M163.1,111.2h1.6M163.1,114.4h1.6M165.3,65h1.6M165.3,77h1.6M164.9,78.6h1.6M164.9,84.3h1.6M165.6,89.7h1.6M165.3,91.5h1.6M164.9,94.1h1.6M165.3,97.9h1.6M165.6,101.4h1.6M165.6,103.6h1.6M165.3,107.4h1.6M165.6,110.5h1.6M164.9,114.4h1.6M165.3,116.2h1.6M165.3,120.4h1.6M164.9,132.1h1.6M166.8,73.2h1.6M166.8,74.8h1.6M167.2,90h1.6M167.5,95.7h1.6M167.2,101.7h1.6M167.2,107.4h1.6M167.5,110.5h1.6M167.2,113.1h1.6M167.2,118.8h1.6M167.5,122h1.6M167.2,131.4h1.6M166.8,160.6h1.6M168.8,76.7h1.6M169.1,80.2h1.6M168.8,82.8h1.6M169.1,97.6h1.6M169.4,108.7h1.6M169.4,110.9h1.6M168.8,112.8h1.6M168.8,114.7h1.6M169.1,120.4h1.6M169.1,122h1.6M168.8,124.2h1.6M169.4,128.3h1.6M169.4,131.8h1.6M171.3,84.3h1.6M170.7,101.4h1.6M171,107.4h1.6M170.7,111.2h1.6M170.7,115h1.6M170.7,116.9h1.6M170.7,120h1.6M170.7,122h1.6M170.7,124.5h1.6M170.7,132.1h1.6M171,137.5h1.6M171,177.7h1.6M172.6,78.6h1.6M172.9,84.6h1.6M173.2,87.8h1.6M172.6,101.7h1.6M173.2,109h1.6M173.2,114.4h1.6M173.2,116.6h1.6M172.9,118.5h1.6M173.2,120h1.6M172.9,128h1.6M172.6,129.5h1.6M173.2,132.1h1.6M172.6,141.3h1.6M173.2,145.1h1.6M173.2,160.3h1.6M173.2,171.7h1.6M174.4,78.9h1.6M175.1,82.1h1.6M174.4,84.6h1.6M174.8,89.7h1.6M174.4,95.7h1.6M174.4,99.5h1.6M174.8,113.1h1.6M175.1,120.4h1.6M174.8,124.2h1.6M175.1,129.5h1.6M174.8,131.8h1.6M174.4,135.9h1.6M175.1,147.3h1.6M174.4,156.5h1.6M175.1,158h1.6M175.1,162.5h1.6M174.8,163.8h1.6M174.4,175.5h1.6M177,91.9h1.6M177,101.4h1.6M176.7,104.9h1.6M176.3,132.1h1.6M176.7,133.7h1.6M177,152.3h1.6M176.3,175.1h1.6M178.9,88.4h1.6M178.6,90.3h1.6M178.9,99.5h1.6M178.9,101.7h1.6M178.6,106.8h1.6M178.6,129.9h1.6M178.9,135.2h1.6M178.6,137.8h1.6M178.2,146.6h1.6M178.2,156.8h1.6M178.9,158.4h1.6M178.6,160.6h1.6M178.9,182.7h1.6M180.5,114.4h1.6M180.5,129.9h1.6M180.2,145.4h1.6M180.8,156.1h1.6M180.8,177.7h1.6M182.7,88.1h1.6M182.4,120h1.6M182,150.4h1.6M182.4,160.6h1.6M182,162.5h1.6M182,175.5h1.6M184.6,74.8h1.6M183.9,87.8h1.6M184.6,91.5h1.6M184.3,114.7h1.6M184.6,125.8h1.6M184.3,129.9h1.6M184.3,137.1h1.6M184.6,162.5h1.6M184.6,165.6h1.6M185.8,137.5h1.6M186.2,162.2h1.6M188.4,127.7h1.6M188.4,179.6h1.6M194.1,154.6h1.6" stroke="#0000ff"/>
<path d="M36.1,202.1h1.6M38.4,196.7h1.6M38.4,208.1h1.6M39.9,196.4h1.6M40.2,198.3h1.6M40.2,205.5h1.6M39.5,209.7h1.6M39.9,213.1h1.6M42.1,194.1h1.6M41.8,196h1.6M41.8,209.7h1.6M44,194.1h1.6M43.7,208.1h1.6M44,211.9h1.6M45.9,185h1.6M45.9,186.9h1.6M45.2,188.8h1.6M45.2,209.3h1.6M47.1,185.3h1.6M47.9,210h1.6M49,180.8h1.6M49.4,183.4h1.6M49.8,213.5h1.6M51.3,181.2h1.6M50.9,183.4h1.6M53.5,182.7h1.6M54.7,177.7h1.6M55.1,202.1h1.6M55.1,209.7h1.6M57.4,173.2h1.6M56.6,177.4h1.6M57.4,179.3h1.6M57.4,180.8h1.6M57.4,205.5h1.6M57.4,208.1h1.6M58.5,198.3h1.6M58.9,204h1.6M60.8,180.8h1.6M60.4,190.3h1.6M60.4,204.3h1.6M62.3,173.2h1.6M62.7,177h1.6M62.3,178.9h1.6M62.3,181.5h1.6M62.7,183.1h1.6M63,202.1h1.6M64.9,167.9h1.6M64.6,173.6h1.6M64.6,177.4h1.6M64.2,183.1h1.6M64.2,188.8h1.6M66.5,171.3h1.6M66.5,177h1.6M66.5,192.9h1.6M68.7,180.8h1.6M68.4,192.6h1.6M70.3,185h1.6M72.5,180.8h1.6M72.2,189.1h1.6M74.1,188.4h1.6" stroke="#00b4a0"/>
<path d="M41.4,198.3h1.6M41.8,205.5h1.6M43.3,188.8h1.6M43.3,192.6h1.6M44,203.6h1.6M43.7,206.2h1.6M45.9,190.7h1.6M45.6,208.1h1.6M47.5,186.5h1.6M47.9,192.2h1.6M47.9,211.2h1.6M49.8,185h1.6M49.8,188.4h1.6M49.8,196.4h1.6M49.8,204h1.6M49.4,207.8h1.6M50.9,205.5h1.6M51.3,210h1.6M53.2,181.5h1.6M53.2,185.3h1.6M53.5,205.9h1.6M52.8,209.7h1.6M54.7,183.1h1.6M55.1,184.6h1.6M55.4,205.9h1.6M55.1,207.8h1.6M57,189.1h1.6M56.6,200.5h1.6M58.9,183.4h1.6M58.5,184.6h1.6M59.2,189.1h1.6M58.9,194.8h1.6M59.2,202.4h1.6M60.4,186.9h1.6M61.1,192.6h1.6M60.4,198.3h1.6M61.1,200.2h1.6M61.1,202.4h1.6M62.3,184.6h1.6M62.7,189.1h1.6M62.3,196h1.6M64.2,180.8h1.6M64.9,185h1.6M64.6,191h1.6M64.9,198.3h1.6M66.8,175.1h1.6M66.8,178.9h1.6M66.2,183.1h1.6M66.2,184.6h1.6M66.5,188.4h1.6M66.2,191h1.6M66.5,194.8h1.6M66.2,196.7h1.6M68.7,187.2h1.6M68,188.8h1.6" stroke="#10e010"/>
<path d="M42.1,200.5h1.6M42.1,202.4h1.6M41.4,204.3h1.6M43.3,198.3h1.6M45.6,202.1h1.6M45.2,203.6h1.6M45.2,205.9h1.6M47.1,189.1h1.6M47.9,191h1.6M47.9,194.5h1.6M47.9,198.6h1.6M47.9,207.4h1.6M49.8,186.5h1.6M49,192.2h1.6M49.4,201.7h1.6M49.4,205.5h1.6M50.9,196.4h1.6M51.3,202.4h1.6M51.6,204h1.6M53.2,187.2h1.6M53.2,196.4h1.6M52.8,203.6h1.6M54.7,186.5h1.6M55.4,190.7h1.6M54.7,198.3h1.6M54.7,200.5h1.6M55.1,204h1.6M57.4,182.7h1.6M56.6,187.2h1.6M57.4,194.5h1.6M57.4,204h1.6M58.9,186.5h1.6M59.2,191h1.6M58.5,192.2h1.6M60.4,183.1h1.6M61.1,185h1.6M61.1,188.8h1.6M62.7,190.3h1.6M62.7,192.2h1.6M64.6,179.3h1.6M64.6,192.2h1.6M64.9,194.1h1.6M66.5,186.9h1.6M68,183.1h1.6M68,184.6h1.6" stroke="#e0e800"/>
<path d="M43.7,196h1.6M43.3,202.4h1.6M45.9,194.8h1.6M45.2,198.3h1.6M45.6,199.8h1.6M47.9,205.9h1.6M49.4,194.1h1.6M49.8,199.8h1.6M50.9,186.9h1.6M51.6,192.9h1.6M53.5,201.7h1.6M55.1,188.4h1.6M55.4,196h1.6M57.4,196.4h1.6M57.4,198.3h1.6M56.6,202.1h1.6M58.9,196.4h1.6M60.8,194.1h1.6M61.1,196.4h1.6" stroke="#ff9000"/>
<path d="M47.1,196.7h1.6M47.5,200.5h1.6M47.5,202.1h1.6M47.5,203.6h1.6M49.8,191h1.6M49.4,197.9h1.6M51.3,188.8h1.6M51.6,190.3h1.6M51.6,194.8h1.6M51.3,198.3h1.6M51.3,200.5h1.6M53.2,189.1h1.6M52.8,191h1.6M52.8,192.2h1.6M53.5,194.5h1.6M53.5,198.3h1.6M53.2,200.5h1.6M55.1,192.2h1.6M54.7,194.1h1.6M56.6,191h1.6M57.4,192.9h1.6" stroke="#ff2000"/>
</g>
<path d="M800.7,1236.9h1.5M811.3,1236.9h1.9M821.5,1236.9h2.4M825.7,1236.9h1.8M839.3,1236.9h1.6M843.8,1236.9h1.6M853.5,1236.9h2.4M863.5,1236.9h2.1M927.5,1236.9h1.4M928.9,1236.9h1.4M930.3,1236.9h2.3M949.3,1236.9h1.4M957.3,1236.9h2.2M962.9,1236.9h2.3M965.1,1236.9h1.9M967.1,1236.9h2.3M1003.7,1236.9h1.5M1005.3,1236.9h1.8M1008.8,1236.9h2.3M1012.8,1236.9h1.8M1014.6,1236.9h2.2" stroke="#10c040" stroke-width="1.7" fill="none"/>
<path d="M802.2,1236.9h1.4M803.7,1236.9h2.3M807.5,1236.9h1.9M809.4,1236.9h1.8M813.2,1236.9h1.4M818,1236.9h2M820.1,1236.9h1.4M823.8,1236.9h1.9M827.5,1236.9h1.6M829.1,1236.9h1.2M830.3,1236.9h1.7M832,1236.9h2.2M834.2,1236.9h1.5M835.7,1236.9h1.7M837.4,1236.9h1.9M841,1236.9h1.2M842.2,1236.9h1.6M845.4,1236.9h1.7M847.1,1236.9h1.9M848.9,1236.9h1.3M850.2,1236.9h1.7M852,1236.9h1.5M855.9,1236.9h2.2M858,1236.9h1.4M859.5,1236.9h2.4M861.9,1236.9h1.6M952,1236.9h1.4M975.8,1236.9h1.8M1007,1236.9h1.7" stroke="#0000ff" stroke-width="1.7" fill="none"/>
<path d="M865.5,1236.9h2M867.6,1236.9h1.4M884.9,1236.9h2.4M887.3,1236.9h2.4M891.1,1236.9h1.4M896.2,1236.9h2.4M900.6,1236.9h2M908.1,1236.9h1.8M913.4,1236.9h1.5M922.8,1236.9h1.2M925.4,1236.9h2.1M936.7,1236.9h1.4M941.8,1236.9h2.3M950.6,1236.9h1.4M953.4,1236.9h2.3M961.3,1236.9h1.5M969.3,1236.9h1.4M970.7,1236.9h2.2M974.1,1236.9h1.6" stroke="#e0c000" stroke-width="1.7" fill="none"/>
<path d="M869,1236.9h2.3M871.2,1236.9h2.2M873.4,1236.9h2.3M879.5,1236.9h1.6M898.6,1236.9h2M902.6,1236.9h1.7M904.3,1236.9h1.9M920.7,1236.9h2.1M924,1236.9h1.4M932.5,1236.9h2.1M938.1,1236.9h1.3M939.4,1236.9h2.4M944,1236.9h1.5M945.6,1236.9h2M947.6,1236.9h1.7M955.7,1236.9h1.6M959.6,1236.9h1.8M972.9,1236.9h1.3M989.3,1236.9h2.3M991.6,1236.9h1.6M1000.4,1236.9h1.3" stroke="#ff9000" stroke-width="1.7" fill="none"/>
<path d="M875.7,1236.9h2.2M881.1,1236.9h1.7M882.8,1236.9h2.1M889.6,1236.9h1.5M892.6,1236.9h1.4M906.2,1236.9h1.9M909.9,1236.9h2.3M912.2,1236.9h1.2M916.8,1236.9h1.9M918.7,1236.9h2M977.6,1236.9h1.4M979,1236.9h2.3M981.3,1236.9h2.2M983.4,1236.9h2M985.4,1236.9h2.2M987.6,1236.9h1.7M993.2,1236.9h1.3M994.6,1236.9h1.8M996.4,1236.9h2.1M998.5,1236.9h1.9M1001.7,1236.9h2.1" stroke="#ff2000" stroke-width="1.7" fill="none"/>
<rect x="797.8" y="992.5" width="246.9" height="245.5" fill="none" stroke="#111" stroke-width="1.2"/>
<path d="M898.6,992.5L898.6,1238" stroke="#000" stroke-width="2.5" fill="none"/>
<path d="M797.8,1144.8L1044.7,1144.8" stroke="#000" stroke-width="1.6" fill="none"/>
<path d="M798.5,1238v7M844.9,1238v7M892,1238v7M938.4,1238v7M985.5,1238v7M1032.8,1238v7M797.8,1003h-7.4M797.8,1049.9h-7.4M797.8,1097.2h-7.4M797.8,1143.2h-7.4M797.8,1190.3h-7.4M797.8,1236.7h-7.4" stroke="#111" stroke-width="2.1" fill="none"/>
<path d="M812.5,1238v3M820.6,1238v3M826.4,1238v3M830.9,1238v4M834.6,1238v3M837.7,1238v3M840.4,1238v3M842.8,1238v3M859.1,1238v3M867.4,1238v3M873.3,1238v3M877.8,1238v4M881.6,1238v3M884.7,1238v3M887.4,1238v3M889.8,1238v3M906,1238v3M914.1,1238v3M919.9,1238v3M924.4,1238v4M928.1,1238v3M931.2,1238v3M933.9,1238v3M936.3,1238v3M952.6,1238v3M960.9,1238v3M966.8,1238v3M971.3,1238v4M975.1,1238v3M978.2,1238v3M980.9,1238v3M983.3,1238v3M999.7,1238v3M1008.1,1238v3M1014,1238v3M1018.6,1238v4M1022.3,1238v3M1025.5,1238v3M1028.2,1238v3M1030.6,1238v3M797.8,1035.8h-3M797.8,1027.5h-3M797.8,1021.7h-3M797.8,1017.1h-4M797.8,1013.4h-3M797.8,1010.3h-3M797.8,1007.5h-3M797.8,1005.1h-3M797.8,1083h-3M797.8,1074.6h-3M797.8,1068.7h-3M797.8,1064.1h-4M797.8,1060.4h-3M797.8,1057.2h-3M797.8,1054.5h-3M797.8,1052.1h-3M797.8,1129.4h-3M797.8,1121.3h-3M797.8,1115.5h-3M797.8,1111h-4M797.8,1107.4h-3M797.8,1104.3h-3M797.8,1101.7h-3M797.8,1099.3h-3M797.8,1176.1h-3M797.8,1167.8h-3M797.8,1161.9h-3M797.8,1157.4h-4M797.8,1153.6h-3M797.8,1150.5h-3M797.8,1147.8h-3M797.8,1145.4h-3M797.8,1222.7h-3M797.8,1214.6h-3M797.8,1208.8h-3M797.8,1204.3h-4M797.8,1200.6h-3M797.8,1197.5h-3M797.8,1194.8h-3M797.8,1192.4h-3" stroke="#333" stroke-width="1.1" fill="none"/>
<text x="802.1" y="1260" font-size="8.6" fill="#222" letter-spacing="0.7" stroke="#222" stroke-width="0.25">10<tspan dx="1.5" dy="-3.6" font-size="7.4">2</tspan></text>
<text x="843.9" y="1260" font-size="8.6" fill="#222" letter-spacing="0.7" stroke="#222" stroke-width="0.25">10<tspan dx="1.5" dy="-3.6" font-size="7.4">3</tspan></text>
<text x="891" y="1260" font-size="8.6" fill="#222" letter-spacing="0.7" stroke="#222" stroke-width="0.25">10<tspan dx="1.5" dy="-3.6" font-size="7.4">4</tspan></text>
<text x="937.4" y="1260" font-size="8.6" fill="#222" letter-spacing="0.7" stroke="#222" stroke-width="0.25">10<tspan dx="1.5" dy="-3.6" font-size="7.4">5</tspan></text>
<text x="984.5" y="1260" font-size="8.6" fill="#222" letter-spacing="0.7" stroke="#222" stroke-width="0.25">10<tspan dx="1.5" dy="-3.6" font-size="7.4">6</tspan></text>
<text x="1027.4" y="1260" font-size="8.6" fill="#222" letter-spacing="0.7" stroke="#222" stroke-width="0.25">10<tspan dx="1.5" dy="-3.6" font-size="7.4">7</tspan></text>
<text x="769.2" y="1006.8" font-size="8.6" fill="#222" letter-spacing="0.7" stroke="#222" stroke-width="0.25">10<tspan dx="1.5" dy="-3.6" font-size="7.4">7</tspan></text>
<text x="769.2" y="1053.7" font-size="8.6" fill="#222" letter-spacing="0.7" stroke="#222" stroke-width="0.25">10<tspan dx="1.5" dy="-3.6" font-size="7.4">6</tspan></text>
<text x="769.2" y="1101" font-size="8.6" fill="#222" letter-spacing="0.7" stroke="#222" stroke-width="0.25">10<tspan dx="1.5" dy="-3.6" font-size="7.4">5</tspan></text>
<text x="769.2" y="1147" font-size="8.6" fill="#222" letter-spacing="0.7" stroke="#222" stroke-width="0.25">10<tspan dx="1.5" dy="-3.6" font-size="7.4">4</tspan></text>
<text x="769.2" y="1194.1" font-size="8.6" fill="#222" letter-spacing="0.7" stroke="#222" stroke-width="0.25">10<tspan dx="1.5" dy="-3.6" font-size="7.4">3</tspan></text>
<text x="769.2" y="1240.5" font-size="8.6" fill="#222" letter-spacing="0.7" stroke="#222" stroke-width="0.25">10<tspan dx="1.5" dy="-3.6" font-size="7.4">2</tspan></text>
<text x="801.4" y="1010" font-size="10.2" fill="#222" letter-spacing="0.5" stroke="#222" stroke-width="0.2">Q5</text>
<text x="801.4" y="1023.2" font-size="10.2" fill="#222" letter-spacing="0.5" stroke="#222" stroke-width="0.2">4.32</text>
<text x="1022.7" y="1010" font-size="10.2" text-anchor="end" fill="#222" letter-spacing="0.5" stroke="#222" stroke-width="0.2">Q6</text>
<text x="1022.7" y="1023.2" font-size="10.2" text-anchor="end" fill="#222" letter-spacing="0.5" stroke="#222" stroke-width="0.2">12.0</text>
<text x="801.4" y="1213" font-size="10.2" fill="#222" letter-spacing="0.5" stroke="#222" stroke-width="0.2">Q8</text>
<text x="801.4" y="1226.2" font-size="10.2" fill="#222" letter-spacing="0.5" stroke="#222" stroke-width="0.2">74.0</text>
<text x="1022.7" y="1213" font-size="10.2" text-anchor="end" fill="#222" letter-spacing="0.5" stroke="#222" stroke-width="0.2">Q7</text>
<text x="1022.7" y="1226.2" font-size="10.2" text-anchor="end" fill="#222" letter-spacing="0.5" stroke="#222" stroke-width="0.2">9.69</text>
<text x="1261.2" y="962.6" font-size="37.8" font-weight="bold" textLength="26.3" lengthAdjust="spacingAndGlyphs">H</text>
<rect x="1385" y="1072.5" width="59.1" height="213.8" fill="#fff" stroke="#000" stroke-width="3"/>
<path d="M1509.3,1184.6L1509.3,1171M1493.3,1171L1525.3,1171" stroke="#000" stroke-width="2.2" fill="none"/>
<rect x="1480.2" y="1185.1" width="58.5" height="101.2" fill="#000" stroke="#000" stroke-width="3"/>
<path d="M1604.2,1108L1604.2,1101M1588.2,1101L1620.2,1101" stroke="#000" stroke-width="2.2" fill="none"/>
<rect x="1574.7" y="1108.5" width="58.6" height="177.8" fill="#ff2600" stroke="#000" stroke-width="3"/>
<path d="M1699.3,1131.1L1699.3,1121.1M1683.3,1121.1L1715.3,1121.1" stroke="#000" stroke-width="2.2" fill="none"/>
<rect x="1670.2" y="1131.6" width="58.2" height="154.7" fill="#a81a08" stroke="#000" stroke-width="3"/>
<path d="M1351.7,959.6L1351.7,1287.8" stroke="#000" stroke-width="3.1" fill="none"/>
<path d="M1340.4,1286.3L1762.4,1286.3" stroke="#000" stroke-width="3.1" fill="none"/>
<path d="M1340.4,961.1L1351.7,961.1" stroke="#000" stroke-width="2.8" fill="none"/>
<text x="1311.1" y="967.7" font-size="18.6" font-weight="bold" textLength="27.9" lengthAdjust="spacingAndGlyphs">150</text>
<path d="M1340.4,1069.5L1351.7,1069.5" stroke="#000" stroke-width="2.8" fill="none"/>
<text x="1311.1" y="1076.1" font-size="18.6" font-weight="bold" textLength="27.9" lengthAdjust="spacingAndGlyphs">100</text>
<path d="M1340.4,1177.9L1351.7,1177.9" stroke="#000" stroke-width="2.8" fill="none"/>
<text x="1320.3" y="1184.5" font-size="18.6" font-weight="bold" textLength="18.8" lengthAdjust="spacingAndGlyphs">50</text>
<text x="1329.3" y="1292.9" font-size="18.6" font-weight="bold" textLength="9.8" lengthAdjust="spacingAndGlyphs">0</text>
<path d="M1414.1,1286.3L1414.1,1296.8" stroke="#000" stroke-width="2.8" fill="none"/>
<path d="M1509.3,1286.3L1509.3,1296.8" stroke="#000" stroke-width="2.8" fill="none"/>
<path d="M1604.2,1286.3L1604.2,1296.8" stroke="#000" stroke-width="2.8" fill="none"/>
<path d="M1699.3,1286.3L1699.3,1296.8" stroke="#000" stroke-width="2.8" fill="none"/>
<text x="1391.3" y="1313.5" font-size="18.4" font-weight="bold" textLength="44.5" lengthAdjust="spacingAndGlyphs">blank</text>
<text x="1492.5" y="1313.5" font-size="18.4" font-weight="bold" textLength="33" lengthAdjust="spacingAndGlyphs">ribo</text>
<text x="1568.9" y="1313.5" font-size="18.4" font-weight="bold" textLength="70.5" lengthAdjust="spacingAndGlyphs">oCNT-pb</text>
<text x="1664" y="1313.5" font-size="18.4" font-weight="bold" textLength="70.5" lengthAdjust="spacingAndGlyphs">oCNT-pb</text>
<text x="1314.8" y="1350.2" font-size="19.6" textLength="30" lengthAdjust="spacingAndGlyphs">N/P</text>
<text x="1414.1" y="1350.2" font-size="18.4" text-anchor="middle">-</text>
<text x="1509.3" y="1350.2" font-size="18.4" text-anchor="middle">-</text>
<text x="1604.2" y="1350.2" font-size="18.4" font-weight="bold" text-anchor="middle">2</text>
<text x="1699.3" y="1350.2" font-size="18.4" font-weight="bold" text-anchor="middle">5</text>
<text x="1282.6" y="1124.8" font-size="18" font-weight="bold" text-anchor="middle" textLength="115.6" lengthAdjust="spacingAndGlyphs" transform="rotate(-90 1282.6 1124.8)">Percentage of</text>
<text x="1304.2" y="1124.8" font-size="18" font-weight="bold" text-anchor="middle" textLength="202.6" lengthAdjust="spacingAndGlyphs" transform="rotate(-90 1304.2 1124.8)">AnnexinV- / PI- Cells (%)</text>
<path d="M1511,1091.1L1511,1079.1L1604.2,1079.1L1604.2,1091.1" stroke="#000" stroke-width="2.3" fill="none"/>
<text x="1557.4" y="1081" font-size="34" font-weight="bold" text-anchor="middle" textLength="39" lengthAdjust="spacingAndGlyphs">***</text>
<path d="M1511.6,1019L1511.6,1004L1700.6,1004L1700.6,1019" stroke="#000" stroke-width="2.3" fill="none"/>
<text x="1605.8" y="1005.6" font-size="34" font-weight="bold" text-anchor="middle" textLength="26" lengthAdjust="spacingAndGlyphs">**</text>
<path d="M1603.8,1051.5L1603.8,1039.2L1697,1039.2L1697,1051.5" stroke="#000" stroke-width="2.3" fill="none"/>
<text x="1650.4" y="1040.4" font-size="34" font-weight="bold" text-anchor="middle" textLength="26" lengthAdjust="spacingAndGlyphs">**</text>
<text x="4.7" y="1418.6" font-size="37.8" font-weight="bold" textLength="9.6" lengthAdjust="spacingAndGlyphs">I</text>
<text x="253.8" y="1391.2" font-size="22.2" text-anchor="middle" textLength="46.6" lengthAdjust="spacingAndGlyphs" stroke="#000" stroke-width="0.7">Ribo</text>
<text x="766" y="1391.6" font-size="22.2" text-anchor="middle" textLength="96.2" lengthAdjust="spacingAndGlyphs" stroke="#000" stroke-width="0.7">oCNT-pb</text>
<path d="M442.8,1417.3L1062.4,1417.3" stroke="#000" stroke-width="2.9" fill="none"/>
<path d="M442.8,1701.2L1062.4,1701.2" stroke="#000" stroke-width="2.9" fill="none"/>
<text x="597.8" y="1736" font-size="23.4" text-anchor="middle" textLength="66.4" lengthAdjust="spacingAndGlyphs" stroke="#000" stroke-width="0.7">N/P=2</text>
<text x="951.6" y="1736" font-size="23.4" text-anchor="middle" textLength="67" lengthAdjust="spacingAndGlyphs" stroke="#000" stroke-width="0.7">N/P=5</text>
<path d="M154.3,1662.5L156.3,1661.9L159.3,1659.4L162.4,1651.4L165.4,1631.3L167.4,1591.1L169.4,1550.9L171.4,1510.7L173.4,1482.6L175.4,1466.5L176.8,1464.1L178.4,1468.5L180.5,1486.6L182.5,1510.7L184.5,1530.8L186.1,1540.9L187.5,1561L189.5,1581.1L192.5,1591.1L195.5,1603.2L197.5,1608.2L200.2,1607.2L203.6,1615.2L208.6,1622.3L211.6,1623.7L215.6,1629.3L220.7,1635.3L224.3,1629.7L227.7,1633.3L230.7,1636.3L234.7,1642.4L239.7,1646.4L244.8,1649L249.8,1653.4L254.8,1654.4L260.9,1657L265.9,1658.8L269.9,1657.4L274.9,1659.4L283,1658.8L289,1660.9L301.1,1661.5L306.1,1662.5L306.1,1662.5L154.3,1662.5Z" fill="#999" stroke="none"/>
<path d="M154.3,1662.5L156.3,1661.9L159.3,1659.4L162.4,1651.4L165.4,1631.3L167.4,1591.1L169.4,1550.9L171.4,1510.7L173.4,1482.6L175.4,1466.5L176.8,1464.1L178.4,1468.5L180.5,1486.6L182.5,1510.7L184.5,1530.8L186.1,1540.9L187.5,1561L189.5,1581.1L192.5,1591.1L195.5,1603.2L197.5,1608.2L200.2,1607.2L203.6,1615.2L208.6,1622.3L211.6,1623.7L215.6,1629.3L220.7,1635.3L224.3,1629.7L227.7,1633.3L230.7,1636.3L234.7,1642.4L239.7,1646.4L244.8,1649L249.8,1653.4L254.8,1654.4L260.9,1657L265.9,1658.8L269.9,1657.4L274.9,1659.4L283,1658.8L289,1660.9L301.1,1661.5L306.1,1662.5" stroke="#000" stroke-width="1.6" fill="none" stroke-linejoin="round"/>
<path d="M132.2,1436.7L358.3,1436.7" fill="none" stroke="#7a7a7a" stroke-width="1.3"/>
<path d="M358.3,1436.7L358.3,1662.5" fill="none" stroke="#111" stroke-width="1.5"/>
<path d="M132.2,1436.7L132.2,1662.5L358.3,1662.5" fill="none" stroke="#000" stroke-width="1.9"/>
<path d="M132.2,1662.5v7M174.8,1662.5v7M218,1662.5v7M260.9,1662.5v7M303.7,1662.5v7M346.3,1662.5v7M132.2,1487.2h-6M132.2,1545.5h-6M132.2,1603.6h-6M132.2,1661.5h-6" stroke="#111" stroke-width="1.9" fill="none"/>
<path d="M145,1662.5v3M152.5,1662.5v3M157.8,1662.5v3M162,1662.5v4M165.3,1662.5v3M168.2,1662.5v3M170.7,1662.5v3M172.9,1662.5v3M187.8,1662.5v3M195.4,1662.5v3M200.8,1662.5v3M205,1662.5v4M208.4,1662.5v3M211.3,1662.5v3M213.8,1662.5v3M216,1662.5v3M230.9,1662.5v3M238.5,1662.5v3M243.8,1662.5v3M248,1662.5v4M251.4,1662.5v3M254.3,1662.5v3M256.7,1662.5v3M258.9,1662.5v3M273.8,1662.5v3M281.3,1662.5v3M286.7,1662.5v3M290.8,1662.5v4M294.2,1662.5v3M297.1,1662.5v3M299.6,1662.5v3M301.7,1662.5v3M316.5,1662.5v3M324,1662.5v3M329.3,1662.5v3M333.5,1662.5v4M336.8,1662.5v3M339.7,1662.5v3M342.2,1662.5v3M344.4,1662.5v3M132.2,1649.8h-2.6M132.2,1638.2h-2.6M132.2,1626.5h-2.6M132.2,1614.9h-2.6M132.2,1591.5h-2.6M132.2,1579.9h-2.6M132.2,1568.2h-2.6M132.2,1556.6h-2.6M132.2,1533.2h-2.6M132.2,1521.6h-2.6M132.2,1509.9h-2.6M132.2,1498.3h-2.6M132.2,1474.9h-2.6M132.2,1463.3h-2.6M132.2,1451.6h-2.6M132.2,1440h-2.6" stroke="#333" stroke-width="1" fill="none"/>
<text x="135.8" y="1682.9" font-size="8.6" fill="#222" letter-spacing="0.7" stroke="#222" stroke-width="0.25">10<tspan dx="1.5" dy="-3.6" font-size="7.4">2</tspan></text>
<text x="173.8" y="1682.9" font-size="8.6" fill="#222" letter-spacing="0.7" stroke="#222" stroke-width="0.25">10<tspan dx="1.5" dy="-3.6" font-size="7.4">3</tspan></text>
<text x="217" y="1682.9" font-size="8.6" fill="#222" letter-spacing="0.7" stroke="#222" stroke-width="0.25">10<tspan dx="1.5" dy="-3.6" font-size="7.4">4</tspan></text>
<text x="259.9" y="1682.9" font-size="8.6" fill="#222" letter-spacing="0.7" stroke="#222" stroke-width="0.25">10<tspan dx="1.5" dy="-3.6" font-size="7.4">5</tspan></text>
<text x="302.7" y="1682.9" font-size="8.6" fill="#222" letter-spacing="0.7" stroke="#222" stroke-width="0.25">10<tspan dx="1.5" dy="-3.6" font-size="7.4">6</tspan></text>
<text x="340.9" y="1682.9" font-size="8.6" fill="#222" letter-spacing="0.7" stroke="#222" stroke-width="0.25">10<tspan dx="1.5" dy="-3.6" font-size="7.4">7</tspan></text>
<text x="121.8" y="1490.4" font-size="8.2" text-anchor="end" fill="#444" letter-spacing="0.6">150</text>
<text x="121.8" y="1548.7" font-size="8.2" text-anchor="end" fill="#444" letter-spacing="0.6">100</text>
<text x="121.8" y="1606.8" font-size="8.2" text-anchor="end" fill="#444" letter-spacing="0.6">50</text>
<text x="121.8" y="1664.7" font-size="8.2" text-anchor="end" fill="#444" letter-spacing="0.6">0</text>
<path d="M205.6,1553.3L292.6,1553.3M205.6,1548.9v8.8M292.6,1548.9v8.8" fill="none" stroke="#111" stroke-width="1.7"/>
<text x="249.4" y="1529.3" font-size="9.4" text-anchor="middle" fill="#222" textLength="68" lengthAdjust="spacingAndGlyphs" stroke="#222" stroke-width="0.2">FITC-H subset</text>
<text x="249.4" y="1541.1" font-size="9.4" text-anchor="middle" fill="#333" letter-spacing="0.6">23.8</text>
<path d="M503.9,1662.8L506.1,1662.2L509.2,1660.1L512.4,1650.5L515.6,1625L518.8,1582.5L521.6,1529.4L523.7,1489L525.2,1465.6L526.7,1480.5L529.4,1508.1L532.6,1550.6L535.8,1593.1L539,1625L543.2,1642L547.5,1650.5L551.7,1653.7L558.1,1657.9L564.5,1661.1L573,1662.8L573,1662.8L503.9,1662.8Z" fill="#999" stroke="none"/>
<path d="M503.9,1662.8L506.1,1662.2L509.2,1660.1L512.4,1650.5L515.6,1625L518.8,1582.5L521.6,1529.4L523.7,1489L525.2,1465.6L526.7,1480.5L529.4,1508.1L532.6,1550.6L535.8,1593.1L539,1625L543.2,1642L547.5,1650.5L551.7,1653.7L558.1,1657.9L564.5,1661.1L573,1662.8" stroke="#000" stroke-width="1.6" fill="none" stroke-linejoin="round"/>
<path d="M482.7,1436.9L708.6,1436.9" fill="none" stroke="#7a7a7a" stroke-width="1.3"/>
<path d="M708.6,1436.9L708.6,1662.8" fill="none" stroke="#8a8a8a" stroke-width="1.5"/>
<path d="M482.7,1436.9L482.7,1662.8L708.6,1662.8" fill="none" stroke="#000" stroke-width="1.9"/>
<path d="M482.7,1662.8v7M525.2,1662.8v7M568.7,1662.8v7M611.2,1662.8v7M654.2,1662.8v7M697.3,1662.8v7M482.7,1440.8h-6M482.7,1496.4h-6M482.7,1551.7h-6M482.7,1606.3h-6M482.7,1661.8h-6" stroke="#111" stroke-width="1.9" fill="none"/>
<path d="M495.5,1662.8v3M503,1662.8v3M508.3,1662.8v3M512.4,1662.8v4M515.8,1662.8v3M518.6,1662.8v3M521.1,1662.8v3M523.3,1662.8v3M538.3,1662.8v3M546,1662.8v3M551.4,1662.8v3M555.6,1662.8v4M559,1662.8v3M562,1662.8v3M564.5,1662.8v3M566.7,1662.8v3M581.5,1662.8v3M589,1662.8v3M594.3,1662.8v3M598.4,1662.8v4M601.8,1662.8v3M604.6,1662.8v3M607.1,1662.8v3M609.3,1662.8v3M624.1,1662.8v3M631.7,1662.8v3M637.1,1662.8v3M641.3,1662.8v4M644.7,1662.8v3M647.5,1662.8v3M650,1662.8v3M652.2,1662.8v3M667.2,1662.8v3M674.8,1662.8v3M680.1,1662.8v3M684.3,1662.8v4M687.7,1662.8v3M690.6,1662.8v3M693.1,1662.8v3M695.3,1662.8v3M482.7,1650.7h-2.6M482.7,1639.6h-2.6M482.7,1628.4h-2.6M482.7,1617.3h-2.6M482.7,1595.1h-2.6M482.7,1584h-2.6M482.7,1572.8h-2.6M482.7,1561.7h-2.6M482.7,1539.5h-2.6M482.7,1528.4h-2.6M482.7,1517.2h-2.6M482.7,1506.1h-2.6M482.7,1483.9h-2.6M482.7,1472.8h-2.6M482.7,1461.6h-2.6M482.7,1450.5h-2.6" stroke="#333" stroke-width="1" fill="none"/>
<text x="486.3" y="1683.2" font-size="8.6" fill="#222" letter-spacing="0.7" stroke="#222" stroke-width="0.25">10<tspan dx="1.5" dy="-3.6" font-size="7.4">2</tspan></text>
<text x="524.2" y="1683.2" font-size="8.6" fill="#222" letter-spacing="0.7" stroke="#222" stroke-width="0.25">10<tspan dx="1.5" dy="-3.6" font-size="7.4">3</tspan></text>
<text x="567.7" y="1683.2" font-size="8.6" fill="#222" letter-spacing="0.7" stroke="#222" stroke-width="0.25">10<tspan dx="1.5" dy="-3.6" font-size="7.4">4</tspan></text>
<text x="610.2" y="1683.2" font-size="8.6" fill="#222" letter-spacing="0.7" stroke="#222" stroke-width="0.25">10<tspan dx="1.5" dy="-3.6" font-size="7.4">5</tspan></text>
<text x="653.2" y="1683.2" font-size="8.6" fill="#222" letter-spacing="0.7" stroke="#222" stroke-width="0.25">10<tspan dx="1.5" dy="-3.6" font-size="7.4">6</tspan></text>
<text x="691.9" y="1683.2" font-size="8.6" fill="#222" letter-spacing="0.7" stroke="#222" stroke-width="0.25">10<tspan dx="1.5" dy="-3.6" font-size="7.4">7</tspan></text>
<text x="472.3" y="1444" font-size="8.2" text-anchor="end" fill="#444" letter-spacing="0.6">400</text>
<text x="472.3" y="1499.6" font-size="8.2" text-anchor="end" fill="#444" letter-spacing="0.6">300</text>
<text x="472.3" y="1554.9" font-size="8.2" text-anchor="end" fill="#444" letter-spacing="0.6">200</text>
<text x="472.3" y="1609.5" font-size="8.2" text-anchor="end" fill="#444" letter-spacing="0.6">100</text>
<text x="472.3" y="1665" font-size="8.2" text-anchor="end" fill="#444" letter-spacing="0.6">0</text>
<path d="M556.4,1553.2L643.1,1553.2M556.4,1548.8v8.8M643.1,1548.8v8.8" fill="none" stroke="#111" stroke-width="1.7"/>
<text x="600" y="1529.2" font-size="9.4" text-anchor="middle" fill="#222" textLength="68" lengthAdjust="spacingAndGlyphs" stroke="#222" stroke-width="0.2">FITC-H subset</text>
<text x="600" y="1541" font-size="9.4" text-anchor="middle" fill="#333" letter-spacing="0.6">1.53</text>
<path d="M857.3,1662.8L859.4,1662.2L863.7,1656.9L866.9,1642L870.1,1614.4L873.2,1578.2L876.4,1540L878.6,1514.5L880.7,1506L882.8,1503.9L884.9,1485.8L887.1,1501.7L889.2,1519.8L891.9,1517.7L894.5,1531.5L896.6,1540L901.3,1541.1L903.4,1550.6L906.2,1557L908.9,1561.2L912.6,1559.1L915.3,1565.5L917.9,1578.2L921.1,1591L924.2,1605.9L926.4,1612.2L929.6,1620.7L932.7,1633.5L935.9,1642L941.2,1648.4L945.5,1655.8L949.7,1661.1L959.3,1662.8L959.3,1662.8L857.3,1662.8Z" fill="#999" stroke="none"/>
<path d="M857.3,1662.8L859.4,1662.2L863.7,1656.9L866.9,1642L870.1,1614.4L873.2,1578.2L876.4,1540L878.6,1514.5L880.7,1506L882.8,1503.9L884.9,1485.8L887.1,1501.7L889.2,1519.8L891.9,1517.7L894.5,1531.5L896.6,1540L901.3,1541.1L903.4,1550.6L906.2,1557L908.9,1561.2L912.6,1559.1L915.3,1565.5L917.9,1578.2L921.1,1591L924.2,1605.9L926.4,1612.2L929.6,1620.7L932.7,1633.5L935.9,1642L941.2,1648.4L945.5,1655.8L949.7,1661.1L959.3,1662.8" stroke="#000" stroke-width="1.6" fill="none" stroke-linejoin="round"/>
<path d="M833.3,1436.9L1059.2,1436.9" fill="none" stroke="#7a7a7a" stroke-width="1.3"/>
<path d="M1059.2,1436.9L1059.2,1662.8" fill="none" stroke="#8a8a8a" stroke-width="1.5"/>
<path d="M833.3,1436.9L833.3,1662.8L1059.2,1662.8" fill="none" stroke="#000" stroke-width="1.9"/>
<path d="M833.3,1662.8v7M875.8,1662.8v7M919.4,1662.8v7M961.4,1662.8v7M1005,1662.8v7M1047.9,1662.8v7M833.3,1480.9h-6M833.3,1526.2h-6M833.3,1571.2h-6M833.3,1616.9h-6M833.3,1661.8h-6" stroke="#111" stroke-width="1.9" fill="none"/>
<path d="M846.1,1662.8v3M853.6,1662.8v3M858.9,1662.8v3M863,1662.8v4M866.4,1662.8v3M869.2,1662.8v3M871.7,1662.8v3M873.9,1662.8v3M888.9,1662.8v3M896.6,1662.8v3M902,1662.8v3M906.3,1662.8v4M909.7,1662.8v3M912.6,1662.8v3M915.2,1662.8v3M917.4,1662.8v3M932,1662.8v3M939.4,1662.8v3M944.7,1662.8v3M948.8,1662.8v4M952.1,1662.8v3M954.9,1662.8v3M957.3,1662.8v3M959.5,1662.8v3M974.5,1662.8v3M982.2,1662.8v3M987.6,1662.8v3M991.9,1662.8v4M995.3,1662.8v3M998.2,1662.8v3M1000.8,1662.8v3M1003,1662.8v3M1017.9,1662.8v3M1025.5,1662.8v3M1030.8,1662.8v3M1035,1662.8v4M1038.4,1662.8v3M1041.3,1662.8v3M1043.7,1662.8v3M1045.9,1662.8v3M833.3,1652.7h-2.6M833.3,1643.7h-2.6M833.3,1634.6h-2.6M833.3,1625.6h-2.6M833.3,1607.4h-2.6M833.3,1598.4h-2.6M833.3,1589.3h-2.6M833.3,1580.3h-2.6M833.3,1562.1h-2.6M833.3,1553.1h-2.6M833.3,1544h-2.6M833.3,1535h-2.6M833.3,1516.8h-2.6M833.3,1507.8h-2.6M833.3,1498.7h-2.6M833.3,1489.7h-2.6M833.3,1471.5h-2.6M833.3,1462.5h-2.6M833.3,1453.4h-2.6M833.3,1444.4h-2.6" stroke="#333" stroke-width="1" fill="none"/>
<text x="836.9" y="1683.2" font-size="8.6" fill="#222" letter-spacing="0.7" stroke="#222" stroke-width="0.25">10<tspan dx="1.5" dy="-3.6" font-size="7.4">2</tspan></text>
<text x="874.8" y="1683.2" font-size="8.6" fill="#222" letter-spacing="0.7" stroke="#222" stroke-width="0.25">10<tspan dx="1.5" dy="-3.6" font-size="7.4">3</tspan></text>
<text x="918.4" y="1683.2" font-size="8.6" fill="#222" letter-spacing="0.7" stroke="#222" stroke-width="0.25">10<tspan dx="1.5" dy="-3.6" font-size="7.4">4</tspan></text>
<text x="960.4" y="1683.2" font-size="8.6" fill="#222" letter-spacing="0.7" stroke="#222" stroke-width="0.25">10<tspan dx="1.5" dy="-3.6" font-size="7.4">5</tspan></text>
<text x="1004" y="1683.2" font-size="8.6" fill="#222" letter-spacing="0.7" stroke="#222" stroke-width="0.25">10<tspan dx="1.5" dy="-3.6" font-size="7.4">6</tspan></text>
<text x="1042.5" y="1683.2" font-size="8.6" fill="#222" letter-spacing="0.7" stroke="#222" stroke-width="0.25">10<tspan dx="1.5" dy="-3.6" font-size="7.4">7</tspan></text>
<text x="822.9" y="1484.1" font-size="8.2" text-anchor="end" fill="#444" letter-spacing="0.6">120</text>
<text x="822.9" y="1529.4" font-size="8.2" text-anchor="end" fill="#444" letter-spacing="0.6">90</text>
<text x="822.9" y="1574.4" font-size="8.2" text-anchor="end" fill="#444" letter-spacing="0.6">60</text>
<text x="822.9" y="1620.1" font-size="8.2" text-anchor="end" fill="#444" letter-spacing="0.6">30</text>
<text x="822.9" y="1665" font-size="8.2" text-anchor="end" fill="#444" letter-spacing="0.6">0</text>
<path d="M906.6,1553.2L993.3,1553.2M906.6,1548.8v8.8M993.3,1548.8v8.8" fill="none" stroke="#111" stroke-width="1.7"/>
<text x="950.4" y="1529.2" font-size="9.4" text-anchor="middle" fill="#222" textLength="68" lengthAdjust="spacingAndGlyphs" stroke="#222" stroke-width="0.2">FITC-H subset</text>
<text x="950.4" y="1541" font-size="9.4" text-anchor="middle" fill="#333" letter-spacing="0.6">30.4</text>
<text x="1202.5" y="1418.8" font-size="37.8" font-weight="bold" textLength="20.1" lengthAdjust="spacingAndGlyphs">J</text>
<rect x="1330.8" y="1647.8" width="51.5" height="7.9" fill="#fff" stroke="#000" stroke-width="3"/>
<path d="M1440.6,1515.7L1440.6,1507.3M1426.6,1507.3L1454.6,1507.3" stroke="#000" stroke-width="1.7" fill="none"/>
<rect x="1414.4" y="1516.2" width="52.1" height="139.5" fill="#000" stroke="#000" stroke-width="3"/>
<path d="M1524.8,1648.3L1524.8,1644.6M1510.8,1644.6L1538.8,1644.6" stroke="#000" stroke-width="1.2" fill="none"/>
<rect x="1498.9" y="1648.8" width="52.1" height="6.9" fill="#ff2600" stroke="#000" stroke-width="3"/>
<path d="M1609.3,1486.3L1609.3,1474.2M1595.3,1474.2L1623.3,1474.2" stroke="#000" stroke-width="1.7" fill="none"/>
<rect x="1583.1" y="1486.8" width="52.1" height="168.9" fill="#7a0f08" stroke="#000" stroke-width="3"/>
<path d="M1300.3,1416.4L1300.3,1657.2" stroke="#000" stroke-width="3.1" fill="none"/>
<path d="M1287.6,1655.7L1665.1,1655.7" stroke="#000" stroke-width="3.1" fill="none"/>
<path d="M1287.6,1417.8L1300.3,1417.8" stroke="#000" stroke-width="3" fill="none"/>
<text x="1266.9" y="1424.7" font-size="19.2" font-weight="bold" textLength="20.6" lengthAdjust="spacingAndGlyphs">40</text>
<path d="M1287.6,1477.3L1300.3,1477.3" stroke="#000" stroke-width="3" fill="none"/>
<text x="1266.8" y="1484.2" font-size="19.2" font-weight="bold" textLength="20.8" lengthAdjust="spacingAndGlyphs">30</text>
<path d="M1287.6,1536.8L1300.3,1536.8" stroke="#000" stroke-width="3" fill="none"/>
<text x="1266.5" y="1543.7" font-size="19.2" font-weight="bold" textLength="21" lengthAdjust="spacingAndGlyphs">20</text>
<path d="M1287.6,1596.2L1300.3,1596.2" stroke="#000" stroke-width="3" fill="none"/>
<text x="1266" y="1603.1" font-size="19.2" font-weight="bold" textLength="21.6" lengthAdjust="spacingAndGlyphs">10</text>
<text x="1276.6" y="1662.6" font-size="19.2" font-weight="bold" textLength="11" lengthAdjust="spacingAndGlyphs">0</text>
<path d="M1356.4,1655.7L1356.4,1666.7" stroke="#000" stroke-width="2.8" fill="none"/>
<path d="M1440.6,1655.7L1440.6,1666.7" stroke="#000" stroke-width="2.8" fill="none"/>
<path d="M1524.8,1655.7L1524.8,1666.7" stroke="#000" stroke-width="2.8" fill="none"/>
<path d="M1609.3,1655.7L1609.3,1666.7" stroke="#000" stroke-width="2.8" fill="none"/>
<text x="1356.4" y="1684.8" font-size="18.6" font-weight="bold" text-anchor="middle" textLength="46.6" lengthAdjust="spacingAndGlyphs">blank</text>
<text x="1440.6" y="1684.8" font-size="18.6" font-weight="bold" text-anchor="middle" textLength="33.6" lengthAdjust="spacingAndGlyphs">ribo</text>
<text x="1524.8" y="1684.8" font-size="18.6" font-weight="bold" text-anchor="middle" textLength="75" lengthAdjust="spacingAndGlyphs">oCNT-pb</text>
<text x="1609.3" y="1684.8" font-size="18.6" font-weight="bold" text-anchor="middle" textLength="75" lengthAdjust="spacingAndGlyphs">oCNT-pb</text>
<text x="1261" y="1724.3" font-size="20" textLength="31.4" lengthAdjust="spacingAndGlyphs">N/P</text>
<text x="1356.4" y="1724.3" font-size="18" font-weight="bold" text-anchor="middle">-</text>
<text x="1440.6" y="1724.3" font-size="18" font-weight="bold" text-anchor="middle">-</text>
<text x="1524.8" y="1724.3" font-size="18" font-weight="bold" text-anchor="middle">2</text>
<text x="1609.3" y="1724.3" font-size="18" font-weight="bold" text-anchor="middle">5</text>
<text x="1225.4" y="1537.4" font-size="20" font-weight="bold" text-anchor="middle" textLength="126.4" lengthAdjust="spacingAndGlyphs" transform="rotate(-90 1225.4 1537.4)">Percentage of</text>
<text x="1248.8" y="1536.8" font-size="20" font-weight="bold" text-anchor="middle" textLength="139.8" lengthAdjust="spacingAndGlyphs" transform="rotate(-90 1248.8 1536.8)">FITC+ Cells (%)</text>
<path d="M1440.6,1437.8L1440.6,1424.5L1612,1424.5L1612,1437.8" stroke="#000" stroke-width="2.3" fill="none"/>
<text x="1526.2" y="1428.6" font-size="38" font-weight="bold" text-anchor="middle">*</text>
<path d="M1440.6,1497L1440.6,1484.6L1525.8,1484.6L1525.8,1497" stroke="#000" stroke-width="2.3" fill="none"/>
<text x="1483.4" y="1489" font-size="37" font-weight="bold" text-anchor="middle" textLength="56" lengthAdjust="spacingAndGlyphs">****</text>
</svg>
</body>
</html>
